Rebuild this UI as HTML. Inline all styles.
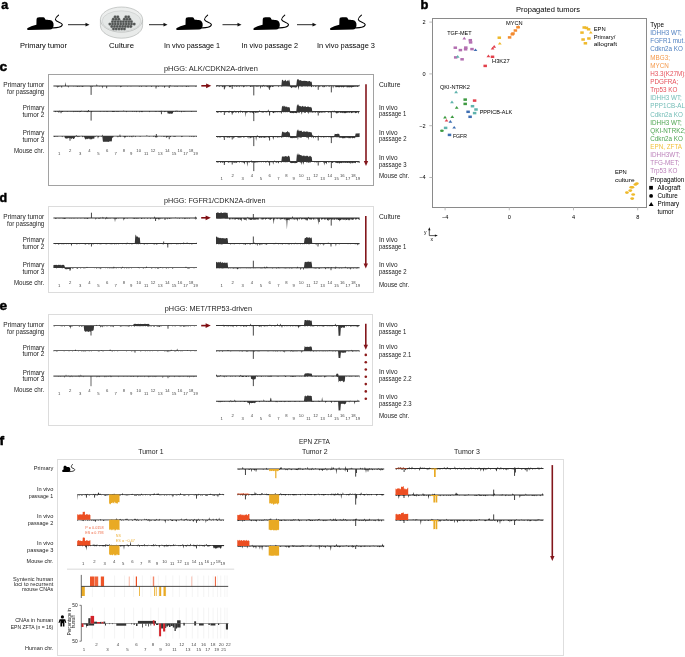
<!DOCTYPE html>
<html><head><meta charset="utf-8"><style>
html,body{margin:0;padding:0;background:#fff;width:685px;height:657px;overflow:hidden}
svg{display:block;will-change:transform}
text{font-family:"Liberation Sans",sans-serif}
</style></head><body>
<svg width="685" height="657" viewBox="0 0 685 657" font-family="Liberation Sans, sans-serif">
<rect width="685" height="657" fill="#fff"/>
<text x="1.20" y="8.90" font-size="12.0" fill="#000" textLength="7.00" lengthAdjust="spacingAndGlyphs" font-weight="bold" stroke="#000" stroke-width="0.45">a</text>
<g transform="translate(26.7,15) scale(1.0)"><path d="M0.4,14.2 C0.2,12.8 5,11 9.7,9.8 L9.8,5 C9.8,2.9 10.6,2.2 12.6,2.2 L16.5,2.3 C18.0,2.4 18.2,3.4 18.6,4.6 C19.5,5.0 21.5,5.0 23.0,5.1 C25.8,5.4 27.1,7.6 26.9,10.2 C26.7,12.8 25.4,14.5 23.2,14.6 L1.8,14.9 C0.9,14.9 0.5,14.7 0.4,14.2Z" fill="#000"/><path d="M25,12.8 C30,13 35.6,12.4 35.6,9.6 C35.6,7.2 29.2,7.2 28.7,4.6 C28.5,2.6 30.5,1.2 31.8,0.2" fill="none" stroke="#000" stroke-width="1.1" stroke-linecap="round"/></g>
<g transform="translate(175.8,15) scale(1.0)"><path d="M0.4,14.2 C0.2,12.8 5,11 9.7,9.8 L9.8,5 C9.8,2.9 10.6,2.2 12.6,2.2 L16.5,2.3 C18.0,2.4 18.2,3.4 18.6,4.6 C19.5,5.0 21.5,5.0 23.0,5.1 C25.8,5.4 27.1,7.6 26.9,10.2 C26.7,12.8 25.4,14.5 23.2,14.6 L1.8,14.9 C0.9,14.9 0.5,14.7 0.4,14.2Z" fill="#000"/><path d="M25,12.8 C30,13 35.6,12.4 35.6,9.6 C35.6,7.2 29.2,7.2 28.7,4.6 C28.5,2.6 30.5,1.2 31.8,0.2" fill="none" stroke="#000" stroke-width="1.1" stroke-linecap="round"/></g>
<g transform="translate(252.9,15) scale(1.0)"><path d="M0.4,14.2 C0.2,12.8 5,11 9.7,9.8 L9.8,5 C9.8,2.9 10.6,2.2 12.6,2.2 L16.5,2.3 C18.0,2.4 18.2,3.4 18.6,4.6 C19.5,5.0 21.5,5.0 23.0,5.1 C25.8,5.4 27.1,7.6 26.9,10.2 C26.7,12.8 25.4,14.5 23.2,14.6 L1.8,14.9 C0.9,14.9 0.5,14.7 0.4,14.2Z" fill="#000"/><path d="M25,12.8 C30,13 35.6,12.4 35.6,9.6 C35.6,7.2 29.2,7.2 28.7,4.6 C28.5,2.6 30.5,1.2 31.8,0.2" fill="none" stroke="#000" stroke-width="1.1" stroke-linecap="round"/></g>
<g transform="translate(329.6,15) scale(1.0)"><path d="M0.4,14.2 C0.2,12.8 5,11 9.7,9.8 L9.8,5 C9.8,2.9 10.6,2.2 12.6,2.2 L16.5,2.3 C18.0,2.4 18.2,3.4 18.6,4.6 C19.5,5.0 21.5,5.0 23.0,5.1 C25.8,5.4 27.1,7.6 26.9,10.2 C26.7,12.8 25.4,14.5 23.2,14.6 L1.8,14.9 C0.9,14.9 0.5,14.7 0.4,14.2Z" fill="#000"/><path d="M25,12.8 C30,13 35.6,12.4 35.6,9.6 C35.6,7.2 29.2,7.2 28.7,4.6 C28.5,2.6 30.5,1.2 31.8,0.2" fill="none" stroke="#000" stroke-width="1.1" stroke-linecap="round"/></g>
<line x1="68" y1="24.7" x2="86.5" y2="24.7" stroke="#111" stroke-width="0.9"/>
<polygon points="89.5,24.7 85.5,22.8 85.5,26.599999999999998" fill="#111"/>
<line x1="149" y1="24.7" x2="164.5" y2="24.7" stroke="#111" stroke-width="0.9"/>
<polygon points="167.5,24.7 163.5,22.8 163.5,26.599999999999998" fill="#111"/>
<line x1="222.5" y1="24.7" x2="238.5" y2="24.7" stroke="#111" stroke-width="0.9"/>
<polygon points="241.5,24.7 237.5,22.8 237.5,26.599999999999998" fill="#111"/>
<line x1="297" y1="24.7" x2="313.5" y2="24.7" stroke="#111" stroke-width="0.9"/>
<polygon points="316.5,24.7 312.5,22.8 312.5,26.599999999999998" fill="#111"/>
<g>
<path d="M100.4,19.6 L100.4,25.6 A21.1,12.6 0 0 0 142.6,25.6 L142.6,19.6" fill="#e9ebea" stroke="#a9adab" stroke-width="0.6"/>
<ellipse cx="121.5" cy="19.6" rx="21.1" ry="12.6" fill="#eceeed" stroke="#a9adab" stroke-width="0.6"/>
<ellipse cx="121.5" cy="21" rx="19.4" ry="10.2" fill="#e4e7e6" stroke="#b8bcba" stroke-width="0.4"/>
<circle cx="115.1" cy="16.9" r="1.45" fill="#4f5251" stroke="#9a9d9c" stroke-width="0.3"/>
<circle cx="117.8" cy="16.9" r="1.45" fill="#4f5251" stroke="#9a9d9c" stroke-width="0.3"/>
<circle cx="125.9" cy="16.9" r="1.45" fill="#4f5251" stroke="#9a9d9c" stroke-width="0.3"/>
<circle cx="128.6" cy="16.9" r="1.45" fill="#4f5251" stroke="#9a9d9c" stroke-width="0.3"/>
<circle cx="113.3" cy="19.3" r="1.45" fill="#4f5251" stroke="#9a9d9c" stroke-width="0.3"/>
<circle cx="116.0" cy="19.3" r="1.45" fill="#4f5251" stroke="#9a9d9c" stroke-width="0.3"/>
<circle cx="118.8" cy="19.3" r="1.45" fill="#4f5251" stroke="#9a9d9c" stroke-width="0.3"/>
<circle cx="124.3" cy="19.3" r="1.45" fill="#4f5251" stroke="#9a9d9c" stroke-width="0.3"/>
<circle cx="127.0" cy="19.3" r="1.45" fill="#4f5251" stroke="#9a9d9c" stroke-width="0.3"/>
<circle cx="129.8" cy="19.3" r="1.45" fill="#4f5251" stroke="#9a9d9c" stroke-width="0.3"/>
<circle cx="112.5" cy="21.7" r="1.45" fill="#4f5251" stroke="#9a9d9c" stroke-width="0.3"/>
<circle cx="115.2" cy="21.7" r="1.45" fill="#4f5251" stroke="#9a9d9c" stroke-width="0.3"/>
<circle cx="118.0" cy="21.7" r="1.45" fill="#4f5251" stroke="#9a9d9c" stroke-width="0.3"/>
<circle cx="120.7" cy="21.7" r="1.45" fill="#4f5251" stroke="#9a9d9c" stroke-width="0.3"/>
<circle cx="123.4" cy="21.7" r="1.45" fill="#4f5251" stroke="#9a9d9c" stroke-width="0.3"/>
<circle cx="126.1" cy="21.7" r="1.45" fill="#4f5251" stroke="#9a9d9c" stroke-width="0.3"/>
<circle cx="128.8" cy="21.7" r="1.45" fill="#4f5251" stroke="#9a9d9c" stroke-width="0.3"/>
<circle cx="131.4" cy="21.7" r="1.45" fill="#4f5251" stroke="#9a9d9c" stroke-width="0.3"/>
<circle cx="109.9" cy="24.1" r="1.45" fill="#4f5251" stroke="#9a9d9c" stroke-width="0.3"/>
<circle cx="112.6" cy="24.1" r="1.45" fill="#4f5251" stroke="#9a9d9c" stroke-width="0.3"/>
<circle cx="115.3" cy="24.1" r="1.45" fill="#4f5251" stroke="#9a9d9c" stroke-width="0.3"/>
<circle cx="118.0" cy="24.1" r="1.45" fill="#4f5251" stroke="#9a9d9c" stroke-width="0.3"/>
<circle cx="120.8" cy="24.1" r="1.45" fill="#4f5251" stroke="#9a9d9c" stroke-width="0.3"/>
<circle cx="123.5" cy="24.1" r="1.45" fill="#4f5251" stroke="#9a9d9c" stroke-width="0.3"/>
<circle cx="126.2" cy="24.1" r="1.45" fill="#4f5251" stroke="#9a9d9c" stroke-width="0.3"/>
<circle cx="128.8" cy="24.1" r="1.45" fill="#4f5251" stroke="#9a9d9c" stroke-width="0.3"/>
<circle cx="131.5" cy="24.1" r="1.45" fill="#4f5251" stroke="#9a9d9c" stroke-width="0.3"/>
<circle cx="134.2" cy="24.1" r="1.45" fill="#4f5251" stroke="#9a9d9c" stroke-width="0.3"/>
<circle cx="111.8" cy="26.5" r="1.45" fill="#4f5251" stroke="#9a9d9c" stroke-width="0.3"/>
<circle cx="114.5" cy="26.5" r="1.45" fill="#4f5251" stroke="#9a9d9c" stroke-width="0.3"/>
<circle cx="117.2" cy="26.5" r="1.45" fill="#4f5251" stroke="#9a9d9c" stroke-width="0.3"/>
<circle cx="120.0" cy="26.5" r="1.45" fill="#4f5251" stroke="#9a9d9c" stroke-width="0.3"/>
<circle cx="122.7" cy="26.5" r="1.45" fill="#4f5251" stroke="#9a9d9c" stroke-width="0.3"/>
<circle cx="125.4" cy="26.5" r="1.45" fill="#4f5251" stroke="#9a9d9c" stroke-width="0.3"/>
<circle cx="128.1" cy="26.5" r="1.45" fill="#4f5251" stroke="#9a9d9c" stroke-width="0.3"/>
<circle cx="130.8" cy="26.5" r="1.45" fill="#4f5251" stroke="#9a9d9c" stroke-width="0.3"/>
<circle cx="113.5" cy="28.9" r="1.45" fill="#4f5251" stroke="#9a9d9c" stroke-width="0.3"/>
<circle cx="116.2" cy="28.9" r="1.45" fill="#4f5251" stroke="#9a9d9c" stroke-width="0.3"/>
<circle cx="119.0" cy="28.9" r="1.45" fill="#4f5251" stroke="#9a9d9c" stroke-width="0.3"/>
<circle cx="121.7" cy="28.9" r="1.45" fill="#4f5251" stroke="#9a9d9c" stroke-width="0.3"/>
<circle cx="124.4" cy="28.9" r="1.45" fill="#4f5251" stroke="#9a9d9c" stroke-width="0.3"/>
</g>
<text x="20.00" y="48.20" font-size="7.2" textLength="47.00" lengthAdjust="spacingAndGlyphs" >Primary tumor</text>
<text x="109.00" y="48.20" font-size="7.2" textLength="25.00" lengthAdjust="spacingAndGlyphs" >Culture</text>
<text x="164.00" y="48.20" font-size="7.2" textLength="56.00" lengthAdjust="spacingAndGlyphs" >In vivo passage 1</text>
<text x="241.50" y="48.20" font-size="7.2" textLength="56.50" lengthAdjust="spacingAndGlyphs" >In vivo passage 2</text>
<text x="317.00" y="48.20" font-size="7.2" textLength="58.00" lengthAdjust="spacingAndGlyphs" >In vivo passage 3</text>
<text x="420.40" y="8.90" font-size="12.0" fill="#000" textLength="7.90" lengthAdjust="spacingAndGlyphs" font-weight="bold" stroke="#000" stroke-width="0.45">b</text>
<text x="516.00" y="11.60" font-size="7.4" textLength="64.00" lengthAdjust="spacingAndGlyphs" >Propagated tumors</text>
<rect x="432.5" y="18.5" width="214" height="189" fill="none" stroke="#8a8a8a" stroke-width="1"/>
<line x1="429.3" y1="22.1" x2="432.5" y2="22.1" stroke="#aaa" stroke-width="0.8"/>
<text x="425.60" y="24.09" font-size="5.6" text-anchor="end" >2</text>
<line x1="429.3" y1="73.9" x2="432.5" y2="73.9" stroke="#aaa" stroke-width="0.8"/>
<text x="425.60" y="75.88" font-size="5.6" text-anchor="end" >0</text>
<line x1="429.3" y1="125.7" x2="432.5" y2="125.7" stroke="#aaa" stroke-width="0.8"/>
<text x="425.60" y="127.67" font-size="5.6" text-anchor="end" >−2</text>
<line x1="429.3" y1="177.5" x2="432.5" y2="177.5" stroke="#aaa" stroke-width="0.8"/>
<text x="425.60" y="179.46" font-size="5.6" text-anchor="end" >−4</text>
<line x1="445.1" y1="207.2" x2="445.1" y2="210.3" stroke="#aaa" stroke-width="0.8"/>
<text x="445.10" y="219.00" font-size="5.6" text-anchor="middle" >−4</text>
<line x1="509.3" y1="207.2" x2="509.3" y2="210.3" stroke="#aaa" stroke-width="0.8"/>
<text x="509.30" y="219.00" font-size="5.6" text-anchor="middle" >0</text>
<line x1="573.5" y1="207.2" x2="573.5" y2="210.3" stroke="#aaa" stroke-width="0.8"/>
<text x="573.50" y="219.00" font-size="5.6" text-anchor="middle" >4</text>
<line x1="637.7" y1="207.2" x2="637.7" y2="210.3" stroke="#aaa" stroke-width="0.8"/>
<text x="637.70" y="219.00" font-size="5.6" text-anchor="middle" >8</text>
<path d="M429.3,235.6 L429.3,229.5 M429.3,235.6 L435.5,235.6" stroke="#111" stroke-width="0.7" fill="none"/>
<polygon points="429.3,227.3 428.1,230.2 430.5,230.2" fill="#111"/>
<polygon points="437.8,235.6 434.9,234.4 434.9,236.8" fill="#111"/>
<text x="424.00" y="234.20" font-size="5.0" >y</text>
<text x="430.60" y="240.50" font-size="5.0" >x</text>
<polygon points="464.30,36.70 462.40,39.40 466.20,39.40" fill="#b36fb1"/>
<rect x="468.55" y="38.95" width="3.5" height="2.5" fill="#b36fb1"/>
<rect x="468.85" y="41.15" width="3.5" height="2.5" fill="#b36fb1"/>
<rect x="453.55" y="46.45" width="3.5" height="2.5" fill="#b36fb1"/>
<rect x="458.65" y="48.85" width="3.5" height="2.5" fill="#b36fb1"/>
<rect x="464.05" y="46.35" width="3.5" height="2.5" fill="#b36fb1"/>
<rect x="463.85" y="48.05" width="3.5" height="2.5" fill="#b36fb1"/>
<rect x="470.25" y="47.85" width="3.5" height="2.5" fill="#b36fb1"/>
<polygon points="475.50,48.40 473.60,51.10 477.40,51.10" fill="#3f6fb2"/>
<rect x="453.95" y="56.15" width="3.5" height="2.5" fill="#b36fb1"/>
<polygon points="457.70,55.10 455.80,57.80 459.60,57.80" fill="#5fb3ad"/>
<rect x="460.35" y="58.05" width="3.5" height="2.5" fill="#b36fb1"/>
<polygon points="494.20,45.00 492.30,47.70 496.10,47.70" fill="#e2404b"/>
<polygon points="492.60,46.80 490.70,49.50 494.50,49.50" fill="#e2404b"/>
<polygon points="488.40,54.50 486.50,57.20 490.30,57.20" fill="#e2404b"/>
<rect x="490.75" y="55.55" width="3.5" height="2.5" fill="#e2404b"/>
<rect x="483.45" y="64.65" width="3.5" height="2.5" fill="#e2404b"/>
<rect x="497.55" y="36.45" width="3.5" height="2.5" fill="#eeb92c"/>
<polygon points="499.80,41.90 497.90,44.60 501.70,44.60" fill="#eeb92c"/>
<rect x="507.85" y="36.15" width="3.5" height="2.5" fill="#f28a30"/>
<rect x="510.55" y="33.05" width="3.5" height="2.5" fill="#f28a30"/>
<rect x="511.25" y="32.25" width="3.5" height="2.5" fill="#f28a30"/>
<rect x="513.65" y="29.25" width="3.5" height="2.5" fill="#f28a30"/>
<rect x="516.25" y="26.05" width="3.5" height="2.5" fill="#f28a30"/>
<polygon points="518.30,25.30 516.40,28.00 520.20,28.00" fill="#f28a30"/>
<polygon points="456.10,90.50 454.20,93.20 458.00,93.20" fill="#5fb3ad"/>
<polygon points="452.00,100.50 450.10,103.20 453.90,103.20" fill="#5fb3ad"/>
<rect x="463.45" y="98.35" width="3.5" height="2.5" fill="#3e9b42"/>
<rect x="463.45" y="102.65" width="3.5" height="2.5" fill="#3e9b42"/>
<rect x="472.85" y="99.35" width="3.5" height="2.5" fill="#e2404b"/>
<polygon points="456.70,106.10 454.80,108.80 458.60,108.80" fill="#3e9b42"/>
<rect x="470.75" y="104.95" width="3.5" height="2.5" fill="#5fb3ad"/>
<rect x="474.25" y="108.25" width="3.5" height="2.5" fill="#5fb3ad"/>
<rect x="466.35" y="110.55" width="3.5" height="2.5" fill="#3f6fb2"/>
<rect x="472.85" y="111.85" width="3.5" height="2.5" fill="#5fb3ad"/>
<rect x="468.35" y="115.55" width="3.5" height="2.5" fill="#3f6fb2"/>
<polygon points="445.00,115.80 443.10,118.50 446.90,118.50" fill="#3e9b42"/>
<polygon points="452.30,115.30 450.40,118.00 454.20,118.00" fill="#3e9b42"/>
<polygon points="446.50,118.90 444.60,121.60 448.40,121.60" fill="#e2404b"/>
<polygon points="450.40,120.10 448.50,122.80 452.30,122.80" fill="#3f6fb2"/>
<rect x="443.85" y="126.65" width="3.5" height="2.5" fill="#5fb3ad"/>
<polygon points="454.20,125.90 452.30,128.60 456.10,128.60" fill="#3f6fb2"/>
<ellipse cx="441.90" cy="130.80" rx="1.9" ry="1.3" fill="#3e9b42"/>
<rect x="447.75" y="133.65" width="3.5" height="2.5" fill="#3f6fb2"/>
<rect x="582.45" y="26.25" width="3.5" height="2.5" fill="#eeb92c"/>
<rect x="584.65" y="26.65" width="3.5" height="2.5" fill="#eeb92c"/>
<rect x="586.85" y="28.05" width="3.5" height="2.5" fill="#eeb92c"/>
<polygon points="590.80,30.90 588.90,33.60 592.70,33.60" fill="#eeb92c"/>
<rect x="580.25" y="31.35" width="3.5" height="2.5" fill="#eeb92c"/>
<rect x="581.35" y="38.25" width="3.5" height="2.5" fill="#eeb92c"/>
<rect x="587.15" y="37.25" width="3.5" height="2.5" fill="#eeb92c"/>
<rect x="583.65" y="42.05" width="3.5" height="2.5" fill="#eeb92c"/>
<ellipse cx="636.80" cy="183.60" rx="1.9" ry="1.3" fill="#eeb92c"/>
<ellipse cx="635.40" cy="184.50" rx="1.9" ry="1.3" fill="#eeb92c"/>
<ellipse cx="632.40" cy="187.20" rx="1.9" ry="1.3" fill="#eeb92c"/>
<ellipse cx="631.20" cy="187.30" rx="1.9" ry="1.3" fill="#eeb92c"/>
<ellipse cx="630.30" cy="190.60" rx="1.9" ry="1.3" fill="#eeb92c"/>
<ellipse cx="626.90" cy="192.60" rx="1.9" ry="1.3" fill="#eeb92c"/>
<ellipse cx="633.20" cy="194.50" rx="1.9" ry="1.3" fill="#eeb92c"/>
<ellipse cx="632.20" cy="198.60" rx="1.9" ry="1.3" fill="#eeb92c"/>
<text x="447.20" y="34.60" font-size="5.6" textLength="24.40" lengthAdjust="spacingAndGlyphs" >TGF-MET</text>
<text x="505.90" y="24.80" font-size="5.6" textLength="16.80" lengthAdjust="spacingAndGlyphs" >MYCN</text>
<text x="492.00" y="63.00" font-size="5.6" textLength="17.60" lengthAdjust="spacingAndGlyphs" >H3K27</text>
<text x="440.00" y="89.40" font-size="5.6" textLength="30.00" lengthAdjust="spacingAndGlyphs" >QKI-NTRK2</text>
<text x="479.70" y="114.10" font-size="5.6" textLength="32.50" lengthAdjust="spacingAndGlyphs" >PPPICB-ALK</text>
<text x="452.90" y="137.90" font-size="5.6" textLength="14.00" lengthAdjust="spacingAndGlyphs" >FGFR</text>
<text x="593.70" y="31.30" font-size="5.8" >EPN</text>
<text x="593.70" y="39.00" font-size="5.8" >Primary/</text>
<text x="593.70" y="46.40" font-size="5.8" textLength="23.30" lengthAdjust="spacingAndGlyphs" >allograft</text>
<text x="614.90" y="173.90" font-size="5.8" >EPN</text>
<text x="614.90" y="181.60" font-size="5.8" textLength="19.70" lengthAdjust="spacingAndGlyphs" >culture</text>
<text x="650.30" y="27.10" font-size="6.3" >Type</text>
<text x="650.30" y="35.23" font-size="6.3" fill="#5080c0" >IDHH3 WT;</text>
<text x="650.30" y="43.36" font-size="6.3" fill="#5080c0" >FGFR1 mut.;</text>
<text x="650.30" y="51.49" font-size="6.3" fill="#5080c0" >Cdkn2a KO</text>
<text x="650.30" y="59.62" font-size="6.3" fill="#f49a4c" >MBG3;</text>
<text x="650.30" y="67.75" font-size="6.3" fill="#f49a4c" >MYCN</text>
<text x="650.30" y="75.88" font-size="6.3" fill="#e6505a" >H3.3(K27M);</text>
<text x="650.30" y="84.01" font-size="6.3" fill="#e6505a" >PDGFRA;</text>
<text x="650.30" y="92.14" font-size="6.3" fill="#e6505a" >Trp53 KO</text>
<text x="650.30" y="100.27" font-size="6.3" fill="#72bcb6" >IDHH3 WT;</text>
<text x="650.30" y="108.40" font-size="6.3" fill="#72bcb6" >PPP1CB-ALK;</text>
<text x="650.30" y="116.53" font-size="6.3" fill="#72bcb6" >Cdkn2a KO</text>
<text x="650.30" y="124.66" font-size="6.3" fill="#4ea552" >IDHH3 WT;</text>
<text x="650.30" y="132.79" font-size="6.3" fill="#4ea552" >QKI-NTRK2;</text>
<text x="650.30" y="140.92" font-size="6.3" fill="#4ea552" >Cdkn2a KO</text>
<text x="650.30" y="149.05" font-size="6.3" fill="#f2c240" >EPN, ZFTA</text>
<text x="650.30" y="157.18" font-size="6.3" fill="#bb80b9" >IDHH3WT;</text>
<text x="650.30" y="165.31" font-size="6.3" fill="#bb80b9" >TFG-MET;</text>
<text x="650.30" y="173.44" font-size="6.3" fill="#bb80b9" >Trp53 KO</text>
<text x="650.30" y="181.57" font-size="6.3" >Propagation</text>
<rect x="649.2" y="185.9" width="3.7" height="3.7" fill="#000"/>
<text x="657.50" y="189.70" font-size="6.3" >Allograft</text>
<circle cx="651.1" cy="195.9" r="1.9" fill="#000"/>
<text x="657.50" y="197.83" font-size="6.3" >Culture</text>
<polygon points="651.2,201.9 648.8,205.9 653.6,205.9" fill="#000"/>
<text x="657.50" y="205.96" font-size="6.3" >Primary</text>
<text x="657.50" y="214.09" font-size="6.3" >tumor</text>
<text x="-0.50" y="70.70" font-size="12.0" fill="#000" textLength="7.60" lengthAdjust="spacingAndGlyphs" font-weight="bold" stroke="#000" stroke-width="0.45">c</text>
<text x="-0.50" y="201.80" font-size="12.0" fill="#000" textLength="7.60" lengthAdjust="spacingAndGlyphs" font-weight="bold" stroke="#000" stroke-width="0.45">d</text>
<text x="-0.50" y="310.30" font-size="12.0" fill="#000" textLength="7.60" lengthAdjust="spacingAndGlyphs" font-weight="bold" stroke="#000" stroke-width="0.45">e</text>
<text x="163.90" y="71.40" font-size="6.6" fill="#1c1c1c" textLength="94.00" lengthAdjust="spacingAndGlyphs" >pHGG: ALK/CDKN2A-driven</text>
<rect x="48.5" y="74.5" width="325" height="111" fill="none" stroke="#a2a2a2" stroke-width="1"/>
<text x="44.30" y="87.30" font-size="6.3" text-anchor="end" fill="#1c1c1c" textLength="41.00" lengthAdjust="spacingAndGlyphs" >Primary tumor</text>
<text x="44.30" y="93.80" font-size="6.3" text-anchor="end" fill="#1c1c1c" textLength="37.20" lengthAdjust="spacingAndGlyphs" >for passaging</text>
<text x="44.30" y="109.60" font-size="6.3" text-anchor="end" fill="#1c1c1c" textLength="21.50" lengthAdjust="spacingAndGlyphs" >Primary</text>
<text x="44.30" y="116.60" font-size="6.3" text-anchor="end" fill="#1c1c1c" textLength="21.90" lengthAdjust="spacingAndGlyphs" >tumor 2</text>
<text x="44.30" y="134.80" font-size="6.3" text-anchor="end" fill="#1c1c1c" textLength="21.50" lengthAdjust="spacingAndGlyphs" >Primary</text>
<text x="44.30" y="141.50" font-size="6.3" text-anchor="end" fill="#1c1c1c" textLength="21.90" lengthAdjust="spacingAndGlyphs" >tumor 3</text>
<text x="44.30" y="152.80" font-size="6.3" text-anchor="end" fill="#1c1c1c" textLength="30.40" lengthAdjust="spacingAndGlyphs" >Mouse chr.</text>
<text x="378.90" y="87.30" font-size="6.3" fill="#1c1c1c" textLength="21.60" lengthAdjust="spacingAndGlyphs" >Culture</text>
<text x="378.90" y="110.00" font-size="6.3" fill="#1c1c1c" textLength="18.80" lengthAdjust="spacingAndGlyphs" >In vivo</text>
<text x="378.90" y="116.40" font-size="6.3" fill="#1c1c1c" textLength="27.50" lengthAdjust="spacingAndGlyphs" >passage 1</text>
<text x="378.90" y="134.60" font-size="6.3" fill="#1c1c1c" textLength="18.80" lengthAdjust="spacingAndGlyphs" >In vivo</text>
<text x="378.90" y="141.00" font-size="6.3" fill="#1c1c1c" textLength="27.60" lengthAdjust="spacingAndGlyphs" >passage 2</text>
<text x="378.90" y="160.20" font-size="6.3" fill="#1c1c1c" textLength="18.80" lengthAdjust="spacingAndGlyphs" >In vivo</text>
<text x="378.90" y="166.60" font-size="6.3" fill="#1c1c1c" textLength="27.60" lengthAdjust="spacingAndGlyphs" >passage 3</text>
<text x="378.90" y="178.00" font-size="6.3" fill="#1c1c1c" textLength="30.40" lengthAdjust="spacingAndGlyphs" >Mouse chr.</text>
<path d="M53.4,85.5 L53.9,85.5 L54.5,85.5 L55.0,85.5 L55.6,85.5 L56.1,85.5 L56.7,85.5 L57.2,85.5 L57.8,85.5 L58.4,85.5 L58.9,85.5 L59.5,85.5 L60.0,85.5 L60.5,85.5 L61.1,85.5 L61.6,85.5 L62.2,85.5 L62.8,85.5 L63.3,85.5 L63.9,85.5 L64.4,85.5 L65.0,85.5 L65.5,81.9 L66.0,85.5 L66.6,85.5 L67.2,85.5 L67.7,85.5 L68.2,85.5 L68.8,85.5 L69.3,85.5 L69.9,85.5 L70.5,85.5 L71.0,85.5 L71.5,85.5 L72.1,85.5 L72.7,85.5 L73.2,85.5 L73.8,85.5 L74.3,85.5 L74.8,85.5 L75.4,85.5 L76.0,85.5 L76.5,85.5 L77.0,85.5 L77.6,85.5 L78.2,85.5 L78.7,85.5 L79.2,85.5 L79.8,85.5 L80.3,85.5 L80.9,85.5 L81.5,85.5 L82.0,85.5 L82.5,85.5 L83.1,85.5 L83.7,85.5 L84.2,85.5 L84.8,85.5 L85.3,85.5 L85.8,85.5 L86.4,85.5 L87.0,85.5 L87.5,85.5 L88.1,85.5 L88.6,85.5 L89.2,85.5 L89.7,85.5 L90.2,85.5 L90.8,85.5 L91.3,85.5 L91.9,85.5 L92.5,85.5 L93.0,85.5 L93.6,85.5 L94.1,85.4 L94.7,85.5 L95.2,85.5 L95.8,85.5 L96.3,85.5 L96.8,84.1 L97.4,85.5 L98.0,85.5 L98.5,85.5 L99.1,85.5 L99.6,85.5 L100.2,85.5 L100.7,85.5 L101.2,85.5 L101.8,85.5 L102.3,85.5 L102.9,85.5 L103.5,85.5 L104.0,85.5 L104.6,85.5 L105.1,85.5 L105.7,85.5 L106.2,85.5 L106.8,85.5 L107.3,85.5 L107.8,85.5 L108.4,85.5 L109.0,85.5 L109.5,85.5 L110.1,85.5 L110.6,85.5 L111.2,85.5 L111.7,85.5 L112.2,85.5 L112.8,85.5 L113.3,85.5 L113.9,85.5 L114.5,85.5 L115.0,85.5 L115.6,85.5 L116.1,85.5 L116.7,85.5 L117.2,85.5 L117.8,85.5 L118.3,85.5 L118.8,85.5 L119.4,85.5 L120.0,85.5 L120.5,85.5 L121.1,85.5 L121.6,85.5 L122.2,85.5 L122.7,85.5 L123.2,85.5 L123.8,85.5 L124.3,85.5 L124.9,85.5 L125.5,85.5 L126.0,85.5 L126.6,85.5 L127.1,85.5 L127.7,85.5 L128.2,85.5 L128.8,85.5 L129.3,85.5 L129.8,85.5 L130.4,85.5 L131.0,85.5 L131.5,85.5 L132.1,85.5 L132.6,85.5 L133.2,85.4 L133.7,85.5 L134.2,85.4 L134.8,85.5 L135.3,85.5 L135.9,85.5 L136.5,85.5 L137.0,85.5 L137.6,85.5 L138.1,85.5 L138.7,85.5 L139.2,85.5 L139.8,85.5 L140.3,85.5 L140.8,85.5 L141.4,85.5 L142.0,85.5 L142.5,85.5 L143.1,85.5 L143.6,85.5 L144.2,85.5 L144.7,85.5 L145.2,85.5 L145.8,85.5 L146.3,85.5 L146.9,85.5 L147.5,85.5 L148.0,85.5 L148.6,85.5 L149.1,85.5 L149.7,85.5 L150.2,85.5 L150.8,85.5 L151.3,85.5 L151.8,85.5 L152.4,85.5 L153.0,85.5 L153.5,85.5 L154.1,85.5 L154.6,85.5 L155.2,85.5 L155.7,85.5 L156.2,85.5 L156.8,85.5 L157.3,85.5 L157.9,85.5 L158.5,85.5 L159.0,85.5 L159.6,85.5 L160.1,85.5 L160.7,85.5 L161.2,85.5 L161.8,85.5 L162.3,85.5 L162.8,85.5 L163.4,85.5 L164.0,85.5 L164.5,85.5 L165.1,85.5 L165.6,85.5 L166.2,85.5 L166.7,85.5 L167.2,85.5 L167.8,85.5 L168.3,85.5 L168.9,85.5 L169.5,85.5 L170.0,84.8 L170.6,85.5 L171.1,85.5 L171.7,85.5 L172.2,85.5 L172.8,85.5 L173.3,85.5 L173.8,85.5 L174.4,85.5 L175.0,85.5 L175.5,85.5 L176.1,85.5 L176.6,85.5 L177.2,85.5 L177.7,85.5 L178.2,85.5 L178.8,85.5 L179.4,85.5 L179.9,85.5 L180.5,85.5 L181.0,85.5 L181.6,85.5 L182.1,85.5 L182.7,85.5 L183.2,85.5 L183.8,85.5 L184.3,85.5 L184.9,85.5 L185.4,85.5 L186.0,85.5 L186.5,85.5 L187.1,85.5 L187.6,85.5 L188.2,85.5 L188.7,85.5 L189.3,85.5 L189.8,85.5 L190.4,85.5 L190.9,85.5 L191.5,85.5 L192.0,85.5 L192.6,85.5 L193.1,85.5 L193.7,85.5 L194.2,85.5 L194.8,85.5 L195.3,85.5 L195.9,85.5 L196.4,85.5 L197.0,85.5 L197.0,86.5 L196.4,86.5 L195.9,86.9 L195.3,86.5 L194.8,86.5 L194.2,86.5 L193.7,86.5 L193.1,86.5 L192.6,86.6 L192.0,86.5 L191.5,86.5 L190.9,86.5 L190.4,86.5 L189.8,86.6 L189.3,86.5 L188.7,86.9 L188.2,86.5 L187.6,86.5 L187.1,86.8 L186.5,87.1 L186.0,86.8 L185.4,86.5 L184.9,86.5 L184.3,86.5 L183.8,86.5 L183.2,86.5 L182.7,86.8 L182.1,86.5 L181.6,86.5 L181.0,86.8 L180.5,86.5 L179.9,86.5 L179.4,86.5 L178.8,86.5 L178.2,86.5 L177.7,87.0 L177.2,86.5 L176.6,86.8 L176.1,86.5 L175.5,86.5 L175.0,86.9 L174.4,86.5 L173.8,86.5 L173.3,86.5 L172.8,86.5 L172.2,86.5 L171.7,86.5 L171.1,86.5 L170.6,86.5 L170.0,86.5 L169.5,86.6 L168.9,86.5 L168.3,86.5 L167.8,86.5 L167.2,86.5 L166.7,86.5 L166.2,86.5 L165.6,86.6 L165.1,86.7 L164.5,88.2 L164.0,86.5 L163.4,86.5 L162.8,86.7 L162.3,86.5 L161.8,86.5 L161.2,86.5 L160.7,86.5 L160.1,86.5 L159.6,86.5 L159.0,86.5 L158.5,86.9 L157.9,86.5 L157.3,86.5 L156.8,86.9 L156.2,86.5 L155.7,86.5 L155.2,86.5 L154.6,86.5 L154.1,86.5 L153.5,86.5 L153.0,86.5 L152.4,86.5 L151.8,86.7 L151.3,87.0 L150.8,86.5 L150.2,86.5 L149.7,86.5 L149.1,86.5 L148.6,86.5 L148.0,86.5 L147.5,86.5 L146.9,86.7 L146.3,86.8 L145.8,86.8 L145.2,86.5 L144.7,86.5 L144.2,86.5 L143.6,86.5 L143.1,86.5 L142.5,86.5 L142.0,86.6 L141.4,86.9 L140.8,86.6 L140.3,86.5 L139.8,86.5 L139.2,86.9 L138.7,86.6 L138.1,86.5 L137.6,86.5 L137.0,86.5 L136.5,86.5 L135.9,86.5 L135.3,86.5 L134.8,86.5 L134.2,86.5 L133.7,86.5 L133.2,86.5 L132.6,86.5 L132.1,86.5 L131.5,86.5 L131.0,86.8 L130.4,86.5 L129.8,86.5 L129.3,86.5 L128.8,86.5 L128.2,86.5 L127.7,86.7 L127.1,86.5 L126.6,86.5 L126.0,86.5 L125.5,86.5 L124.9,86.5 L124.3,86.6 L123.8,86.5 L123.2,86.5 L122.7,86.5 L122.2,86.5 L121.6,86.9 L121.1,86.5 L120.5,87.6 L120.0,86.5 L119.4,86.5 L118.8,86.5 L118.3,86.5 L117.8,86.5 L117.2,86.5 L116.7,86.5 L116.1,86.8 L115.6,86.5 L115.0,86.5 L114.5,86.5 L113.9,86.5 L113.3,86.5 L112.8,86.5 L112.2,86.5 L111.7,86.5 L111.2,86.5 L110.6,86.5 L110.1,86.5 L109.5,86.5 L109.0,86.5 L108.4,86.5 L107.8,86.5 L107.3,86.5 L106.8,86.5 L106.2,86.8 L105.7,86.5 L105.1,86.5 L104.6,86.5 L104.0,86.8 L103.5,86.5 L102.9,86.5 L102.3,88.4 L101.8,86.5 L101.2,86.5 L100.7,86.5 L100.2,86.5 L99.6,86.7 L99.1,86.5 L98.5,86.6 L98.0,86.5 L97.4,86.5 L96.8,86.5 L96.3,86.5 L95.8,86.5 L95.2,86.6 L94.7,86.5 L94.1,86.5 L93.6,86.5 L93.0,86.5 L92.5,86.9 L91.9,86.6 L91.3,86.5 L90.8,86.5 L90.2,87.0 L89.7,86.5 L89.2,86.6 L88.6,86.5 L88.1,86.6 L87.5,86.5 L87.0,86.5 L86.4,86.5 L85.8,86.5 L85.3,86.5 L84.8,86.5 L84.2,86.5 L83.7,86.8 L83.1,86.5 L82.5,86.9 L82.0,87.0 L81.5,86.5 L80.9,86.7 L80.3,86.5 L79.8,86.5 L79.2,87.0 L78.7,86.7 L78.2,86.5 L77.6,86.9 L77.0,86.8 L76.5,86.5 L76.0,86.7 L75.4,86.5 L74.8,86.5 L74.3,86.6 L73.8,86.8 L73.2,86.5 L72.7,86.5 L72.1,86.5 L71.5,86.6 L71.0,86.5 L70.5,86.5 L69.9,86.5 L69.3,86.5 L68.8,86.5 L68.2,87.8 L67.7,86.5 L67.2,86.5 L66.6,86.5 L66.0,86.5 L65.5,86.5 L65.0,86.5 L64.4,86.5 L63.9,86.5 L63.3,86.5 L62.8,86.5 L62.2,86.5 L61.6,86.7 L61.1,86.6 L60.5,86.5 L60.0,86.5 L59.5,86.5 L58.9,87.0 L58.4,86.5 L57.8,88.0 L57.2,86.5 L56.7,86.8 L56.1,86.5 L55.6,86.5 L55.0,86.5 L54.5,86.5 L53.9,86.5 L53.4,86.5Z" fill="#353535"/>
<rect x="90.65" y="86.00" width="0.9" height="8.90" fill="#353535"/>
<rect x="61.25" y="86.00" width="0.9" height="1.50" fill="#353535"/>
<rect x="106.25" y="86.00" width="0.9" height="2.20" fill="#353535"/>
<rect x="155.55" y="86.00" width="0.9" height="2.50" fill="#353535"/>
<rect x="168.75" y="86.00" width="0.9" height="2.00" fill="#353535"/>
<path d="M53.4,110.8 L53.9,110.8 L54.5,110.8 L55.0,110.8 L55.6,110.8 L56.1,110.8 L56.7,110.8 L57.2,110.8 L57.8,110.8 L58.4,110.8 L58.9,110.8 L59.5,110.4 L60.0,110.8 L60.5,110.8 L61.1,110.8 L61.6,110.8 L62.2,110.8 L62.8,110.8 L63.3,110.8 L63.9,110.8 L64.4,110.8 L65.0,110.8 L65.5,110.8 L66.0,110.8 L66.6,110.8 L67.2,110.8 L67.7,110.8 L68.2,110.8 L68.8,110.8 L69.3,110.8 L69.9,110.8 L70.5,110.8 L71.0,110.8 L71.5,110.8 L72.1,110.8 L72.7,110.8 L73.2,110.8 L73.8,110.8 L74.3,110.8 L74.8,110.8 L75.4,110.8 L76.0,110.8 L76.5,110.8 L77.0,110.8 L77.6,110.8 L78.2,110.8 L78.7,110.8 L79.2,110.8 L79.8,110.8 L80.3,110.8 L80.9,110.8 L81.5,110.6 L82.0,110.8 L82.5,110.8 L83.1,110.8 L83.7,110.8 L84.2,110.8 L84.8,110.8 L85.3,110.8 L85.8,110.8 L86.4,110.8 L87.0,110.8 L87.5,110.8 L88.1,110.8 L88.6,110.8 L89.2,110.8 L89.7,110.8 L90.2,110.8 L90.8,110.8 L91.3,110.8 L91.9,110.8 L92.5,110.8 L93.0,110.8 L93.6,110.8 L94.1,110.8 L94.7,110.8 L95.2,110.8 L95.8,110.8 L96.3,110.8 L96.8,110.8 L97.4,110.8 L98.0,110.8 L98.5,110.8 L99.1,110.8 L99.6,110.8 L100.2,110.8 L100.7,110.8 L101.2,110.8 L101.8,110.8 L102.3,110.8 L102.9,110.8 L103.5,110.8 L104.0,110.8 L104.6,110.8 L105.1,110.8 L105.7,110.8 L106.2,110.8 L106.8,110.8 L107.3,110.8 L107.8,110.8 L108.4,110.8 L109.0,110.8 L109.5,110.8 L110.1,110.8 L110.6,110.8 L111.2,110.8 L111.7,110.8 L112.2,110.8 L112.8,110.8 L113.3,110.8 L113.9,110.8 L114.5,110.8 L115.0,110.8 L115.6,110.8 L116.1,110.8 L116.7,110.8 L117.2,110.8 L117.8,110.8 L118.3,110.8 L118.8,110.8 L119.4,110.8 L120.0,110.8 L120.5,110.8 L121.1,110.8 L121.6,110.8 L122.2,110.8 L122.7,110.8 L123.2,110.8 L123.8,110.3 L124.3,110.8 L124.9,110.8 L125.5,110.8 L126.0,110.8 L126.6,110.8 L127.1,110.8 L127.7,110.8 L128.2,110.8 L128.8,110.7 L129.3,110.8 L129.8,110.8 L130.4,110.8 L131.0,110.8 L131.5,110.8 L132.1,110.8 L132.6,110.8 L133.2,110.8 L133.7,110.8 L134.2,110.8 L134.8,110.8 L135.3,110.8 L135.9,110.8 L136.5,110.8 L137.0,110.8 L137.6,110.8 L138.1,110.8 L138.7,110.8 L139.2,110.8 L139.8,110.8 L140.3,110.8 L140.8,110.8 L141.4,110.8 L142.0,110.8 L142.5,110.8 L143.1,110.8 L143.6,110.8 L144.2,110.8 L144.7,110.8 L145.2,110.8 L145.8,110.8 L146.3,110.8 L146.9,110.8 L147.5,110.8 L148.0,110.8 L148.6,110.8 L149.1,110.8 L149.7,110.8 L150.2,110.8 L150.8,110.8 L151.3,110.8 L151.8,110.8 L152.4,110.8 L153.0,110.8 L153.5,110.8 L154.1,110.8 L154.6,110.8 L155.2,110.8 L155.7,110.8 L156.2,110.8 L156.8,110.8 L157.3,110.8 L157.9,110.8 L158.5,110.8 L159.0,110.8 L159.6,110.8 L160.1,110.8 L160.7,110.8 L161.2,110.6 L161.8,110.8 L162.3,110.8 L162.8,110.8 L163.4,110.8 L164.0,110.8 L164.5,110.8 L165.1,110.8 L165.6,110.8 L166.2,110.8 L166.7,110.8 L167.2,110.8 L167.8,110.8 L168.3,110.8 L168.9,110.8 L169.5,110.8 L170.0,110.8 L170.6,110.8 L171.1,110.8 L171.7,110.8 L172.2,110.8 L172.8,110.8 L173.3,110.8 L173.8,110.8 L174.4,110.8 L175.0,110.8 L175.5,110.8 L176.1,110.3 L176.6,110.8 L177.2,110.8 L177.7,110.5 L178.2,110.8 L178.8,110.8 L179.4,110.8 L179.9,110.8 L180.5,110.8 L181.0,110.8 L181.6,110.8 L182.1,110.8 L182.7,110.8 L183.2,110.8 L183.8,110.8 L184.3,110.8 L184.9,110.8 L185.4,110.8 L186.0,110.8 L186.5,110.8 L187.1,110.8 L187.6,110.8 L188.2,110.8 L188.7,110.8 L189.3,110.8 L189.8,110.8 L190.4,110.8 L190.9,110.8 L191.5,110.8 L192.0,110.8 L192.6,110.8 L193.1,110.8 L193.7,110.8 L194.2,110.8 L194.8,110.8 L195.3,110.8 L195.9,110.8 L196.4,110.8 L197.0,110.8 L197.0,111.7 L196.4,111.7 L195.9,111.7 L195.3,111.7 L194.8,111.8 L194.2,111.7 L193.7,111.7 L193.1,111.7 L192.6,111.7 L192.0,111.7 L191.5,112.0 L190.9,111.7 L190.4,111.7 L189.8,111.7 L189.3,111.7 L188.7,111.7 L188.2,111.7 L187.6,111.7 L187.1,111.7 L186.5,111.7 L186.0,111.7 L185.4,111.7 L184.9,111.9 L184.3,111.7 L183.8,112.0 L183.2,111.7 L182.7,111.7 L182.1,111.7 L181.6,112.4 L181.0,111.7 L180.5,111.7 L179.9,111.7 L179.4,111.9 L178.8,111.7 L178.2,111.7 L177.7,111.7 L177.2,112.0 L176.6,111.7 L176.1,111.7 L175.5,111.9 L175.0,111.7 L174.4,111.7 L173.8,112.0 L173.3,111.7 L172.8,113.2 L172.2,113.8 L171.7,113.8 L171.1,113.8 L170.6,113.6 L170.0,113.7 L169.5,113.7 L168.9,113.6 L168.3,113.4 L167.8,113.8 L167.2,111.7 L166.7,111.7 L166.2,111.7 L165.6,111.9 L165.1,111.7 L164.5,112.2 L164.0,111.7 L163.4,111.7 L162.8,111.7 L162.3,111.7 L161.8,112.1 L161.2,111.7 L160.7,111.7 L160.1,112.2 L159.6,111.7 L159.0,111.9 L158.5,111.7 L157.9,111.7 L157.3,111.7 L156.8,111.7 L156.2,112.1 L155.7,111.8 L155.2,111.9 L154.6,111.7 L154.1,111.7 L153.5,111.7 L153.0,111.7 L152.4,111.7 L151.8,111.7 L151.3,111.7 L150.8,111.7 L150.2,111.7 L149.7,112.2 L149.1,111.7 L148.6,111.7 L148.0,111.7 L147.5,111.7 L146.9,111.7 L146.3,111.7 L145.8,111.7 L145.2,111.7 L144.7,111.7 L144.2,111.7 L143.6,111.7 L143.1,111.7 L142.5,112.1 L142.0,112.2 L141.4,111.9 L140.8,111.7 L140.3,111.8 L139.8,112.6 L139.2,111.7 L138.7,111.8 L138.1,111.7 L137.6,111.7 L137.0,111.7 L136.5,112.2 L135.9,111.7 L135.3,111.7 L134.8,111.9 L134.2,111.7 L133.7,111.7 L133.2,111.7 L132.6,112.0 L132.1,111.7 L131.5,111.7 L131.0,111.7 L130.4,111.7 L129.8,111.7 L129.3,111.7 L128.8,111.7 L128.2,111.7 L127.7,111.7 L127.1,111.7 L126.6,112.2 L126.0,111.8 L125.5,111.7 L124.9,111.8 L124.3,111.7 L123.8,111.7 L123.2,111.7 L122.7,111.7 L122.2,111.7 L121.6,111.7 L121.1,111.7 L120.5,111.7 L120.0,111.7 L119.4,111.7 L118.8,112.0 L118.3,111.7 L117.8,112.0 L117.2,111.7 L116.7,112.0 L116.1,111.7 L115.6,111.7 L115.0,111.7 L114.5,112.0 L113.9,111.9 L113.3,111.9 L112.8,112.1 L112.2,112.0 L111.7,111.7 L111.2,111.7 L110.6,111.7 L110.1,111.7 L109.5,111.7 L109.0,111.8 L108.4,111.7 L107.8,112.0 L107.3,111.7 L106.8,112.0 L106.2,111.7 L105.7,111.7 L105.1,111.7 L104.6,111.7 L104.0,111.9 L103.5,111.7 L102.9,111.7 L102.3,111.7 L101.8,111.7 L101.2,111.7 L100.7,111.7 L100.2,112.1 L99.6,111.7 L99.1,111.7 L98.5,111.7 L98.0,111.7 L97.4,111.7 L96.8,111.7 L96.3,111.7 L95.8,111.7 L95.2,111.7 L94.7,111.7 L94.1,111.7 L93.6,111.7 L93.0,111.7 L92.5,111.7 L91.9,112.0 L91.3,112.2 L90.8,111.7 L90.2,111.7 L89.7,111.9 L89.2,111.7 L88.6,111.7 L88.1,112.3 L87.5,111.9 L87.0,112.3 L86.4,111.7 L85.8,112.0 L85.3,111.7 L84.8,111.7 L84.2,111.9 L83.7,111.7 L83.1,111.7 L82.5,111.7 L82.0,111.8 L81.5,111.7 L80.9,111.9 L80.3,112.1 L79.8,112.2 L79.2,111.7 L78.7,111.7 L78.2,112.0 L77.6,112.0 L77.0,111.7 L76.5,111.9 L76.0,111.7 L75.4,112.0 L74.8,111.7 L74.3,112.0 L73.8,111.7 L73.2,112.2 L72.7,111.7 L72.1,111.7 L71.5,111.7 L71.0,111.9 L70.5,111.7 L69.9,111.7 L69.3,111.7 L68.8,111.7 L68.2,111.7 L67.7,111.7 L67.2,112.1 L66.6,111.7 L66.0,111.7 L65.5,111.7 L65.0,111.7 L64.4,111.7 L63.9,111.8 L63.3,111.7 L62.8,112.1 L62.2,112.0 L61.6,112.3 L61.1,111.7 L60.5,111.8 L60.0,111.7 L59.5,111.7 L58.9,113.2 L58.4,111.7 L57.8,112.0 L57.2,111.7 L56.7,111.7 L56.1,111.7 L55.6,112.2 L55.0,111.8 L54.5,111.7 L53.9,111.7 L53.4,111.7Z" fill="#353535"/>
<rect x="90.65" y="111.20" width="0.9" height="9.40" fill="#353535"/>
<rect x="88.05" y="110.00" width="0.9" height="1.20" fill="#353535"/>
<rect x="160.95" y="111.20" width="0.9" height="3.00" fill="#353535"/>
<rect x="60.55" y="111.20" width="0.9" height="2.00" fill="#353535"/>
<path d="M53.4,135.8 L53.9,135.8 L54.5,135.8 L55.0,135.8 L55.6,135.8 L56.1,135.8 L56.7,135.8 L57.2,135.8 L57.8,135.8 L58.4,135.8 L58.9,135.8 L59.5,135.8 L60.0,135.8 L60.5,135.8 L61.1,135.8 L61.6,135.8 L62.2,135.8 L62.8,135.8 L63.3,135.8 L63.9,135.8 L64.4,135.8 L65.0,135.8 L65.5,135.8 L66.0,135.8 L66.6,135.8 L67.2,135.8 L67.7,135.8 L68.2,135.8 L68.8,135.8 L69.3,135.8 L69.9,135.8 L70.5,135.8 L71.0,135.8 L71.5,135.8 L72.1,135.8 L72.7,135.8 L73.2,135.8 L73.8,135.8 L74.3,135.8 L74.8,135.8 L75.4,135.8 L76.0,135.8 L76.5,135.8 L77.0,135.8 L77.6,135.8 L78.2,135.8 L78.7,135.8 L79.2,135.8 L79.8,135.8 L80.3,135.8 L80.9,135.8 L81.5,135.8 L82.0,135.5 L82.5,135.8 L83.1,135.8 L83.7,135.8 L84.2,135.8 L84.8,135.8 L85.3,135.8 L85.8,135.8 L86.4,135.8 L87.0,135.8 L87.5,135.8 L88.1,135.8 L88.6,135.8 L89.2,135.8 L89.7,135.8 L90.2,135.8 L90.8,135.8 L91.3,135.8 L91.9,135.8 L92.5,135.8 L93.0,135.8 L93.6,135.8 L94.1,135.8 L94.7,135.8 L95.2,135.8 L95.8,135.8 L96.3,135.8 L96.8,135.5 L97.4,135.8 L98.0,135.8 L98.5,135.8 L99.1,135.8 L99.6,135.8 L100.2,135.8 L100.7,135.8 L101.2,135.8 L101.8,135.8 L102.3,134.4 L102.9,135.8 L103.5,135.8 L104.0,135.8 L104.6,135.8 L105.1,135.8 L105.7,135.8 L106.2,135.8 L106.8,135.8 L107.3,135.8 L107.8,135.8 L108.4,135.8 L109.0,135.8 L109.5,135.8 L110.1,135.8 L110.6,135.8 L111.2,135.8 L111.7,135.8 L112.2,135.8 L112.8,135.8 L113.3,135.8 L113.9,135.8 L114.5,135.8 L115.0,135.8 L115.6,135.8 L116.1,135.8 L116.7,135.8 L117.2,135.8 L117.8,135.8 L118.3,135.8 L118.8,135.8 L119.4,135.8 L120.0,134.1 L120.5,135.8 L121.1,135.8 L121.6,135.8 L122.2,135.8 L122.7,135.8 L123.2,135.8 L123.8,135.8 L124.3,135.8 L124.9,135.8 L125.5,135.8 L126.0,135.8 L126.6,135.8 L127.1,135.8 L127.7,135.8 L128.2,135.8 L128.8,135.8 L129.3,135.8 L129.8,135.8 L130.4,135.8 L131.0,135.8 L131.5,135.8 L132.1,135.8 L132.6,135.8 L133.2,135.6 L133.7,135.8 L134.2,135.8 L134.8,135.8 L135.3,135.8 L135.9,135.8 L136.5,135.8 L137.0,135.8 L137.6,135.8 L138.1,135.8 L138.7,135.8 L139.2,135.8 L139.8,135.8 L140.3,135.8 L140.8,135.8 L141.4,135.8 L142.0,135.8 L142.5,135.8 L143.1,135.8 L143.6,135.8 L144.2,135.8 L144.7,135.8 L145.2,135.8 L145.8,135.8 L146.3,135.8 L146.9,135.1 L147.5,135.8 L148.0,135.8 L148.6,135.8 L149.1,135.8 L149.7,135.8 L150.2,135.8 L150.8,135.8 L151.3,135.8 L151.8,135.8 L152.4,135.8 L153.0,135.8 L153.5,135.8 L154.1,135.5 L154.6,135.8 L155.2,135.8 L155.7,135.8 L156.2,135.8 L156.8,135.8 L157.3,135.8 L157.9,135.8 L158.5,135.8 L159.0,135.8 L159.6,135.8 L160.1,135.8 L160.7,135.8 L161.2,135.8 L161.8,135.8 L162.3,135.8 L162.8,135.8 L163.4,135.8 L164.0,135.8 L164.5,135.8 L165.1,135.8 L165.6,135.8 L166.2,135.8 L166.7,135.8 L167.2,135.8 L167.8,135.8 L168.3,135.8 L168.9,135.8 L169.5,135.8 L170.0,135.8 L170.6,135.8 L171.1,135.8 L171.7,135.8 L172.2,135.8 L172.8,135.8 L173.3,135.8 L173.8,135.8 L174.4,135.8 L175.0,135.8 L175.5,135.8 L176.1,135.8 L176.6,135.8 L177.2,135.8 L177.7,135.8 L178.2,135.8 L178.8,135.8 L179.4,135.8 L179.9,135.8 L180.5,135.8 L181.0,135.8 L181.6,135.8 L182.1,135.8 L182.7,135.8 L183.2,135.8 L183.8,135.8 L184.3,135.8 L184.9,135.8 L185.4,135.8 L186.0,135.8 L186.5,135.8 L187.1,135.8 L187.6,135.8 L188.2,135.8 L188.7,135.8 L189.3,135.8 L189.8,135.8 L190.4,135.8 L190.9,135.8 L191.5,135.8 L192.0,135.8 L192.6,135.8 L193.1,135.8 L193.7,135.8 L194.2,135.8 L194.8,135.8 L195.3,135.8 L195.9,135.8 L196.4,135.8 L197.0,135.8 L197.0,136.6 L196.4,137.1 L195.9,136.6 L195.3,136.6 L194.8,136.6 L194.2,137.0 L193.7,136.6 L193.1,137.2 L192.6,136.6 L192.0,136.6 L191.5,136.9 L190.9,136.6 L190.4,136.6 L189.8,136.9 L189.3,136.6 L188.7,136.6 L188.2,136.6 L187.6,136.6 L187.1,136.6 L186.5,136.6 L186.0,136.6 L185.4,136.6 L184.9,136.6 L184.3,136.6 L183.8,136.6 L183.2,136.6 L182.7,137.0 L182.1,136.6 L181.6,137.2 L181.0,136.6 L180.5,136.6 L179.9,136.6 L179.4,136.6 L178.8,136.6 L178.2,136.6 L177.7,136.6 L177.2,136.6 L176.6,136.6 L176.1,136.6 L175.5,137.1 L175.0,136.6 L174.4,136.9 L173.8,136.8 L173.3,136.8 L172.8,136.6 L172.2,136.6 L171.7,136.6 L171.1,136.6 L170.6,137.3 L170.0,136.9 L169.5,136.6 L168.9,136.6 L168.3,137.1 L167.8,136.8 L167.2,137.2 L166.7,137.2 L166.2,138.1 L165.6,136.6 L165.1,136.6 L164.5,136.9 L164.0,136.6 L163.4,137.1 L162.8,136.6 L162.3,136.6 L161.8,136.6 L161.2,136.8 L160.7,136.6 L160.1,136.6 L159.6,136.6 L159.0,136.6 L158.5,136.6 L157.9,136.6 L157.3,136.9 L156.8,137.9 L156.2,136.8 L155.7,137.4 L155.2,137.2 L154.6,136.6 L154.1,136.6 L153.5,136.9 L153.0,136.6 L152.4,136.6 L151.8,136.6 L151.3,136.6 L150.8,136.6 L150.2,136.6 L149.7,136.6 L149.1,137.0 L148.6,136.6 L148.0,136.6 L147.5,136.6 L146.9,136.6 L146.3,136.6 L145.8,136.6 L145.2,136.6 L144.7,136.6 L144.2,136.6 L143.6,136.6 L143.1,136.6 L142.5,136.6 L142.0,136.6 L141.4,136.6 L140.8,136.6 L140.3,137.1 L139.8,136.6 L139.2,136.8 L138.7,136.6 L138.1,136.6 L137.6,136.6 L137.0,136.6 L136.5,136.6 L135.9,136.6 L135.3,137.2 L134.8,136.6 L134.2,136.6 L133.7,137.1 L133.2,136.6 L132.6,136.6 L132.1,137.6 L131.5,137.0 L131.0,136.6 L130.4,136.8 L129.8,136.6 L129.3,137.2 L128.8,136.6 L128.2,136.6 L127.7,137.1 L127.1,136.6 L126.6,136.6 L126.0,137.2 L125.5,136.8 L124.9,138.6 L124.3,137.0 L123.8,136.6 L123.2,137.0 L122.7,136.6 L122.2,136.6 L121.6,136.6 L121.1,136.6 L120.5,137.2 L120.0,136.6 L119.4,136.8 L118.8,137.2 L118.3,136.6 L117.8,136.6 L117.2,137.5 L116.7,136.6 L116.1,136.6 L115.6,136.6 L115.0,136.6 L114.5,136.6 L113.9,136.6 L113.3,137.1 L112.8,138.0 L112.2,137.3 L111.7,142.0 L111.2,141.1 L110.6,141.4 L110.1,141.2 L109.5,141.4 L109.0,141.5 L108.4,142.1 L107.8,142.1 L107.3,141.5 L106.8,142.0 L106.2,141.6 L105.7,142.1 L105.1,141.4 L104.6,142.0 L104.0,141.6 L103.5,141.9 L102.9,141.5 L102.3,136.6 L101.8,136.6 L101.2,137.0 L100.7,136.6 L100.2,136.6 L99.6,136.6 L99.1,136.8 L98.5,136.9 L98.0,138.8 L97.4,136.6 L96.8,136.6 L96.3,136.6 L95.8,136.6 L95.2,137.2 L94.7,136.6 L94.1,139.1 L93.6,138.8 L93.0,138.3 L92.5,138.7 L91.9,139.4 L91.3,138.9 L90.8,139.8 L90.2,138.7 L89.7,138.6 L89.2,139.6 L88.6,138.3 L88.1,139.1 L87.5,138.7 L87.0,139.5 L86.4,138.5 L85.8,139.8 L85.3,139.1 L84.8,138.5 L84.2,137.0 L83.7,136.6 L83.1,137.1 L82.5,137.3 L82.0,136.6 L81.5,136.6 L80.9,136.6 L80.3,136.6 L79.8,137.1 L79.2,136.6 L78.7,137.3 L78.2,136.6 L77.6,137.2 L77.0,136.6 L76.5,136.6 L76.0,137.0 L75.4,136.6 L74.8,137.8 L74.3,138.6 L73.8,139.1 L73.2,138.9 L72.7,138.3 L72.1,138.0 L71.5,139.2 L71.0,138.5 L70.5,138.5 L69.9,137.8 L69.3,138.6 L68.8,138.3 L68.2,137.7 L67.7,139.1 L67.2,137.8 L66.6,139.0 L66.0,137.9 L65.5,138.6 L65.0,138.3 L64.4,136.6 L63.9,136.6 L63.3,136.6 L62.8,136.6 L62.2,137.2 L61.6,136.6 L61.1,136.6 L60.5,136.6 L60.0,136.6 L59.5,136.6 L58.9,136.6 L58.4,136.6 L57.8,136.9 L57.2,136.6 L56.7,136.6 L56.1,136.9 L55.6,136.6 L55.0,137.1 L54.5,136.9 L53.9,136.6 L53.4,137.1Z" fill="#353535"/>
<rect x="69.55" y="136.20" width="0.9" height="4.50" fill="#353535"/>
<rect x="75.85" y="135.20" width="0.9" height="1.00" fill="#353535"/>
<rect x="155.85" y="134.00" width="0.9" height="2.20" fill="#353535"/>
<rect x="168.75" y="136.20" width="0.9" height="3.00" fill="#353535"/>
<text x="59.11" y="155.00" font-size="4.2" text-anchor="middle" fill="#444" >1</text>
<text x="70.13" y="152.30" font-size="4.2" text-anchor="middle" fill="#444" >2</text>
<text x="80.12" y="155.00" font-size="4.2" text-anchor="middle" fill="#444" >3</text>
<text x="89.36" y="152.30" font-size="4.2" text-anchor="middle" fill="#444" >4</text>
<text x="98.36" y="155.00" font-size="4.2" text-anchor="middle" fill="#444" >5</text>
<text x="107.17" y="152.30" font-size="4.2" text-anchor="middle" fill="#444" >6</text>
<text x="115.79" y="155.00" font-size="4.2" text-anchor="middle" fill="#444" >7</text>
<text x="123.81" y="152.30" font-size="4.2" text-anchor="middle" fill="#444" >8</text>
<text x="131.23" y="155.00" font-size="4.2" text-anchor="middle" fill="#444" >9</text>
<text x="138.68" y="152.30" font-size="4.2" text-anchor="middle" fill="#444" >10</text>
<text x="146.06" y="155.00" font-size="4.2" text-anchor="middle" fill="#444" >11</text>
<text x="153.13" y="152.30" font-size="4.2" text-anchor="middle" fill="#444" >12</text>
<text x="160.15" y="155.00" font-size="4.2" text-anchor="middle" fill="#444" >13</text>
<text x="167.31" y="152.30" font-size="4.2" text-anchor="middle" fill="#444" >14</text>
<text x="174.00" y="155.00" font-size="4.2" text-anchor="middle" fill="#444" >15</text>
<text x="179.90" y="152.30" font-size="4.2" text-anchor="middle" fill="#444" >16</text>
<text x="185.54" y="155.00" font-size="4.2" text-anchor="middle" fill="#444" >17</text>
<text x="190.97" y="152.30" font-size="4.2" text-anchor="middle" fill="#444" >18</text>
<text x="195.41" y="155.00" font-size="4.2" text-anchor="middle" fill="#444" >19</text>
<path d="M216.0,85.3 L216.6,85.3 L217.1,85.3 L217.7,84.9 L218.2,85.3 L218.8,85.3 L219.3,85.3 L219.8,85.3 L220.4,85.3 L220.9,85.3 L221.5,85.3 L222.1,85.3 L222.6,85.3 L223.2,85.3 L223.7,85.3 L224.2,85.3 L224.8,85.3 L225.3,85.3 L225.9,85.3 L226.4,85.3 L227.0,85.3 L227.6,85.3 L228.1,85.3 L228.7,85.3 L229.2,85.3 L229.8,85.3 L230.3,85.3 L230.8,85.3 L231.4,85.3 L231.9,85.3 L232.5,84.9 L233.1,85.3 L233.6,85.3 L234.2,85.3 L234.7,85.3 L235.2,85.3 L235.8,85.3 L236.3,85.3 L236.9,85.3 L237.4,85.3 L238.0,85.3 L238.6,85.3 L239.1,85.3 L239.7,85.3 L240.2,85.3 L240.8,85.3 L241.3,85.3 L241.8,85.3 L242.4,85.3 L242.9,85.3 L243.5,85.3 L244.1,85.3 L244.6,85.3 L245.2,85.3 L245.7,85.3 L246.2,85.3 L246.8,85.3 L247.3,85.3 L247.9,85.3 L248.4,85.3 L249.0,85.3 L249.6,85.3 L250.1,85.3 L250.7,85.3 L251.2,85.3 L251.8,85.3 L252.3,85.3 L252.8,85.3 L253.4,85.3 L253.9,85.3 L254.5,85.3 L255.1,85.3 L255.6,85.3 L256.1,85.3 L256.7,85.3 L257.2,85.3 L257.8,85.3 L258.4,85.3 L258.9,85.3 L259.4,85.3 L260.0,85.3 L260.6,85.3 L261.1,85.3 L261.6,85.3 L262.2,85.3 L262.8,85.3 L263.3,84.8 L263.9,85.3 L264.4,85.3 L264.9,85.3 L265.5,85.3 L266.1,85.3 L266.6,85.3 L267.1,85.3 L267.7,85.3 L268.2,85.3 L268.8,85.3 L269.4,85.3 L269.9,85.3 L270.4,85.3 L271.0,85.3 L271.6,85.3 L272.1,85.3 L272.6,85.3 L273.2,85.3 L273.8,85.3 L274.3,85.3 L274.9,85.3 L275.4,85.3 L275.9,85.3 L276.5,85.3 L277.1,85.3 L277.6,85.3 L278.1,85.3 L278.7,85.3 L279.2,85.3 L279.8,85.3 L280.4,85.3 L280.9,85.3 L281.4,85.3 L282.0,79.4 L282.6,80.1 L283.1,80.1 L283.6,81.4 L284.2,80.2 L284.8,81.2 L285.3,79.5 L285.9,80.5 L286.4,81.4 L286.9,81.1 L287.5,80.7 L288.1,79.8 L288.6,81.5 L289.1,79.6 L289.7,81.6 L290.2,85.3 L290.8,85.3 L291.4,85.3 L291.9,85.3 L292.4,85.3 L293.0,85.3 L293.6,85.3 L294.1,85.3 L294.6,85.3 L295.2,85.3 L295.8,85.3 L296.3,85.3 L296.9,80.4 L297.4,79.6 L297.9,79.9 L298.5,79.7 L299.1,80.5 L299.6,80.3 L300.1,80.1 L300.7,80.3 L301.2,81.1 L301.8,80.5 L302.4,80.9 L302.9,80.9 L303.4,80.8 L304.0,81.0 L304.6,80.8 L305.1,80.7 L305.6,81.1 L306.2,80.9 L306.8,81.0 L307.3,80.9 L307.9,81.8 L308.4,81.3 L308.9,81.1 L309.5,81.0 L310.1,81.3 L310.6,82.1 L311.1,81.6 L311.7,82.0 L312.2,85.3 L312.8,85.3 L313.4,85.3 L313.9,85.3 L314.4,85.3 L315.0,85.3 L315.6,85.3 L316.1,85.3 L316.6,85.3 L317.2,85.3 L317.8,85.3 L318.3,85.3 L318.9,85.3 L319.4,85.3 L319.9,85.3 L320.5,85.3 L321.1,85.3 L321.6,85.3 L322.1,85.3 L322.7,85.3 L323.2,85.3 L323.8,85.3 L324.4,85.3 L324.9,85.3 L325.4,85.3 L326.0,85.2 L326.6,85.3 L327.1,85.3 L327.6,85.3 L328.2,85.3 L328.8,85.3 L329.3,85.3 L329.9,85.3 L330.4,85.3 L330.9,85.3 L331.5,85.3 L332.1,85.3 L332.6,85.3 L333.1,85.3 L333.7,85.3 L334.2,85.3 L334.8,85.3 L335.4,85.3 L335.9,85.3 L336.4,85.3 L337.0,85.3 L337.6,85.3 L338.1,85.3 L338.6,85.3 L339.2,85.3 L339.8,85.3 L340.3,85.3 L340.9,85.3 L341.4,85.3 L342.0,85.3 L342.5,85.3 L343.1,85.3 L343.6,85.3 L344.1,85.3 L344.7,85.3 L345.2,85.3 L345.8,85.3 L346.4,85.3 L346.9,85.3 L347.5,85.3 L348.0,85.3 L348.6,85.3 L349.1,85.3 L349.6,85.3 L350.2,85.3 L350.8,85.3 L351.3,85.3 L351.9,85.3 L352.4,85.3 L353.0,85.3 L353.5,85.3 L354.1,85.3 L354.6,85.3 L355.1,85.3 L355.7,85.3 L356.2,85.3 L356.8,85.3 L357.4,85.3 L357.9,85.3 L358.5,85.3 L359.0,85.3 L359.6,84.6 L359.6,86.3 L359.0,86.3 L358.5,86.6 L357.9,86.7 L357.4,87.0 L356.8,86.8 L356.2,86.6 L355.7,86.8 L355.1,86.7 L354.6,86.7 L354.1,86.8 L353.5,86.9 L353.0,87.0 L352.4,86.9 L351.9,87.4 L351.3,87.4 L350.8,87.0 L350.2,87.3 L349.6,87.5 L349.1,87.0 L348.6,87.3 L348.0,87.3 L347.5,87.2 L346.9,87.4 L346.4,86.7 L345.8,86.6 L345.2,87.0 L344.7,86.8 L344.1,86.9 L343.6,87.5 L343.1,87.2 L342.5,86.7 L342.0,87.3 L341.4,87.2 L340.9,86.9 L340.3,86.8 L339.8,87.0 L339.2,87.4 L338.6,87.3 L338.1,87.1 L337.6,86.9 L337.0,87.2 L336.4,87.0 L335.9,87.4 L335.4,86.7 L334.8,86.3 L334.2,86.3 L333.7,86.3 L333.1,88.4 L332.6,86.3 L332.1,86.3 L331.5,86.3 L330.9,86.3 L330.4,86.3 L329.9,86.5 L329.3,86.7 L328.8,86.8 L328.2,86.3 L327.6,86.3 L327.1,86.3 L326.6,86.8 L326.0,86.3 L325.4,86.3 L324.9,87.2 L324.4,87.0 L323.8,86.3 L323.2,87.4 L322.7,86.9 L322.1,86.5 L321.6,86.3 L321.1,86.3 L320.5,86.3 L319.9,87.3 L319.4,86.3 L318.9,87.2 L318.3,86.3 L317.8,86.3 L317.2,86.3 L316.6,86.8 L316.1,86.3 L315.6,87.2 L315.0,86.3 L314.4,86.3 L313.9,86.3 L313.4,87.1 L312.8,86.3 L312.2,86.3 L311.7,87.2 L311.1,87.1 L310.6,86.3 L310.1,86.3 L309.5,86.5 L308.9,86.3 L308.4,86.3 L307.9,87.0 L307.3,86.3 L306.8,86.6 L306.2,86.3 L305.6,86.3 L305.1,86.7 L304.6,86.3 L304.0,86.5 L303.4,86.3 L302.9,86.3 L302.4,86.8 L301.8,87.1 L301.2,86.3 L300.7,86.3 L300.1,86.5 L299.6,86.3 L299.1,86.3 L298.5,90.2 L297.9,86.3 L297.4,86.3 L296.9,87.1 L296.3,87.4 L295.8,87.5 L295.2,87.4 L294.6,87.6 L294.1,87.1 L293.6,87.3 L293.0,87.2 L292.4,87.2 L291.9,87.4 L291.4,88.2 L290.8,87.3 L290.2,87.1 L289.7,86.6 L289.1,86.6 L288.6,86.6 L288.1,86.6 L287.5,86.6 L286.9,86.3 L286.4,86.6 L285.9,86.6 L285.3,86.3 L284.8,86.6 L284.2,86.3 L283.6,86.6 L283.1,86.3 L282.6,86.6 L282.0,86.6 L281.4,86.7 L280.9,86.3 L280.4,86.3 L279.8,86.3 L279.2,86.3 L278.7,87.2 L278.1,86.3 L277.6,86.3 L277.1,86.3 L276.5,86.3 L275.9,86.3 L275.4,86.3 L274.9,86.3 L274.3,86.3 L273.8,86.3 L273.2,86.9 L272.6,87.0 L272.1,86.7 L271.6,86.3 L271.0,87.0 L270.4,87.5 L269.9,86.9 L269.4,88.5 L268.8,86.3 L268.2,88.9 L267.7,86.7 L267.1,87.1 L266.6,86.3 L266.1,87.0 L265.5,86.3 L264.9,86.3 L264.4,87.0 L263.9,86.3 L263.3,86.3 L262.8,87.2 L262.2,86.5 L261.6,86.3 L261.1,87.1 L260.6,88.9 L260.0,86.3 L259.4,86.3 L258.9,87.1 L258.4,86.3 L257.8,86.8 L257.2,86.6 L256.7,86.9 L256.1,86.3 L255.6,86.6 L255.1,86.6 L254.5,86.3 L253.9,86.8 L253.4,86.3 L252.8,86.3 L252.3,87.0 L251.8,87.0 L251.2,86.3 L250.7,86.9 L250.1,86.9 L249.6,86.3 L249.0,86.3 L248.4,86.3 L247.9,86.6 L247.3,86.3 L246.8,86.3 L246.2,86.7 L245.7,86.3 L245.2,86.3 L244.6,86.7 L244.1,86.8 L243.5,87.6 L242.9,86.3 L242.4,86.5 L241.8,86.3 L241.3,86.8 L240.8,86.3 L240.2,86.3 L239.7,87.3 L239.1,86.3 L238.6,86.3 L238.0,87.0 L237.4,86.3 L236.9,86.5 L236.3,87.0 L235.8,86.3 L235.2,86.6 L234.7,86.3 L234.2,87.0 L233.6,86.3 L233.1,86.3 L232.5,86.3 L231.9,86.3 L231.4,86.5 L230.8,87.3 L230.3,86.8 L229.8,87.2 L229.2,86.9 L228.7,86.3 L228.1,86.3 L227.6,86.3 L227.0,86.3 L226.4,86.3 L225.9,86.3 L225.3,87.1 L224.8,89.5 L224.2,86.9 L223.7,86.3 L223.2,87.1 L222.6,87.3 L222.1,86.7 L221.5,86.3 L220.9,86.3 L220.4,86.3 L219.8,86.5 L219.3,87.1 L218.8,86.3 L218.2,86.5 L217.7,86.3 L217.1,86.3 L216.6,86.6 L216.0,87.0Z" fill="#353535"/>
<rect x="223.85" y="85.80" width="0.9" height="3.50" fill="#353535"/>
<rect x="231.75" y="85.80" width="0.9" height="3.00" fill="#353535"/>
<rect x="253.35" y="85.80" width="0.9" height="9.60" fill="#353535"/>
<rect x="269.15" y="85.80" width="0.9" height="4.00" fill="#353535"/>
<rect x="297.50" y="79.00" width="1.0" height="6.80" fill="#353535"/>
<rect x="317.75" y="85.80" width="0.9" height="4.00" fill="#353535"/>
<rect x="330.85" y="85.80" width="0.9" height="6.60" fill="#353535"/>
<path d="M216.0,111.0 L216.6,111.0 L217.1,111.0 L217.7,111.0 L218.2,111.0 L218.8,111.0 L219.3,111.0 L219.8,111.0 L220.4,111.0 L220.9,111.0 L221.5,111.0 L222.1,111.0 L222.6,111.0 L223.2,111.0 L223.7,111.0 L224.2,111.0 L224.8,111.0 L225.3,111.0 L225.9,111.0 L226.4,111.0 L227.0,111.0 L227.6,111.0 L228.1,111.0 L228.7,111.0 L229.2,111.0 L229.8,110.7 L230.3,111.0 L230.8,111.0 L231.4,111.0 L231.9,111.0 L232.5,111.0 L233.1,111.0 L233.6,111.0 L234.2,111.0 L234.7,110.7 L235.2,111.0 L235.8,111.0 L236.3,111.0 L236.9,111.0 L237.4,111.0 L238.0,111.0 L238.6,111.0 L239.1,111.0 L239.7,111.0 L240.2,111.0 L240.8,110.5 L241.3,111.0 L241.8,111.0 L242.4,111.0 L242.9,111.0 L243.5,111.0 L244.1,111.0 L244.6,111.0 L245.2,111.0 L245.7,111.0 L246.2,111.0 L246.8,111.0 L247.3,111.0 L247.9,111.0 L248.4,111.0 L249.0,111.0 L249.6,111.0 L250.1,111.0 L250.7,111.0 L251.2,111.0 L251.8,111.0 L252.3,111.0 L252.8,111.0 L253.4,111.0 L253.9,111.0 L254.5,111.0 L255.1,111.0 L255.6,111.0 L256.1,111.0 L256.7,111.0 L257.2,111.0 L257.8,111.0 L258.4,111.0 L258.9,111.0 L259.4,110.3 L260.0,111.0 L260.6,111.0 L261.1,111.0 L261.6,111.0 L262.2,111.0 L262.8,111.0 L263.3,111.0 L263.9,111.0 L264.4,111.0 L264.9,111.0 L265.5,111.0 L266.1,111.0 L266.6,111.0 L267.1,111.0 L267.7,111.0 L268.2,109.3 L268.8,111.0 L269.4,111.0 L269.9,111.0 L270.4,111.0 L271.0,111.0 L271.6,111.0 L272.1,111.0 L272.6,111.0 L273.2,111.0 L273.8,111.0 L274.3,111.0 L274.9,111.0 L275.4,111.0 L275.9,111.0 L276.5,111.0 L277.1,110.9 L277.6,111.0 L278.1,111.0 L278.7,111.0 L279.2,111.0 L279.8,111.0 L280.4,111.0 L280.9,111.0 L281.4,111.0 L282.0,106.6 L282.6,105.8 L283.1,107.1 L283.6,105.8 L284.2,105.7 L284.8,106.6 L285.3,107.3 L285.9,106.1 L286.4,107.3 L286.9,106.2 L287.5,107.5 L288.1,107.0 L288.6,107.3 L289.1,107.6 L289.7,107.2 L290.2,111.0 L290.8,111.0 L291.4,111.0 L291.9,111.0 L292.4,111.0 L293.0,111.0 L293.6,111.0 L294.1,111.0 L294.6,111.0 L295.2,111.0 L295.8,111.0 L296.3,111.0 L296.9,105.4 L297.4,105.3 L297.9,105.4 L298.5,105.4 L299.1,105.5 L299.6,106.2 L300.1,106.1 L300.7,106.2 L301.2,106.7 L301.8,106.4 L302.4,105.7 L302.9,106.2 L303.4,106.4 L304.0,106.7 L304.6,106.5 L305.1,106.0 L305.6,106.6 L306.2,106.9 L306.8,107.1 L307.3,106.7 L307.9,106.5 L308.4,106.4 L308.9,107.0 L309.5,107.3 L310.1,106.7 L310.6,107.2 L311.1,107.4 L311.7,107.4 L312.2,111.0 L312.8,111.0 L313.4,111.0 L313.9,111.0 L314.4,111.0 L315.0,111.0 L315.6,111.0 L316.1,111.0 L316.6,111.0 L317.2,111.0 L317.8,111.0 L318.3,111.0 L318.9,111.0 L319.4,111.0 L319.9,111.0 L320.5,111.0 L321.1,111.0 L321.6,111.0 L322.1,111.0 L322.7,111.0 L323.2,111.0 L323.8,111.0 L324.4,111.0 L324.9,111.0 L325.4,111.0 L326.0,111.0 L326.6,111.0 L327.1,111.0 L327.6,111.0 L328.2,111.0 L328.8,111.0 L329.3,111.0 L329.9,111.0 L330.4,111.0 L330.9,111.0 L331.5,111.0 L332.1,111.0 L332.6,110.8 L333.1,111.0 L333.7,111.0 L334.2,110.5 L334.8,111.0 L335.4,111.0 L335.9,111.0 L336.4,111.0 L337.0,111.0 L337.6,111.0 L338.1,111.0 L338.6,111.0 L339.2,111.0 L339.8,111.0 L340.3,111.0 L340.9,111.0 L341.4,111.0 L342.0,111.0 L342.5,111.0 L343.1,111.0 L343.6,111.0 L344.1,111.0 L344.7,111.0 L345.2,111.0 L345.8,111.0 L346.4,111.0 L346.9,111.0 L347.5,111.0 L348.0,111.0 L348.6,111.0 L349.1,111.0 L349.6,111.0 L350.2,111.0 L350.8,111.0 L351.3,111.0 L351.9,111.0 L352.4,111.0 L353.0,111.0 L353.5,111.0 L354.1,111.0 L354.6,111.0 L355.1,111.0 L355.7,111.0 L356.2,111.0 L356.8,111.0 L357.4,111.0 L357.9,111.0 L358.5,111.0 L359.0,111.0 L359.6,111.0 L359.6,112.0 L359.0,112.0 L358.5,114.1 L357.9,112.3 L357.4,112.2 L356.8,112.9 L356.2,112.7 L355.7,112.9 L355.1,113.2 L354.6,112.3 L354.1,112.4 L353.5,112.6 L353.0,112.5 L352.4,112.7 L351.9,112.9 L351.3,113.2 L350.8,112.6 L350.2,112.3 L349.6,112.7 L349.1,113.0 L348.6,112.6 L348.0,112.6 L347.5,112.8 L346.9,112.7 L346.4,112.8 L345.8,113.3 L345.2,113.0 L344.7,113.2 L344.1,113.0 L343.6,112.4 L343.1,113.2 L342.5,113.0 L342.0,112.5 L341.4,112.8 L340.9,112.9 L340.3,112.7 L339.8,112.5 L339.2,112.3 L338.6,112.9 L338.1,112.4 L337.6,113.1 L337.0,113.4 L336.4,113.3 L335.9,113.1 L335.4,112.3 L334.8,112.4 L334.2,112.0 L333.7,112.0 L333.1,112.7 L332.6,112.0 L332.1,112.0 L331.5,112.6 L330.9,112.2 L330.4,112.6 L329.9,112.5 L329.3,112.0 L328.8,112.8 L328.2,112.5 L327.6,112.0 L327.1,112.2 L326.6,112.0 L326.0,112.0 L325.4,112.3 L324.9,112.9 L324.4,112.2 L323.8,112.0 L323.2,112.8 L322.7,112.3 L322.1,112.8 L321.6,112.9 L321.1,112.0 L320.5,112.5 L319.9,112.8 L319.4,112.9 L318.9,112.2 L318.3,112.0 L317.8,112.0 L317.2,112.9 L316.6,112.0 L316.1,112.0 L315.6,112.9 L315.0,112.3 L314.4,112.2 L313.9,112.7 L313.4,112.0 L312.8,112.8 L312.2,112.5 L311.7,112.0 L311.1,112.8 L310.6,112.4 L310.1,112.0 L309.5,112.4 L308.9,112.0 L308.4,113.9 L307.9,113.0 L307.3,112.0 L306.8,112.0 L306.2,112.0 L305.6,112.9 L305.1,112.4 L304.6,112.8 L304.0,112.5 L303.4,112.0 L302.9,112.0 L302.4,112.0 L301.8,114.8 L301.2,112.3 L300.7,112.0 L300.1,112.0 L299.6,112.5 L299.1,113.3 L298.5,112.2 L297.9,112.9 L297.4,112.0 L296.9,113.1 L296.3,113.2 L295.8,113.1 L295.2,112.9 L294.6,112.8 L294.1,113.0 L293.6,113.2 L293.0,113.1 L292.4,113.0 L291.9,113.2 L291.4,112.8 L290.8,112.9 L290.2,113.0 L289.7,112.3 L289.1,112.3 L288.6,112.0 L288.1,112.0 L287.5,112.3 L286.9,112.3 L286.4,112.0 L285.9,112.3 L285.3,112.3 L284.8,112.0 L284.2,112.3 L283.6,112.3 L283.1,112.3 L282.6,112.0 L282.0,112.0 L281.4,114.3 L280.9,112.0 L280.4,112.5 L279.8,112.0 L279.2,112.6 L278.7,112.0 L278.1,112.2 L277.6,112.4 L277.1,112.0 L276.5,112.2 L275.9,112.0 L275.4,112.6 L274.9,112.5 L274.3,112.3 L273.8,113.3 L273.2,112.9 L272.6,112.4 L272.1,112.0 L271.6,112.0 L271.0,112.0 L270.4,112.0 L269.9,113.0 L269.4,112.7 L268.8,112.0 L268.2,112.0 L267.7,112.2 L267.1,112.0 L266.6,112.0 L266.1,112.9 L265.5,112.0 L264.9,112.0 L264.4,112.0 L263.9,112.6 L263.3,112.6 L262.8,112.2 L262.2,112.7 L261.6,112.0 L261.1,112.5 L260.6,112.0 L260.0,112.0 L259.4,112.0 L258.9,112.0 L258.4,112.4 L257.8,112.9 L257.2,112.0 L256.7,112.8 L256.1,112.5 L255.6,112.9 L255.1,112.6 L254.5,112.0 L253.9,112.7 L253.4,114.6 L252.8,112.6 L252.3,112.9 L251.8,112.2 L251.2,112.4 L250.7,112.8 L250.1,112.3 L249.6,112.5 L249.0,112.0 L248.4,112.0 L247.9,112.4 L247.3,112.2 L246.8,112.9 L246.2,112.3 L245.7,117.3 L245.2,112.3 L244.6,112.6 L244.1,112.0 L243.5,112.0 L242.9,112.8 L242.4,112.8 L241.8,112.0 L241.3,112.0 L240.8,112.0 L240.2,112.9 L239.7,112.0 L239.1,112.0 L238.6,113.5 L238.0,112.0 L237.4,112.0 L236.9,112.2 L236.3,112.4 L235.8,112.0 L235.2,112.9 L234.7,112.0 L234.2,112.0 L233.6,112.5 L233.1,113.0 L232.5,112.7 L231.9,112.7 L231.4,112.5 L230.8,112.0 L230.3,112.0 L229.8,112.0 L229.2,112.9 L228.7,112.2 L228.1,112.8 L227.6,112.0 L227.0,112.0 L226.4,112.0 L225.9,113.0 L225.3,112.0 L224.8,112.0 L224.2,112.0 L223.7,112.0 L223.2,112.0 L222.6,112.0 L222.1,112.0 L221.5,112.3 L220.9,112.9 L220.4,112.0 L219.8,112.0 L219.3,112.0 L218.8,112.7 L218.2,112.0 L217.7,112.9 L217.1,112.3 L216.6,112.2 L216.0,112.0Z" fill="#353535"/>
<rect x="223.85" y="111.50" width="0.9" height="3.50" fill="#353535"/>
<rect x="231.75" y="111.50" width="0.9" height="3.00" fill="#353535"/>
<rect x="253.35" y="111.50" width="0.9" height="9.60" fill="#353535"/>
<rect x="269.15" y="111.50" width="0.9" height="4.00" fill="#353535"/>
<rect x="297.50" y="104.50" width="1.0" height="7.00" fill="#353535"/>
<rect x="317.75" y="111.50" width="0.9" height="4.00" fill="#353535"/>
<rect x="330.85" y="111.50" width="0.9" height="6.60" fill="#353535"/>
<path d="M216.0,136.0 L216.6,136.0 L217.1,136.0 L217.7,136.0 L218.2,136.0 L218.8,136.0 L219.3,136.0 L219.8,136.0 L220.4,136.0 L220.9,136.0 L221.5,136.0 L222.1,136.0 L222.6,136.0 L223.2,136.0 L223.7,136.0 L224.2,136.0 L224.8,136.0 L225.3,136.0 L225.9,136.0 L226.4,136.0 L227.0,136.0 L227.6,136.0 L228.1,136.0 L228.7,136.0 L229.2,136.0 L229.8,136.0 L230.3,136.0 L230.8,136.0 L231.4,136.0 L231.9,136.0 L232.5,136.0 L233.1,136.0 L233.6,136.0 L234.2,136.0 L234.7,136.0 L235.2,136.0 L235.8,136.0 L236.3,136.0 L236.9,136.0 L237.4,136.0 L238.0,136.0 L238.6,136.0 L239.1,136.0 L239.7,136.0 L240.2,136.0 L240.8,136.0 L241.3,136.0 L241.8,136.0 L242.4,136.0 L242.9,136.0 L243.5,136.0 L244.1,136.0 L244.6,136.0 L245.2,136.0 L245.7,136.0 L246.2,136.0 L246.8,136.0 L247.3,136.0 L247.9,136.0 L248.4,136.0 L249.0,136.0 L249.6,136.0 L250.1,136.0 L250.7,136.0 L251.2,136.0 L251.8,136.0 L252.3,136.0 L252.8,136.0 L253.4,136.0 L253.9,136.0 L254.5,136.0 L255.1,136.0 L255.6,136.0 L256.1,136.0 L256.7,136.0 L257.2,135.1 L257.8,136.0 L258.4,136.0 L258.9,136.0 L259.4,136.0 L260.0,136.0 L260.6,136.0 L261.1,136.0 L261.6,136.0 L262.2,136.0 L262.8,136.0 L263.3,136.0 L263.9,136.0 L264.4,136.0 L264.9,136.0 L265.5,136.0 L266.1,136.0 L266.6,136.0 L267.1,136.0 L267.7,136.0 L268.2,136.0 L268.8,136.0 L269.4,136.0 L269.9,136.0 L270.4,136.0 L271.0,136.0 L271.6,136.0 L272.1,136.0 L272.6,136.0 L273.2,136.0 L273.8,136.0 L274.3,136.0 L274.9,136.0 L275.4,136.0 L275.9,136.0 L276.5,136.0 L277.1,136.0 L277.6,136.0 L278.1,136.0 L278.7,136.0 L279.2,136.0 L279.8,136.0 L280.4,136.0 L280.9,136.0 L281.4,136.0 L282.0,132.3 L282.6,131.4 L283.1,131.8 L283.6,132.3 L284.2,132.4 L284.8,132.2 L285.3,132.5 L285.9,132.4 L286.4,131.9 L286.9,132.1 L287.5,130.9 L288.1,131.7 L288.6,132.2 L289.1,132.6 L289.7,132.5 L290.2,136.0 L290.8,136.0 L291.4,136.0 L291.9,136.0 L292.4,136.0 L293.0,136.0 L293.6,136.0 L294.1,136.0 L294.6,136.0 L295.2,136.0 L295.8,136.0 L296.3,136.0 L296.9,130.8 L297.4,130.3 L297.9,131.0 L298.5,130.8 L299.1,131.4 L299.6,130.5 L300.1,130.7 L300.7,131.0 L301.2,130.6 L301.8,131.2 L302.4,132.0 L302.9,131.9 L303.4,131.1 L304.0,132.0 L304.6,131.3 L305.1,131.4 L305.6,132.0 L306.2,131.6 L306.8,131.6 L307.3,131.5 L307.9,131.7 L308.4,131.8 L308.9,132.6 L309.5,131.7 L310.1,132.3 L310.6,132.1 L311.1,132.7 L311.7,132.0 L312.2,136.0 L312.8,134.6 L313.4,136.0 L313.9,136.0 L314.4,136.0 L315.0,136.0 L315.6,136.0 L316.1,136.0 L316.6,136.0 L317.2,136.0 L317.8,136.0 L318.3,135.5 L318.9,136.0 L319.4,136.0 L319.9,136.0 L320.5,136.0 L321.1,136.0 L321.6,136.0 L322.1,136.0 L322.7,136.0 L323.2,136.0 L323.8,136.0 L324.4,136.0 L324.9,136.0 L325.4,136.0 L326.0,136.0 L326.6,136.0 L327.1,136.0 L327.6,136.0 L328.2,136.0 L328.8,136.0 L329.3,136.0 L329.9,136.0 L330.4,136.0 L330.9,136.0 L331.5,136.0 L332.1,136.0 L332.6,136.0 L333.1,136.0 L333.7,136.0 L334.2,136.0 L334.8,133.8 L335.4,133.9 L335.9,134.0 L336.4,134.0 L337.0,134.0 L337.6,133.8 L338.1,133.6 L338.6,134.0 L339.2,134.0 L339.8,136.0 L340.3,136.0 L340.9,136.0 L341.4,136.0 L342.0,136.0 L342.5,136.0 L343.1,136.0 L343.6,136.0 L344.1,136.0 L344.7,136.0 L345.2,136.0 L345.8,136.0 L346.4,136.0 L346.9,136.0 L347.5,136.0 L348.0,136.0 L348.6,136.0 L349.1,136.0 L349.6,136.0 L350.2,136.0 L350.8,136.0 L351.3,136.0 L351.9,136.0 L352.4,136.0 L353.0,136.0 L353.5,136.0 L354.1,136.0 L354.6,136.0 L355.1,136.0 L355.7,133.5 L356.2,133.2 L356.8,133.7 L357.4,133.5 L357.9,133.2 L358.5,133.6 L359.0,133.2 L359.6,133.2 L359.6,137.0 L359.0,137.0 L358.5,137.0 L357.9,137.3 L357.4,137.0 L356.8,137.0 L356.2,137.3 L355.7,137.3 L355.1,137.6 L354.6,138.4 L354.1,137.8 L353.5,138.0 L353.0,137.9 L352.4,138.4 L351.9,137.8 L351.3,137.7 L350.8,137.8 L350.2,138.4 L349.6,137.9 L349.1,138.3 L348.6,138.3 L348.0,137.5 L347.5,138.0 L346.9,137.8 L346.4,137.8 L345.8,137.4 L345.2,138.3 L344.7,138.2 L344.1,138.1 L343.6,138.3 L343.1,138.2 L342.5,138.3 L342.0,138.3 L341.4,137.5 L340.9,138.1 L340.3,137.4 L339.8,138.3 L339.2,137.3 L338.6,137.3 L338.1,137.3 L337.6,137.3 L337.0,137.3 L336.4,137.3 L335.9,137.3 L335.4,137.0 L334.8,137.3 L334.2,137.0 L333.7,137.0 L333.1,137.8 L332.6,137.0 L332.1,137.8 L331.5,137.2 L330.9,137.0 L330.4,137.8 L329.9,137.2 L329.3,137.0 L328.8,137.6 L328.2,137.0 L327.6,137.0 L327.1,137.0 L326.6,137.2 L326.0,137.3 L325.4,137.0 L324.9,137.4 L324.4,137.0 L323.8,137.6 L323.2,137.6 L322.7,137.0 L322.1,137.0 L321.6,137.0 L321.1,137.7 L320.5,137.0 L319.9,137.0 L319.4,137.0 L318.9,137.0 L318.3,137.0 L317.8,137.6 L317.2,137.0 L316.6,137.0 L316.1,137.3 L315.6,137.8 L315.0,137.0 L314.4,137.0 L313.9,137.0 L313.4,138.4 L312.8,137.0 L312.2,137.0 L311.7,137.8 L311.1,137.0 L310.6,137.0 L310.1,137.0 L309.5,137.0 L308.9,137.0 L308.4,140.3 L307.9,137.2 L307.3,137.8 L306.8,137.8 L306.2,137.0 L305.6,137.0 L305.1,137.0 L304.6,137.0 L304.0,137.0 L303.4,137.0 L302.9,137.0 L302.4,137.0 L301.8,137.0 L301.2,138.0 L300.7,137.9 L300.1,137.0 L299.6,137.7 L299.1,137.0 L298.5,137.0 L297.9,140.2 L297.4,137.0 L296.9,138.1 L296.3,137.8 L295.8,137.8 L295.2,137.9 L294.6,137.7 L294.1,138.2 L293.6,137.9 L293.0,137.7 L292.4,138.3 L291.9,138.2 L291.4,137.9 L290.8,137.7 L290.2,138.2 L289.7,137.0 L289.1,137.3 L288.6,137.3 L288.1,137.2 L287.5,137.0 L286.9,137.0 L286.4,137.3 L285.9,137.0 L285.3,137.0 L284.8,137.0 L284.2,137.0 L283.6,137.3 L283.1,137.0 L282.6,137.3 L282.0,137.3 L281.4,138.0 L280.9,137.0 L280.4,137.0 L279.8,137.5 L279.2,137.0 L278.7,137.5 L278.1,137.0 L277.6,137.9 L277.1,137.0 L276.5,137.0 L275.9,137.5 L275.4,137.0 L274.9,137.0 L274.3,137.0 L273.8,137.5 L273.2,140.1 L272.6,137.0 L272.1,137.0 L271.6,137.0 L271.0,137.0 L270.4,137.0 L269.9,137.0 L269.4,137.8 L268.8,137.2 L268.2,138.0 L267.7,137.0 L267.1,137.2 L266.6,137.0 L266.1,137.8 L265.5,137.3 L264.9,137.8 L264.4,138.0 L263.9,137.0 L263.3,137.9 L262.8,137.0 L262.2,137.5 L261.6,137.9 L261.1,137.2 L260.6,137.6 L260.0,137.5 L259.4,138.0 L258.9,137.4 L258.4,137.0 L257.8,137.0 L257.2,137.0 L256.7,137.0 L256.1,140.9 L255.6,137.0 L255.1,137.0 L254.5,137.0 L253.9,137.0 L253.4,137.7 L252.8,137.5 L252.3,137.0 L251.8,137.9 L251.2,137.0 L250.7,138.4 L250.1,137.6 L249.6,137.0 L249.0,139.1 L248.4,137.0 L247.9,137.0 L247.3,137.7 L246.8,137.0 L246.2,137.0 L245.7,137.0 L245.2,137.0 L244.6,137.4 L244.1,137.0 L243.5,137.7 L242.9,137.0 L242.4,137.0 L241.8,137.0 L241.3,137.4 L240.8,137.5 L240.2,137.6 L239.7,137.3 L239.1,137.9 L238.6,137.2 L238.0,138.0 L237.4,137.0 L236.9,137.0 L236.3,137.0 L235.8,137.0 L235.2,137.0 L234.7,137.0 L234.2,137.8 L233.6,138.7 L233.1,137.0 L232.5,137.0 L231.9,137.6 L231.4,137.0 L230.8,137.0 L230.3,137.3 L229.8,137.8 L229.2,137.5 L228.7,137.6 L228.1,137.3 L227.6,137.4 L227.0,137.7 L226.4,137.0 L225.9,137.0 L225.3,137.2 L224.8,137.0 L224.2,137.0 L223.7,137.8 L223.2,137.0 L222.6,137.0 L222.1,137.0 L221.5,137.0 L220.9,137.2 L220.4,137.6 L219.8,137.0 L219.3,137.7 L218.8,137.3 L218.2,137.0 L217.7,137.7 L217.1,137.0 L216.6,137.0 L216.0,137.0Z" fill="#353535"/>
<rect x="223.85" y="136.50" width="0.9" height="3.50" fill="#353535"/>
<rect x="231.75" y="136.50" width="0.9" height="3.00" fill="#353535"/>
<rect x="253.35" y="136.50" width="0.9" height="9.60" fill="#353535"/>
<rect x="269.15" y="136.50" width="0.9" height="4.00" fill="#353535"/>
<rect x="297.50" y="129.70" width="1.0" height="6.80" fill="#353535"/>
<rect x="317.75" y="136.50" width="0.9" height="4.00" fill="#353535"/>
<rect x="330.85" y="136.50" width="0.9" height="6.60" fill="#353535"/>
<path d="M216.0,161.0 L216.6,161.0 L217.1,161.0 L217.7,161.0 L218.2,161.0 L218.8,161.0 L219.3,161.0 L219.8,161.0 L220.4,161.0 L220.9,161.0 L221.5,161.0 L222.1,161.0 L222.6,161.0 L223.2,161.0 L223.7,161.0 L224.2,161.0 L224.8,161.0 L225.3,161.0 L225.9,161.0 L226.4,161.0 L227.0,161.0 L227.6,161.0 L228.1,161.0 L228.7,161.0 L229.2,161.0 L229.8,161.0 L230.3,161.0 L230.8,161.0 L231.4,161.0 L231.9,161.0 L232.5,161.0 L233.1,161.0 L233.6,161.0 L234.2,161.0 L234.7,161.0 L235.2,161.0 L235.8,161.0 L236.3,161.0 L236.9,161.0 L237.4,161.0 L238.0,161.0 L238.6,161.0 L239.1,161.0 L239.7,161.0 L240.2,161.0 L240.8,161.0 L241.3,161.0 L241.8,161.0 L242.4,161.0 L242.9,161.0 L243.5,161.0 L244.1,161.0 L244.6,161.0 L245.2,161.0 L245.7,161.0 L246.2,161.0 L246.8,161.0 L247.3,161.0 L247.9,161.0 L248.4,161.0 L249.0,161.0 L249.6,161.0 L250.1,161.0 L250.7,161.0 L251.2,160.3 L251.8,161.0 L252.3,161.0 L252.8,161.0 L253.4,161.0 L253.9,161.0 L254.5,161.0 L255.1,161.0 L255.6,161.0 L256.1,161.0 L256.7,161.0 L257.2,161.0 L257.8,161.0 L258.4,161.0 L258.9,161.0 L259.4,161.0 L260.0,161.0 L260.6,161.0 L261.1,161.0 L261.6,161.0 L262.2,161.0 L262.8,161.0 L263.3,161.0 L263.9,161.0 L264.4,161.0 L264.9,161.0 L265.5,161.0 L266.1,161.0 L266.6,161.0 L267.1,161.0 L267.7,160.8 L268.2,161.0 L268.8,161.0 L269.4,161.0 L269.9,161.0 L270.4,161.0 L271.0,161.0 L271.6,161.0 L272.1,161.0 L272.6,161.0 L273.2,161.0 L273.8,161.0 L274.3,160.4 L274.9,161.0 L275.4,161.0 L275.9,161.0 L276.5,161.0 L277.1,161.0 L277.6,161.0 L278.1,161.0 L278.7,161.0 L279.2,161.0 L279.8,161.0 L280.4,161.0 L280.9,161.0 L281.4,161.0 L282.0,156.3 L282.6,156.4 L283.1,157.0 L283.6,156.2 L284.2,156.5 L284.8,156.5 L285.3,156.2 L285.9,156.1 L286.4,155.9 L286.9,157.1 L287.5,156.8 L288.1,155.8 L288.6,155.8 L289.1,156.2 L289.7,156.7 L290.2,161.0 L290.8,161.0 L291.4,161.0 L291.9,161.0 L292.4,161.0 L293.0,161.0 L293.6,161.0 L294.1,161.0 L294.6,161.0 L295.2,161.0 L295.8,161.0 L296.3,161.0 L296.9,154.2 L297.4,154.9 L297.9,155.2 L298.5,155.0 L299.1,154.5 L299.6,154.5 L300.1,155.0 L300.7,155.0 L301.2,156.0 L301.8,154.8 L302.4,155.9 L302.9,156.3 L303.4,155.7 L304.0,155.2 L304.6,155.9 L305.1,156.5 L305.6,155.8 L306.2,156.3 L306.8,155.6 L307.3,155.8 L307.9,156.0 L308.4,156.4 L308.9,156.9 L309.5,155.9 L310.1,155.8 L310.6,156.2 L311.1,156.7 L311.7,156.9 L312.2,161.0 L312.8,161.0 L313.4,161.0 L313.9,161.0 L314.4,161.0 L315.0,161.0 L315.6,161.0 L316.1,161.0 L316.6,161.0 L317.2,161.0 L317.8,161.0 L318.3,161.0 L318.9,161.0 L319.4,161.0 L319.9,161.0 L320.5,161.0 L321.1,161.0 L321.6,161.0 L322.1,161.0 L322.7,161.0 L323.2,161.0 L323.8,161.0 L324.4,161.0 L324.9,161.0 L325.4,161.0 L326.0,161.0 L326.6,161.0 L327.1,161.0 L327.6,161.0 L328.2,161.0 L328.8,161.0 L329.3,161.0 L329.9,161.0 L330.4,161.0 L330.9,161.0 L331.5,161.0 L332.1,161.0 L332.6,161.0 L333.1,161.0 L333.7,161.0 L334.2,161.0 L334.8,161.0 L335.4,161.0 L335.9,161.0 L336.4,161.0 L337.0,161.0 L337.6,161.0 L338.1,161.0 L338.6,161.0 L339.2,161.0 L339.8,161.0 L340.3,161.0 L340.9,161.0 L341.4,161.0 L342.0,161.0 L342.5,161.0 L343.1,161.0 L343.6,161.0 L344.1,161.0 L344.7,161.0 L345.2,161.0 L345.8,161.0 L346.4,161.0 L346.9,161.0 L347.5,161.0 L348.0,161.0 L348.6,161.0 L349.1,161.0 L349.6,161.0 L350.2,161.0 L350.8,161.0 L351.3,161.0 L351.9,161.0 L352.4,161.0 L353.0,161.0 L353.5,161.0 L354.1,161.0 L354.6,161.0 L355.1,161.0 L355.7,161.0 L356.2,161.0 L356.8,161.0 L357.4,161.0 L357.9,161.0 L358.5,161.0 L359.0,161.0 L359.6,161.0 L359.6,162.9 L359.0,163.0 L358.5,162.0 L357.9,162.9 L357.4,162.0 L356.8,162.0 L356.2,162.0 L355.7,163.2 L355.1,163.1 L354.6,162.9 L354.1,162.5 L353.5,162.7 L353.0,163.3 L352.4,163.3 L351.9,162.5 L351.3,163.0 L350.8,164.1 L350.2,162.6 L349.6,163.3 L349.1,162.8 L348.6,162.8 L348.0,162.8 L347.5,163.1 L346.9,163.1 L346.4,162.4 L345.8,162.9 L345.2,162.7 L344.7,162.6 L344.1,163.1 L343.6,162.7 L343.1,162.7 L342.5,162.6 L342.0,163.2 L341.4,163.1 L340.9,162.7 L340.3,163.1 L339.8,163.2 L339.2,163.4 L338.6,163.0 L338.1,162.5 L337.6,163.2 L337.0,162.9 L336.4,162.7 L335.9,163.1 L335.4,162.6 L334.8,162.0 L334.2,162.3 L333.7,162.3 L333.1,162.2 L332.6,162.9 L332.1,163.0 L331.5,162.5 L330.9,162.0 L330.4,162.0 L329.9,162.4 L329.3,162.0 L328.8,162.9 L328.2,162.0 L327.6,162.0 L327.1,162.0 L326.6,164.5 L326.0,163.0 L325.4,162.9 L324.9,162.0 L324.4,165.6 L323.8,162.9 L323.2,162.0 L322.7,162.0 L322.1,162.0 L321.6,162.0 L321.1,162.0 L320.5,162.0 L319.9,162.4 L319.4,162.0 L318.9,162.0 L318.3,162.0 L317.8,162.0 L317.2,162.5 L316.6,162.0 L316.1,162.9 L315.6,162.0 L315.0,162.0 L314.4,162.4 L313.9,162.0 L313.4,162.0 L312.8,162.0 L312.2,162.0 L311.7,162.0 L311.1,162.0 L310.6,162.8 L310.1,162.0 L309.5,162.4 L308.9,162.5 L308.4,162.8 L307.9,162.6 L307.3,162.0 L306.8,162.7 L306.2,162.0 L305.6,162.0 L305.1,162.0 L304.6,162.0 L304.0,162.0 L303.4,165.1 L302.9,162.0 L302.4,162.0 L301.8,165.1 L301.2,162.6 L300.7,162.2 L300.1,162.8 L299.6,162.0 L299.1,162.0 L298.5,162.0 L297.9,162.0 L297.4,162.6 L296.9,162.9 L296.3,163.1 L295.8,162.9 L295.2,163.2 L294.6,163.2 L294.1,162.7 L293.6,163.1 L293.0,162.9 L292.4,162.9 L291.9,163.3 L291.4,163.1 L290.8,162.8 L290.2,162.9 L289.7,162.0 L289.1,162.0 L288.6,162.0 L288.1,162.0 L287.5,162.3 L286.9,162.0 L286.4,162.3 L285.9,162.3 L285.3,162.3 L284.8,162.3 L284.2,162.0 L283.6,162.3 L283.1,162.0 L282.6,162.0 L282.0,162.0 L281.4,162.7 L280.9,162.2 L280.4,162.0 L279.8,162.0 L279.2,162.0 L278.7,163.0 L278.1,163.6 L277.6,162.0 L277.1,162.0 L276.5,162.9 L275.9,162.0 L275.4,162.6 L274.9,162.0 L274.3,162.0 L273.8,162.0 L273.2,164.8 L272.6,162.0 L272.1,162.3 L271.6,162.0 L271.0,162.8 L270.4,162.0 L269.9,162.0 L269.4,162.3 L268.8,162.5 L268.2,162.5 L267.7,162.0 L267.1,162.0 L266.6,162.4 L266.1,162.0 L265.5,162.7 L264.9,162.0 L264.4,162.0 L263.9,162.0 L263.3,162.4 L262.8,162.0 L262.2,162.0 L261.6,162.4 L261.1,162.0 L260.6,162.0 L260.0,162.2 L259.4,162.0 L258.9,162.4 L258.4,162.0 L257.8,162.0 L257.2,162.7 L256.7,162.0 L256.1,162.8 L255.6,162.7 L255.1,162.0 L254.5,163.0 L253.9,162.3 L253.4,162.0 L252.8,163.0 L252.3,162.0 L251.8,162.7 L251.2,162.0 L250.7,162.0 L250.1,162.0 L249.6,162.3 L249.0,162.9 L248.4,162.0 L247.9,162.0 L247.3,166.7 L246.8,162.5 L246.2,162.0 L245.7,162.0 L245.2,162.0 L244.6,164.7 L244.1,162.8 L243.5,162.5 L242.9,162.7 L242.4,162.0 L241.8,162.4 L241.3,162.0 L240.8,162.0 L240.2,162.0 L239.7,162.4 L239.1,162.5 L238.6,162.0 L238.0,162.0 L237.4,162.0 L236.9,163.0 L236.3,162.5 L235.8,163.3 L235.2,162.0 L234.7,162.6 L234.2,162.9 L233.6,162.8 L233.1,162.0 L232.5,162.0 L231.9,162.7 L231.4,162.0 L230.8,162.0 L230.3,162.6 L229.8,162.0 L229.2,162.6 L228.7,162.6 L228.1,162.8 L227.6,162.0 L227.0,162.0 L226.4,162.0 L225.9,162.0 L225.3,162.0 L224.8,163.0 L224.2,162.9 L223.7,162.0 L223.2,162.4 L222.6,162.8 L222.1,162.4 L221.5,162.0 L220.9,162.6 L220.4,162.9 L219.8,162.0 L219.3,162.0 L218.8,162.0 L218.2,162.8 L217.7,162.0 L217.1,163.0 L216.6,162.0 L216.0,162.0Z" fill="#353535"/>
<rect x="223.85" y="161.50" width="0.9" height="3.50" fill="#353535"/>
<rect x="231.75" y="161.50" width="0.9" height="3.00" fill="#353535"/>
<rect x="253.35" y="161.50" width="0.9" height="9.60" fill="#353535"/>
<rect x="269.15" y="161.50" width="0.9" height="4.00" fill="#353535"/>
<rect x="297.50" y="153.70" width="1.0" height="7.80" fill="#353535"/>
<rect x="317.75" y="161.50" width="0.9" height="4.00" fill="#353535"/>
<rect x="330.85" y="161.50" width="0.9" height="6.60" fill="#353535"/>
<text x="221.70" y="180.00" font-size="4.2" text-anchor="middle" fill="#444" >1</text>
<text x="232.71" y="177.30" font-size="4.2" text-anchor="middle" fill="#444" >2</text>
<text x="242.68" y="180.00" font-size="4.2" text-anchor="middle" fill="#444" >3</text>
<text x="251.91" y="177.30" font-size="4.2" text-anchor="middle" fill="#444" >4</text>
<text x="260.90" y="180.00" font-size="4.2" text-anchor="middle" fill="#444" >5</text>
<text x="269.69" y="177.30" font-size="4.2" text-anchor="middle" fill="#444" >6</text>
<text x="278.30" y="180.00" font-size="4.2" text-anchor="middle" fill="#444" >7</text>
<text x="286.31" y="177.30" font-size="4.2" text-anchor="middle" fill="#444" >8</text>
<text x="293.72" y="180.00" font-size="4.2" text-anchor="middle" fill="#444" >9</text>
<text x="301.16" y="177.30" font-size="4.2" text-anchor="middle" fill="#444" >10</text>
<text x="308.53" y="180.00" font-size="4.2" text-anchor="middle" fill="#444" >11</text>
<text x="315.59" y="177.30" font-size="4.2" text-anchor="middle" fill="#444" >12</text>
<text x="322.60" y="180.00" font-size="4.2" text-anchor="middle" fill="#444" >13</text>
<text x="329.76" y="177.30" font-size="4.2" text-anchor="middle" fill="#444" >14</text>
<text x="336.43" y="180.00" font-size="4.2" text-anchor="middle" fill="#444" >15</text>
<text x="342.33" y="177.30" font-size="4.2" text-anchor="middle" fill="#444" >16</text>
<text x="347.96" y="180.00" font-size="4.2" text-anchor="middle" fill="#444" >17</text>
<text x="353.37" y="177.30" font-size="4.2" text-anchor="middle" fill="#444" >18</text>
<text x="357.81" y="180.00" font-size="4.2" text-anchor="middle" fill="#444" >19</text>
<line x1="201.3" y1="85.8" x2="207.3" y2="85.8" stroke="#7f0d12" stroke-width="1.6"/>
<polygon points="211.3,85.8 206.10000000000002,83.39999999999999 206.10000000000002,88.2" fill="#7f0d12"/>
<line x1="366.0" y1="84.2" x2="366.0" y2="162.0" stroke="#83161c" stroke-width="1.6"/>
<polygon points="366.0,166.0 363.8,161.1 368.2,161.1" fill="#83161c"/>
<text x="163.90" y="203.40" font-size="6.6" fill="#1c1c1c" textLength="101.60" lengthAdjust="spacingAndGlyphs" >pHGG: FGFR1/CDKN2A-driven</text>
<rect x="48.5" y="206.5" width="325" height="86" fill="none" stroke="#dcdcdc" stroke-width="1"/>
<text x="44.30" y="218.80" font-size="6.3" text-anchor="end" fill="#1c1c1c" textLength="41.00" lengthAdjust="spacingAndGlyphs" >Primary tumor</text>
<text x="44.30" y="225.60" font-size="6.3" text-anchor="end" fill="#1c1c1c" textLength="37.20" lengthAdjust="spacingAndGlyphs" >for passaging</text>
<text x="44.30" y="241.90" font-size="6.3" text-anchor="end" fill="#1c1c1c" textLength="21.50" lengthAdjust="spacingAndGlyphs" >Primary</text>
<text x="44.30" y="248.70" font-size="6.3" text-anchor="end" fill="#1c1c1c" textLength="21.90" lengthAdjust="spacingAndGlyphs" >tumor 2</text>
<text x="44.30" y="267.00" font-size="6.3" text-anchor="end" fill="#1c1c1c" textLength="21.50" lengthAdjust="spacingAndGlyphs" >Primary</text>
<text x="44.30" y="273.70" font-size="6.3" text-anchor="end" fill="#1c1c1c" textLength="21.90" lengthAdjust="spacingAndGlyphs" >tumor 3</text>
<text x="44.30" y="284.80" font-size="6.3" text-anchor="end" fill="#1c1c1c" textLength="30.40" lengthAdjust="spacingAndGlyphs" >Mouse chr.</text>
<text x="378.90" y="219.10" font-size="6.3" fill="#1c1c1c" textLength="21.60" lengthAdjust="spacingAndGlyphs" >Culture</text>
<text x="378.90" y="241.90" font-size="6.3" fill="#1c1c1c" textLength="18.80" lengthAdjust="spacingAndGlyphs" >In vivo</text>
<text x="378.90" y="248.70" font-size="6.3" fill="#1c1c1c" textLength="27.50" lengthAdjust="spacingAndGlyphs" >passage 1</text>
<text x="378.90" y="266.60" font-size="6.3" fill="#1c1c1c" textLength="18.80" lengthAdjust="spacingAndGlyphs" >In vivo</text>
<text x="378.90" y="273.60" font-size="6.3" fill="#1c1c1c" textLength="27.60" lengthAdjust="spacingAndGlyphs" >passage 2</text>
<text x="378.90" y="286.50" font-size="6.3" fill="#1c1c1c" textLength="30.40" lengthAdjust="spacingAndGlyphs" >Mouse chr.</text>
<path d="M53.4,217.6 L53.9,217.6 L54.5,217.6 L55.0,217.6 L55.6,217.6 L56.1,217.6 L56.7,217.6 L57.2,217.6 L57.8,217.6 L58.4,217.6 L58.9,217.6 L59.5,217.6 L60.0,217.6 L60.5,217.6 L61.1,217.6 L61.6,217.6 L62.2,217.6 L62.8,217.6 L63.3,217.6 L63.9,217.6 L64.4,217.6 L65.0,217.6 L65.5,217.6 L66.0,217.6 L66.6,217.6 L67.2,217.6 L67.7,217.6 L68.2,217.6 L68.8,217.6 L69.3,217.6 L69.9,217.6 L70.5,217.6 L71.0,217.6 L71.5,217.6 L72.1,217.6 L72.7,217.6 L73.2,217.6 L73.8,217.6 L74.3,217.6 L74.8,217.6 L75.4,217.6 L76.0,217.6 L76.5,217.6 L77.0,217.6 L77.6,217.6 L78.2,217.6 L78.7,217.6 L79.2,217.6 L79.8,217.6 L80.3,217.6 L80.9,217.6 L81.5,217.6 L82.0,217.6 L82.5,217.6 L83.1,217.6 L83.7,217.6 L84.2,217.6 L84.8,217.6 L85.3,217.6 L85.8,217.6 L86.4,217.6 L87.0,217.6 L87.5,217.6 L88.1,217.6 L88.6,217.6 L89.2,217.6 L89.7,217.6 L90.2,217.6 L90.8,217.6 L91.3,217.6 L91.9,217.6 L92.5,217.6 L93.0,217.6 L93.6,217.6 L94.1,217.6 L94.7,217.6 L95.2,217.6 L95.8,217.6 L96.3,217.6 L96.8,217.6 L97.4,217.6 L98.0,217.6 L98.5,217.6 L99.1,217.6 L99.6,217.6 L100.2,217.6 L100.7,217.2 L101.2,217.6 L101.8,217.4 L102.3,217.6 L102.9,216.7 L103.5,217.6 L104.0,217.6 L104.6,217.6 L105.1,217.6 L105.7,217.6 L106.2,217.6 L106.8,216.7 L107.3,217.6 L107.8,217.6 L108.4,217.6 L109.0,217.6 L109.5,217.6 L110.1,217.6 L110.6,217.6 L111.2,217.6 L111.7,217.6 L112.2,217.6 L112.8,217.6 L113.3,217.6 L113.9,217.6 L114.5,217.6 L115.0,217.6 L115.6,217.6 L116.1,217.6 L116.7,217.6 L117.2,217.6 L117.8,217.6 L118.3,217.6 L118.8,217.6 L119.4,217.6 L120.0,217.6 L120.5,217.6 L121.1,217.6 L121.6,217.6 L122.2,217.6 L122.7,217.6 L123.2,217.6 L123.8,217.6 L124.3,217.6 L124.9,217.6 L125.5,217.6 L126.0,217.6 L126.6,217.6 L127.1,217.6 L127.7,217.6 L128.2,217.6 L128.8,217.6 L129.3,217.6 L129.8,217.6 L130.4,217.6 L131.0,217.6 L131.5,217.6 L132.1,217.6 L132.6,217.6 L133.2,217.6 L133.7,217.6 L134.2,217.6 L134.8,217.6 L135.3,217.6 L135.9,217.6 L136.5,217.6 L137.0,217.6 L137.6,217.6 L138.1,217.6 L138.7,217.6 L139.2,217.6 L139.8,217.6 L140.3,217.6 L140.8,217.6 L141.4,217.6 L142.0,217.6 L142.5,217.6 L143.1,217.6 L143.6,217.6 L144.2,217.6 L144.7,217.6 L145.2,217.6 L145.8,217.6 L146.3,217.6 L146.9,217.6 L147.5,217.6 L148.0,217.6 L148.6,217.6 L149.1,217.6 L149.7,217.6 L150.2,217.6 L150.8,217.6 L151.3,217.6 L151.8,217.6 L152.4,217.6 L153.0,217.6 L153.5,217.6 L154.1,217.6 L154.6,216.2 L155.2,217.6 L155.7,217.6 L156.2,217.6 L156.8,217.6 L157.3,217.6 L157.9,217.6 L158.5,217.6 L159.0,217.6 L159.6,217.6 L160.1,217.6 L160.7,217.6 L161.2,217.6 L161.8,217.6 L162.3,217.6 L162.8,217.6 L163.4,217.6 L164.0,217.6 L164.5,217.6 L165.1,217.6 L165.6,217.6 L166.2,217.6 L166.7,217.6 L167.2,217.6 L167.8,217.6 L168.3,217.6 L168.9,217.6 L169.5,217.6 L170.0,217.6 L170.6,217.6 L171.1,217.6 L171.7,217.4 L172.2,217.6 L172.8,217.6 L173.3,217.6 L173.8,217.6 L174.4,217.6 L175.0,217.6 L175.5,217.2 L176.1,217.6 L176.6,217.6 L177.2,217.6 L177.7,217.6 L178.2,217.6 L178.8,217.6 L179.4,217.6 L179.9,217.6 L180.5,217.6 L181.0,217.6 L181.6,217.6 L182.1,217.6 L182.7,217.6 L183.2,217.6 L183.8,217.6 L184.3,217.6 L184.9,217.6 L185.4,217.6 L186.0,217.6 L186.5,217.6 L187.1,217.6 L187.6,217.6 L188.2,217.6 L188.7,217.6 L189.3,217.6 L189.8,217.6 L190.4,217.6 L190.9,217.6 L191.5,217.6 L192.0,217.6 L192.6,217.6 L193.1,217.6 L193.7,217.6 L194.2,217.6 L194.8,217.6 L195.3,216.3 L195.9,217.6 L196.4,217.6 L197.0,217.6 L197.0,218.8 L196.4,218.4 L195.9,219.9 L195.3,218.4 L194.8,218.4 L194.2,218.8 L193.7,218.4 L193.1,218.4 L192.6,218.4 L192.0,218.4 L191.5,218.4 L190.9,218.4 L190.4,218.4 L189.8,218.4 L189.3,219.1 L188.7,218.4 L188.2,218.4 L187.6,218.6 L187.1,219.0 L186.5,218.4 L186.0,218.4 L185.4,218.9 L184.9,218.4 L184.3,219.2 L183.8,218.4 L183.2,218.4 L182.7,218.7 L182.1,218.4 L181.6,218.4 L181.0,218.4 L180.5,218.4 L179.9,218.4 L179.4,218.9 L178.8,218.4 L178.2,218.4 L177.7,218.4 L177.2,218.8 L176.6,218.4 L176.1,218.4 L175.5,218.4 L175.0,218.4 L174.4,218.4 L173.8,218.4 L173.3,218.4 L172.8,218.4 L172.2,218.4 L171.7,218.4 L171.1,218.7 L170.6,218.4 L170.0,219.1 L169.5,219.0 L168.9,218.4 L168.3,218.4 L167.8,219.6 L167.2,218.4 L166.7,218.8 L166.2,218.4 L165.6,218.4 L165.1,218.7 L164.5,218.4 L164.0,218.4 L163.4,218.4 L162.8,218.4 L162.3,218.8 L161.8,218.8 L161.2,218.4 L160.7,218.6 L160.1,219.2 L159.6,218.4 L159.0,220.4 L158.5,219.1 L157.9,219.1 L157.3,218.4 L156.8,219.0 L156.2,218.7 L155.7,218.9 L155.2,218.4 L154.6,218.4 L154.1,219.1 L153.5,218.4 L153.0,218.8 L152.4,218.4 L151.8,218.4 L151.3,218.4 L150.8,219.2 L150.2,218.6 L149.7,218.4 L149.1,218.4 L148.6,218.4 L148.0,218.4 L147.5,218.9 L146.9,218.4 L146.3,218.4 L145.8,218.4 L145.2,218.4 L144.7,218.4 L144.2,219.0 L143.6,218.4 L143.1,218.4 L142.5,218.4 L142.0,218.9 L141.4,219.0 L140.8,218.4 L140.3,218.4 L139.8,218.6 L139.2,218.4 L138.7,218.4 L138.1,219.0 L137.6,218.4 L137.0,219.1 L136.5,218.7 L135.9,218.4 L135.3,218.7 L134.8,219.1 L134.2,218.8 L133.7,218.4 L133.2,218.9 L132.6,218.4 L132.1,218.4 L131.5,218.4 L131.0,218.4 L130.4,218.4 L129.8,218.4 L129.3,218.4 L128.8,218.4 L128.2,218.4 L127.7,218.4 L127.1,219.0 L126.6,218.4 L126.0,218.4 L125.5,218.4 L124.9,218.8 L124.3,218.9 L123.8,220.7 L123.2,218.4 L122.7,218.4 L122.2,218.4 L121.6,218.4 L121.1,218.4 L120.5,218.4 L120.0,218.4 L119.4,218.6 L118.8,218.4 L118.3,218.8 L117.8,218.6 L117.2,218.4 L116.7,218.7 L116.1,219.2 L115.6,218.4 L115.0,222.2 L114.5,218.8 L113.9,218.4 L113.3,218.8 L112.8,218.4 L112.2,218.4 L111.7,218.4 L111.2,218.4 L110.6,218.8 L110.1,218.6 L109.5,218.4 L109.0,218.9 L108.4,218.4 L107.8,218.4 L107.3,219.1 L106.8,218.4 L106.2,218.9 L105.7,219.4 L105.1,218.4 L104.6,218.4 L104.0,218.4 L103.5,218.7 L102.9,218.4 L102.3,218.8 L101.8,218.4 L101.2,218.4 L100.7,218.4 L100.2,218.7 L99.6,218.9 L99.1,218.4 L98.5,219.0 L98.0,218.4 L97.4,218.4 L96.8,218.4 L96.3,218.8 L95.8,219.7 L95.2,218.4 L94.7,218.4 L94.1,218.4 L93.6,218.4 L93.0,218.6 L92.5,218.4 L91.9,218.4 L91.3,218.4 L90.8,218.4 L90.2,218.4 L89.7,218.4 L89.2,218.4 L88.6,218.4 L88.1,218.8 L87.5,219.1 L87.0,218.9 L86.4,218.4 L85.8,218.8 L85.3,218.6 L84.8,219.0 L84.2,218.4 L83.7,218.4 L83.1,218.4 L82.5,218.4 L82.0,218.6 L81.5,218.4 L80.9,218.8 L80.3,218.4 L79.8,218.4 L79.2,218.4 L78.7,218.4 L78.2,218.4 L77.6,218.7 L77.0,218.6 L76.5,218.4 L76.0,218.4 L75.4,218.4 L74.8,218.8 L74.3,218.4 L73.8,218.4 L73.2,218.8 L72.7,218.4 L72.1,218.4 L71.5,218.7 L71.0,218.4 L70.5,218.4 L69.9,218.7 L69.3,218.4 L68.8,218.4 L68.2,218.4 L67.7,218.4 L67.2,218.4 L66.6,218.4 L66.0,218.4 L65.5,218.8 L65.0,219.0 L64.4,219.0 L63.9,218.4 L63.3,219.0 L62.8,218.4 L62.2,218.7 L61.6,218.4 L61.1,218.4 L60.5,218.4 L60.0,218.7 L59.5,218.4 L58.9,218.8 L58.4,218.4 L57.8,218.6 L57.2,218.4 L56.7,218.4 L56.1,218.9 L55.6,219.0 L55.0,218.4 L54.5,218.6 L53.9,218.4 L53.4,218.6Z" fill="#353535"/>
<rect x="90.95" y="212.70" width="0.9" height="5.30" fill="#353535"/>
<rect x="155.15" y="218.00" width="0.9" height="3.00" fill="#353535"/>
<rect x="164.55" y="218.00" width="0.9" height="2.00" fill="#353535"/>
<path d="M53.4,243.1 L53.9,243.1 L54.5,243.1 L55.0,243.1 L55.6,243.1 L56.1,243.1 L56.7,243.1 L57.2,243.1 L57.8,243.1 L58.4,243.1 L58.9,243.1 L59.5,243.1 L60.0,243.1 L60.5,243.1 L61.1,243.1 L61.6,243.1 L62.2,243.1 L62.8,243.1 L63.3,243.1 L63.9,243.1 L64.4,243.1 L65.0,243.1 L65.5,243.1 L66.0,243.1 L66.6,243.1 L67.2,243.1 L67.7,243.1 L68.2,243.1 L68.8,243.1 L69.3,243.1 L69.9,243.1 L70.5,243.1 L71.0,243.1 L71.5,243.1 L72.1,243.1 L72.7,243.1 L73.2,243.1 L73.8,243.1 L74.3,243.1 L74.8,243.1 L75.4,243.1 L76.0,243.1 L76.5,243.1 L77.0,243.1 L77.6,243.1 L78.2,243.1 L78.7,243.1 L79.2,243.1 L79.8,243.1 L80.3,243.1 L80.9,243.1 L81.5,243.1 L82.0,243.1 L82.5,243.1 L83.1,243.1 L83.7,243.1 L84.2,243.1 L84.8,243.1 L85.3,243.1 L85.8,243.1 L86.4,243.1 L87.0,243.1 L87.5,243.1 L88.1,243.1 L88.6,243.1 L89.2,243.1 L89.7,243.1 L90.2,243.1 L90.8,243.1 L91.3,243.1 L91.9,243.1 L92.5,243.1 L93.0,243.1 L93.6,243.1 L94.1,243.1 L94.7,243.1 L95.2,243.1 L95.8,243.1 L96.3,243.1 L96.8,243.1 L97.4,243.1 L98.0,243.1 L98.5,243.1 L99.1,243.1 L99.6,243.1 L100.2,243.1 L100.7,243.1 L101.2,243.1 L101.8,243.1 L102.3,243.1 L102.9,243.1 L103.5,243.1 L104.0,243.1 L104.6,243.1 L105.1,243.1 L105.7,243.1 L106.2,243.1 L106.8,243.1 L107.3,243.1 L107.8,243.1 L108.4,243.1 L109.0,243.1 L109.5,243.1 L110.1,243.1 L110.6,243.1 L111.2,243.1 L111.7,243.1 L112.2,243.1 L112.8,243.1 L113.3,243.1 L113.9,243.1 L114.5,243.1 L115.0,243.1 L115.6,243.1 L116.1,243.1 L116.7,243.1 L117.2,243.1 L117.8,243.1 L118.3,243.1 L118.8,243.1 L119.4,243.1 L120.0,243.1 L120.5,243.1 L121.1,243.1 L121.6,243.1 L122.2,243.1 L122.7,243.1 L123.2,243.1 L123.8,243.1 L124.3,243.1 L124.9,243.1 L125.5,243.1 L126.0,243.1 L126.6,243.1 L127.1,242.4 L127.7,243.1 L128.2,243.1 L128.8,243.1 L129.3,243.1 L129.8,243.1 L130.4,243.1 L131.0,243.1 L131.5,243.1 L132.1,243.1 L132.6,243.1 L133.2,243.1 L133.7,243.1 L134.2,243.1 L134.8,243.1 L135.3,235.7 L135.9,234.5 L136.5,236.7 L137.0,236.5 L137.6,236.5 L138.1,236.9 L138.7,237.7 L139.2,237.4 L139.8,237.5 L140.3,243.1 L140.8,243.1 L141.4,243.1 L142.0,243.1 L142.5,243.1 L143.1,243.1 L143.6,243.1 L144.2,243.1 L144.7,243.1 L145.2,243.1 L145.8,243.1 L146.3,243.1 L146.9,243.1 L147.5,243.1 L148.0,243.1 L148.6,243.1 L149.1,243.1 L149.7,243.1 L150.2,243.1 L150.8,243.1 L151.3,243.1 L151.8,243.1 L152.4,243.1 L153.0,243.1 L153.5,243.1 L154.1,243.1 L154.6,243.1 L155.2,243.1 L155.7,243.1 L156.2,243.1 L156.8,243.1 L157.3,243.1 L157.9,243.1 L158.5,243.1 L159.0,243.1 L159.6,243.1 L160.1,243.1 L160.7,243.1 L161.2,243.1 L161.8,243.1 L162.3,243.1 L162.8,243.1 L163.4,243.1 L164.0,243.1 L164.5,243.1 L165.1,243.1 L165.6,243.1 L166.2,243.1 L166.7,243.1 L167.2,243.1 L167.8,243.1 L168.3,243.1 L168.9,243.1 L169.5,243.1 L170.0,243.1 L170.6,243.1 L171.1,243.1 L171.7,243.1 L172.2,243.1 L172.8,243.1 L173.3,243.1 L173.8,243.1 L174.4,243.1 L175.0,243.1 L175.5,243.1 L176.1,243.1 L176.6,243.1 L177.2,243.1 L177.7,243.1 L178.2,243.1 L178.8,243.1 L179.4,243.1 L179.9,243.1 L180.5,243.1 L181.0,243.1 L181.6,243.1 L182.1,243.1 L182.7,243.1 L183.2,243.1 L183.8,242.2 L184.3,243.1 L184.9,243.1 L185.4,243.1 L186.0,243.1 L186.5,243.1 L187.1,242.3 L187.6,243.1 L188.2,243.1 L188.7,243.1 L189.3,243.1 L189.8,243.1 L190.4,243.1 L190.9,243.1 L191.5,243.1 L192.0,243.1 L192.6,243.1 L193.1,243.1 L193.7,243.1 L194.2,243.1 L194.8,243.1 L195.3,243.1 L195.9,243.1 L196.4,242.8 L197.0,243.1 L197.0,243.9 L196.4,243.9 L195.9,243.9 L195.3,243.9 L194.8,243.9 L194.2,243.9 L193.7,243.9 L193.1,243.9 L192.6,243.9 L192.0,244.4 L191.5,244.2 L190.9,243.9 L190.4,243.9 L189.8,243.9 L189.3,244.2 L188.7,243.9 L188.2,243.9 L187.6,243.9 L187.1,243.9 L186.5,243.9 L186.0,243.9 L185.4,243.9 L184.9,244.1 L184.3,243.9 L183.8,243.9 L183.2,244.3 L182.7,243.9 L182.1,243.9 L181.6,243.9 L181.0,243.9 L180.5,244.3 L179.9,243.9 L179.4,243.9 L178.8,244.2 L178.2,243.9 L177.7,244.2 L177.2,243.9 L176.6,244.4 L176.1,243.9 L175.5,243.9 L175.0,243.9 L174.4,243.9 L173.8,243.9 L173.3,243.9 L172.8,243.9 L172.2,243.9 L171.7,244.3 L171.1,243.9 L170.6,243.9 L170.0,244.3 L169.5,243.9 L168.9,244.1 L168.3,243.9 L167.8,245.2 L167.2,244.1 L166.7,243.9 L166.2,243.9 L165.6,243.9 L165.1,244.1 L164.5,243.9 L164.0,243.9 L163.4,244.4 L162.8,243.9 L162.3,244.2 L161.8,243.9 L161.2,243.9 L160.7,243.9 L160.1,243.9 L159.6,243.9 L159.0,244.0 L158.5,243.9 L157.9,244.1 L157.3,244.3 L156.8,244.5 L156.2,244.4 L155.7,243.9 L155.2,243.9 L154.6,244.5 L154.1,244.2 L153.5,244.3 L153.0,243.9 L152.4,243.9 L151.8,243.9 L151.3,243.9 L150.8,243.9 L150.2,243.9 L149.7,243.9 L149.1,243.9 L148.6,243.9 L148.0,243.9 L147.5,244.3 L146.9,244.2 L146.3,243.9 L145.8,244.1 L145.2,243.9 L144.7,243.9 L144.2,244.9 L143.6,244.1 L143.1,244.1 L142.5,243.9 L142.0,244.1 L141.4,243.9 L140.8,243.9 L140.3,244.3 L139.8,243.9 L139.2,243.9 L138.7,244.1 L138.1,244.4 L137.6,243.9 L137.0,243.9 L136.5,244.3 L135.9,243.9 L135.3,243.9 L134.8,244.1 L134.2,243.9 L133.7,244.1 L133.2,243.9 L132.6,243.9 L132.1,244.4 L131.5,244.3 L131.0,243.9 L130.4,243.9 L129.8,244.3 L129.3,243.9 L128.8,243.9 L128.2,243.9 L127.7,243.9 L127.1,243.9 L126.6,244.3 L126.0,244.3 L125.5,243.9 L124.9,243.9 L124.3,243.9 L123.8,243.9 L123.2,243.9 L122.7,243.9 L122.2,244.2 L121.6,243.9 L121.1,243.9 L120.5,243.9 L120.0,243.9 L119.4,243.9 L118.8,243.9 L118.3,244.4 L117.8,243.9 L117.2,243.9 L116.7,243.9 L116.1,244.5 L115.6,243.9 L115.0,243.9 L114.5,244.5 L113.9,243.9 L113.3,243.9 L112.8,244.2 L112.2,243.9 L111.7,243.9 L111.2,244.5 L110.6,243.9 L110.1,244.3 L109.5,243.9 L109.0,243.9 L108.4,244.1 L107.8,243.9 L107.3,243.9 L106.8,244.4 L106.2,244.1 L105.7,244.2 L105.1,243.9 L104.6,243.9 L104.0,243.9 L103.5,243.9 L102.9,243.9 L102.3,244.1 L101.8,244.3 L101.2,243.9 L100.7,244.5 L100.2,243.9 L99.6,244.2 L99.1,243.9 L98.5,244.1 L98.0,243.9 L97.4,244.3 L96.8,243.9 L96.3,243.9 L95.8,243.9 L95.2,243.9 L94.7,244.1 L94.1,243.9 L93.6,244.4 L93.0,243.9 L92.5,244.2 L91.9,243.9 L91.3,244.2 L90.8,243.9 L90.2,243.9 L89.7,243.9 L89.2,244.4 L88.6,244.5 L88.1,243.9 L87.5,243.9 L87.0,243.9 L86.4,243.9 L85.8,244.4 L85.3,244.4 L84.8,243.9 L84.2,244.2 L83.7,243.9 L83.1,243.9 L82.5,243.9 L82.0,243.9 L81.5,243.9 L80.9,243.9 L80.3,243.9 L79.8,243.9 L79.2,244.2 L78.7,243.9 L78.2,243.9 L77.6,243.9 L77.0,244.4 L76.5,244.2 L76.0,243.9 L75.4,243.9 L74.8,243.9 L74.3,243.9 L73.8,243.9 L73.2,243.9 L72.7,243.9 L72.1,243.9 L71.5,246.4 L71.0,244.2 L70.5,244.1 L69.9,243.9 L69.3,243.9 L68.8,244.3 L68.2,243.9 L67.7,243.9 L67.2,243.9 L66.6,244.2 L66.0,243.9 L65.5,243.9 L65.0,243.9 L64.4,243.9 L63.9,244.4 L63.3,243.9 L62.8,243.9 L62.2,244.2 L61.6,244.2 L61.1,243.9 L60.5,244.1 L60.0,243.9 L59.5,243.9 L58.9,244.4 L58.4,244.4 L57.8,243.9 L57.2,243.9 L56.7,243.9 L56.1,243.9 L55.6,244.3 L55.0,243.9 L54.5,243.9 L53.9,243.9 L53.4,244.1Z" fill="#353535"/>
<rect x="163.25" y="241.50" width="0.9" height="2.00" fill="#353535"/>
<rect x="167.35" y="243.50" width="0.9" height="4.00" fill="#353535"/>
<rect x="90.95" y="243.50" width="0.9" height="3.00" fill="#353535"/>
<path d="M53.4,265.3 L53.9,265.1 L54.5,265.1 L55.0,264.7 L55.6,265.0 L56.1,265.0 L56.7,264.8 L57.2,264.9 L57.8,265.3 L58.4,264.8 L58.9,264.7 L59.5,264.9 L60.0,264.8 L60.5,264.7 L61.1,265.4 L61.6,265.1 L62.2,264.7 L62.8,265.1 L63.3,264.8 L63.9,265.0 L64.4,265.4 L65.0,267.2 L65.5,267.2 L66.0,267.2 L66.6,267.2 L67.2,267.2 L67.7,267.2 L68.2,267.2 L68.8,267.2 L69.3,267.2 L69.9,267.2 L70.5,267.2 L71.0,267.2 L71.5,267.2 L72.1,267.2 L72.7,267.2 L73.2,267.2 L73.8,267.2 L74.3,267.2 L74.8,267.2 L75.4,267.2 L76.0,267.2 L76.5,267.2 L77.0,267.2 L77.6,267.2 L78.2,267.2 L78.7,267.2 L79.2,267.2 L79.8,267.2 L80.3,267.2 L80.9,267.2 L81.5,267.2 L82.0,267.2 L82.5,267.2 L83.1,267.2 L83.7,267.2 L84.2,267.2 L84.8,267.2 L85.3,267.2 L85.8,267.2 L86.4,267.2 L87.0,266.7 L87.5,267.2 L88.1,267.2 L88.6,267.2 L89.2,267.2 L89.7,267.2 L90.2,267.2 L90.8,267.2 L91.3,267.2 L91.9,267.2 L92.5,267.2 L93.0,267.2 L93.6,267.2 L94.1,267.2 L94.7,267.2 L95.2,267.2 L95.8,267.2 L96.3,267.2 L96.8,267.2 L97.4,267.2 L98.0,267.2 L98.5,267.2 L99.1,267.2 L99.6,267.2 L100.2,267.2 L100.7,267.2 L101.2,267.2 L101.8,267.2 L102.3,267.2 L102.9,267.2 L103.5,267.2 L104.0,267.2 L104.6,267.2 L105.1,267.2 L105.7,267.2 L106.2,267.2 L106.8,267.2 L107.3,267.2 L107.8,267.2 L108.4,267.2 L109.0,267.2 L109.5,267.2 L110.1,267.2 L110.6,267.2 L111.2,267.2 L111.7,267.2 L112.2,267.2 L112.8,267.2 L113.3,267.2 L113.9,266.5 L114.5,267.2 L115.0,267.2 L115.6,267.2 L116.1,267.2 L116.7,267.2 L117.2,267.2 L117.8,267.2 L118.3,267.2 L118.8,267.2 L119.4,267.2 L120.0,267.2 L120.5,267.2 L121.1,267.2 L121.6,267.2 L122.2,267.2 L122.7,266.5 L123.2,267.2 L123.8,267.2 L124.3,267.2 L124.9,267.2 L125.5,267.2 L126.0,267.2 L126.6,267.2 L127.1,267.2 L127.7,267.2 L128.2,267.2 L128.8,267.2 L129.3,267.2 L129.8,267.2 L130.4,267.2 L131.0,267.2 L131.5,267.2 L132.1,267.2 L132.6,267.2 L133.2,267.2 L133.7,267.2 L134.2,267.2 L134.8,267.2 L135.3,267.2 L135.9,267.2 L136.5,267.2 L137.0,267.2 L137.6,267.2 L138.1,266.9 L138.7,267.2 L139.2,267.2 L139.8,267.2 L140.3,267.2 L140.8,267.2 L141.4,267.2 L142.0,267.2 L142.5,267.2 L143.1,267.2 L143.6,267.2 L144.2,267.2 L144.7,267.2 L145.2,267.2 L145.8,267.2 L146.3,266.2 L146.9,267.2 L147.5,267.2 L148.0,267.2 L148.6,267.2 L149.1,267.2 L149.7,267.2 L150.2,267.2 L150.8,267.2 L151.3,267.2 L151.8,267.2 L152.4,267.2 L153.0,267.2 L153.5,267.2 L154.1,267.2 L154.6,267.2 L155.2,267.2 L155.7,267.2 L156.2,267.2 L156.8,267.2 L157.3,267.2 L157.9,267.2 L158.5,267.2 L159.0,267.2 L159.6,267.2 L160.1,267.2 L160.7,267.0 L161.2,267.2 L161.8,267.2 L162.3,267.2 L162.8,267.2 L163.4,267.2 L164.0,267.2 L164.5,267.2 L165.1,267.2 L165.6,267.2 L166.2,267.2 L166.7,267.2 L167.2,267.2 L167.8,267.2 L168.3,267.2 L168.9,267.2 L169.5,267.2 L170.0,267.2 L170.6,267.2 L171.1,267.2 L171.7,267.2 L172.2,267.2 L172.8,267.2 L173.3,267.2 L173.8,267.2 L174.4,267.2 L175.0,267.2 L175.5,267.2 L176.1,267.2 L176.6,267.2 L177.2,267.2 L177.7,267.2 L178.2,267.2 L178.8,267.2 L179.4,267.2 L179.9,267.2 L180.5,267.2 L181.0,267.2 L181.6,267.2 L182.1,267.2 L182.7,267.2 L183.2,267.2 L183.8,267.2 L184.3,267.2 L184.9,267.2 L185.4,267.2 L186.0,266.6 L186.5,267.2 L187.1,267.2 L187.6,267.2 L188.2,267.2 L188.7,267.2 L189.3,267.2 L189.8,267.2 L190.4,267.2 L190.9,267.2 L191.5,267.2 L192.0,267.2 L192.6,267.2 L193.1,267.2 L193.7,267.2 L194.2,267.2 L194.8,267.2 L195.3,267.2 L195.9,267.2 L196.4,267.2 L197.0,267.2 L197.0,268.1 L196.4,268.1 L195.9,268.1 L195.3,268.1 L194.8,268.3 L194.2,268.1 L193.7,268.3 L193.1,268.1 L192.6,268.1 L192.0,268.1 L191.5,268.1 L190.9,268.1 L190.4,268.1 L189.8,268.1 L189.3,268.8 L188.7,268.1 L188.2,268.9 L187.6,268.6 L187.1,268.1 L186.5,268.1 L186.0,268.1 L185.4,268.1 L184.9,268.1 L184.3,268.1 L183.8,268.1 L183.2,268.1 L182.7,268.1 L182.1,268.1 L181.6,268.1 L181.0,268.1 L180.5,268.1 L179.9,268.1 L179.4,268.1 L178.8,268.1 L178.2,268.1 L177.7,268.1 L177.2,268.1 L176.6,268.1 L176.1,268.1 L175.5,268.1 L175.0,268.1 L174.4,268.1 L173.8,268.1 L173.3,268.1 L172.8,269.2 L172.2,268.1 L171.7,268.1 L171.1,268.1 L170.6,268.1 L170.0,268.1 L169.5,268.1 L168.9,268.1 L168.3,268.5 L167.8,268.1 L167.2,268.1 L166.7,268.5 L166.2,268.5 L165.6,268.1 L165.1,268.1 L164.5,268.1 L164.0,268.1 L163.4,268.1 L162.8,268.5 L162.3,268.1 L161.8,268.1 L161.2,268.1 L160.7,268.1 L160.1,268.1 L159.6,268.1 L159.0,268.3 L158.5,268.7 L157.9,268.1 L157.3,269.1 L156.8,268.1 L156.2,268.1 L155.7,268.1 L155.2,268.4 L154.6,268.1 L154.1,268.1 L153.5,268.1 L153.0,268.1 L152.4,268.1 L151.8,269.0 L151.3,268.1 L150.8,268.1 L150.2,268.1 L149.7,268.1 L149.1,268.1 L148.6,268.1 L148.0,268.1 L147.5,268.1 L146.9,268.1 L146.3,268.1 L145.8,268.1 L145.2,268.3 L144.7,268.1 L144.2,268.1 L143.6,268.5 L143.1,268.4 L142.5,268.1 L142.0,268.1 L141.4,268.1 L140.8,268.1 L140.3,268.1 L139.8,268.1 L139.2,268.4 L138.7,268.1 L138.1,268.1 L137.6,268.1 L137.0,268.1 L136.5,268.1 L135.9,268.1 L135.3,268.1 L134.8,268.1 L134.2,268.1 L133.7,268.1 L133.2,268.1 L132.6,268.1 L132.1,268.1 L131.5,268.6 L131.0,268.1 L130.4,268.1 L129.8,268.1 L129.3,268.3 L128.8,268.4 L128.2,268.1 L127.7,268.1 L127.1,268.3 L126.6,268.6 L126.0,268.1 L125.5,268.1 L124.9,268.1 L124.3,268.5 L123.8,268.1 L123.2,268.1 L122.7,268.1 L122.2,268.1 L121.6,268.6 L121.1,268.5 L120.5,268.1 L120.0,268.1 L119.4,268.1 L118.8,268.1 L118.3,268.3 L117.8,268.1 L117.2,268.1 L116.7,268.1 L116.1,268.7 L115.6,268.1 L115.0,268.1 L114.5,268.3 L113.9,268.1 L113.3,268.4 L112.8,268.4 L112.2,268.1 L111.7,268.6 L111.2,268.1 L110.6,268.1 L110.1,268.6 L109.5,268.3 L109.0,268.3 L108.4,268.1 L107.8,268.1 L107.3,268.4 L106.8,268.1 L106.2,268.1 L105.7,268.2 L105.1,268.1 L104.6,268.1 L104.0,268.1 L103.5,268.1 L102.9,268.1 L102.3,268.1 L101.8,268.3 L101.2,268.1 L100.7,269.4 L100.2,268.1 L99.6,268.1 L99.1,268.7 L98.5,268.1 L98.0,268.1 L97.4,268.1 L96.8,268.7 L96.3,268.3 L95.8,268.1 L95.2,268.1 L94.7,268.3 L94.1,268.1 L93.6,268.1 L93.0,268.1 L92.5,268.1 L91.9,268.1 L91.3,268.1 L90.8,268.1 L90.2,268.1 L89.7,268.1 L89.2,268.1 L88.6,268.1 L88.1,268.1 L87.5,268.1 L87.0,268.1 L86.4,268.1 L85.8,268.3 L85.3,268.1 L84.8,268.4 L84.2,268.1 L83.7,268.6 L83.1,268.1 L82.5,268.1 L82.0,268.1 L81.5,268.1 L80.9,268.3 L80.3,268.5 L79.8,268.1 L79.2,268.1 L78.7,268.1 L78.2,268.1 L77.6,269.2 L77.0,268.1 L76.5,268.5 L76.0,268.1 L75.4,268.1 L74.8,268.1 L74.3,268.1 L73.8,268.1 L73.2,268.5 L72.7,268.4 L72.1,268.6 L71.5,268.1 L71.0,268.1 L70.5,269.9 L69.9,269.2 L69.3,269.1 L68.8,269.1 L68.2,269.1 L67.7,269.1 L67.2,269.2 L66.6,269.3 L66.0,269.2 L65.5,269.1 L65.0,269.2 L64.4,268.1 L63.9,268.1 L63.3,268.1 L62.8,268.1 L62.2,268.4 L61.6,268.1 L61.1,268.1 L60.5,268.1 L60.0,268.1 L59.5,268.1 L58.9,268.1 L58.4,268.1 L57.8,268.1 L57.2,268.1 L56.7,268.4 L56.1,268.1 L55.6,268.1 L55.0,268.1 L54.5,268.1 L53.9,268.1 L53.4,268.1Z" fill="#353535"/>
<rect x="69.55" y="267.70" width="0.9" height="3.00" fill="#353535"/>
<text x="59.11" y="287.00" font-size="4.2" text-anchor="middle" fill="#444" >1</text>
<text x="70.13" y="284.40" font-size="4.2" text-anchor="middle" fill="#444" >2</text>
<text x="80.12" y="287.00" font-size="4.2" text-anchor="middle" fill="#444" >3</text>
<text x="89.36" y="284.40" font-size="4.2" text-anchor="middle" fill="#444" >4</text>
<text x="98.36" y="287.00" font-size="4.2" text-anchor="middle" fill="#444" >5</text>
<text x="107.17" y="284.40" font-size="4.2" text-anchor="middle" fill="#444" >6</text>
<text x="115.79" y="287.00" font-size="4.2" text-anchor="middle" fill="#444" >7</text>
<text x="123.81" y="284.40" font-size="4.2" text-anchor="middle" fill="#444" >8</text>
<text x="131.23" y="287.00" font-size="4.2" text-anchor="middle" fill="#444" >9</text>
<text x="138.68" y="284.40" font-size="4.2" text-anchor="middle" fill="#444" >10</text>
<text x="146.06" y="287.00" font-size="4.2" text-anchor="middle" fill="#444" >11</text>
<text x="153.13" y="284.40" font-size="4.2" text-anchor="middle" fill="#444" >12</text>
<text x="160.15" y="287.00" font-size="4.2" text-anchor="middle" fill="#444" >13</text>
<text x="167.31" y="284.40" font-size="4.2" text-anchor="middle" fill="#444" >14</text>
<text x="174.00" y="287.00" font-size="4.2" text-anchor="middle" fill="#444" >15</text>
<text x="179.90" y="284.40" font-size="4.2" text-anchor="middle" fill="#444" >16</text>
<text x="185.54" y="287.00" font-size="4.2" text-anchor="middle" fill="#444" >17</text>
<text x="190.97" y="284.40" font-size="4.2" text-anchor="middle" fill="#444" >18</text>
<text x="195.41" y="287.00" font-size="4.2" text-anchor="middle" fill="#444" >19</text>
<path d="M216.0,212.9 L216.6,213.0 L217.1,212.4 L217.7,212.6 L218.2,212.5 L218.8,212.7 L219.3,212.9 L219.8,212.9 L220.4,212.9 L220.9,212.3 L221.5,212.5 L222.1,213.0 L222.6,212.9 L223.2,212.9 L223.7,212.4 L224.2,212.4 L224.8,212.7 L225.3,212.8 L225.9,212.4 L226.4,213.0 L227.0,212.7 L227.6,213.0 L228.1,217.5 L228.7,217.5 L229.2,217.5 L229.8,217.5 L230.3,217.5 L230.8,217.5 L231.4,217.5 L231.9,217.5 L232.5,217.5 L233.1,217.5 L233.6,217.5 L234.2,217.5 L234.7,217.5 L235.2,217.5 L235.8,217.5 L236.3,217.5 L236.9,217.5 L237.4,217.5 L238.0,217.5 L238.6,217.5 L239.1,217.5 L239.7,217.5 L240.2,217.5 L240.8,217.5 L241.3,217.5 L241.8,217.5 L242.4,217.5 L242.9,217.5 L243.5,217.5 L244.1,217.5 L244.6,217.5 L245.2,217.5 L245.7,217.5 L246.2,217.5 L246.8,217.5 L247.3,217.5 L247.9,216.7 L248.4,217.5 L249.0,217.5 L249.6,217.5 L250.1,217.5 L250.7,217.5 L251.2,217.5 L251.8,217.5 L252.3,217.5 L252.8,217.5 L253.4,217.5 L253.9,217.5 L254.5,217.5 L255.1,217.5 L255.6,217.5 L256.1,217.5 L256.7,217.5 L257.2,217.5 L257.8,217.5 L258.4,217.5 L258.9,217.4 L259.4,217.5 L260.0,217.5 L260.6,217.5 L261.1,217.5 L261.6,217.5 L262.2,217.5 L262.8,217.5 L263.3,217.5 L263.9,217.5 L264.4,217.5 L264.9,217.5 L265.5,217.5 L266.1,217.5 L266.6,217.5 L267.1,217.5 L267.7,217.5 L268.2,217.5 L268.8,217.5 L269.4,217.5 L269.9,217.5 L270.4,217.5 L271.0,217.5 L271.6,217.5 L272.1,217.5 L272.6,217.5 L273.2,217.5 L273.8,217.5 L274.3,217.5 L274.9,217.5 L275.4,217.5 L275.9,217.5 L276.5,217.5 L277.1,217.5 L277.6,217.5 L278.1,217.5 L278.7,217.5 L279.2,217.5 L279.8,217.5 L280.4,217.5 L280.9,217.5 L281.4,217.5 L282.0,217.5 L282.6,217.5 L283.1,217.5 L283.6,217.4 L284.2,217.5 L284.8,217.5 L285.3,217.5 L285.9,217.5 L286.4,217.5 L286.9,217.5 L287.5,217.5 L288.1,217.5 L288.6,217.5 L289.1,217.5 L289.7,217.5 L290.2,217.5 L290.8,217.5 L291.4,217.5 L291.9,217.5 L292.4,216.0 L293.0,217.5 L293.6,217.5 L294.1,217.5 L294.6,217.5 L295.2,217.5 L295.8,217.5 L296.3,217.5 L296.9,217.5 L297.4,217.5 L297.9,217.5 L298.5,217.5 L299.1,217.5 L299.6,217.5 L300.1,217.3 L300.7,217.5 L301.2,217.5 L301.8,217.5 L302.4,217.5 L302.9,217.5 L303.4,217.5 L304.0,217.5 L304.6,217.5 L305.1,217.5 L305.6,217.5 L306.2,217.5 L306.8,217.5 L307.3,217.5 L307.9,217.5 L308.4,216.8 L308.9,217.5 L309.5,217.5 L310.1,217.5 L310.6,217.5 L311.1,217.5 L311.7,217.5 L312.2,217.5 L312.8,217.5 L313.4,217.5 L313.9,217.5 L314.4,217.5 L315.0,217.5 L315.6,217.4 L316.1,217.5 L316.6,217.5 L317.2,217.5 L317.8,217.5 L318.3,217.5 L318.9,217.5 L319.4,217.5 L319.9,217.5 L320.5,217.5 L321.1,217.5 L321.6,217.5 L322.1,217.5 L322.7,217.5 L323.2,217.5 L323.8,217.5 L324.4,217.5 L324.9,217.5 L325.4,217.5 L326.0,217.5 L326.6,217.5 L327.1,217.5 L327.6,217.5 L328.2,217.5 L328.8,217.5 L329.3,217.5 L329.9,217.5 L330.4,217.5 L330.9,217.5 L331.5,217.5 L332.1,217.5 L332.6,217.5 L333.1,217.5 L333.7,217.5 L334.2,217.5 L334.8,217.5 L335.4,217.5 L335.9,217.5 L336.4,217.5 L337.0,217.5 L337.6,217.5 L338.1,217.5 L338.6,217.5 L339.2,217.5 L339.8,217.5 L340.3,217.5 L340.9,217.5 L341.4,217.5 L342.0,217.5 L342.5,217.5 L343.1,217.5 L343.6,217.5 L344.1,217.5 L344.7,217.5 L345.2,217.5 L345.8,217.5 L346.4,217.5 L346.9,217.5 L347.5,217.5 L348.0,217.5 L348.6,217.5 L349.1,217.5 L349.6,217.5 L350.2,217.5 L350.8,217.5 L351.3,217.5 L351.9,217.5 L352.4,217.5 L353.0,217.5 L353.5,217.5 L354.1,217.5 L354.6,217.5 L355.1,217.5 L355.7,217.5 L356.2,217.5 L356.8,217.5 L357.4,217.5 L357.9,217.5 L358.5,217.5 L359.0,217.5 L359.6,217.5 L359.6,220.0 L359.0,219.9 L358.5,219.1 L357.9,219.1 L357.4,218.5 L356.8,219.3 L356.2,219.2 L355.7,219.9 L355.1,218.8 L354.6,218.5 L354.1,219.0 L353.5,219.5 L353.0,219.8 L352.4,219.8 L351.9,219.9 L351.3,219.0 L350.8,220.1 L350.2,218.5 L349.6,220.3 L349.1,220.2 L348.6,220.3 L348.0,219.3 L347.5,219.5 L346.9,220.1 L346.4,219.8 L345.8,220.4 L345.2,219.1 L344.7,219.8 L344.1,219.7 L343.6,219.9 L343.1,219.3 L342.5,219.6 L342.0,219.7 L341.4,219.2 L340.9,220.1 L340.3,219.9 L339.8,221.4 L339.2,220.0 L338.6,220.1 L338.1,220.0 L337.6,219.3 L337.0,219.5 L336.4,219.6 L335.9,219.8 L335.4,218.5 L334.8,219.9 L334.2,219.6 L333.7,220.0 L333.1,218.5 L332.6,219.9 L332.1,219.3 L331.5,220.0 L330.9,219.1 L330.4,219.2 L329.9,219.6 L329.3,219.7 L328.8,219.2 L328.2,221.2 L327.6,219.9 L327.1,220.0 L326.6,218.9 L326.0,218.5 L325.4,219.8 L324.9,219.6 L324.4,219.8 L323.8,218.5 L323.2,219.2 L322.7,219.1 L322.1,219.6 L321.6,220.1 L321.1,219.0 L320.5,218.5 L319.9,218.5 L319.4,219.6 L318.9,219.1 L318.3,224.9 L317.8,220.1 L317.2,218.8 L316.6,219.1 L316.1,218.5 L315.6,218.5 L315.0,219.9 L314.4,218.5 L313.9,218.9 L313.4,220.1 L312.8,219.0 L312.2,218.5 L311.7,219.7 L311.1,219.6 L310.6,219.6 L310.1,219.3 L309.5,219.6 L308.9,218.8 L308.4,218.5 L307.9,219.4 L307.3,221.1 L306.8,219.2 L306.2,220.7 L305.6,219.7 L305.1,218.9 L304.6,219.1 L304.0,219.4 L303.4,218.5 L302.9,219.4 L302.4,218.8 L301.8,219.2 L301.2,219.7 L300.7,218.5 L300.1,218.5 L299.6,219.3 L299.1,219.7 L298.5,218.5 L297.9,219.3 L297.4,221.4 L296.9,219.3 L296.3,219.4 L295.8,218.5 L295.2,219.7 L294.6,220.0 L294.1,218.5 L293.6,219.1 L293.0,220.0 L292.4,218.5 L291.9,218.5 L291.4,219.4 L290.8,218.9 L290.2,219.3 L289.7,219.2 L289.1,220.7 L288.6,219.4 L288.1,220.0 L287.5,220.1 L286.9,229.7 L286.4,219.5 L285.9,220.8 L285.3,218.5 L284.8,220.1 L284.2,219.1 L283.6,218.5 L283.1,219.5 L282.6,219.1 L282.0,219.0 L281.4,219.5 L280.9,218.5 L280.4,220.1 L279.8,219.3 L279.2,218.5 L278.7,218.5 L278.1,218.9 L277.6,218.8 L277.1,219.4 L276.5,218.8 L275.9,218.5 L275.4,218.5 L274.9,219.7 L274.3,218.5 L273.8,224.6 L273.2,220.1 L272.6,218.5 L272.1,218.5 L271.6,218.9 L271.0,219.3 L270.4,220.2 L269.9,218.5 L269.4,220.0 L268.8,218.8 L268.2,219.3 L267.7,218.5 L267.1,218.9 L266.6,219.1 L266.1,219.0 L265.5,219.9 L264.9,218.5 L264.4,219.1 L263.9,219.1 L263.3,219.5 L262.8,219.0 L262.2,219.9 L261.6,218.5 L261.1,220.0 L260.6,218.5 L260.0,218.5 L259.4,218.5 L258.9,218.5 L258.4,220.0 L257.8,218.9 L257.2,219.9 L256.7,218.9 L256.1,219.8 L255.6,219.9 L255.1,218.9 L254.5,219.9 L253.9,219.4 L253.4,219.7 L252.8,219.7 L252.3,219.0 L251.8,219.8 L251.2,219.9 L250.7,219.7 L250.1,219.9 L249.6,219.0 L249.0,219.9 L248.4,218.8 L247.9,218.5 L247.3,218.5 L246.8,218.5 L246.2,221.0 L245.7,219.6 L245.2,219.7 L244.6,219.6 L244.1,219.9 L243.5,219.0 L242.9,218.5 L242.4,218.5 L241.8,219.2 L241.3,221.5 L240.8,219.6 L240.2,220.0 L239.7,218.5 L239.1,220.1 L238.6,219.7 L238.0,218.9 L237.4,219.2 L236.9,219.1 L236.3,219.0 L235.8,219.1 L235.2,220.0 L234.7,218.5 L234.2,220.0 L233.6,219.1 L233.1,218.5 L232.5,219.3 L231.9,219.4 L231.4,218.5 L230.8,218.5 L230.3,219.6 L229.8,220.0 L229.2,218.9 L228.7,218.5 L228.1,218.8 L227.6,218.8 L227.0,218.8 L226.4,218.8 L225.9,218.8 L225.3,218.8 L224.8,218.8 L224.2,218.5 L223.7,218.5 L223.2,218.8 L222.6,218.8 L222.1,218.5 L221.5,218.8 L220.9,218.8 L220.4,218.8 L219.8,218.8 L219.3,218.8 L218.8,218.8 L218.2,218.8 L217.7,218.8 L217.1,218.8 L216.6,218.5 L216.0,218.8Z" fill="#353535"/>
<rect x="252.85" y="214.00" width="0.9" height="4.00" fill="#353535"/>
<rect x="318.85" y="218.00" width="0.9" height="4.00" fill="#353535"/>
<rect x="330.75" y="218.00" width="0.9" height="7.60" fill="#353535"/>
<path d="M216.0,237.1 L216.6,236.4 L217.1,236.8 L217.7,237.8 L218.2,237.2 L218.8,237.9 L219.3,237.7 L219.8,238.3 L220.4,237.7 L220.9,238.3 L221.5,238.3 L222.1,238.0 L222.6,238.2 L223.2,237.9 L223.7,238.5 L224.2,238.1 L224.8,238.7 L225.3,238.5 L225.9,238.2 L226.4,238.0 L227.0,238.0 L227.6,238.6 L228.1,243.0 L228.7,243.0 L229.2,243.0 L229.8,243.0 L230.3,243.0 L230.8,243.0 L231.4,243.0 L231.9,243.0 L232.5,243.0 L233.1,243.0 L233.6,243.0 L234.2,243.0 L234.7,243.0 L235.2,243.0 L235.8,243.0 L236.3,243.0 L236.9,243.0 L237.4,243.0 L238.0,243.0 L238.6,243.0 L239.1,243.0 L239.7,243.0 L240.2,243.0 L240.8,243.0 L241.3,243.0 L241.8,243.0 L242.4,243.0 L242.9,243.0 L243.5,243.0 L244.1,243.0 L244.6,243.0 L245.2,243.0 L245.7,243.0 L246.2,243.0 L246.8,243.0 L247.3,243.0 L247.9,243.0 L248.4,243.0 L249.0,243.0 L249.6,243.0 L250.1,243.0 L250.7,243.0 L251.2,243.0 L251.8,243.0 L252.3,243.0 L252.8,243.0 L253.4,243.0 L253.9,243.0 L254.5,242.4 L255.1,243.0 L255.6,243.0 L256.1,243.0 L256.7,243.0 L257.2,243.0 L257.8,243.0 L258.4,243.0 L258.9,243.0 L259.4,243.0 L260.0,243.0 L260.6,243.0 L261.1,243.0 L261.6,243.0 L262.2,243.0 L262.8,243.0 L263.3,243.0 L263.9,243.0 L264.4,243.0 L264.9,243.0 L265.5,243.0 L266.1,243.0 L266.6,243.0 L267.1,243.0 L267.7,243.0 L268.2,243.0 L268.8,243.0 L269.4,243.0 L269.9,243.0 L270.4,243.0 L271.0,243.0 L271.6,243.0 L272.1,243.0 L272.6,243.0 L273.2,243.0 L273.8,243.0 L274.3,243.0 L274.9,243.0 L275.4,243.0 L275.9,242.8 L276.5,243.0 L277.1,243.0 L277.6,243.0 L278.1,243.0 L278.7,243.0 L279.2,243.0 L279.8,243.0 L280.4,243.0 L280.9,243.0 L281.4,243.0 L282.0,243.0 L282.6,243.0 L283.1,243.0 L283.6,243.0 L284.2,243.0 L284.8,243.0 L285.3,243.0 L285.9,243.0 L286.4,243.0 L286.9,243.0 L287.5,243.0 L288.1,243.0 L288.6,243.0 L289.1,243.0 L289.7,243.0 L290.2,243.0 L290.8,243.0 L291.4,243.0 L291.9,243.0 L292.4,243.0 L293.0,243.0 L293.6,243.0 L294.1,243.0 L294.6,243.0 L295.2,243.0 L295.8,242.8 L296.3,243.0 L296.9,243.0 L297.4,243.0 L297.9,243.0 L298.5,243.0 L299.1,243.0 L299.6,243.0 L300.1,243.0 L300.7,243.0 L301.2,243.0 L301.8,243.0 L302.4,243.0 L302.9,243.0 L303.4,243.0 L304.0,243.0 L304.6,238.4 L305.1,237.9 L305.6,238.1 L306.2,237.5 L306.8,237.1 L307.3,237.5 L307.9,237.5 L308.4,237.6 L308.9,238.0 L309.5,237.2 L310.1,237.4 L310.6,238.2 L311.1,238.3 L311.7,237.1 L312.2,243.0 L312.8,243.0 L313.4,243.0 L313.9,243.0 L314.4,243.0 L315.0,243.0 L315.6,243.0 L316.1,243.0 L316.6,243.0 L317.2,243.0 L317.8,243.0 L318.3,243.0 L318.9,243.0 L319.4,243.0 L319.9,243.0 L320.5,243.0 L321.1,243.0 L321.6,243.0 L322.1,243.0 L322.7,243.0 L323.2,243.0 L323.8,243.0 L324.4,243.0 L324.9,243.0 L325.4,243.0 L326.0,243.0 L326.6,243.0 L327.1,243.0 L327.6,243.0 L328.2,242.4 L328.8,243.0 L329.3,243.0 L329.9,243.0 L330.4,243.0 L330.9,243.0 L331.5,243.0 L332.1,243.0 L332.6,243.0 L333.1,243.0 L333.7,243.0 L334.2,243.0 L334.8,243.0 L335.4,243.0 L335.9,243.0 L336.4,243.0 L337.0,243.0 L337.6,243.0 L338.1,243.0 L338.6,243.0 L339.2,243.0 L339.8,243.0 L340.3,243.0 L340.9,243.0 L341.4,243.0 L342.0,243.0 L342.5,243.0 L343.1,243.0 L343.6,242.9 L344.1,243.0 L344.7,243.0 L345.2,243.0 L345.8,243.0 L346.4,243.0 L346.9,243.0 L347.5,243.0 L348.0,243.0 L348.6,243.0 L349.1,243.0 L349.6,243.0 L350.2,243.0 L350.8,243.0 L351.3,243.0 L351.9,243.0 L352.4,243.0 L353.0,243.0 L353.5,243.0 L354.1,243.0 L354.6,243.0 L355.1,243.0 L355.7,243.0 L356.2,243.0 L356.8,243.0 L357.4,243.0 L357.9,243.0 L358.5,243.0 L359.0,243.0 L359.6,243.0 L359.6,244.0 L359.0,244.3 L358.5,244.0 L357.9,245.5 L357.4,244.4 L356.8,244.3 L356.2,244.0 L355.7,244.0 L355.1,244.4 L354.6,244.0 L354.1,244.0 L353.5,244.0 L353.0,244.0 L352.4,244.0 L351.9,244.1 L351.3,244.0 L350.8,244.3 L350.2,244.0 L349.6,244.0 L349.1,244.0 L348.6,244.0 L348.0,244.2 L347.5,244.0 L346.9,244.0 L346.4,244.0 L345.8,244.0 L345.2,244.0 L344.7,244.0 L344.1,244.0 L343.6,244.0 L343.1,244.0 L342.5,244.0 L342.0,244.0 L341.4,244.0 L340.9,244.0 L340.3,244.0 L339.8,244.0 L339.2,244.4 L338.6,244.0 L338.1,244.0 L337.6,244.0 L337.0,244.0 L336.4,244.0 L335.9,246.4 L335.4,244.0 L334.8,244.0 L334.2,244.0 L333.7,244.0 L333.1,244.0 L332.6,244.0 L332.1,244.1 L331.5,244.0 L330.9,244.5 L330.4,244.0 L329.9,244.0 L329.3,244.0 L328.8,244.0 L328.2,244.0 L327.6,244.0 L327.1,244.0 L326.6,244.0 L326.0,244.1 L325.4,244.0 L324.9,244.0 L324.4,244.5 L323.8,244.0 L323.2,246.0 L322.7,244.0 L322.1,244.0 L321.6,244.0 L321.1,244.0 L320.5,244.4 L319.9,244.0 L319.4,244.0 L318.9,244.0 L318.3,244.5 L317.8,244.0 L317.2,244.0 L316.6,244.0 L316.1,245.4 L315.6,244.0 L315.0,244.0 L314.4,244.0 L313.9,244.0 L313.4,244.1 L312.8,244.0 L312.2,244.0 L311.7,244.0 L311.1,244.0 L310.6,244.1 L310.1,244.0 L309.5,244.3 L308.9,244.3 L308.4,244.3 L307.9,244.0 L307.3,244.0 L306.8,244.0 L306.2,244.3 L305.6,244.0 L305.1,244.0 L304.6,244.3 L304.0,244.0 L303.4,244.0 L302.9,244.5 L302.4,244.0 L301.8,244.0 L301.2,244.0 L300.7,244.5 L300.1,244.0 L299.6,244.0 L299.1,244.0 L298.5,244.0 L297.9,244.2 L297.4,244.0 L296.9,244.3 L296.3,244.0 L295.8,244.0 L295.2,244.0 L294.6,244.0 L294.1,244.4 L293.6,244.0 L293.0,244.0 L292.4,244.0 L291.9,244.0 L291.4,244.4 L290.8,244.1 L290.2,244.0 L289.7,244.0 L289.1,244.7 L288.6,244.0 L288.1,244.4 L287.5,244.0 L286.9,244.0 L286.4,244.0 L285.9,244.2 L285.3,244.0 L284.8,244.0 L284.2,244.0 L283.6,244.0 L283.1,244.0 L282.6,244.4 L282.0,244.3 L281.4,244.0 L280.9,244.3 L280.4,244.0 L279.8,244.0 L279.2,244.0 L278.7,244.5 L278.1,244.0 L277.6,244.0 L277.1,244.0 L276.5,244.0 L275.9,244.0 L275.4,244.0 L274.9,244.2 L274.3,244.0 L273.8,244.3 L273.2,244.0 L272.6,244.0 L272.1,244.0 L271.6,244.0 L271.0,244.0 L270.4,244.1 L269.9,244.0 L269.4,244.0 L268.8,244.0 L268.2,244.0 L267.7,244.1 L267.1,244.2 L266.6,244.5 L266.1,245.0 L265.5,244.0 L264.9,244.2 L264.4,244.0 L263.9,244.0 L263.3,244.0 L262.8,244.2 L262.2,244.3 L261.6,244.5 L261.1,244.3 L260.6,244.0 L260.0,245.4 L259.4,244.5 L258.9,244.0 L258.4,244.0 L257.8,244.0 L257.2,246.3 L256.7,244.0 L256.1,244.0 L255.6,244.4 L255.1,244.0 L254.5,244.0 L253.9,244.0 L253.4,244.0 L252.8,244.3 L252.3,244.0 L251.8,244.0 L251.2,244.0 L250.7,244.8 L250.1,244.0 L249.6,244.4 L249.0,244.0 L248.4,244.0 L247.9,244.0 L247.3,244.3 L246.8,244.0 L246.2,244.0 L245.7,244.9 L245.2,244.5 L244.6,244.0 L244.1,244.4 L243.5,244.2 L242.9,244.0 L242.4,244.0 L241.8,244.0 L241.3,244.0 L240.8,244.0 L240.2,244.0 L239.7,244.2 L239.1,244.1 L238.6,244.0 L238.0,244.0 L237.4,244.0 L236.9,244.0 L236.3,244.0 L235.8,244.0 L235.2,244.0 L234.7,244.4 L234.2,244.0 L233.6,244.0 L233.1,244.2 L232.5,244.0 L231.9,244.0 L231.4,244.0 L230.8,244.4 L230.3,244.2 L229.8,244.0 L229.2,244.0 L228.7,244.0 L228.1,244.0 L227.6,244.0 L227.0,244.0 L226.4,244.0 L225.9,244.0 L225.3,244.0 L224.8,244.0 L224.2,244.0 L223.7,244.0 L223.2,244.1 L222.6,244.5 L222.1,244.0 L221.5,244.5 L220.9,244.4 L220.4,244.0 L219.8,244.2 L219.3,244.0 L218.8,244.5 L218.2,244.0 L217.7,244.0 L217.1,244.0 L216.6,244.2 L216.0,244.0Z" fill="#353535"/>
<rect x="252.85" y="236.50" width="0.9" height="7.00" fill="#353535"/>
<rect x="317.55" y="243.50" width="0.9" height="3.00" fill="#353535"/>
<rect x="330.55" y="243.50" width="0.9" height="3.00" fill="#353535"/>
<path d="M216.0,262.4 L216.6,261.8 L217.1,262.2 L217.7,262.5 L218.2,262.6 L218.8,261.7 L219.3,262.5 L219.8,262.3 L220.4,261.4 L220.9,262.6 L221.5,262.8 L222.1,262.8 L222.6,262.1 L223.2,262.7 L223.7,262.9 L224.2,262.4 L224.8,262.7 L225.3,262.4 L225.9,263.2 L226.4,262.7 L227.0,262.4 L227.6,262.7 L228.1,267.2 L228.7,267.2 L229.2,267.2 L229.8,267.2 L230.3,267.2 L230.8,267.2 L231.4,267.2 L231.9,267.2 L232.5,267.2 L233.1,267.2 L233.6,267.2 L234.2,267.2 L234.7,267.2 L235.2,267.2 L235.8,267.2 L236.3,267.2 L236.9,267.2 L237.4,267.2 L238.0,267.2 L238.6,267.2 L239.1,267.2 L239.7,267.2 L240.2,267.2 L240.8,267.2 L241.3,267.2 L241.8,267.2 L242.4,267.2 L242.9,267.2 L243.5,267.2 L244.1,267.2 L244.6,267.2 L245.2,267.2 L245.7,267.2 L246.2,267.2 L246.8,267.2 L247.3,267.2 L247.9,267.2 L248.4,267.2 L249.0,267.2 L249.6,267.2 L250.1,267.2 L250.7,267.2 L251.2,267.2 L251.8,267.2 L252.3,267.2 L252.8,267.2 L253.4,267.2 L253.9,267.2 L254.5,267.2 L255.1,267.2 L255.6,267.2 L256.1,267.2 L256.7,267.2 L257.2,267.2 L257.8,267.2 L258.4,267.2 L258.9,267.2 L259.4,267.2 L260.0,267.2 L260.6,267.2 L261.1,267.2 L261.6,267.2 L262.2,267.2 L262.8,267.2 L263.3,267.2 L263.9,267.2 L264.4,266.6 L264.9,267.2 L265.5,267.2 L266.1,267.2 L266.6,266.5 L267.1,266.8 L267.7,267.2 L268.2,267.2 L268.8,267.2 L269.4,267.2 L269.9,267.2 L270.4,267.2 L271.0,267.2 L271.6,267.2 L272.1,267.2 L272.6,267.2 L273.2,267.2 L273.8,267.2 L274.3,267.2 L274.9,267.2 L275.4,267.2 L275.9,267.2 L276.5,267.2 L277.1,267.2 L277.6,267.2 L278.1,267.2 L278.7,266.9 L279.2,267.2 L279.8,267.2 L280.4,267.2 L280.9,267.2 L281.4,267.2 L282.0,267.2 L282.6,267.2 L283.1,267.2 L283.6,267.2 L284.2,267.2 L284.8,267.2 L285.3,267.2 L285.9,267.2 L286.4,267.2 L286.9,267.2 L287.5,267.2 L288.1,267.2 L288.6,267.2 L289.1,267.2 L289.7,267.2 L290.2,267.2 L290.8,267.2 L291.4,267.2 L291.9,267.2 L292.4,267.2 L293.0,267.2 L293.6,267.2 L294.1,267.2 L294.6,267.2 L295.2,267.2 L295.8,267.2 L296.3,267.2 L296.9,267.2 L297.4,266.5 L297.9,267.2 L298.5,267.2 L299.1,267.2 L299.6,267.2 L300.1,267.2 L300.7,267.2 L301.2,267.2 L301.8,267.2 L302.4,267.2 L302.9,267.2 L303.4,267.2 L304.0,267.2 L304.6,262.3 L305.1,261.9 L305.6,261.8 L306.2,262.3 L306.8,261.8 L307.3,262.1 L307.9,261.4 L308.4,261.8 L308.9,261.4 L309.5,262.1 L310.1,261.8 L310.6,261.9 L311.1,261.3 L311.7,263.0 L312.2,267.2 L312.8,267.2 L313.4,267.2 L313.9,267.2 L314.4,267.2 L315.0,267.2 L315.6,267.2 L316.1,267.2 L316.6,267.2 L317.2,267.2 L317.8,267.2 L318.3,267.2 L318.9,267.2 L319.4,267.2 L319.9,267.2 L320.5,267.2 L321.1,267.2 L321.6,267.2 L322.1,267.2 L322.7,267.2 L323.2,267.2 L323.8,267.2 L324.4,267.2 L324.9,266.9 L325.4,267.2 L326.0,267.2 L326.6,267.2 L327.1,266.9 L327.6,267.2 L328.2,267.2 L328.8,267.0 L329.3,267.2 L329.9,267.2 L330.4,267.2 L330.9,267.2 L331.5,267.1 L332.1,267.2 L332.6,267.2 L333.1,267.2 L333.7,267.2 L334.2,267.2 L334.8,267.2 L335.4,267.2 L335.9,266.2 L336.4,267.2 L337.0,267.2 L337.6,267.2 L338.1,267.2 L338.6,267.2 L339.2,267.2 L339.8,267.2 L340.3,267.2 L340.9,267.2 L341.4,267.2 L342.0,267.2 L342.5,267.2 L343.1,267.2 L343.6,267.2 L344.1,267.2 L344.7,267.2 L345.2,266.6 L345.8,267.2 L346.4,267.2 L346.9,267.2 L347.5,267.2 L348.0,267.2 L348.6,267.2 L349.1,267.2 L349.6,267.2 L350.2,267.2 L350.8,267.2 L351.3,267.2 L351.9,267.2 L352.4,267.2 L353.0,267.2 L353.5,267.2 L354.1,267.2 L354.6,267.2 L355.1,267.2 L355.7,267.2 L356.2,267.2 L356.8,267.2 L357.4,267.2 L357.9,266.9 L358.5,267.2 L359.0,267.2 L359.6,267.2 L359.6,268.2 L359.0,268.2 L358.5,268.2 L357.9,268.2 L357.4,268.5 L356.8,268.2 L356.2,268.7 L355.7,268.2 L355.1,268.2 L354.6,268.2 L354.1,268.2 L353.5,268.7 L353.0,268.2 L352.4,268.2 L351.9,268.4 L351.3,268.2 L350.8,268.4 L350.2,269.8 L349.6,268.2 L349.1,268.2 L348.6,268.2 L348.0,268.6 L347.5,268.7 L346.9,268.2 L346.4,268.2 L345.8,268.2 L345.2,268.2 L344.7,268.2 L344.1,268.2 L343.6,268.2 L343.1,268.2 L342.5,268.2 L342.0,268.4 L341.4,268.6 L340.9,268.2 L340.3,268.2 L339.8,268.2 L339.2,268.7 L338.6,268.2 L338.1,268.2 L337.6,268.2 L337.0,268.2 L336.4,268.2 L335.9,268.2 L335.4,268.9 L334.8,268.6 L334.2,268.2 L333.7,268.2 L333.1,268.2 L332.6,268.2 L332.1,268.2 L331.5,268.2 L330.9,268.2 L330.4,268.3 L329.9,268.2 L329.3,268.2 L328.8,268.2 L328.2,268.6 L327.6,268.2 L327.1,268.2 L326.6,268.2 L326.0,268.5 L325.4,269.4 L324.9,268.2 L324.4,268.2 L323.8,268.2 L323.2,268.2 L322.7,268.2 L322.1,268.2 L321.6,268.2 L321.1,268.6 L320.5,268.2 L319.9,268.3 L319.4,268.9 L318.9,268.9 L318.3,268.2 L317.8,268.2 L317.2,268.2 L316.6,268.6 L316.1,268.5 L315.6,268.6 L315.0,268.7 L314.4,268.2 L313.9,268.5 L313.4,268.2 L312.8,268.2 L312.2,268.2 L311.7,268.2 L311.1,268.2 L310.6,268.2 L310.1,268.2 L309.5,268.2 L308.9,268.2 L308.4,268.2 L307.9,268.4 L307.3,268.2 L306.8,268.2 L306.2,268.5 L305.6,268.2 L305.1,268.5 L304.6,268.2 L304.0,268.2 L303.4,270.3 L302.9,268.2 L302.4,268.2 L301.8,268.6 L301.2,268.2 L300.7,270.2 L300.1,268.2 L299.6,268.2 L299.1,268.2 L298.5,268.2 L297.9,268.6 L297.4,268.2 L296.9,268.2 L296.3,268.6 L295.8,268.2 L295.2,268.2 L294.6,268.2 L294.1,268.2 L293.6,268.2 L293.0,268.2 L292.4,268.4 L291.9,268.2 L291.4,268.7 L290.8,268.2 L290.2,268.2 L289.7,268.4 L289.1,268.5 L288.6,268.2 L288.1,268.2 L287.5,268.2 L286.9,268.4 L286.4,268.2 L285.9,268.4 L285.3,268.6 L284.8,268.2 L284.2,268.5 L283.6,268.2 L283.1,268.2 L282.6,268.2 L282.0,268.2 L281.4,268.2 L280.9,268.2 L280.4,268.2 L279.8,268.4 L279.2,268.2 L278.7,268.2 L278.1,268.5 L277.6,268.2 L277.1,268.2 L276.5,268.7 L275.9,268.2 L275.4,268.2 L274.9,268.2 L274.3,268.3 L273.8,268.2 L273.2,268.2 L272.6,268.7 L272.1,268.2 L271.6,268.2 L271.0,268.2 L270.4,268.2 L269.9,268.2 L269.4,268.2 L268.8,268.2 L268.2,268.2 L267.7,268.2 L267.1,268.2 L266.6,268.2 L266.1,268.2 L265.5,268.6 L264.9,268.6 L264.4,268.2 L263.9,268.2 L263.3,268.3 L262.8,268.2 L262.2,268.4 L261.6,268.5 L261.1,268.2 L260.6,268.6 L260.0,268.3 L259.4,268.3 L258.9,268.2 L258.4,268.2 L257.8,268.2 L257.2,268.2 L256.7,268.2 L256.1,268.2 L255.6,268.2 L255.1,268.5 L254.5,268.2 L253.9,268.2 L253.4,268.4 L252.8,268.2 L252.3,268.2 L251.8,268.2 L251.2,268.2 L250.7,268.4 L250.1,268.2 L249.6,268.2 L249.0,268.6 L248.4,268.2 L247.9,268.2 L247.3,268.2 L246.8,268.4 L246.2,268.2 L245.7,268.2 L245.2,268.2 L244.6,268.2 L244.1,268.2 L243.5,268.2 L242.9,268.2 L242.4,268.2 L241.8,268.2 L241.3,268.2 L240.8,268.2 L240.2,268.6 L239.7,268.2 L239.1,268.3 L238.6,268.2 L238.0,269.3 L237.4,269.2 L236.9,268.7 L236.3,268.2 L235.8,268.2 L235.2,268.5 L234.7,268.2 L234.2,268.6 L233.6,268.6 L233.1,268.7 L232.5,268.2 L231.9,268.2 L231.4,268.2 L230.8,268.2 L230.3,268.6 L229.8,268.2 L229.2,268.2 L228.7,268.7 L228.1,268.2 L227.6,268.2 L227.0,268.2 L226.4,268.3 L225.9,268.2 L225.3,268.2 L224.8,268.2 L224.2,268.2 L223.7,268.2 L223.2,268.5 L222.6,268.2 L222.1,268.7 L221.5,268.2 L220.9,268.2 L220.4,268.2 L219.8,268.2 L219.3,268.5 L218.8,268.2 L218.2,268.2 L217.7,268.2 L217.1,268.2 L216.6,268.2 L216.0,268.6Z" fill="#353535"/>
<rect x="252.85" y="260.70" width="0.9" height="7.00" fill="#353535"/>
<rect x="330.55" y="267.70" width="0.9" height="2.50" fill="#353535"/>
<text x="221.70" y="287.00" font-size="4.2" text-anchor="middle" fill="#444" >1</text>
<text x="232.71" y="284.40" font-size="4.2" text-anchor="middle" fill="#444" >2</text>
<text x="242.68" y="287.00" font-size="4.2" text-anchor="middle" fill="#444" >3</text>
<text x="251.91" y="284.40" font-size="4.2" text-anchor="middle" fill="#444" >4</text>
<text x="260.90" y="287.00" font-size="4.2" text-anchor="middle" fill="#444" >5</text>
<text x="269.69" y="284.40" font-size="4.2" text-anchor="middle" fill="#444" >6</text>
<text x="278.30" y="287.00" font-size="4.2" text-anchor="middle" fill="#444" >7</text>
<text x="286.31" y="284.40" font-size="4.2" text-anchor="middle" fill="#444" >8</text>
<text x="293.72" y="287.00" font-size="4.2" text-anchor="middle" fill="#444" >9</text>
<text x="301.16" y="284.40" font-size="4.2" text-anchor="middle" fill="#444" >10</text>
<text x="308.53" y="287.00" font-size="4.2" text-anchor="middle" fill="#444" >11</text>
<text x="315.59" y="284.40" font-size="4.2" text-anchor="middle" fill="#444" >12</text>
<text x="322.60" y="287.00" font-size="4.2" text-anchor="middle" fill="#444" >13</text>
<text x="329.76" y="284.40" font-size="4.2" text-anchor="middle" fill="#444" >14</text>
<text x="336.43" y="287.00" font-size="4.2" text-anchor="middle" fill="#444" >15</text>
<text x="342.33" y="284.40" font-size="4.2" text-anchor="middle" fill="#444" >16</text>
<text x="347.96" y="287.00" font-size="4.2" text-anchor="middle" fill="#444" >17</text>
<text x="353.37" y="284.40" font-size="4.2" text-anchor="middle" fill="#444" >18</text>
<text x="357.81" y="287.00" font-size="4.2" text-anchor="middle" fill="#444" >19</text>
<line x1="201.2" y1="217.8" x2="206.8" y2="217.8" stroke="#7f0d12" stroke-width="1.6"/>
<polygon points="210.8,217.8 205.60000000000002,215.4 205.60000000000002,220.20000000000002" fill="#7f0d12"/>
<line x1="365.8" y1="216.1" x2="365.8" y2="264.5" stroke="#83161c" stroke-width="1.6"/>
<polygon points="365.8,268.5 363.6,263.6 368.0,263.6" fill="#83161c"/>
<text x="164.80" y="311.20" font-size="6.6" fill="#1c1c1c" textLength="87.20" lengthAdjust="spacingAndGlyphs" >pHGG: MET/TRP53-driven</text>
<rect x="48.5" y="314.5" width="324" height="111" fill="none" stroke="#dcdcdc" stroke-width="1"/>
<text x="44.30" y="326.70" font-size="6.3" text-anchor="end" fill="#1c1c1c" textLength="41.00" lengthAdjust="spacingAndGlyphs" >Primary tumor</text>
<text x="44.30" y="333.90" font-size="6.3" text-anchor="end" fill="#1c1c1c" textLength="37.20" lengthAdjust="spacingAndGlyphs" >for passaging</text>
<text x="44.30" y="349.80" font-size="6.3" text-anchor="end" fill="#1c1c1c" textLength="21.50" lengthAdjust="spacingAndGlyphs" >Primary</text>
<text x="44.30" y="356.30" font-size="6.3" text-anchor="end" fill="#1c1c1c" textLength="21.90" lengthAdjust="spacingAndGlyphs" >tumor 2</text>
<text x="44.30" y="374.80" font-size="6.3" text-anchor="end" fill="#1c1c1c" textLength="21.50" lengthAdjust="spacingAndGlyphs" >Primary</text>
<text x="44.30" y="380.90" font-size="6.3" text-anchor="end" fill="#1c1c1c" textLength="21.90" lengthAdjust="spacingAndGlyphs" >tumor 3</text>
<text x="44.30" y="391.50" font-size="6.3" text-anchor="end" fill="#1c1c1c" textLength="30.40" lengthAdjust="spacingAndGlyphs" >Mouse chr.</text>
<text x="378.90" y="326.90" font-size="6.3" fill="#1c1c1c" textLength="18.80" lengthAdjust="spacingAndGlyphs" >In vivo</text>
<text x="378.90" y="333.70" font-size="6.3" fill="#1c1c1c" textLength="27.50" lengthAdjust="spacingAndGlyphs" >passage 1</text>
<text x="378.90" y="349.20" font-size="6.3" fill="#1c1c1c" textLength="18.80" lengthAdjust="spacingAndGlyphs" >In vivo</text>
<text x="378.90" y="356.60" font-size="6.3" fill="#1c1c1c" textLength="32.40" lengthAdjust="spacingAndGlyphs" >passage 2.1</text>
<text x="378.90" y="374.00" font-size="6.3" fill="#1c1c1c" textLength="18.80" lengthAdjust="spacingAndGlyphs" >In vivo</text>
<text x="378.90" y="381.20" font-size="6.3" fill="#1c1c1c" textLength="32.60" lengthAdjust="spacingAndGlyphs" >passage 2.2</text>
<text x="378.90" y="399.20" font-size="6.3" fill="#1c1c1c" textLength="18.80" lengthAdjust="spacingAndGlyphs" >In vivo</text>
<text x="378.90" y="406.30" font-size="6.3" fill="#1c1c1c" textLength="32.60" lengthAdjust="spacingAndGlyphs" >passage 2.3</text>
<text x="378.90" y="417.60" font-size="6.3" fill="#1c1c1c" textLength="30.40" lengthAdjust="spacingAndGlyphs" >Mouse chr.</text>
<path d="M53.4,325.2 L53.9,325.2 L54.5,325.2 L55.0,325.2 L55.6,325.2 L56.1,325.2 L56.7,325.2 L57.2,325.2 L57.8,325.2 L58.4,325.2 L58.9,325.2 L59.5,325.2 L60.0,325.2 L60.5,325.2 L61.1,325.2 L61.6,325.2 L62.2,325.2 L62.8,325.2 L63.3,325.2 L63.9,325.2 L64.4,325.2 L65.0,325.2 L65.5,325.2 L66.0,325.2 L66.6,325.2 L67.2,325.2 L67.7,325.2 L68.2,325.2 L68.8,325.2 L69.3,325.2 L69.9,325.2 L70.5,325.2 L71.0,325.2 L71.5,325.2 L72.1,325.2 L72.7,325.2 L73.2,325.2 L73.8,325.2 L74.3,325.2 L74.8,325.2 L75.4,325.2 L76.0,325.2 L76.5,325.2 L77.0,325.2 L77.6,325.2 L78.2,325.2 L78.7,325.2 L79.2,325.2 L79.8,325.2 L80.3,325.2 L80.9,325.2 L81.5,325.2 L82.0,325.2 L82.5,325.2 L83.1,325.2 L83.7,325.2 L84.2,325.2 L84.8,325.2 L85.3,325.2 L85.8,325.2 L86.4,325.2 L87.0,325.2 L87.5,325.2 L88.1,325.2 L88.6,325.2 L89.2,325.2 L89.7,325.2 L90.2,325.2 L90.8,325.2 L91.3,325.2 L91.9,325.2 L92.5,325.2 L93.0,325.2 L93.6,325.2 L94.1,325.2 L94.7,325.2 L95.2,325.2 L95.8,325.2 L96.3,324.7 L96.8,325.2 L97.4,325.2 L98.0,325.2 L98.5,325.2 L99.1,325.2 L99.6,324.7 L100.2,325.2 L100.7,325.2 L101.2,325.2 L101.8,325.2 L102.3,325.2 L102.9,325.2 L103.5,325.2 L104.0,325.2 L104.6,325.2 L105.1,325.2 L105.7,325.2 L106.2,325.2 L106.8,325.2 L107.3,325.2 L107.8,325.2 L108.4,325.2 L109.0,325.2 L109.5,325.2 L110.1,325.2 L110.6,325.2 L111.2,325.2 L111.7,325.2 L112.2,325.2 L112.8,325.2 L113.3,325.2 L113.9,325.2 L114.5,325.2 L115.0,325.2 L115.6,325.2 L116.1,325.2 L116.7,325.2 L117.2,325.2 L117.8,325.2 L118.3,325.2 L118.8,325.2 L119.4,325.2 L120.0,325.2 L120.5,325.2 L121.1,325.2 L121.6,325.2 L122.2,325.2 L122.7,325.2 L123.2,325.2 L123.8,325.2 L124.3,325.2 L124.9,325.2 L125.5,325.2 L126.0,325.2 L126.6,325.2 L127.1,325.2 L127.7,325.2 L128.2,325.2 L128.8,325.2 L129.3,325.2 L129.8,325.1 L130.4,325.2 L131.0,325.2 L131.5,325.2 L132.1,325.2 L132.6,325.2 L133.2,325.2 L133.7,324.1 L134.2,324.1 L134.8,323.8 L135.3,323.8 L135.9,324.1 L136.5,323.9 L137.0,324.0 L137.6,323.9 L138.1,323.8 L138.7,323.9 L139.2,324.0 L139.8,324.1 L140.3,323.9 L140.8,323.8 L141.4,324.0 L142.0,324.1 L142.5,323.9 L143.1,323.9 L143.6,324.1 L144.2,324.1 L144.7,323.8 L145.2,323.8 L145.8,324.0 L146.3,323.9 L146.9,324.0 L147.5,323.9 L148.0,323.8 L148.6,324.1 L149.1,324.1 L149.7,325.2 L150.2,325.2 L150.8,325.2 L151.3,325.2 L151.8,325.2 L152.4,325.2 L153.0,325.2 L153.5,325.2 L154.1,325.2 L154.6,325.2 L155.2,325.2 L155.7,325.2 L156.2,325.2 L156.8,325.2 L157.3,325.2 L157.9,325.2 L158.5,325.2 L159.0,325.2 L159.6,325.2 L160.1,325.2 L160.7,325.2 L161.2,325.2 L161.8,325.2 L162.3,325.2 L162.8,325.2 L163.4,325.2 L164.0,325.2 L164.5,325.2 L165.1,325.2 L165.6,325.2 L166.2,325.2 L166.7,325.2 L167.2,325.2 L167.8,325.2 L168.3,325.2 L168.9,325.0 L169.5,325.2 L170.0,325.2 L170.6,325.2 L171.1,325.2 L171.7,325.2 L172.2,325.2 L172.8,325.2 L173.3,325.2 L173.8,325.2 L174.4,325.2 L175.0,325.2 L175.5,325.2 L176.1,325.2 L176.6,325.2 L177.2,325.2 L177.7,325.2 L178.2,325.2 L178.8,325.2 L179.4,325.2 L179.9,325.2 L180.5,325.2 L181.0,325.2 L181.6,325.2 L182.1,325.2 L182.7,325.2 L183.2,325.2 L183.8,325.2 L184.3,325.2 L184.9,325.2 L185.4,325.2 L186.0,325.2 L186.5,325.2 L187.1,325.2 L187.6,325.2 L188.2,325.2 L188.7,325.2 L189.3,325.2 L189.8,325.2 L190.4,325.2 L190.9,325.2 L191.5,325.2 L192.0,325.2 L192.6,325.2 L193.1,325.2 L193.7,325.2 L194.2,325.2 L194.8,325.2 L195.3,325.2 L195.9,325.2 L196.4,325.2 L197.0,325.2 L197.0,326.1 L196.4,326.1 L195.9,326.1 L195.3,326.1 L194.8,326.1 L194.2,326.6 L193.7,326.1 L193.1,326.1 L192.6,326.1 L192.0,326.1 L191.5,326.1 L190.9,326.1 L190.4,326.6 L189.8,326.1 L189.3,326.1 L188.7,326.1 L188.2,326.8 L187.6,326.1 L187.1,326.3 L186.5,326.1 L186.0,326.7 L185.4,326.1 L184.9,326.5 L184.3,326.5 L183.8,326.7 L183.2,326.4 L182.7,326.1 L182.1,326.1 L181.6,326.4 L181.0,326.1 L180.5,326.5 L179.9,326.5 L179.4,326.1 L178.8,326.1 L178.2,326.1 L177.7,326.1 L177.2,326.1 L176.6,326.1 L176.1,326.1 L175.5,326.3 L175.0,326.4 L174.4,326.1 L173.8,326.1 L173.3,326.1 L172.8,326.4 L172.2,326.1 L171.7,326.1 L171.1,326.1 L170.6,326.1 L170.0,326.1 L169.5,326.1 L168.9,326.1 L168.3,326.1 L167.8,326.1 L167.2,326.3 L166.7,326.1 L166.2,326.1 L165.6,326.1 L165.1,326.1 L164.5,326.1 L164.0,326.1 L163.4,326.1 L162.8,326.1 L162.3,326.1 L161.8,326.1 L161.2,326.4 L160.7,326.1 L160.1,326.6 L159.6,326.9 L159.0,326.7 L158.5,326.5 L157.9,326.4 L157.3,326.5 L156.8,326.5 L156.2,326.1 L155.7,326.1 L155.2,326.1 L154.6,326.6 L154.1,326.7 L153.5,326.6 L153.0,326.1 L152.4,326.1 L151.8,326.1 L151.3,326.7 L150.8,326.1 L150.2,326.5 L149.7,326.1 L149.1,326.4 L148.6,326.4 L148.0,326.4 L147.5,326.4 L146.9,326.1 L146.3,326.1 L145.8,326.1 L145.2,326.4 L144.7,326.1 L144.2,326.1 L143.6,326.1 L143.1,326.4 L142.5,326.1 L142.0,326.3 L141.4,326.1 L140.8,326.4 L140.3,326.1 L139.8,326.1 L139.2,326.4 L138.7,326.1 L138.1,326.3 L137.6,326.1 L137.0,326.4 L136.5,326.1 L135.9,326.1 L135.3,326.1 L134.8,326.4 L134.2,326.4 L133.7,326.1 L133.2,326.1 L132.6,326.1 L132.1,326.1 L131.5,326.6 L131.0,326.1 L130.4,326.1 L129.8,326.1 L129.3,326.5 L128.8,326.9 L128.2,326.1 L127.7,326.5 L127.1,326.1 L126.6,326.1 L126.0,326.7 L125.5,326.1 L124.9,326.1 L124.3,326.3 L123.8,326.1 L123.2,326.3 L122.7,326.3 L122.2,326.1 L121.6,326.5 L121.1,326.3 L120.5,326.7 L120.0,326.3 L119.4,326.1 L118.8,326.1 L118.3,326.1 L117.8,326.1 L117.2,326.1 L116.7,326.1 L116.1,326.1 L115.6,326.1 L115.0,326.1 L114.5,326.1 L113.9,326.1 L113.3,327.4 L112.8,326.1 L112.2,326.7 L111.7,326.5 L111.2,326.1 L110.6,326.7 L110.1,326.1 L109.5,326.1 L109.0,326.1 L108.4,326.1 L107.8,326.6 L107.3,326.1 L106.8,326.1 L106.2,326.6 L105.7,326.1 L105.1,326.1 L104.6,326.1 L104.0,326.7 L103.5,326.1 L102.9,326.1 L102.3,327.4 L101.8,326.7 L101.2,326.1 L100.7,327.8 L100.2,326.3 L99.6,326.1 L99.1,326.1 L98.5,326.1 L98.0,326.1 L97.4,326.1 L96.8,326.1 L96.3,326.1 L95.8,326.1 L95.2,326.1 L94.7,326.1 L94.1,326.1 L93.6,330.3 L93.0,330.4 L92.5,331.0 L91.9,330.4 L91.3,331.0 L90.8,331.2 L90.2,331.9 L89.7,330.8 L89.2,331.9 L88.6,331.9 L88.1,331.5 L87.5,331.3 L87.0,331.9 L86.4,331.1 L85.8,331.9 L85.3,331.6 L84.8,331.3 L84.2,330.4 L83.7,326.1 L83.1,326.1 L82.5,326.1 L82.0,327.3 L81.5,326.6 L80.9,326.1 L80.3,326.1 L79.8,326.1 L79.2,327.3 L78.7,326.1 L78.2,326.1 L77.6,326.1 L77.0,326.1 L76.5,326.1 L76.0,326.1 L75.4,326.1 L74.8,326.1 L74.3,326.1 L73.8,326.1 L73.2,326.1 L72.7,326.1 L72.1,326.7 L71.5,326.4 L71.0,326.1 L70.5,328.9 L69.9,326.5 L69.3,326.8 L68.8,326.1 L68.2,326.1 L67.7,326.1 L67.2,326.1 L66.6,326.1 L66.0,326.1 L65.5,326.1 L65.0,326.1 L64.4,326.7 L63.9,326.1 L63.3,326.1 L62.8,326.1 L62.2,326.6 L61.6,326.1 L61.1,326.4 L60.5,326.1 L60.0,326.1 L59.5,326.1 L58.9,326.1 L58.4,326.1 L57.8,326.1 L57.2,326.1 L56.7,326.1 L56.1,326.1 L55.6,326.1 L55.0,326.1 L54.5,326.5 L53.9,326.1 L53.4,326.5Z" fill="#353535"/>
<rect x="90.55" y="325.70" width="0.9" height="9.80" fill="#353535"/>
<rect x="167.55" y="325.70" width="0.9" height="3.00" fill="#353535"/>
<path d="M53.4,350.2 L53.9,350.2 L54.5,350.2 L55.0,350.2 L55.6,350.2 L56.1,350.2 L56.7,350.2 L57.2,350.2 L57.8,350.2 L58.4,350.2 L58.9,350.2 L59.5,350.2 L60.0,350.2 L60.5,350.2 L61.1,350.2 L61.6,350.2 L62.2,350.2 L62.8,350.2 L63.3,350.2 L63.9,350.2 L64.4,350.2 L65.0,350.2 L65.5,350.2 L66.0,350.2 L66.6,350.2 L67.2,350.2 L67.7,350.2 L68.2,350.2 L68.8,350.2 L69.3,350.2 L69.9,350.2 L70.5,350.2 L71.0,350.2 L71.5,350.2 L72.1,350.2 L72.7,350.2 L73.2,350.2 L73.8,350.2 L74.3,350.2 L74.8,350.2 L75.4,349.5 L76.0,350.2 L76.5,350.2 L77.0,350.2 L77.6,350.2 L78.2,350.2 L78.7,350.2 L79.2,350.2 L79.8,350.2 L80.3,350.2 L80.9,350.2 L81.5,350.2 L82.0,350.2 L82.5,350.2 L83.1,350.2 L83.7,350.2 L84.2,350.2 L84.8,350.2 L85.3,350.2 L85.8,350.2 L86.4,350.2 L87.0,350.2 L87.5,350.2 L88.1,350.2 L88.6,350.2 L89.2,350.2 L89.7,350.2 L90.2,350.2 L90.8,350.2 L91.3,350.2 L91.9,350.2 L92.5,350.2 L93.0,350.2 L93.6,350.2 L94.1,350.2 L94.7,350.2 L95.2,350.2 L95.8,350.2 L96.3,350.2 L96.8,350.2 L97.4,350.2 L98.0,350.2 L98.5,350.2 L99.1,350.2 L99.6,350.2 L100.2,350.2 L100.7,350.2 L101.2,350.2 L101.8,350.1 L102.3,350.2 L102.9,350.2 L103.5,350.2 L104.0,350.2 L104.6,350.2 L105.1,350.2 L105.7,350.2 L106.2,350.2 L106.8,350.2 L107.3,350.2 L107.8,350.2 L108.4,350.2 L109.0,350.2 L109.5,350.2 L110.1,349.2 L110.6,350.2 L111.2,350.2 L111.7,350.2 L112.2,350.2 L112.8,350.2 L113.3,350.2 L113.9,350.2 L114.5,350.2 L115.0,350.2 L115.6,350.2 L116.1,350.2 L116.7,350.2 L117.2,350.2 L117.8,350.2 L118.3,350.2 L118.8,350.2 L119.4,350.2 L120.0,350.2 L120.5,350.2 L121.1,350.2 L121.6,350.2 L122.2,350.2 L122.7,350.2 L123.2,350.2 L123.8,350.2 L124.3,350.2 L124.9,350.2 L125.5,350.2 L126.0,350.2 L126.6,350.2 L127.1,350.2 L127.7,350.2 L128.2,350.2 L128.8,350.2 L129.3,350.2 L129.8,350.2 L130.4,350.2 L131.0,350.2 L131.5,350.2 L132.1,350.2 L132.6,350.2 L133.2,350.2 L133.7,350.2 L134.2,350.2 L134.8,350.2 L135.3,350.2 L135.9,350.2 L136.5,350.2 L137.0,350.2 L137.6,350.2 L138.1,350.2 L138.7,350.2 L139.2,350.2 L139.8,350.2 L140.3,350.2 L140.8,350.2 L141.4,350.2 L142.0,350.2 L142.5,350.2 L143.1,350.2 L143.6,350.2 L144.2,350.2 L144.7,350.2 L145.2,350.2 L145.8,350.2 L146.3,350.2 L146.9,350.2 L147.5,350.2 L148.0,350.2 L148.6,350.2 L149.1,350.2 L149.7,350.2 L150.2,350.2 L150.8,350.2 L151.3,350.2 L151.8,350.2 L152.4,350.2 L153.0,350.2 L153.5,350.2 L154.1,350.2 L154.6,350.2 L155.2,350.2 L155.7,350.2 L156.2,350.2 L156.8,350.2 L157.3,350.2 L157.9,350.2 L158.5,350.2 L159.0,350.2 L159.6,350.2 L160.1,350.2 L160.7,350.2 L161.2,350.2 L161.8,350.2 L162.3,350.2 L162.8,350.2 L163.4,350.2 L164.0,350.2 L164.5,350.2 L165.1,350.2 L165.6,350.2 L166.2,350.2 L166.7,350.2 L167.2,350.2 L167.8,350.2 L168.3,350.2 L168.9,350.2 L169.5,350.2 L170.0,350.2 L170.6,350.2 L171.1,349.6 L171.7,350.2 L172.2,350.2 L172.8,350.2 L173.3,350.2 L173.8,350.2 L174.4,350.2 L175.0,350.2 L175.5,350.2 L176.1,350.2 L176.6,350.2 L177.2,348.5 L177.7,350.2 L178.2,350.2 L178.8,350.2 L179.4,350.2 L179.9,350.2 L180.5,350.2 L181.0,350.2 L181.6,350.2 L182.1,350.2 L182.7,350.2 L183.2,350.2 L183.8,350.2 L184.3,350.2 L184.9,350.2 L185.4,350.2 L186.0,350.2 L186.5,350.2 L187.1,350.2 L187.6,350.0 L188.2,350.2 L188.7,350.2 L189.3,350.2 L189.8,350.2 L190.4,350.2 L190.9,350.2 L191.5,350.2 L192.0,350.2 L192.6,350.2 L193.1,350.2 L193.7,350.2 L194.2,350.2 L194.8,350.2 L195.3,350.2 L195.9,350.2 L196.4,350.2 L197.0,350.2 L197.0,351.3 L196.4,351.1 L195.9,351.1 L195.3,351.2 L194.8,351.1 L194.2,351.3 L193.7,351.1 L193.1,351.1 L192.6,351.1 L192.0,351.1 L191.5,351.1 L190.9,351.2 L190.4,351.3 L189.8,351.1 L189.3,351.1 L188.7,351.1 L188.2,351.1 L187.6,351.1 L187.1,351.1 L186.5,351.1 L186.0,351.1 L185.4,351.1 L184.9,351.1 L184.3,351.1 L183.8,351.1 L183.2,351.1 L182.7,351.1 L182.1,351.4 L181.6,351.1 L181.0,351.2 L180.5,351.3 L179.9,351.1 L179.4,351.1 L178.8,351.3 L178.2,351.2 L177.7,351.1 L177.2,351.1 L176.6,351.1 L176.1,351.3 L175.5,351.4 L175.0,351.1 L174.4,351.4 L173.8,351.1 L173.3,351.1 L172.8,351.1 L172.2,351.1 L171.7,351.1 L171.1,351.1 L170.6,351.3 L170.0,351.1 L169.5,351.4 L168.9,351.1 L168.3,351.1 L167.8,351.1 L167.2,351.5 L166.7,351.1 L166.2,351.4 L165.6,351.2 L165.1,351.1 L164.5,351.4 L164.0,351.1 L163.4,351.1 L162.8,351.1 L162.3,351.1 L161.8,351.1 L161.2,351.1 L160.7,351.1 L160.1,351.1 L159.6,351.1 L159.0,351.1 L158.5,351.1 L157.9,351.6 L157.3,351.1 L156.8,351.1 L156.2,351.1 L155.7,351.1 L155.2,351.1 L154.6,351.1 L154.1,351.1 L153.5,351.1 L153.0,351.1 L152.4,351.2 L151.8,351.1 L151.3,351.1 L150.8,351.1 L150.2,351.3 L149.7,351.3 L149.1,351.1 L148.6,351.1 L148.0,351.1 L147.5,351.2 L146.9,351.1 L146.3,351.1 L145.8,351.1 L145.2,351.4 L144.7,351.1 L144.2,351.1 L143.6,351.1 L143.1,351.1 L142.5,351.1 L142.0,351.1 L141.4,351.1 L140.8,351.7 L140.3,351.1 L139.8,351.1 L139.2,351.1 L138.7,351.1 L138.1,351.1 L137.6,351.1 L137.0,351.1 L136.5,351.1 L135.9,351.1 L135.3,351.1 L134.8,351.2 L134.2,351.1 L133.7,351.1 L133.2,351.2 L132.6,351.1 L132.1,351.2 L131.5,351.5 L131.0,351.1 L130.4,351.1 L129.8,351.1 L129.3,351.1 L128.8,351.1 L128.2,351.1 L127.7,351.1 L127.1,351.1 L126.6,351.5 L126.0,351.1 L125.5,351.1 L124.9,351.1 L124.3,351.1 L123.8,351.1 L123.2,351.1 L122.7,351.1 L122.2,351.1 L121.6,351.1 L121.1,351.1 L120.5,351.1 L120.0,351.1 L119.4,351.1 L118.8,351.1 L118.3,351.1 L117.8,351.5 L117.2,351.1 L116.7,351.1 L116.1,351.1 L115.6,351.1 L115.0,351.1 L114.5,351.3 L113.9,351.1 L113.3,351.1 L112.8,351.3 L112.2,351.5 L111.7,351.1 L111.2,351.2 L110.6,351.1 L110.1,351.1 L109.5,351.1 L109.0,351.1 L108.4,351.1 L107.8,351.1 L107.3,351.1 L106.8,351.1 L106.2,351.1 L105.7,351.1 L105.1,351.1 L104.6,351.1 L104.0,351.1 L103.5,351.3 L102.9,351.4 L102.3,351.1 L101.8,351.1 L101.2,351.1 L100.7,351.1 L100.2,351.1 L99.6,351.4 L99.1,351.1 L98.5,351.4 L98.0,351.3 L97.4,351.1 L96.8,351.1 L96.3,351.1 L95.8,351.1 L95.2,351.1 L94.7,351.1 L94.1,351.1 L93.6,351.1 L93.0,351.1 L92.5,351.1 L91.9,351.1 L91.3,351.5 L90.8,351.1 L90.2,351.1 L89.7,351.4 L89.2,351.1 L88.6,351.1 L88.1,351.3 L87.5,351.1 L87.0,351.1 L86.4,351.1 L85.8,351.4 L85.3,351.2 L84.8,351.1 L84.2,351.4 L83.7,351.1 L83.1,351.8 L82.5,351.1 L82.0,351.1 L81.5,351.4 L80.9,351.1 L80.3,351.1 L79.8,351.1 L79.2,351.1 L78.7,351.4 L78.2,351.1 L77.6,351.1 L77.0,351.1 L76.5,351.1 L76.0,351.1 L75.4,351.1 L74.8,351.1 L74.3,351.1 L73.8,351.1 L73.2,351.1 L72.7,351.5 L72.1,351.1 L71.5,351.1 L71.0,351.1 L70.5,351.1 L69.9,351.1 L69.3,351.3 L68.8,351.2 L68.2,351.1 L67.7,351.1 L67.2,351.1 L66.6,351.1 L66.0,351.1 L65.5,351.1 L65.0,351.1 L64.4,351.2 L63.9,351.3 L63.3,351.1 L62.8,351.1 L62.2,351.1 L61.6,351.1 L61.1,351.1 L60.5,351.1 L60.0,351.1 L59.5,351.1 L58.9,351.1 L58.4,351.1 L57.8,351.2 L57.2,351.3 L56.7,351.3 L56.1,351.5 L55.6,351.1 L55.0,351.1 L54.5,351.1 L53.9,351.4 L53.4,351.1Z" fill="#353535"/>
<rect x="134.55" y="350.60" width="0.9" height="2.00" fill="#353535"/>
<rect x="167.55" y="350.60" width="0.9" height="1.50" fill="#353535"/>
<path d="M53.4,375.6 L53.9,375.6 L54.5,375.6 L55.0,375.6 L55.6,375.6 L56.1,375.6 L56.7,375.6 L57.2,375.6 L57.8,375.6 L58.4,375.6 L58.9,375.6 L59.5,375.6 L60.0,375.6 L60.5,375.6 L61.1,375.5 L61.6,375.6 L62.2,375.6 L62.8,375.6 L63.3,375.6 L63.9,375.6 L64.4,375.6 L65.0,375.6 L65.5,375.6 L66.0,374.6 L66.6,375.6 L67.2,375.6 L67.7,375.6 L68.2,375.3 L68.8,375.6 L69.3,375.5 L69.9,375.6 L70.5,375.6 L71.0,375.6 L71.5,375.3 L72.1,375.6 L72.7,375.6 L73.2,375.6 L73.8,375.6 L74.3,375.6 L74.8,375.6 L75.4,375.6 L76.0,375.6 L76.5,375.6 L77.0,375.6 L77.6,375.6 L78.2,375.6 L78.7,375.2 L79.2,375.3 L79.8,375.6 L80.3,375.6 L80.9,374.5 L81.5,375.6 L82.0,375.6 L82.5,375.6 L83.1,375.6 L83.7,375.6 L84.2,375.6 L84.8,375.6 L85.3,375.6 L85.8,375.6 L86.4,375.6 L87.0,375.6 L87.5,375.6 L88.1,375.6 L88.6,375.6 L89.2,375.6 L89.7,375.6 L90.2,375.6 L90.8,375.6 L91.3,375.6 L91.9,375.6 L92.5,375.6 L93.0,375.6 L93.6,375.6 L94.1,375.6 L94.7,375.6 L95.2,375.6 L95.8,375.6 L96.3,375.6 L96.8,375.6 L97.4,375.6 L98.0,375.6 L98.5,375.6 L99.1,375.6 L99.6,375.6 L100.2,375.6 L100.7,375.6 L101.2,375.6 L101.8,375.6 L102.3,375.6 L102.9,375.6 L103.5,375.6 L104.0,375.6 L104.6,375.6 L105.1,375.6 L105.7,375.6 L106.2,375.6 L106.8,375.6 L107.3,375.6 L107.8,375.6 L108.4,375.6 L109.0,375.6 L109.5,375.6 L110.1,375.2 L110.6,375.6 L111.2,375.6 L111.7,375.6 L112.2,375.6 L112.8,375.6 L113.3,375.6 L113.9,375.6 L114.5,375.6 L115.0,375.6 L115.6,375.6 L116.1,375.6 L116.7,375.6 L117.2,375.6 L117.8,375.6 L118.3,375.6 L118.8,375.6 L119.4,375.6 L120.0,375.6 L120.5,375.6 L121.1,375.6 L121.6,375.6 L122.2,375.6 L122.7,375.6 L123.2,375.6 L123.8,375.6 L124.3,375.6 L124.9,375.6 L125.5,375.6 L126.0,375.6 L126.6,375.6 L127.1,375.6 L127.7,375.6 L128.2,375.6 L128.8,375.6 L129.3,375.6 L129.8,375.6 L130.4,375.6 L131.0,375.6 L131.5,375.6 L132.1,375.6 L132.6,375.6 L133.2,375.6 L133.7,375.6 L134.2,375.6 L134.8,375.6 L135.3,375.6 L135.9,375.6 L136.5,375.6 L137.0,375.6 L137.6,375.6 L138.1,375.6 L138.7,375.6 L139.2,375.6 L139.8,375.6 L140.3,375.6 L140.8,375.6 L141.4,375.6 L142.0,375.6 L142.5,375.6 L143.1,375.6 L143.6,375.6 L144.2,375.6 L144.7,375.6 L145.2,375.6 L145.8,375.6 L146.3,375.6 L146.9,375.6 L147.5,375.6 L148.0,375.6 L148.6,375.6 L149.1,375.6 L149.7,375.6 L150.2,375.6 L150.8,375.6 L151.3,375.6 L151.8,375.6 L152.4,375.6 L153.0,375.6 L153.5,375.6 L154.1,375.6 L154.6,375.6 L155.2,375.6 L155.7,375.6 L156.2,375.6 L156.8,375.6 L157.3,375.6 L157.9,375.6 L158.5,375.6 L159.0,375.6 L159.6,375.6 L160.1,375.6 L160.7,375.6 L161.2,375.6 L161.8,375.6 L162.3,375.6 L162.8,375.6 L163.4,375.6 L164.0,375.6 L164.5,375.6 L165.1,375.6 L165.6,375.6 L166.2,375.6 L166.7,375.5 L167.2,375.6 L167.8,375.6 L168.3,375.6 L168.9,375.6 L169.5,375.6 L170.0,375.6 L170.6,375.6 L171.1,375.6 L171.7,375.6 L172.2,375.6 L172.8,375.6 L173.3,375.6 L173.8,375.6 L174.4,375.6 L175.0,375.6 L175.5,375.6 L176.1,375.6 L176.6,375.6 L177.2,375.5 L177.7,375.6 L178.2,375.6 L178.8,375.6 L179.4,375.6 L179.9,375.6 L180.5,375.6 L181.0,375.6 L181.6,375.6 L182.1,375.6 L182.7,375.6 L183.2,375.6 L183.8,375.6 L184.3,375.6 L184.9,375.6 L185.4,375.6 L186.0,375.6 L186.5,375.6 L187.1,375.6 L187.6,375.6 L188.2,375.6 L188.7,375.6 L189.3,375.6 L189.8,375.6 L190.4,375.6 L190.9,375.6 L191.5,375.6 L192.0,375.6 L192.6,375.6 L193.1,375.6 L193.7,375.6 L194.2,375.6 L194.8,375.6 L195.3,375.6 L195.9,375.6 L196.4,375.6 L197.0,375.6 L197.0,377.1 L196.4,376.8 L195.9,376.8 L195.3,376.8 L194.8,377.1 L194.2,376.8 L193.7,377.3 L193.1,376.8 L192.6,376.8 L192.0,377.1 L191.5,376.8 L190.9,377.1 L190.4,376.8 L189.8,376.8 L189.3,377.8 L188.7,376.8 L188.2,376.8 L187.6,377.2 L187.1,376.8 L186.5,376.8 L186.0,376.8 L185.4,376.8 L184.9,376.8 L184.3,376.8 L183.8,376.8 L183.2,377.1 L182.7,376.8 L182.1,376.8 L181.6,376.8 L181.0,376.8 L180.5,376.8 L179.9,377.2 L179.4,376.8 L178.8,377.1 L178.2,376.8 L177.7,376.8 L177.2,376.8 L176.6,376.8 L176.1,376.8 L175.5,376.8 L175.0,376.8 L174.4,377.3 L173.8,376.8 L173.3,376.8 L172.8,376.8 L172.2,376.8 L171.7,376.8 L171.1,376.8 L170.6,376.8 L170.0,376.8 L169.5,377.2 L168.9,376.8 L168.3,376.8 L167.8,377.1 L167.2,376.8 L166.7,376.8 L166.2,376.8 L165.6,376.8 L165.1,376.8 L164.5,376.8 L164.0,376.8 L163.4,376.8 L162.8,378.3 L162.3,376.8 L161.8,376.8 L161.2,376.8 L160.7,376.8 L160.1,376.8 L159.6,376.8 L159.0,376.8 L158.5,376.8 L157.9,376.8 L157.3,376.8 L156.8,376.8 L156.2,377.0 L155.7,376.8 L155.2,377.2 L154.6,377.0 L154.1,376.8 L153.5,376.8 L153.0,377.2 L152.4,376.8 L151.8,376.8 L151.3,376.8 L150.8,377.0 L150.2,376.8 L149.7,376.8 L149.1,377.3 L148.6,377.3 L148.0,377.1 L147.5,376.8 L146.9,376.8 L146.3,376.8 L145.8,376.8 L145.2,376.8 L144.7,377.2 L144.2,376.8 L143.6,376.8 L143.1,376.8 L142.5,376.8 L142.0,377.0 L141.4,376.8 L140.8,376.8 L140.3,377.1 L139.8,376.8 L139.2,376.8 L138.7,377.1 L138.1,376.8 L137.6,377.5 L137.0,376.8 L136.5,376.8 L135.9,376.8 L135.3,376.8 L134.8,376.8 L134.2,376.8 L133.7,377.1 L133.2,377.0 L132.6,376.8 L132.1,376.8 L131.5,377.0 L131.0,376.8 L130.4,376.9 L129.8,376.8 L129.3,376.8 L128.8,376.8 L128.2,376.8 L127.7,376.8 L127.1,377.1 L126.6,376.8 L126.0,376.8 L125.5,376.8 L124.9,376.8 L124.3,376.8 L123.8,377.1 L123.2,376.8 L122.7,376.8 L122.2,376.8 L121.6,376.8 L121.1,376.8 L120.5,376.8 L120.0,376.8 L119.4,376.8 L118.8,376.8 L118.3,377.2 L117.8,376.8 L117.2,376.8 L116.7,376.8 L116.1,376.8 L115.6,376.8 L115.0,376.8 L114.5,376.8 L113.9,376.8 L113.3,376.8 L112.8,376.8 L112.2,376.8 L111.7,377.2 L111.2,376.8 L110.6,377.2 L110.1,376.8 L109.5,376.8 L109.0,376.8 L108.4,377.1 L107.8,376.8 L107.3,376.8 L106.8,377.2 L106.2,376.8 L105.7,376.8 L105.1,377.2 L104.6,377.2 L104.0,376.8 L103.5,376.8 L102.9,376.8 L102.3,376.8 L101.8,376.8 L101.2,376.8 L100.7,376.8 L100.2,376.8 L99.6,377.2 L99.1,377.1 L98.5,376.8 L98.0,377.2 L97.4,376.8 L96.8,377.4 L96.3,376.8 L95.8,376.8 L95.2,376.8 L94.7,376.8 L94.1,376.8 L93.6,376.8 L93.0,376.8 L92.5,376.8 L91.9,377.1 L91.3,376.8 L90.8,377.2 L90.2,376.8 L89.7,376.8 L89.2,376.8 L88.6,376.8 L88.1,376.8 L87.5,376.8 L87.0,376.8 L86.4,376.8 L85.8,376.8 L85.3,376.8 L84.8,376.8 L84.2,376.8 L83.7,377.3 L83.1,376.8 L82.5,376.8 L82.0,377.0 L81.5,376.8 L80.9,376.8 L80.3,376.8 L79.8,377.3 L79.2,376.8 L78.7,376.8 L78.2,377.0 L77.6,376.8 L77.0,376.8 L76.5,376.8 L76.0,377.0 L75.4,376.8 L74.8,376.8 L74.3,376.8 L73.8,376.8 L73.2,376.8 L72.7,376.8 L72.1,377.3 L71.5,376.8 L71.0,376.8 L70.5,377.1 L69.9,377.2 L69.3,376.8 L68.8,376.8 L68.2,376.8 L67.7,376.8 L67.2,376.8 L66.6,376.8 L66.0,376.8 L65.5,376.8 L65.0,376.8 L64.4,377.8 L63.9,376.8 L63.3,376.8 L62.8,376.8 L62.2,376.8 L61.6,376.8 L61.1,376.8 L60.5,377.1 L60.0,376.8 L59.5,376.8 L58.9,376.8 L58.4,377.0 L57.8,376.8 L57.2,376.8 L56.7,376.8 L56.1,376.8 L55.6,376.8 L55.0,376.8 L54.5,376.8 L53.9,376.8 L53.4,376.8Z" fill="#555"/>
<rect x="90.55" y="376.20" width="0.9" height="10.00" fill="#555"/>
<rect x="167.55" y="376.20" width="0.9" height="2.00" fill="#555"/>
<text x="59.11" y="394.50" font-size="4.2" text-anchor="middle" fill="#444" >1</text>
<text x="70.13" y="392.00" font-size="4.2" text-anchor="middle" fill="#444" >2</text>
<text x="80.12" y="394.50" font-size="4.2" text-anchor="middle" fill="#444" >3</text>
<text x="89.36" y="392.00" font-size="4.2" text-anchor="middle" fill="#444" >4</text>
<text x="98.36" y="394.50" font-size="4.2" text-anchor="middle" fill="#444" >5</text>
<text x="107.17" y="392.00" font-size="4.2" text-anchor="middle" fill="#444" >6</text>
<text x="115.79" y="394.50" font-size="4.2" text-anchor="middle" fill="#444" >7</text>
<text x="123.81" y="392.00" font-size="4.2" text-anchor="middle" fill="#444" >8</text>
<text x="131.23" y="394.50" font-size="4.2" text-anchor="middle" fill="#444" >9</text>
<text x="138.68" y="392.00" font-size="4.2" text-anchor="middle" fill="#444" >10</text>
<text x="146.06" y="394.50" font-size="4.2" text-anchor="middle" fill="#444" >11</text>
<text x="153.13" y="392.00" font-size="4.2" text-anchor="middle" fill="#444" >12</text>
<text x="160.15" y="394.50" font-size="4.2" text-anchor="middle" fill="#444" >13</text>
<text x="167.31" y="392.00" font-size="4.2" text-anchor="middle" fill="#444" >14</text>
<text x="174.00" y="394.50" font-size="4.2" text-anchor="middle" fill="#444" >15</text>
<text x="179.90" y="392.00" font-size="4.2" text-anchor="middle" fill="#444" >16</text>
<text x="185.54" y="394.50" font-size="4.2" text-anchor="middle" fill="#444" >17</text>
<text x="190.97" y="392.00" font-size="4.2" text-anchor="middle" fill="#444" >18</text>
<text x="195.41" y="394.50" font-size="4.2" text-anchor="middle" fill="#444" >19</text>
<path d="M216.0,325.1 L216.6,325.1 L217.1,325.1 L217.7,324.9 L218.2,325.1 L218.8,325.1 L219.3,325.1 L219.8,325.1 L220.4,325.0 L220.9,325.1 L221.5,325.1 L222.1,325.1 L222.6,325.1 L223.2,324.8 L223.7,325.1 L224.2,325.1 L224.8,325.1 L225.3,325.1 L225.9,325.1 L226.4,325.1 L227.0,325.1 L227.6,325.1 L228.1,325.1 L228.7,325.1 L229.2,325.1 L229.8,325.1 L230.3,325.1 L230.8,325.1 L231.4,325.1 L231.9,325.1 L232.5,325.1 L233.1,325.1 L233.6,325.1 L234.2,325.1 L234.7,325.1 L235.2,325.1 L235.8,325.1 L236.3,325.1 L236.9,325.1 L237.4,325.1 L238.0,325.1 L238.6,325.1 L239.1,325.1 L239.7,325.1 L240.2,325.1 L240.8,325.1 L241.3,325.1 L241.8,325.1 L242.4,325.1 L242.9,325.1 L243.5,325.1 L244.1,325.1 L244.6,325.1 L245.2,325.1 L245.7,325.1 L246.2,325.1 L246.8,325.1 L247.3,325.1 L247.9,325.1 L248.4,325.1 L249.0,325.1 L249.6,325.1 L250.1,325.1 L250.7,323.5 L251.2,325.1 L251.8,325.1 L252.3,325.1 L252.8,325.1 L253.4,325.1 L253.9,325.1 L254.5,325.1 L255.1,325.1 L255.6,325.1 L256.1,325.1 L256.7,325.1 L257.2,325.1 L257.8,325.1 L258.4,325.1 L258.9,325.1 L259.4,325.1 L260.0,325.1 L260.6,325.1 L261.1,325.1 L261.6,325.1 L262.2,325.1 L262.8,325.1 L263.3,325.1 L263.9,325.1 L264.4,325.1 L264.9,325.1 L265.5,325.1 L266.1,325.1 L266.6,325.1 L267.1,325.1 L267.7,325.1 L268.2,325.1 L268.8,325.1 L269.4,325.1 L269.9,324.5 L270.4,325.1 L271.0,325.1 L271.6,325.1 L272.1,325.1 L272.6,325.1 L273.2,325.1 L273.8,325.1 L274.3,325.1 L274.9,325.1 L275.4,325.1 L275.9,325.1 L276.5,325.1 L277.1,325.1 L277.6,323.4 L278.1,325.1 L278.7,325.1 L279.2,325.1 L279.8,325.1 L280.4,323.6 L280.9,325.1 L281.4,325.1 L282.0,325.1 L282.6,325.1 L283.1,325.1 L283.6,325.1 L284.2,325.1 L284.8,325.1 L285.3,325.1 L285.9,325.1 L286.4,325.1 L286.9,325.1 L287.5,325.1 L288.1,325.1 L288.6,325.1 L289.1,325.1 L289.7,325.1 L290.2,325.1 L290.8,325.1 L291.4,325.1 L291.9,325.1 L292.4,325.1 L293.0,325.1 L293.6,325.1 L294.1,325.1 L294.6,325.1 L295.2,325.1 L295.8,325.1 L296.3,325.1 L296.9,325.1 L297.4,325.1 L297.9,325.1 L298.5,325.1 L299.1,325.1 L299.6,325.1 L300.1,325.1 L300.7,325.1 L301.2,325.1 L301.8,325.1 L302.4,325.1 L302.9,325.1 L303.4,325.1 L304.0,325.1 L304.6,319.9 L305.1,320.1 L305.6,320.0 L306.2,319.9 L306.8,320.8 L307.3,319.8 L307.9,320.5 L308.4,320.2 L308.9,320.2 L309.5,320.3 L310.1,320.3 L310.6,320.9 L311.1,320.5 L311.7,320.7 L312.2,325.1 L312.8,325.1 L313.4,325.1 L313.9,325.1 L314.4,325.1 L315.0,325.1 L315.6,325.1 L316.1,325.1 L316.6,325.1 L317.2,325.1 L317.8,325.1 L318.3,325.1 L318.9,325.1 L319.4,325.1 L319.9,325.1 L320.5,325.1 L321.1,325.1 L321.6,325.1 L322.1,325.1 L322.7,325.1 L323.2,325.1 L323.8,325.1 L324.4,325.1 L324.9,325.1 L325.4,325.1 L326.0,325.1 L326.6,325.1 L327.1,325.1 L327.6,325.1 L328.2,325.1 L328.8,325.1 L329.3,325.1 L329.9,325.1 L330.4,325.1 L330.9,325.1 L331.5,325.1 L332.1,325.1 L332.6,325.1 L333.1,325.1 L333.7,325.1 L334.2,325.1 L334.8,325.1 L335.4,323.6 L335.9,325.1 L336.4,325.1 L337.0,325.1 L337.6,325.1 L338.1,325.1 L338.6,325.1 L339.2,325.1 L339.8,325.1 L340.3,325.1 L340.9,325.1 L341.4,325.1 L342.0,325.1 L342.5,325.1 L343.1,325.1 L343.6,325.1 L344.1,325.1 L344.7,325.1 L345.2,325.1 L345.8,325.1 L346.4,325.1 L346.9,325.1 L347.5,325.1 L348.0,325.1 L348.6,325.1 L349.1,325.1 L349.6,325.1 L350.2,325.1 L350.8,325.1 L351.3,325.1 L351.9,325.1 L352.4,325.1 L353.0,325.1 L353.5,325.1 L354.1,325.1 L354.6,325.1 L355.1,325.1 L355.7,325.1 L356.2,325.1 L356.8,325.1 L357.4,325.1 L357.9,325.1 L358.5,325.1 L359.0,325.1 L359.6,325.1 L359.6,326.1 L359.0,326.1 L358.5,326.7 L357.9,326.1 L357.4,327.5 L356.8,326.1 L356.2,326.7 L355.7,326.3 L355.1,326.1 L354.6,326.1 L354.1,326.5 L353.5,326.1 L353.0,326.5 L352.4,326.1 L351.9,326.1 L351.3,326.4 L350.8,326.7 L350.2,326.3 L349.6,326.1 L349.1,326.1 L348.6,326.2 L348.0,326.1 L347.5,326.1 L346.9,326.1 L346.4,326.5 L345.8,326.1 L345.2,326.1 L344.7,327.9 L344.1,327.6 L343.6,327.8 L343.1,327.6 L342.5,327.1 L342.0,328.0 L341.4,328.1 L340.9,327.1 L340.3,335.8 L339.8,335.7 L339.2,335.8 L338.6,336.0 L338.1,326.1 L337.6,326.1 L337.0,326.1 L336.4,326.9 L335.9,326.1 L335.4,326.1 L334.8,326.1 L334.2,326.1 L333.7,326.1 L333.1,326.1 L332.6,326.5 L332.1,326.1 L331.5,326.2 L330.9,326.2 L330.4,326.1 L329.9,326.6 L329.3,326.1 L328.8,326.1 L328.2,326.3 L327.6,326.1 L327.1,326.6 L326.6,326.1 L326.0,326.1 L325.4,326.1 L324.9,326.1 L324.4,326.2 L323.8,326.3 L323.2,326.7 L322.7,326.5 L322.1,326.1 L321.6,326.3 L321.1,326.1 L320.5,326.1 L319.9,326.6 L319.4,326.1 L318.9,326.1 L318.3,326.1 L317.8,326.7 L317.2,326.1 L316.6,326.1 L316.1,326.1 L315.6,326.1 L315.0,326.1 L314.4,326.1 L313.9,326.7 L313.4,326.1 L312.8,326.7 L312.2,326.1 L311.7,326.1 L311.1,326.4 L310.6,326.4 L310.1,326.1 L309.5,326.1 L308.9,326.1 L308.4,326.1 L307.9,326.1 L307.3,326.4 L306.8,326.1 L306.2,326.1 L305.6,326.1 L305.1,326.4 L304.6,326.2 L304.0,326.1 L303.4,326.1 L302.9,326.1 L302.4,326.1 L301.8,326.1 L301.2,326.1 L300.7,326.1 L300.1,326.4 L299.6,326.4 L299.1,326.5 L298.5,328.4 L297.9,326.6 L297.4,326.1 L296.9,326.6 L296.3,326.1 L295.8,326.1 L295.2,326.5 L294.6,326.1 L294.1,326.1 L293.6,326.3 L293.0,326.1 L292.4,326.5 L291.9,326.1 L291.4,326.1 L290.8,326.3 L290.2,326.5 L289.7,326.1 L289.1,326.1 L288.6,326.1 L288.1,326.3 L287.5,326.1 L286.9,326.6 L286.4,326.1 L285.9,326.1 L285.3,326.1 L284.8,326.5 L284.2,326.1 L283.6,326.1 L283.1,326.1 L282.6,326.1 L282.0,328.1 L281.4,326.2 L280.9,326.1 L280.4,326.1 L279.8,326.7 L279.2,326.1 L278.7,326.1 L278.1,326.1 L277.6,326.1 L277.1,326.1 L276.5,326.1 L275.9,326.1 L275.4,326.3 L274.9,326.7 L274.3,326.1 L273.8,326.1 L273.2,326.1 L272.6,326.1 L272.1,326.1 L271.6,326.5 L271.0,326.1 L270.4,326.1 L269.9,326.1 L269.4,326.1 L268.8,326.1 L268.2,326.1 L267.7,326.4 L267.1,326.1 L266.6,326.1 L266.1,326.6 L265.5,326.1 L264.9,326.4 L264.4,326.5 L263.9,326.1 L263.3,326.3 L262.8,326.1 L262.2,326.1 L261.6,326.1 L261.1,327.6 L260.6,326.1 L260.0,326.5 L259.4,326.7 L258.9,326.6 L258.4,326.1 L257.8,326.1 L257.2,326.1 L256.7,326.1 L256.1,326.3 L255.6,326.1 L255.1,326.1 L254.5,326.1 L253.9,326.1 L253.4,326.1 L252.8,326.1 L252.3,326.4 L251.8,326.1 L251.2,326.3 L250.7,326.1 L250.1,326.1 L249.6,326.2 L249.0,326.1 L248.4,326.1 L247.9,326.1 L247.3,326.1 L246.8,326.4 L246.2,326.8 L245.7,326.1 L245.2,326.5 L244.6,326.1 L244.1,326.7 L243.5,326.8 L242.9,326.1 L242.4,326.1 L241.8,326.1 L241.3,326.3 L240.8,326.5 L240.2,326.1 L239.7,326.1 L239.1,326.1 L238.6,326.1 L238.0,326.1 L237.4,326.1 L236.9,326.6 L236.3,326.4 L235.8,326.1 L235.2,326.1 L234.7,326.1 L234.2,326.1 L233.6,326.1 L233.1,327.5 L232.5,326.1 L231.9,326.5 L231.4,326.1 L230.8,326.1 L230.3,326.6 L229.8,326.1 L229.2,326.1 L228.7,326.4 L228.1,326.2 L227.6,326.1 L227.0,326.6 L226.4,326.1 L225.9,326.1 L225.3,326.1 L224.8,326.1 L224.2,326.7 L223.7,326.6 L223.2,326.1 L222.6,326.1 L222.1,326.1 L221.5,326.1 L220.9,326.1 L220.4,326.1 L219.8,326.1 L219.3,326.1 L218.8,326.1 L218.2,326.1 L217.7,326.1 L217.1,326.1 L216.6,326.1 L216.0,326.1Z" fill="#353535"/>
<rect x="252.85" y="325.60" width="0.9" height="10.00" fill="#353535"/>
<path d="M216.0,350.2 L216.6,350.2 L217.1,350.2 L217.7,350.2 L218.2,350.2 L218.8,350.2 L219.3,350.2 L219.8,350.2 L220.4,350.2 L220.9,350.2 L221.5,350.2 L222.1,350.2 L222.6,350.2 L223.2,350.2 L223.7,350.2 L224.2,350.2 L224.8,350.2 L225.3,350.2 L225.9,350.2 L226.4,350.2 L227.0,350.2 L227.6,349.9 L228.1,350.2 L228.7,350.1 L229.2,350.2 L229.8,350.2 L230.3,350.2 L230.8,350.2 L231.4,350.2 L231.9,350.2 L232.5,350.2 L233.1,350.2 L233.6,350.2 L234.2,350.2 L234.7,350.2 L235.2,350.2 L235.8,350.2 L236.3,350.2 L236.9,350.2 L237.4,350.2 L238.0,350.2 L238.6,350.2 L239.1,350.2 L239.7,350.2 L240.2,350.2 L240.8,350.2 L241.3,350.2 L241.8,350.2 L242.4,350.2 L242.9,350.2 L243.5,350.2 L244.1,350.2 L244.6,350.2 L245.2,350.2 L245.7,350.2 L246.2,350.2 L246.8,350.2 L247.3,350.2 L247.9,350.2 L248.4,350.2 L249.0,350.2 L249.6,350.2 L250.1,350.2 L250.7,350.2 L251.2,350.2 L251.8,350.2 L252.3,350.2 L252.8,350.2 L253.4,350.2 L253.9,350.2 L254.5,350.2 L255.1,350.2 L255.6,350.2 L256.1,350.2 L256.7,350.2 L257.2,350.2 L257.8,350.2 L258.4,350.2 L258.9,350.2 L259.4,350.2 L260.0,350.2 L260.6,350.2 L261.1,350.2 L261.6,350.2 L262.2,350.2 L262.8,350.2 L263.3,350.2 L263.9,350.2 L264.4,350.2 L264.9,350.2 L265.5,350.2 L266.1,350.2 L266.6,350.2 L267.1,350.2 L267.7,350.2 L268.2,350.2 L268.8,350.2 L269.4,350.2 L269.9,350.2 L270.4,350.2 L271.0,350.2 L271.6,350.2 L272.1,350.2 L272.6,350.2 L273.2,350.2 L273.8,350.2 L274.3,350.2 L274.9,350.2 L275.4,350.2 L275.9,350.2 L276.5,350.2 L277.1,350.2 L277.6,350.2 L278.1,350.2 L278.7,350.2 L279.2,350.2 L279.8,350.2 L280.4,350.2 L280.9,350.2 L281.4,350.2 L282.0,350.2 L282.6,350.2 L283.1,350.2 L283.6,350.2 L284.2,350.2 L284.8,350.2 L285.3,350.2 L285.9,350.2 L286.4,350.2 L286.9,350.2 L287.5,350.2 L288.1,350.2 L288.6,350.2 L289.1,350.2 L289.7,350.2 L290.2,350.2 L290.8,350.2 L291.4,350.0 L291.9,350.2 L292.4,350.2 L293.0,350.2 L293.6,350.2 L294.1,350.2 L294.6,350.2 L295.2,350.2 L295.8,350.2 L296.3,350.2 L296.9,350.2 L297.4,350.2 L297.9,350.2 L298.5,350.2 L299.1,350.2 L299.6,350.2 L300.1,350.2 L300.7,350.2 L301.2,350.2 L301.8,350.2 L302.4,350.2 L302.9,350.2 L303.4,350.2 L304.0,350.2 L304.6,346.3 L305.1,346.4 L305.6,347.0 L306.2,347.1 L306.8,346.7 L307.3,347.1 L307.9,346.4 L308.4,346.9 L308.9,346.9 L309.5,346.8 L310.1,346.5 L310.6,346.4 L311.1,346.4 L311.7,347.0 L312.2,350.2 L312.8,350.2 L313.4,350.2 L313.9,350.2 L314.4,350.2 L315.0,350.2 L315.6,350.2 L316.1,350.2 L316.6,350.2 L317.2,350.2 L317.8,350.2 L318.3,350.2 L318.9,350.2 L319.4,350.2 L319.9,350.2 L320.5,350.2 L321.1,350.2 L321.6,350.2 L322.1,350.2 L322.7,350.2 L323.2,350.2 L323.8,350.2 L324.4,350.2 L324.9,350.2 L325.4,350.2 L326.0,350.2 L326.6,350.2 L327.1,350.2 L327.6,350.2 L328.2,350.2 L328.8,350.2 L329.3,350.1 L329.9,350.2 L330.4,350.2 L330.9,350.2 L331.5,350.2 L332.1,350.2 L332.6,350.2 L333.1,350.2 L333.7,350.2 L334.2,350.2 L334.8,350.2 L335.4,350.2 L335.9,350.2 L336.4,350.2 L337.0,350.2 L337.6,350.2 L338.1,350.2 L338.6,350.2 L339.2,350.2 L339.8,350.2 L340.3,350.2 L340.9,350.2 L341.4,350.2 L342.0,350.2 L342.5,350.2 L343.1,350.2 L343.6,350.2 L344.1,350.2 L344.7,350.2 L345.2,350.2 L345.8,350.2 L346.4,350.2 L346.9,350.2 L347.5,350.2 L348.0,350.2 L348.6,350.2 L349.1,350.2 L349.6,350.2 L350.2,350.2 L350.8,350.2 L351.3,350.2 L351.9,349.8 L352.4,350.2 L353.0,350.2 L353.5,350.2 L354.1,350.2 L354.6,350.2 L355.1,350.2 L355.7,350.2 L356.2,350.2 L356.8,350.2 L357.4,350.2 L357.9,350.2 L358.5,350.2 L359.0,350.2 L359.6,350.2 L359.6,352.0 L359.0,351.6 L358.5,351.2 L357.9,351.2 L357.4,351.3 L356.8,351.4 L356.2,351.2 L355.7,351.2 L355.1,351.6 L354.6,351.2 L354.1,351.2 L353.5,351.4 L353.0,351.2 L352.4,351.9 L351.9,351.2 L351.3,351.2 L350.8,351.2 L350.2,351.2 L349.6,351.2 L349.1,351.6 L348.6,351.4 L348.0,351.2 L347.5,351.2 L346.9,351.2 L346.4,351.3 L345.8,352.5 L345.2,352.7 L344.7,352.2 L344.1,352.9 L343.6,352.9 L343.1,352.3 L342.5,353.0 L342.0,352.5 L341.4,352.6 L340.9,352.4 L340.3,358.2 L339.8,357.9 L339.2,358.0 L338.6,358.0 L338.1,351.6 L337.6,351.2 L337.0,351.2 L336.4,351.2 L335.9,351.2 L335.4,351.7 L334.8,351.3 L334.2,351.2 L333.7,351.3 L333.1,351.4 L332.6,351.6 L332.1,351.2 L331.5,351.2 L330.9,351.2 L330.4,351.2 L329.9,351.2 L329.3,351.2 L328.8,351.2 L328.2,351.2 L327.6,351.4 L327.1,351.2 L326.6,351.2 L326.0,351.2 L325.4,351.6 L324.9,351.3 L324.4,351.2 L323.8,351.6 L323.2,351.2 L322.7,351.2 L322.1,351.5 L321.6,351.2 L321.1,351.2 L320.5,351.2 L319.9,351.2 L319.4,351.4 L318.9,351.2 L318.3,351.2 L317.8,351.2 L317.2,351.2 L316.6,351.2 L316.1,351.7 L315.6,351.2 L315.0,351.2 L314.4,351.2 L313.9,351.6 L313.4,351.7 L312.8,351.2 L312.2,351.2 L311.7,351.2 L311.1,351.2 L310.6,351.5 L310.1,351.2 L309.5,351.2 L308.9,351.2 L308.4,351.2 L307.9,351.2 L307.3,351.3 L306.8,351.2 L306.2,351.2 L305.6,351.2 L305.1,351.2 L304.6,351.2 L304.0,351.2 L303.4,351.2 L302.9,351.6 L302.4,351.2 L301.8,353.0 L301.2,351.2 L300.7,351.2 L300.1,351.4 L299.6,351.2 L299.1,351.2 L298.5,351.3 L297.9,351.2 L297.4,351.4 L296.9,351.2 L296.3,351.6 L295.8,351.4 L295.2,351.2 L294.6,351.5 L294.1,351.2 L293.6,351.2 L293.0,352.2 L292.4,351.2 L291.9,351.2 L291.4,351.2 L290.8,351.7 L290.2,351.2 L289.7,351.2 L289.1,351.2 L288.6,351.2 L288.1,351.2 L287.5,351.2 L286.9,351.2 L286.4,351.2 L285.9,351.5 L285.3,351.2 L284.8,351.2 L284.2,352.8 L283.6,351.4 L283.1,351.4 L282.6,351.2 L282.0,351.2 L281.4,351.2 L280.9,351.2 L280.4,351.5 L279.8,351.2 L279.2,351.2 L278.7,351.2 L278.1,351.2 L277.6,351.7 L277.1,351.2 L276.5,351.2 L275.9,351.6 L275.4,351.5 L274.9,351.2 L274.3,351.2 L273.8,351.2 L273.2,351.5 L272.6,351.2 L272.1,351.2 L271.6,351.2 L271.0,351.2 L270.4,351.2 L269.9,351.2 L269.4,351.2 L268.8,351.6 L268.2,351.2 L267.7,351.4 L267.1,351.2 L266.6,351.2 L266.1,351.2 L265.5,351.2 L264.9,351.2 L264.4,351.2 L263.9,351.2 L263.3,351.2 L262.8,351.2 L262.2,351.2 L261.6,351.2 L261.1,351.2 L260.6,351.2 L260.0,351.2 L259.4,351.6 L258.9,351.2 L258.4,351.4 L257.8,351.6 L257.2,351.2 L256.7,351.2 L256.1,351.2 L255.6,351.2 L255.1,351.2 L254.5,351.7 L253.9,351.2 L253.4,351.7 L252.8,351.2 L252.3,351.5 L251.8,351.2 L251.2,351.6 L250.7,351.2 L250.1,351.4 L249.6,351.3 L249.0,351.2 L248.4,351.2 L247.9,352.1 L247.3,351.2 L246.8,351.5 L246.2,351.7 L245.7,351.2 L245.2,351.2 L244.6,351.2 L244.1,351.2 L243.5,351.2 L242.9,351.2 L242.4,351.7 L241.8,351.5 L241.3,351.2 L240.8,351.2 L240.2,351.2 L239.7,351.6 L239.1,351.3 L238.6,351.2 L238.0,351.2 L237.4,351.2 L236.9,351.2 L236.3,351.2 L235.8,351.2 L235.2,351.2 L234.7,351.2 L234.2,351.2 L233.6,351.2 L233.1,351.2 L232.5,351.2 L231.9,351.2 L231.4,351.2 L230.8,351.8 L230.3,351.2 L229.8,351.2 L229.2,351.2 L228.7,351.2 L228.1,351.2 L227.6,351.2 L227.0,351.2 L226.4,351.2 L225.9,351.2 L225.3,351.2 L224.8,351.2 L224.2,351.2 L223.7,351.2 L223.2,351.2 L222.6,352.0 L222.1,351.2 L221.5,351.2 L220.9,351.2 L220.4,351.2 L219.8,351.3 L219.3,351.7 L218.8,351.2 L218.2,351.2 L217.7,351.2 L217.1,351.2 L216.6,351.7 L216.0,351.2Z" fill="#353535"/>
<rect x="252.85" y="350.70" width="0.9" height="8.20" fill="#353535"/>
<path d="M216.0,375.6 L216.6,374.2 L217.1,375.6 L217.7,375.6 L218.2,375.6 L218.8,375.6 L219.3,375.6 L219.8,375.6 L220.4,374.9 L220.9,375.6 L221.5,375.6 L222.1,375.6 L222.6,375.6 L223.2,375.6 L223.7,375.6 L224.2,375.6 L224.8,375.6 L225.3,375.6 L225.9,375.6 L226.4,375.6 L227.0,375.6 L227.6,375.6 L228.1,375.6 L228.7,375.6 L229.2,375.6 L229.8,375.6 L230.3,375.6 L230.8,375.6 L231.4,375.6 L231.9,375.6 L232.5,375.6 L233.1,375.6 L233.6,375.6 L234.2,375.6 L234.7,375.6 L235.2,375.6 L235.8,375.6 L236.3,375.6 L236.9,375.5 L237.4,375.6 L238.0,375.6 L238.6,375.6 L239.1,375.6 L239.7,375.6 L240.2,375.6 L240.8,374.7 L241.3,375.6 L241.8,375.6 L242.4,375.6 L242.9,375.6 L243.5,375.6 L244.1,375.6 L244.6,375.6 L245.2,375.6 L245.7,375.6 L246.2,375.6 L246.8,375.6 L247.3,375.6 L247.9,375.6 L248.4,375.6 L249.0,375.6 L249.6,375.6 L250.1,375.6 L250.7,375.6 L251.2,375.6 L251.8,375.6 L252.3,375.6 L252.8,375.6 L253.4,375.6 L253.9,375.6 L254.5,375.6 L255.1,375.6 L255.6,375.6 L256.1,375.2 L256.7,375.6 L257.2,375.6 L257.8,375.6 L258.4,375.6 L258.9,375.6 L259.4,375.6 L260.0,375.6 L260.6,375.6 L261.1,375.6 L261.6,375.6 L262.2,375.6 L262.8,375.6 L263.3,375.6 L263.9,375.6 L264.4,375.6 L264.9,375.5 L265.5,375.6 L266.1,375.6 L266.6,375.6 L267.1,375.6 L267.7,375.6 L268.2,375.6 L268.8,375.6 L269.4,375.6 L269.9,375.6 L270.4,375.6 L271.0,375.3 L271.6,375.6 L272.1,375.6 L272.6,375.6 L273.2,375.6 L273.8,375.6 L274.3,375.6 L274.9,375.6 L275.4,375.6 L275.9,375.6 L276.5,375.6 L277.1,375.6 L277.6,375.6 L278.1,375.6 L278.7,375.6 L279.2,375.6 L279.8,375.5 L280.4,375.6 L280.9,375.6 L281.4,375.6 L282.0,375.6 L282.6,375.6 L283.1,375.6 L283.6,375.6 L284.2,375.2 L284.8,375.6 L285.3,375.6 L285.9,375.6 L286.4,375.6 L286.9,375.6 L287.5,375.6 L288.1,375.6 L288.6,375.6 L289.1,375.6 L289.7,375.6 L290.2,375.6 L290.8,375.6 L291.4,375.6 L291.9,375.6 L292.4,375.6 L293.0,375.6 L293.6,375.6 L294.1,375.6 L294.6,375.6 L295.2,375.6 L295.8,375.6 L296.3,375.6 L296.9,375.6 L297.4,375.6 L297.9,375.6 L298.5,375.6 L299.1,375.6 L299.6,375.6 L300.1,375.6 L300.7,375.6 L301.2,375.6 L301.8,375.6 L302.4,375.6 L302.9,375.6 L303.4,375.6 L304.0,375.6 L304.6,373.8 L305.1,373.7 L305.6,373.3 L306.2,373.3 L306.8,373.5 L307.3,373.1 L307.9,373.6 L308.4,373.3 L308.9,373.2 L309.5,373.4 L310.1,373.5 L310.6,373.4 L311.1,373.7 L311.7,373.4 L312.2,375.6 L312.8,375.6 L313.4,375.6 L313.9,375.6 L314.4,375.6 L315.0,375.6 L315.6,375.6 L316.1,375.6 L316.6,375.6 L317.2,375.6 L317.8,375.6 L318.3,375.6 L318.9,375.6 L319.4,375.6 L319.9,375.6 L320.5,375.6 L321.1,375.6 L321.6,375.6 L322.1,375.6 L322.7,375.6 L323.2,375.6 L323.8,375.6 L324.4,375.6 L324.9,375.6 L325.4,375.6 L326.0,375.6 L326.6,375.6 L327.1,375.6 L327.6,375.6 L328.2,375.6 L328.8,375.6 L329.3,375.6 L329.9,375.6 L330.4,375.6 L330.9,375.6 L331.5,375.5 L332.1,375.6 L332.6,375.6 L333.1,375.6 L333.7,375.6 L334.2,375.6 L334.8,375.6 L335.4,375.6 L335.9,375.6 L336.4,374.0 L337.0,373.6 L337.6,373.8 L338.1,373.8 L338.6,375.6 L339.2,375.6 L339.8,375.6 L340.3,375.6 L340.9,375.6 L341.4,375.6 L342.0,375.6 L342.5,375.6 L343.1,375.6 L343.6,375.6 L344.1,375.6 L344.7,375.6 L345.2,375.6 L345.8,375.6 L346.4,375.6 L346.9,375.6 L347.5,375.6 L348.0,375.6 L348.6,375.6 L349.1,375.6 L349.6,375.6 L350.2,375.6 L350.8,375.6 L351.3,375.6 L351.9,375.6 L352.4,375.6 L353.0,375.6 L353.5,375.6 L354.1,375.6 L354.6,375.6 L355.1,375.6 L355.7,375.6 L356.2,375.6 L356.8,375.6 L357.4,375.6 L357.9,375.6 L358.5,375.6 L359.0,375.6 L359.6,375.6 L359.6,377.8 L359.0,376.6 L358.5,376.6 L357.9,376.6 L357.4,376.8 L356.8,376.6 L356.2,376.8 L355.7,376.8 L355.1,376.8 L354.6,376.6 L354.1,376.6 L353.5,376.6 L353.0,376.6 L352.4,376.6 L351.9,377.0 L351.3,376.6 L350.8,376.6 L350.2,376.8 L349.6,376.6 L349.1,377.1 L348.6,376.6 L348.0,376.6 L347.5,376.6 L346.9,376.6 L346.4,376.7 L345.8,376.6 L345.2,376.6 L344.7,382.3 L344.1,381.0 L343.6,382.4 L343.1,381.8 L342.5,380.7 L342.0,380.7 L341.4,380.9 L340.9,380.8 L340.3,381.7 L339.8,380.9 L339.2,381.1 L338.6,382.5 L338.1,376.6 L337.6,376.9 L337.0,376.9 L336.4,376.6 L335.9,376.6 L335.4,376.6 L334.8,376.6 L334.2,376.6 L333.7,376.9 L333.1,376.6 L332.6,376.6 L332.1,377.1 L331.5,376.6 L330.9,376.6 L330.4,376.6 L329.9,376.6 L329.3,376.6 L328.8,376.6 L328.2,376.6 L327.6,376.6 L327.1,376.6 L326.6,376.6 L326.0,377.0 L325.4,376.6 L324.9,377.8 L324.4,377.1 L323.8,376.6 L323.2,376.6 L322.7,376.6 L322.1,376.6 L321.6,376.6 L321.1,376.9 L320.5,376.6 L319.9,376.9 L319.4,376.6 L318.9,376.6 L318.3,376.9 L317.8,376.6 L317.2,376.6 L316.6,376.9 L316.1,376.6 L315.6,376.8 L315.0,377.0 L314.4,376.6 L313.9,376.6 L313.4,376.6 L312.8,376.9 L312.2,376.6 L311.7,376.6 L311.1,376.9 L310.6,376.6 L310.1,376.6 L309.5,376.6 L308.9,376.6 L308.4,376.6 L307.9,376.6 L307.3,376.9 L306.8,376.6 L306.2,376.6 L305.6,376.9 L305.1,376.6 L304.6,376.9 L304.0,376.6 L303.4,376.6 L302.9,376.6 L302.4,376.6 L301.8,376.6 L301.2,376.8 L300.7,376.6 L300.1,376.6 L299.6,376.7 L299.1,376.6 L298.5,376.6 L297.9,376.6 L297.4,376.6 L296.9,376.6 L296.3,376.6 L295.8,376.6 L295.2,376.9 L294.6,376.7 L294.1,376.6 L293.6,377.1 L293.0,376.7 L292.4,377.1 L291.9,377.1 L291.4,376.6 L290.8,376.9 L290.2,376.6 L289.7,376.6 L289.1,376.6 L288.6,376.6 L288.1,376.6 L287.5,376.6 L286.9,376.6 L286.4,376.6 L285.9,376.9 L285.3,377.0 L284.8,376.6 L284.2,376.6 L283.6,376.6 L283.1,376.6 L282.6,376.6 L282.0,376.6 L281.4,376.6 L280.9,376.6 L280.4,376.6 L279.8,376.6 L279.2,376.6 L278.7,376.6 L278.1,377.0 L277.6,376.6 L277.1,376.8 L276.5,376.6 L275.9,376.6 L275.4,376.6 L274.9,376.6 L274.3,376.6 L273.8,376.6 L273.2,376.6 L272.6,376.6 L272.1,376.6 L271.6,377.1 L271.0,376.6 L270.4,377.0 L269.9,376.6 L269.4,377.0 L268.8,376.6 L268.2,376.9 L267.7,376.8 L267.1,376.6 L266.6,376.6 L266.1,376.6 L265.5,376.8 L264.9,376.6 L264.4,376.6 L263.9,376.6 L263.3,376.8 L262.8,376.6 L262.2,376.6 L261.6,376.9 L261.1,376.8 L260.6,376.6 L260.0,376.7 L259.4,376.6 L258.9,376.6 L258.4,376.6 L257.8,377.0 L257.2,376.6 L256.7,376.6 L256.1,376.6 L255.6,379.0 L255.1,379.2 L254.5,379.3 L253.9,379.5 L253.4,379.6 L252.8,379.5 L252.3,379.2 L251.8,379.0 L251.2,379.1 L250.7,376.6 L250.1,376.6 L249.6,376.6 L249.0,376.6 L248.4,376.9 L247.9,376.6 L247.3,376.6 L246.8,377.1 L246.2,377.1 L245.7,377.0 L245.2,376.6 L244.6,376.6 L244.1,376.6 L243.5,377.1 L242.9,376.9 L242.4,377.0 L241.8,377.0 L241.3,376.6 L240.8,376.6 L240.2,376.6 L239.7,376.9 L239.1,376.8 L238.6,376.6 L238.0,376.6 L237.4,376.6 L236.9,376.6 L236.3,376.6 L235.8,376.6 L235.2,376.9 L234.7,376.6 L234.2,376.6 L233.6,376.6 L233.1,376.6 L232.5,376.8 L231.9,376.6 L231.4,376.6 L230.8,377.1 L230.3,376.6 L229.8,376.6 L229.2,376.6 L228.7,376.6 L228.1,376.6 L227.6,376.6 L227.0,376.6 L226.4,377.0 L225.9,376.6 L225.3,376.6 L224.8,377.4 L224.2,376.6 L223.7,376.6 L223.2,377.0 L222.6,376.6 L222.1,376.6 L221.5,376.6 L220.9,376.6 L220.4,376.6 L219.8,376.6 L219.3,377.1 L218.8,376.6 L218.2,377.0 L217.7,377.2 L217.1,376.6 L216.6,376.6 L216.0,376.6Z" fill="#353535"/>
<rect x="252.85" y="376.10" width="0.9" height="10.00" fill="#353535"/>
<path d="M216.0,400.7 L216.6,400.7 L217.1,400.7 L217.7,400.7 L218.2,400.7 L218.8,400.7 L219.3,400.7 L219.8,400.7 L220.4,400.7 L220.9,400.7 L221.5,400.7 L222.1,400.7 L222.6,400.7 L223.2,400.7 L223.7,400.7 L224.2,400.7 L224.8,400.7 L225.3,400.7 L225.9,400.7 L226.4,400.7 L227.0,400.7 L227.6,400.7 L228.1,400.7 L228.7,400.7 L229.2,400.7 L229.8,400.7 L230.3,400.7 L230.8,400.1 L231.4,400.7 L231.9,400.7 L232.5,400.7 L233.1,400.7 L233.6,400.7 L234.2,400.7 L234.7,399.6 L235.2,400.6 L235.8,400.7 L236.3,400.7 L236.9,400.7 L237.4,400.7 L238.0,400.7 L238.6,400.7 L239.1,400.7 L239.7,400.7 L240.2,400.7 L240.8,400.7 L241.3,400.7 L241.8,400.7 L242.4,400.7 L242.9,400.7 L243.5,400.7 L244.1,400.7 L244.6,400.7 L245.2,400.7 L245.7,400.7 L246.2,400.7 L246.8,400.7 L247.3,400.7 L247.9,400.7 L248.4,400.7 L249.0,400.7 L249.6,400.7 L250.1,400.7 L250.7,400.7 L251.2,400.7 L251.8,400.7 L252.3,400.7 L252.8,400.7 L253.4,400.7 L253.9,400.7 L254.5,400.7 L255.1,400.7 L255.6,400.7 L256.1,400.7 L256.7,400.7 L257.2,400.7 L257.8,400.7 L258.4,400.7 L258.9,400.7 L259.4,400.7 L260.0,400.7 L260.6,400.7 L261.1,400.5 L261.6,400.7 L262.2,400.7 L262.8,400.7 L263.3,400.7 L263.9,399.3 L264.4,400.7 L264.9,400.7 L265.5,400.7 L266.1,400.7 L266.6,400.7 L267.1,400.7 L267.7,400.7 L268.2,400.7 L268.8,400.7 L269.4,400.7 L269.9,400.7 L270.4,398.5 L271.0,397.6 L271.6,400.7 L272.1,400.7 L272.6,400.7 L273.2,400.7 L273.8,400.7 L274.3,400.7 L274.9,400.7 L275.4,400.7 L275.9,400.7 L276.5,400.7 L277.1,400.7 L277.6,400.7 L278.1,400.7 L278.7,400.7 L279.2,400.7 L279.8,400.7 L280.4,400.7 L280.9,400.7 L281.4,400.7 L282.0,400.7 L282.6,400.7 L283.1,400.7 L283.6,400.7 L284.2,400.7 L284.8,400.7 L285.3,400.7 L285.9,400.7 L286.4,400.7 L286.9,400.7 L287.5,400.7 L288.1,400.7 L288.6,400.7 L289.1,400.7 L289.7,400.7 L290.2,400.7 L290.8,400.7 L291.4,400.7 L291.9,400.7 L292.4,400.7 L293.0,400.7 L293.6,400.7 L294.1,400.7 L294.6,400.7 L295.2,400.7 L295.8,400.7 L296.3,400.7 L296.9,400.7 L297.4,400.7 L297.9,400.7 L298.5,400.7 L299.1,400.7 L299.6,400.7 L300.1,400.7 L300.7,400.7 L301.2,400.7 L301.8,400.7 L302.4,400.7 L302.9,400.7 L303.4,400.7 L304.0,400.7 L304.6,395.7 L305.1,396.5 L305.6,395.3 L306.2,396.4 L306.8,396.1 L307.3,395.4 L307.9,395.4 L308.4,396.1 L308.9,395.2 L309.5,395.9 L310.1,395.7 L310.6,395.8 L311.1,396.0 L311.7,396.0 L312.2,400.7 L312.8,400.7 L313.4,400.7 L313.9,400.7 L314.4,400.7 L315.0,400.7 L315.6,400.7 L316.1,400.7 L316.6,400.7 L317.2,400.7 L317.8,400.7 L318.3,400.6 L318.9,400.7 L319.4,400.7 L319.9,400.7 L320.5,400.7 L321.1,400.7 L321.6,400.7 L322.1,397.0 L322.7,400.7 L323.2,400.7 L323.8,400.7 L324.4,400.7 L324.9,400.7 L325.4,400.7 L326.0,400.7 L326.6,400.7 L327.1,400.7 L327.6,400.7 L328.2,400.7 L328.8,400.7 L329.3,400.7 L329.9,400.7 L330.4,400.7 L330.9,400.7 L331.5,400.7 L332.1,400.7 L332.6,400.7 L333.1,400.7 L333.7,400.7 L334.2,400.7 L334.8,400.7 L335.4,400.7 L335.9,400.7 L336.4,400.7 L337.0,400.7 L337.6,400.7 L338.1,400.7 L338.6,400.7 L339.2,400.7 L339.8,400.7 L340.3,400.7 L340.9,400.7 L341.4,400.7 L342.0,400.7 L342.5,400.7 L343.1,400.7 L343.6,400.7 L344.1,400.7 L344.7,400.7 L345.2,400.7 L345.8,400.7 L346.4,400.7 L346.9,400.7 L347.5,400.7 L348.0,400.7 L348.6,400.7 L349.1,400.7 L349.6,400.7 L350.2,400.6 L350.8,400.7 L351.3,400.7 L351.9,400.7 L352.4,400.7 L353.0,400.7 L353.5,400.7 L354.1,400.7 L354.6,400.7 L355.1,400.7 L355.7,400.7 L356.2,400.7 L356.8,400.7 L357.4,400.7 L357.9,399.5 L358.5,400.7 L359.0,400.7 L359.6,400.7 L359.6,401.7 L359.0,401.7 L358.5,401.7 L357.9,401.7 L357.4,401.7 L356.8,401.7 L356.2,401.9 L355.7,401.7 L355.1,402.2 L354.6,404.6 L354.1,401.7 L353.5,401.7 L353.0,401.7 L352.4,401.7 L351.9,401.7 L351.3,401.7 L350.8,401.7 L350.2,401.7 L349.6,401.7 L349.1,402.6 L348.6,401.7 L348.0,401.7 L347.5,401.7 L346.9,401.7 L346.4,401.7 L345.8,403.9 L345.2,403.4 L344.7,404.4 L344.1,404.1 L343.6,404.1 L343.1,403.6 L342.5,404.0 L342.0,403.6 L341.4,403.9 L340.9,403.7 L340.3,410.7 L339.8,410.3 L339.2,410.6 L338.6,410.6 L338.1,401.7 L337.6,401.7 L337.0,402.0 L336.4,401.8 L335.9,402.0 L335.4,401.7 L334.8,402.2 L334.2,401.7 L333.7,401.7 L333.1,401.7 L332.6,401.7 L332.1,401.7 L331.5,403.2 L330.9,401.7 L330.4,402.1 L329.9,401.7 L329.3,401.7 L328.8,401.7 L328.2,401.7 L327.6,401.7 L327.1,401.7 L326.6,402.0 L326.0,401.7 L325.4,403.1 L324.9,401.7 L324.4,401.7 L323.8,401.7 L323.2,401.7 L322.7,401.7 L322.1,401.7 L321.6,401.7 L321.1,401.7 L320.5,401.7 L319.9,401.7 L319.4,401.9 L318.9,401.9 L318.3,401.7 L317.8,401.7 L317.2,401.7 L316.6,401.7 L316.1,401.7 L315.6,401.7 L315.0,401.7 L314.4,401.7 L313.9,401.7 L313.4,402.0 L312.8,402.1 L312.2,401.7 L311.7,401.9 L311.1,401.8 L310.6,401.7 L310.1,401.8 L309.5,401.7 L308.9,401.7 L308.4,401.7 L307.9,401.7 L307.3,401.7 L306.8,402.0 L306.2,401.7 L305.6,401.8 L305.1,402.0 L304.6,401.7 L304.0,401.7 L303.4,401.7 L302.9,401.7 L302.4,401.7 L301.8,401.7 L301.2,401.7 L300.7,401.7 L300.1,401.7 L299.6,402.1 L299.1,401.7 L298.5,401.8 L297.9,401.7 L297.4,401.7 L296.9,401.7 L296.3,401.7 L295.8,402.0 L295.2,401.7 L294.6,402.1 L294.1,401.7 L293.6,401.7 L293.0,401.7 L292.4,401.7 L291.9,401.7 L291.4,401.7 L290.8,401.7 L290.2,402.0 L289.7,401.7 L289.1,402.0 L288.6,402.0 L288.1,401.7 L287.5,401.7 L286.9,401.7 L286.4,401.7 L285.9,401.7 L285.3,402.0 L284.8,401.7 L284.2,402.2 L283.6,401.7 L283.1,401.7 L282.6,401.7 L282.0,401.7 L281.4,402.0 L280.9,401.9 L280.4,401.7 L279.8,402.0 L279.2,401.7 L278.7,401.7 L278.1,401.7 L277.6,401.7 L277.1,402.5 L276.5,401.7 L275.9,402.2 L275.4,401.7 L274.9,401.7 L274.3,401.7 L273.8,401.7 L273.2,401.7 L272.6,401.7 L272.1,401.7 L271.6,401.7 L271.0,401.7 L270.4,401.7 L269.9,402.1 L269.4,401.7 L268.8,402.1 L268.2,401.8 L267.7,401.7 L267.1,401.7 L266.6,401.9 L266.1,401.7 L265.5,401.7 L264.9,401.7 L264.4,401.7 L263.9,401.7 L263.3,401.7 L262.8,401.7 L262.2,401.7 L261.6,401.7 L261.1,401.7 L260.6,401.7 L260.0,401.7 L259.4,402.3 L258.9,401.8 L258.4,401.7 L257.8,401.7 L257.2,401.7 L256.7,401.9 L256.1,401.7 L255.6,402.7 L255.1,402.6 L254.5,403.2 L253.9,403.1 L253.4,402.7 L252.8,402.9 L252.3,403.0 L251.8,403.2 L251.2,402.9 L250.7,403.1 L250.1,402.7 L249.6,405.4 L249.0,402.9 L248.4,402.7 L247.9,403.0 L247.3,402.2 L246.8,401.7 L246.2,401.7 L245.7,401.7 L245.2,402.0 L244.6,402.0 L244.1,401.9 L243.5,401.7 L242.9,401.7 L242.4,401.7 L241.8,401.7 L241.3,401.7 L240.8,402.1 L240.2,401.7 L239.7,401.7 L239.1,401.7 L238.6,401.7 L238.0,401.7 L237.4,401.7 L236.9,401.7 L236.3,401.7 L235.8,402.3 L235.2,401.7 L234.7,401.7 L234.2,401.7 L233.6,401.7 L233.1,401.9 L232.5,401.7 L231.9,402.2 L231.4,401.7 L230.8,401.7 L230.3,401.7 L229.8,401.7 L229.2,402.2 L228.7,401.7 L228.1,401.7 L227.6,401.8 L227.0,401.8 L226.4,401.7 L225.9,401.7 L225.3,401.7 L224.8,401.7 L224.2,402.1 L223.7,401.7 L223.2,401.7 L222.6,401.9 L222.1,401.8 L221.5,402.1 L220.9,401.7 L220.4,402.2 L219.8,402.2 L219.3,401.7 L218.8,401.7 L218.2,402.2 L217.7,401.7 L217.1,401.7 L216.6,401.7 L216.0,401.7Z" fill="#353535"/>
<text x="221.70" y="419.90" font-size="4.2" text-anchor="middle" fill="#444" >1</text>
<text x="232.71" y="416.80" font-size="4.2" text-anchor="middle" fill="#444" >2</text>
<text x="242.68" y="419.90" font-size="4.2" text-anchor="middle" fill="#444" >3</text>
<text x="251.91" y="416.80" font-size="4.2" text-anchor="middle" fill="#444" >4</text>
<text x="260.90" y="419.90" font-size="4.2" text-anchor="middle" fill="#444" >5</text>
<text x="269.69" y="416.80" font-size="4.2" text-anchor="middle" fill="#444" >6</text>
<text x="278.30" y="419.90" font-size="4.2" text-anchor="middle" fill="#444" >7</text>
<text x="286.31" y="416.80" font-size="4.2" text-anchor="middle" fill="#444" >8</text>
<text x="293.72" y="419.90" font-size="4.2" text-anchor="middle" fill="#444" >9</text>
<text x="301.16" y="416.80" font-size="4.2" text-anchor="middle" fill="#444" >10</text>
<text x="308.53" y="419.90" font-size="4.2" text-anchor="middle" fill="#444" >11</text>
<text x="315.59" y="416.80" font-size="4.2" text-anchor="middle" fill="#444" >12</text>
<text x="322.60" y="419.90" font-size="4.2" text-anchor="middle" fill="#444" >13</text>
<text x="329.76" y="416.80" font-size="4.2" text-anchor="middle" fill="#444" >14</text>
<text x="336.43" y="419.90" font-size="4.2" text-anchor="middle" fill="#444" >15</text>
<text x="342.33" y="416.80" font-size="4.2" text-anchor="middle" fill="#444" >16</text>
<text x="347.96" y="419.90" font-size="4.2" text-anchor="middle" fill="#444" >17</text>
<text x="353.37" y="416.80" font-size="4.2" text-anchor="middle" fill="#444" >18</text>
<text x="357.81" y="419.90" font-size="4.2" text-anchor="middle" fill="#444" >19</text>
<line x1="201.2" y1="325.6" x2="206.8" y2="325.6" stroke="#7f0d12" stroke-width="1.6"/>
<polygon points="210.8,325.6 205.60000000000002,323.20000000000005 205.60000000000002,328.0" fill="#7f0d12"/>
<line x1="365.8" y1="323.7" x2="365.8" y2="345.7" stroke="#83161c" stroke-width="1.6"/>
<polygon points="365.8,349.7 363.6,344.8 368.0,344.8" fill="#83161c"/>
<circle cx="365.8" cy="354.9" r="1.3" fill="#8b1a1a"/>
<circle cx="365.8" cy="362.2" r="1.3" fill="#8b1a1a"/>
<circle cx="365.8" cy="369.5" r="1.3" fill="#8b1a1a"/>
<circle cx="365.8" cy="376.8" r="1.3" fill="#8b1a1a"/>
<circle cx="365.8" cy="384.1" r="1.3" fill="#8b1a1a"/>
<circle cx="365.8" cy="391.4" r="1.3" fill="#8b1a1a"/>
<circle cx="365.8" cy="398.7" r="1.3" fill="#8b1a1a"/>
<text x="-0.60" y="444.80" font-size="12.0" fill="#000" textLength="4.60" lengthAdjust="spacingAndGlyphs" font-weight="bold" stroke="#000" stroke-width="0.45">f</text>
<text x="299.00" y="443.90" font-size="6.4" fill="#1c1c1c" textLength="30.70" lengthAdjust="spacingAndGlyphs" >EPN ZFTA</text>
<text x="138.30" y="453.90" font-size="6.4" fill="#1c1c1c" textLength="25.20" lengthAdjust="spacingAndGlyphs" >Tumor 1</text>
<text x="301.90" y="453.90" font-size="6.4" fill="#1c1c1c" textLength="25.70" lengthAdjust="spacingAndGlyphs" >Tumor 2</text>
<text x="454.00" y="454.10" font-size="6.4" fill="#1c1c1c" textLength="26.00" lengthAdjust="spacingAndGlyphs" >Tumor 3</text>
<rect x="57.5" y="459.5" width="506" height="196" fill="none" stroke="#dedede" stroke-width="1"/>
<text x="53.30" y="469.90" font-size="5.5" text-anchor="end" fill="#1c1c1c" textLength="19.60" lengthAdjust="spacingAndGlyphs" >Primary</text>
<text x="53.30" y="491.00" font-size="5.5" text-anchor="end" fill="#1c1c1c" textLength="16.40" lengthAdjust="spacingAndGlyphs" >In vivo</text>
<text x="53.30" y="497.90" font-size="5.5" text-anchor="end" fill="#1c1c1c" textLength="24.60" lengthAdjust="spacingAndGlyphs" >passage 1</text>
<text x="53.30" y="517.50" font-size="5.5" text-anchor="end" fill="#1c1c1c" textLength="16.40" lengthAdjust="spacingAndGlyphs" >In vivo</text>
<text x="53.30" y="524.60" font-size="5.5" text-anchor="end" fill="#1c1c1c" textLength="25.50" lengthAdjust="spacingAndGlyphs" >passage 2</text>
<text x="53.30" y="544.50" font-size="5.5" text-anchor="end" fill="#1c1c1c" textLength="16.40" lengthAdjust="spacingAndGlyphs" >In vivo</text>
<text x="53.30" y="551.60" font-size="5.5" text-anchor="end" fill="#1c1c1c" textLength="26.20" lengthAdjust="spacingAndGlyphs" >passage 3</text>
<text x="53.30" y="563.20" font-size="5.5" text-anchor="end" fill="#1c1c1c" textLength="26.70" lengthAdjust="spacingAndGlyphs" >Mouse chr.</text>
<text x="53.30" y="580.70" font-size="5.5" text-anchor="end" fill="#1c1c1c" textLength="40.20" lengthAdjust="spacingAndGlyphs" >Syntenic human</text>
<text x="53.30" y="585.60" font-size="5.5" text-anchor="end" fill="#1c1c1c" textLength="39.50" lengthAdjust="spacingAndGlyphs" >loci to recurrent</text>
<text x="53.30" y="590.50" font-size="5.5" text-anchor="end" fill="#1c1c1c" textLength="31.40" lengthAdjust="spacingAndGlyphs" >mouse CNAs</text>
<text x="53.30" y="621.80" font-size="5.5" text-anchor="end" fill="#1c1c1c" textLength="38.10" lengthAdjust="spacingAndGlyphs" >CNAs in human</text>
<text x="53.30" y="629.10" font-size="5.5" text-anchor="end" fill="#1c1c1c" textLength="42.60" lengthAdjust="spacingAndGlyphs" >EPN ZFTA (n = 16)</text>
<text x="53.30" y="649.80" font-size="5.5" text-anchor="end" fill="#1c1c1c" textLength="28.30" lengthAdjust="spacingAndGlyphs" >Human chr.</text>
<path d="M62.2,471.6 C61.8,470.5 62.6,469.8 63.6,469.5 L63.5,467.5 C63.5,466.2 64.3,465.8 65.0,465.8 C66,465.8 66.6,466.4 66.8,467 L68.5,467 C69.8,467.1 70.4,468.5 70.3,469.8 C70.2,471.2 69.6,472 68.6,472.1 L63,472.1 C62.6,472.1 62.3,471.9 62.2,471.6 Z" fill="#000"/>
<path d="M69.5,471.6 C72,471.6 74.8,471.2 74.7,469.6 C74.6,468.3 71.5,468.5 71.3,467 C71.2,465.8 72,465 72.6,464.3" fill="none" stroke="#000" stroke-width="0.75" stroke-linecap="round"/>
<path d="M77.2,494.2 L77.8,494.2 L78.3,494.2 L78.9,494.2 L79.4,494.2 L80.0,494.2 L80.5,494.2 L81.0,494.2 L81.6,494.2 L82.2,494.2 L82.7,494.2 L83.2,494.2 L83.8,494.2 L84.4,494.2 L84.9,494.2 L85.5,494.0 L86.0,494.2 L86.6,494.2 L87.1,493.8 L87.7,494.2 L88.2,494.2 L88.8,494.2 L89.3,494.2 L89.9,494.2 L90.4,494.2 L91.0,494.2 L91.5,494.2 L92.1,494.2 L92.6,494.2 L93.2,494.2 L93.7,493.8 L94.2,494.2 L94.8,494.2 L95.4,493.8 L95.9,494.2 L96.5,494.2 L97.0,494.2 L97.6,494.2 L98.1,493.0 L98.7,492.2 L99.2,493.8 L99.8,494.2 L100.3,493.5 L100.9,494.2 L101.4,494.2 L102.0,494.2 L102.5,494.2 L103.1,494.2 L103.6,494.2 L104.2,494.2 L104.7,494.2 L105.2,494.2 L105.8,494.2 L106.4,494.2 L106.9,494.2 L107.5,494.2 L108.0,494.2 L108.6,494.2 L109.1,494.2 L109.7,494.2 L110.2,494.2 L110.8,494.2 L111.3,494.2 L111.9,494.2 L112.4,494.1 L113.0,494.2 L113.5,494.2 L114.1,493.5 L114.6,494.2 L115.2,494.2 L115.7,494.2 L116.2,494.2 L116.8,494.2 L117.4,494.2 L117.9,494.2 L118.5,494.2 L119.0,494.2 L119.6,494.2 L120.1,494.2 L120.7,494.2 L121.2,494.2 L121.8,494.2 L122.3,493.1 L122.9,494.2 L123.4,494.2 L124.0,494.2 L124.5,494.2 L125.1,494.2 L125.6,494.2 L126.2,494.2 L126.7,494.2 L127.2,494.2 L127.8,494.2 L128.4,494.2 L128.9,494.2 L129.5,494.2 L130.0,494.2 L130.6,494.2 L131.1,494.2 L131.7,494.0 L132.2,493.7 L132.8,494.2 L133.3,494.2 L133.9,494.2 L134.4,494.2 L135.0,494.2 L135.5,494.2 L136.1,494.2 L136.6,494.2 L137.2,494.1 L137.7,494.2 L138.2,494.2 L138.8,494.2 L139.4,494.2 L139.9,494.2 L140.5,494.2 L141.0,494.2 L141.6,493.6 L142.1,494.2 L142.7,494.2 L143.2,494.2 L143.8,494.2 L144.3,494.2 L144.9,494.2 L145.4,494.2 L145.9,493.9 L146.5,494.2 L147.1,494.2 L147.6,494.2 L148.2,494.2 L148.7,494.2 L149.2,494.2 L149.8,494.2 L150.4,494.2 L150.9,494.2 L151.4,494.2 L152.0,494.2 L152.6,494.2 L153.1,493.7 L153.7,494.2 L154.2,492.9 L154.8,494.2 L155.3,494.2 L155.9,494.2 L156.4,494.2 L156.9,493.6 L157.5,493.8 L158.1,494.0 L158.6,493.2 L159.2,494.2 L159.7,494.2 L160.2,494.2 L160.8,494.2 L161.4,494.2 L161.9,494.2 L162.4,494.2 L163.0,494.2 L163.6,494.2 L164.1,494.2 L164.7,494.2 L165.2,494.2 L165.8,494.2 L166.3,494.2 L166.9,494.2 L167.4,494.2 L168.0,494.2 L168.5,494.2 L169.1,494.2 L169.6,494.2 L170.2,494.2 L170.7,494.2 L171.2,494.2 L171.8,494.2 L172.4,494.2 L172.9,494.2 L173.5,494.2 L174.0,494.2 L174.6,494.2 L175.1,494.2 L175.7,494.2 L176.2,494.2 L176.8,494.2 L177.3,494.2 L177.9,494.2 L178.4,494.0 L179.0,494.2 L179.5,494.2 L180.1,494.2 L180.6,492.8 L181.2,494.2 L181.7,494.2 L182.2,494.2 L182.8,494.2 L183.4,494.2 L183.9,494.2 L184.5,494.2 L185.0,494.2 L185.6,494.2 L186.1,494.2 L186.7,494.2 L187.2,494.2 L187.8,494.2 L188.3,494.2 L188.9,494.2 L189.4,494.2 L190.0,494.2 L190.5,494.2 L191.1,494.2 L191.6,494.2 L192.2,494.2 L192.7,494.2 L193.2,494.2 L193.8,494.2 L194.4,494.2 L194.9,494.2 L195.5,494.0 L196.0,494.2 L196.6,494.2 L197.1,494.2 L197.7,494.2 L198.2,494.2 L198.8,493.8 L199.3,494.2 L199.9,494.2 L200.4,494.2 L201.0,494.2 L201.5,494.2 L202.1,494.2 L202.6,494.2 L203.2,494.2 L203.7,494.2 L204.2,494.2 L204.8,494.2 L205.4,494.2 L205.9,494.2 L206.4,494.2 L207.0,494.2 L207.6,494.2 L208.1,494.2 L208.7,494.2 L209.2,493.9 L209.8,494.2 L210.3,493.4 L210.9,494.2 L211.4,494.2 L211.9,494.0 L212.5,494.2 L213.1,494.2 L213.6,494.2 L214.2,494.2 L214.7,494.2 L215.2,494.2 L215.8,494.2 L216.4,494.2 L216.9,494.2 L217.4,494.2 L218.0,494.2 L218.6,494.2 L219.1,494.2 L219.7,493.0 L220.2,493.9 L220.8,494.2 L221.3,494.2 L221.9,494.2 L222.4,494.2 L222.9,493.8 L223.5,494.2 L224.1,493.9 L224.1,495.0 L223.5,495.3 L222.9,495.0 L222.4,495.0 L221.9,495.0 L221.3,495.0 L220.8,495.0 L220.2,495.0 L219.7,495.0 L219.1,495.3 L218.6,495.0 L218.0,497.5 L217.4,495.4 L216.9,495.0 L216.4,495.4 L215.8,495.2 L215.2,495.0 L214.7,495.7 L214.2,495.7 L213.6,495.8 L213.1,495.0 L212.5,495.5 L211.9,495.0 L211.4,495.0 L210.9,495.0 L210.3,495.0 L209.8,495.0 L209.2,495.0 L208.7,495.0 L208.1,495.0 L207.6,495.8 L207.0,495.6 L206.4,495.7 L205.9,495.7 L205.4,495.5 L204.8,495.0 L204.2,495.0 L203.7,495.0 L203.2,495.0 L202.6,495.4 L202.1,495.6 L201.5,495.0 L201.0,495.4 L200.4,495.6 L199.9,495.0 L199.3,495.0 L198.8,495.0 L198.2,495.4 L197.7,495.0 L197.1,495.7 L196.6,495.2 L196.0,495.4 L195.5,495.0 L194.9,495.0 L194.4,495.5 L193.8,495.0 L193.2,495.3 L192.7,495.0 L192.2,495.0 L191.6,495.0 L191.1,495.0 L190.5,495.0 L190.0,495.0 L189.4,495.0 L188.9,496.6 L188.3,495.0 L187.8,495.0 L187.2,495.0 L186.7,495.0 L186.1,495.0 L185.6,495.6 L185.0,495.0 L184.5,495.9 L183.9,495.0 L183.4,495.7 L182.8,495.0 L182.2,495.0 L181.7,495.0 L181.2,495.0 L180.6,495.0 L180.1,495.0 L179.5,495.6 L179.0,495.0 L178.4,495.0 L177.9,495.0 L177.3,495.2 L176.8,495.7 L176.2,495.0 L175.7,495.2 L175.1,495.0 L174.6,495.0 L174.0,495.0 L173.5,495.4 L172.9,497.5 L172.4,495.4 L171.8,495.0 L171.2,495.5 L170.7,495.0 L170.2,495.0 L169.6,495.2 L169.1,495.3 L168.5,495.0 L168.0,495.0 L167.4,495.2 L166.9,495.0 L166.3,495.7 L165.8,495.0 L165.2,495.0 L164.7,495.6 L164.1,495.4 L163.6,495.0 L163.0,495.0 L162.4,495.0 L161.9,495.5 L161.4,495.0 L160.8,495.0 L160.2,495.6 L159.7,495.4 L159.2,495.0 L158.6,495.0 L158.1,495.0 L157.5,495.0 L156.9,495.0 L156.4,495.0 L155.9,495.0 L155.3,495.0 L154.8,495.0 L154.2,495.0 L153.7,495.2 L153.1,495.0 L152.6,495.0 L152.0,495.0 L151.4,495.0 L150.9,495.3 L150.4,495.8 L149.8,495.5 L149.2,495.0 L148.7,495.0 L148.2,495.0 L147.6,495.2 L147.1,495.0 L146.5,495.0 L145.9,495.0 L145.4,495.5 L144.9,495.0 L144.3,495.0 L143.8,495.2 L143.2,495.0 L142.7,495.4 L142.1,495.0 L141.6,495.0 L141.0,495.0 L140.5,495.5 L139.9,495.7 L139.4,495.0 L138.8,495.7 L138.2,495.2 L137.7,495.0 L137.2,495.0 L136.6,495.8 L136.1,495.4 L135.5,495.7 L135.0,495.0 L134.4,496.0 L133.9,495.0 L133.3,495.0 L132.8,495.0 L132.2,495.0 L131.7,495.0 L131.1,495.0 L130.6,495.0 L130.0,495.0 L129.5,495.0 L128.9,495.4 L128.4,495.0 L127.8,495.0 L127.2,495.7 L126.7,495.6 L126.2,495.3 L125.6,495.0 L125.1,495.5 L124.5,495.0 L124.0,495.0 L123.4,495.0 L122.9,495.3 L122.3,495.0 L121.8,495.0 L121.2,495.0 L120.7,495.7 L120.1,495.0 L119.6,496.1 L119.0,495.0 L118.5,495.0 L117.9,495.0 L117.4,495.0 L116.8,495.0 L116.2,495.0 L115.7,495.0 L115.2,495.0 L114.6,495.0 L114.1,495.0 L113.5,495.0 L113.0,495.0 L112.4,495.0 L111.9,495.0 L111.3,495.0 L110.8,495.0 L110.2,495.0 L109.7,495.0 L109.1,495.0 L108.6,495.2 L108.0,495.0 L107.5,495.4 L106.9,495.0 L106.4,495.6 L105.8,496.1 L105.2,495.6 L104.7,495.5 L104.2,495.5 L103.6,495.0 L103.1,495.0 L102.5,495.0 L102.0,495.0 L101.4,495.3 L100.9,495.1 L100.3,495.0 L99.8,495.0 L99.2,495.0 L98.7,495.0 L98.1,495.0 L97.6,495.5 L97.0,495.5 L96.5,495.0 L95.9,495.5 L95.4,495.0 L94.8,495.0 L94.2,495.3 L93.7,495.0 L93.2,495.0 L92.6,495.3 L92.1,495.0 L91.5,495.0 L91.0,495.0 L90.4,495.0 L89.9,495.2 L89.3,495.5 L88.8,495.2 L88.2,495.0 L87.7,495.0 L87.1,495.0 L86.6,495.3 L86.0,495.4 L85.5,495.0 L84.9,495.0 L84.4,495.2 L83.8,495.0 L83.2,495.0 L82.7,495.0 L82.2,495.7 L81.6,495.6 L81.0,495.2 L80.5,495.0 L80.0,495.0 L79.4,495.6 L78.9,495.5 L78.3,495.0 L77.8,495.0 L77.2,500.3Z" fill="#2e2e2e"/>
<rect x="85.95" y="494.60" width="0.9" height="3.00" fill="#2e2e2e"/>
<rect x="94.15" y="494.60" width="0.9" height="3.00" fill="#2e2e2e"/>
<rect x="196.05" y="494.60" width="0.9" height="4.00" fill="#2e2e2e"/>
<polygon points="109.1,494.6 109.1,503.1 109.7,504.0 110.2,504.4 110.8,503.8 111.3,503.1 111.9,503.1 112.4,502.2 113.0,503.6 113.5,502.6 114.1,503.7 114.6,501.6 115.2,502.5 115.7,503.2 116.2,503.4 116.8,502.9 117.4,504.1 117.9,502.6 118.5,501.9 119.0,502.2 119.5,502.2 119.5,494.6" fill="#e9aa24"/>
<path d="M77.2,519.4 L77.8,519.4 L78.3,519.4 L78.9,519.4 L79.4,519.4 L80.0,519.4 L80.5,519.4 L81.0,519.4 L81.6,519.4 L82.2,519.4 L82.7,519.4 L83.2,519.4 L83.8,519.4 L84.4,519.4 L84.9,519.4 L85.5,519.4 L86.0,519.4 L86.6,519.4 L87.1,519.4 L87.7,519.4 L88.2,519.4 L88.8,519.4 L89.3,519.4 L89.9,519.4 L90.4,519.4 L91.0,519.4 L91.5,519.4 L92.1,519.4 L92.6,519.4 L93.2,519.4 L93.7,519.4 L94.2,519.4 L94.8,519.4 L95.4,519.4 L95.9,519.4 L96.5,519.4 L97.0,519.4 L97.6,519.4 L98.1,519.4 L98.7,519.4 L99.2,519.4 L99.8,519.4 L100.3,519.0 L100.9,519.4 L101.4,519.4 L102.0,519.4 L102.5,519.4 L103.1,519.4 L103.6,519.4 L104.2,519.4 L104.7,519.4 L105.2,519.4 L105.8,519.4 L106.4,519.4 L106.9,519.4 L107.5,519.4 L108.0,519.4 L108.6,519.4 L109.1,519.4 L109.7,519.4 L110.2,519.4 L110.8,519.4 L111.3,519.4 L111.9,519.3 L112.4,519.4 L113.0,519.4 L113.5,519.4 L114.1,519.4 L114.6,519.4 L115.2,519.4 L115.7,519.4 L116.2,518.1 L116.8,519.4 L117.4,519.3 L117.9,519.4 L118.5,519.4 L119.0,519.4 L119.6,518.9 L120.1,519.4 L120.7,518.7 L121.2,519.4 L121.8,519.4 L122.3,519.4 L122.9,519.3 L123.4,519.4 L124.0,519.4 L124.5,519.4 L125.1,519.4 L125.6,518.9 L126.2,518.5 L126.7,519.4 L127.2,518.6 L127.8,519.4 L128.4,519.4 L128.9,519.4 L129.5,519.4 L130.0,519.4 L130.6,519.4 L131.1,519.2 L131.7,519.4 L132.2,519.4 L132.8,519.4 L133.3,519.4 L133.9,519.4 L134.4,518.6 L135.0,519.4 L135.5,518.6 L136.1,519.4 L136.6,519.4 L137.2,518.7 L137.7,519.4 L138.2,519.4 L138.8,519.4 L139.4,519.4 L139.9,519.4 L140.5,519.4 L141.0,519.4 L141.6,519.4 L142.1,519.4 L142.7,519.4 L143.2,519.4 L143.8,519.4 L144.3,519.4 L144.9,518.5 L145.4,519.4 L145.9,519.4 L146.5,518.8 L147.1,519.4 L147.6,519.4 L148.2,519.4 L148.7,518.9 L149.2,519.2 L149.8,519.4 L150.4,519.4 L150.9,519.4 L151.4,519.4 L152.0,519.4 L152.6,519.4 L153.1,519.4 L153.7,519.4 L154.2,519.4 L154.8,519.4 L155.3,519.4 L155.9,519.4 L156.4,518.8 L156.9,519.4 L157.5,519.4 L158.1,519.4 L158.6,519.4 L159.2,519.4 L159.7,518.8 L160.2,519.4 L160.8,519.4 L161.4,519.4 L161.9,519.4 L162.4,519.4 L163.0,519.4 L163.6,519.4 L164.1,519.4 L164.7,519.4 L165.2,519.4 L165.8,519.4 L166.3,519.4 L166.9,519.4 L167.4,519.4 L168.0,519.4 L168.5,519.4 L169.1,519.4 L169.6,519.4 L170.2,519.4 L170.7,518.9 L171.2,519.4 L171.8,519.4 L172.4,519.4 L172.9,519.4 L173.5,519.4 L174.0,519.4 L174.6,519.4 L175.1,519.4 L175.7,519.4 L176.2,519.4 L176.8,519.4 L177.3,519.4 L177.9,519.4 L178.4,519.4 L179.0,519.4 L179.5,519.4 L180.1,519.4 L180.6,519.4 L181.2,518.3 L181.7,519.4 L182.2,519.4 L182.8,519.4 L183.4,519.4 L183.9,519.4 L184.5,519.4 L185.0,519.1 L185.6,519.3 L186.1,519.4 L186.7,518.6 L187.2,519.4 L187.8,519.4 L188.3,519.4 L188.9,519.4 L189.4,519.4 L190.0,519.4 L190.5,519.4 L191.1,519.4 L191.6,519.3 L192.2,519.4 L192.7,519.4 L193.2,519.4 L193.8,519.4 L194.4,518.8 L194.9,519.4 L195.5,519.4 L196.0,519.4 L196.6,519.4 L197.1,519.4 L197.7,519.4 L198.2,518.4 L198.8,519.4 L199.3,519.4 L199.9,519.4 L200.4,519.4 L201.0,519.4 L201.5,519.4 L202.1,519.4 L202.6,518.9 L203.2,519.4 L203.7,519.4 L204.2,519.4 L204.8,519.4 L205.4,519.4 L205.9,519.4 L206.4,519.4 L207.0,519.4 L207.6,519.4 L208.1,519.4 L208.7,519.3 L209.2,517.3 L209.8,519.4 L210.3,519.3 L210.9,519.4 L211.4,519.4 L211.9,519.4 L212.5,519.4 L213.1,518.6 L213.6,519.4 L214.2,519.4 L214.7,519.4 L215.2,519.3 L215.8,519.4 L216.4,518.5 L216.9,519.4 L217.4,519.4 L218.0,519.4 L218.6,519.4 L219.1,517.4 L219.7,519.4 L220.2,519.4 L220.8,519.4 L221.3,519.4 L221.9,519.4 L222.4,519.4 L222.9,519.4 L223.5,519.4 L224.1,519.4 L224.1,520.2 L223.5,520.9 L222.9,520.2 L222.4,520.2 L221.9,520.7 L221.3,520.5 L220.8,521.0 L220.2,520.2 L219.7,520.6 L219.1,520.2 L218.6,520.2 L218.0,520.4 L217.4,521.0 L216.9,520.8 L216.4,520.2 L215.8,520.2 L215.2,520.2 L214.7,520.2 L214.2,520.2 L213.6,520.8 L213.1,520.2 L212.5,520.2 L211.9,520.2 L211.4,520.7 L210.9,520.6 L210.3,520.2 L209.8,520.2 L209.2,520.2 L208.7,520.2 L208.1,520.2 L207.6,521.1 L207.0,520.7 L206.4,520.2 L205.9,523.2 L205.4,520.5 L204.8,520.2 L204.2,520.2 L203.7,520.2 L203.2,521.0 L202.6,520.2 L202.1,520.2 L201.5,520.2 L201.0,520.2 L200.4,520.2 L199.9,520.6 L199.3,521.0 L198.8,520.2 L198.2,520.2 L197.7,520.9 L197.1,520.6 L196.6,520.2 L196.0,521.0 L195.5,520.2 L194.9,520.2 L194.4,520.2 L193.8,521.0 L193.2,522.0 L192.7,520.7 L192.2,520.2 L191.6,520.2 L191.1,520.2 L190.5,520.9 L190.0,520.4 L189.4,521.0 L188.9,520.2 L188.3,520.4 L187.8,520.4 L187.2,520.7 L186.7,520.2 L186.1,520.2 L185.6,520.2 L185.0,520.2 L184.5,520.7 L183.9,520.9 L183.4,520.2 L182.8,520.6 L182.2,520.2 L181.7,520.6 L181.2,520.2 L180.6,520.2 L180.1,520.2 L179.5,520.2 L179.0,521.0 L178.4,520.2 L177.9,520.2 L177.3,520.2 L176.8,521.0 L176.2,521.8 L175.7,520.2 L175.1,520.9 L174.6,520.2 L174.0,520.5 L173.5,520.2 L172.9,521.0 L172.4,521.0 L171.8,520.7 L171.2,520.8 L170.7,520.2 L170.2,520.2 L169.6,520.2 L169.1,520.2 L168.5,520.5 L168.0,521.0 L167.4,520.2 L166.9,520.2 L166.3,520.2 L165.8,520.8 L165.2,523.4 L164.7,520.2 L164.1,520.9 L163.6,520.2 L163.0,520.6 L162.4,520.2 L161.9,520.5 L161.4,520.2 L160.8,520.2 L160.2,520.2 L159.7,520.2 L159.2,520.9 L158.6,520.2 L158.1,520.7 L157.5,520.2 L156.9,520.5 L156.4,520.2 L155.9,520.4 L155.3,520.9 L154.8,520.4 L154.2,520.9 L153.7,520.2 L153.1,520.4 L152.6,520.2 L152.0,520.2 L151.4,521.0 L150.9,520.2 L150.4,520.8 L149.8,521.7 L149.2,520.2 L148.7,520.2 L148.2,521.0 L147.6,520.8 L147.1,520.2 L146.5,520.2 L145.9,520.2 L145.4,520.2 L144.9,520.2 L144.3,520.2 L143.8,520.2 L143.2,520.2 L142.7,520.2 L142.1,520.2 L141.6,520.9 L141.0,520.2 L140.5,520.2 L139.9,520.2 L139.4,520.2 L138.8,521.0 L138.2,520.5 L137.7,520.4 L137.2,520.2 L136.6,521.0 L136.1,520.6 L135.5,520.2 L135.0,520.2 L134.4,520.2 L133.9,520.2 L133.3,520.2 L132.8,520.8 L132.2,520.8 L131.7,520.2 L131.1,520.2 L130.6,520.2 L130.0,520.2 L129.5,520.2 L128.9,520.8 L128.4,520.4 L127.8,520.2 L127.2,520.2 L126.7,520.2 L126.2,520.2 L125.6,520.2 L125.1,520.2 L124.5,520.2 L124.0,520.2 L123.4,520.7 L122.9,520.2 L122.3,520.2 L121.8,520.9 L121.2,520.2 L120.7,520.2 L120.1,520.2 L119.6,520.2 L119.0,520.2 L118.5,520.2 L117.9,520.2 L117.4,520.2 L116.8,520.2 L116.2,520.2 L115.7,520.2 L115.2,520.2 L114.6,520.2 L114.1,520.2 L113.5,520.2 L113.0,520.2 L112.4,520.2 L111.9,520.2 L111.3,520.2 L110.8,520.2 L110.2,520.2 L109.7,520.2 L109.1,520.2 L108.6,520.2 L108.0,520.4 L107.5,520.2 L106.9,520.4 L106.4,520.2 L105.8,520.4 L105.2,520.2 L104.7,520.2 L104.2,520.7 L103.6,520.9 L103.1,520.7 L102.5,520.2 L102.0,520.2 L101.4,520.2 L100.9,520.9 L100.3,520.2 L99.8,520.2 L99.2,520.2 L98.7,520.2 L98.1,520.9 L97.6,520.2 L97.0,520.2 L96.5,520.2 L95.9,520.7 L95.4,522.2 L94.8,520.9 L94.2,520.2 L93.7,521.0 L93.2,520.5 L92.6,520.6 L92.1,520.2 L91.5,520.9 L91.0,520.2 L90.4,520.2 L89.9,520.8 L89.3,520.4 L88.8,520.2 L88.2,520.6 L87.7,521.0 L87.1,520.2 L86.6,520.2 L86.0,520.2 L85.5,520.7 L84.9,520.2 L84.4,520.2 L83.8,520.6 L83.2,521.2 L82.7,520.2 L82.2,520.9 L81.6,520.2 L81.0,520.6 L80.5,520.2 L80.0,520.2 L79.4,520.2 L78.9,520.2 L78.3,520.2 L77.8,520.7 L77.2,520.7Z" fill="#2e2e2e"/>
<rect x="196.05" y="519.80" width="0.9" height="3.00" fill="#2e2e2e"/>
<polygon points="77.2,519.8 77.2,514.9 77.8,514.1 78.3,514.4 78.9,515.2 79.4,514.4 80.0,514.0 80.5,514.2 81.0,515.1 81.6,514.2 82.2,514.4 82.7,514.2 83.2,514.2 83.8,515.1 84.4,514.4 84.9,514.8 85.5,514.7 86.0,514.8 86.6,514.1 87.1,514.2 87.7,514.6 88.2,514.3 88.8,515.2 89.3,513.9 89.9,514.9 90.4,514.9 90.4,519.8" fill="#ec4e22"/>
<polygon points="82.7,519.8 82.7,511.9 83.2,511.8 83.8,511.9 84.4,511.8 84.9,511.8 84.9,519.8" fill="#ec4e22"/>
<polygon points="109.1,519.8 109.1,530.3 109.7,529.2 110.2,530.3 110.8,529.1 111.3,529.7 111.9,530.5 112.4,529.2 113.0,530.4 113.5,529.4 114.1,529.1 114.6,530.4 115.2,530.5 115.7,530.3 116.2,529.8 116.8,529.2 117.4,530.3 117.9,529.3 118.5,529.8 119.0,529.9 119.5,529.9 119.5,519.8" fill="#e9aa24"/>
<path d="M77.2,545.0 L77.8,544.5 L78.3,544.6 L78.9,545.0 L79.4,545.0 L80.0,545.0 L80.5,544.7 L81.0,545.0 L81.6,545.0 L82.2,545.0 L82.7,545.0 L83.2,544.0 L83.8,545.0 L84.4,545.0 L84.9,545.0 L85.5,545.0 L86.0,545.0 L86.6,545.0 L87.1,545.0 L87.7,545.0 L88.2,544.3 L88.8,545.0 L89.3,544.0 L89.9,545.0 L90.4,545.0 L91.0,544.9 L91.5,545.0 L92.1,545.0 L92.6,544.8 L93.2,545.0 L93.7,544.2 L94.2,545.0 L94.8,544.5 L95.4,545.0 L95.9,545.0 L96.5,545.0 L97.0,544.3 L97.6,545.0 L98.1,545.0 L98.7,545.0 L99.2,545.0 L99.8,545.0 L100.3,545.0 L100.9,545.0 L101.4,545.0 L102.0,545.0 L102.5,545.0 L103.1,545.0 L103.6,545.0 L104.2,545.0 L104.7,545.0 L105.2,545.0 L105.8,544.1 L106.4,545.0 L106.9,544.4 L107.5,545.0 L108.0,544.7 L108.6,545.0 L109.1,545.0 L109.7,544.1 L110.2,545.0 L110.8,545.0 L111.3,544.7 L111.9,545.0 L112.4,545.0 L113.0,545.0 L113.5,545.0 L114.1,545.0 L114.6,545.0 L115.2,545.0 L115.7,545.0 L116.2,545.0 L116.8,544.8 L117.4,545.0 L117.9,545.0 L118.5,545.0 L119.0,545.0 L119.6,545.0 L120.1,545.0 L120.7,545.0 L121.2,545.0 L121.8,545.0 L122.3,545.0 L122.9,545.0 L123.4,545.0 L124.0,545.0 L124.5,545.0 L125.1,544.9 L125.6,545.0 L126.2,544.7 L126.7,545.0 L127.2,544.3 L127.8,545.0 L128.4,545.0 L128.9,545.0 L129.5,545.0 L130.0,545.0 L130.6,541.1 L131.1,545.0 L131.7,545.0 L132.2,545.0 L132.8,545.0 L133.3,545.0 L133.9,545.0 L134.4,545.0 L135.0,545.0 L135.5,545.0 L136.1,545.0 L136.6,545.0 L137.2,545.0 L137.7,545.0 L138.2,544.2 L138.8,545.0 L139.4,545.0 L139.9,545.0 L140.5,545.0 L141.0,545.0 L141.6,545.0 L142.1,545.0 L142.7,545.0 L143.2,545.0 L143.8,545.0 L144.3,543.8 L144.9,545.0 L145.4,545.0 L145.9,545.0 L146.5,545.0 L147.1,545.0 L147.6,545.0 L148.2,545.0 L148.7,544.8 L149.2,545.0 L149.8,545.0 L150.4,545.0 L150.9,545.0 L151.4,545.0 L152.0,545.0 L152.6,545.0 L153.1,545.0 L153.7,543.7 L154.2,545.0 L154.8,545.0 L155.3,544.2 L155.9,545.0 L156.4,545.0 L156.9,545.0 L157.5,545.0 L158.1,545.0 L158.6,545.0 L159.2,545.0 L159.7,545.0 L160.2,545.0 L160.8,545.0 L161.4,545.0 L161.9,544.6 L162.4,545.0 L163.0,545.0 L163.6,545.0 L164.1,545.0 L164.7,545.0 L165.2,545.0 L165.8,545.0 L166.3,544.5 L166.9,545.0 L167.4,545.0 L168.0,545.0 L168.5,545.0 L169.1,544.7 L169.6,545.0 L170.2,545.0 L170.7,545.0 L171.2,545.0 L171.8,545.0 L172.4,545.0 L172.9,545.0 L173.5,544.1 L174.0,545.0 L174.6,545.0 L175.1,544.6 L175.7,545.0 L176.2,545.0 L176.8,545.0 L177.3,545.0 L177.9,545.0 L178.4,545.0 L179.0,545.0 L179.5,545.0 L180.1,545.0 L180.6,545.0 L181.2,545.0 L181.7,545.0 L182.2,545.0 L182.8,543.9 L183.4,545.0 L183.9,545.0 L184.5,545.0 L185.0,545.0 L185.6,545.0 L186.1,545.0 L186.7,545.0 L187.2,545.0 L187.8,544.6 L188.3,545.0 L188.9,545.0 L189.4,545.0 L190.0,545.0 L190.5,543.6 L191.1,545.0 L191.6,545.0 L192.2,545.0 L192.7,545.0 L193.2,545.0 L193.8,544.6 L194.4,545.0 L194.9,545.0 L195.5,545.0 L196.0,545.0 L196.6,545.0 L197.1,544.6 L197.7,545.0 L198.2,545.0 L198.8,545.0 L199.3,544.8 L199.9,545.0 L200.4,545.0 L201.0,544.8 L201.5,545.0 L202.1,545.0 L202.6,545.0 L203.2,545.0 L203.7,545.0 L204.2,545.0 L204.8,544.7 L205.4,545.0 L205.9,544.8 L206.4,543.8 L207.0,545.0 L207.6,545.0 L208.1,545.0 L208.7,545.0 L209.2,545.0 L209.8,545.0 L210.3,545.0 L210.9,545.0 L211.4,545.0 L211.9,544.9 L212.5,545.0 L213.1,545.0 L213.6,545.0 L214.2,545.0 L214.7,545.0 L215.2,545.0 L215.8,545.0 L216.4,545.0 L216.9,545.0 L217.4,545.0 L218.0,545.0 L218.6,545.0 L219.1,545.0 L219.7,545.0 L220.2,545.0 L220.8,545.0 L221.3,545.0 L221.9,545.0 L222.4,545.0 L222.9,545.0 L223.5,545.0 L224.1,544.9 L224.1,545.8 L223.5,546.2 L222.9,546.0 L222.4,546.2 L221.9,545.8 L221.3,548.1 L220.8,548.6 L220.2,548.5 L219.7,547.5 L219.1,547.6 L218.6,547.3 L218.0,548.5 L217.4,547.6 L216.9,548.0 L216.4,548.6 L215.8,548.5 L215.2,548.5 L214.7,548.3 L214.2,547.6 L213.6,548.6 L213.1,546.2 L212.5,545.8 L211.9,545.8 L211.4,545.8 L210.9,545.8 L210.3,546.1 L209.8,546.2 L209.2,546.2 L208.7,546.1 L208.1,547.1 L207.6,546.6 L207.0,545.8 L206.4,545.8 L205.9,545.8 L205.4,545.8 L204.8,545.8 L204.2,547.2 L203.7,546.3 L203.2,545.8 L202.6,546.4 L202.1,545.8 L201.5,546.0 L201.0,545.8 L200.4,545.8 L199.9,546.5 L199.3,545.8 L198.8,545.8 L198.2,546.0 L197.7,545.8 L197.1,545.8 L196.6,545.8 L196.0,546.1 L195.5,546.6 L194.9,546.1 L194.4,546.4 L193.8,545.8 L193.2,546.5 L192.7,545.8 L192.2,545.8 L191.6,545.8 L191.1,545.8 L190.5,545.8 L190.0,546.4 L189.4,545.8 L188.9,546.3 L188.3,545.8 L187.8,545.8 L187.2,545.9 L186.7,547.0 L186.1,545.8 L185.6,546.6 L185.0,545.8 L184.5,545.8 L183.9,545.8 L183.4,548.4 L182.8,545.8 L182.2,545.8 L181.7,545.8 L181.2,546.0 L180.6,546.2 L180.1,545.8 L179.5,545.8 L179.0,546.4 L178.4,545.8 L177.9,545.8 L177.3,545.8 L176.8,545.8 L176.2,545.8 L175.7,545.8 L175.1,545.8 L174.6,545.8 L174.0,546.3 L173.5,545.8 L172.9,546.3 L172.4,545.8 L171.8,545.8 L171.2,546.3 L170.7,545.8 L170.2,546.5 L169.6,545.8 L169.1,545.8 L168.5,546.4 L168.0,545.8 L167.4,546.4 L166.9,547.1 L166.3,545.8 L165.8,546.4 L165.2,545.8 L164.7,546.0 L164.1,547.4 L163.6,545.8 L163.0,545.8 L162.4,546.0 L161.9,545.8 L161.4,545.8 L160.8,545.8 L160.2,545.8 L159.7,546.3 L159.2,547.8 L158.6,545.8 L158.1,545.8 L157.5,545.8 L156.9,545.8 L156.4,546.2 L155.9,545.8 L155.3,545.8 L154.8,545.8 L154.2,546.2 L153.7,545.8 L153.1,546.5 L152.6,546.1 L152.0,545.8 L151.4,546.2 L150.9,545.8 L150.4,545.8 L149.8,545.8 L149.2,545.8 L148.7,545.8 L148.2,545.8 L147.6,545.8 L147.1,546.4 L146.5,545.8 L145.9,545.8 L145.4,545.8 L144.9,546.4 L144.3,545.8 L143.8,545.8 L143.2,546.0 L142.7,546.2 L142.1,545.8 L141.6,546.1 L141.0,546.1 L140.5,545.8 L139.9,545.8 L139.4,547.2 L138.8,545.8 L138.2,545.8 L137.7,545.8 L137.2,546.5 L136.6,545.8 L136.1,545.8 L135.5,545.8 L135.0,545.8 L134.4,545.8 L133.9,546.0 L133.3,545.8 L132.8,545.8 L132.2,546.1 L131.7,545.8 L131.1,545.8 L130.6,545.8 L130.0,545.8 L129.5,545.8 L128.9,546.2 L128.4,546.6 L127.8,546.2 L127.2,545.8 L126.7,545.8 L126.2,545.8 L125.6,545.8 L125.1,545.8 L124.5,546.1 L124.0,549.8 L123.4,545.8 L122.9,545.8 L122.3,546.2 L121.8,546.5 L121.2,545.8 L120.7,547.0 L120.1,545.8 L119.6,546.1 L119.0,545.8 L118.5,545.8 L117.9,545.8 L117.4,545.8 L116.8,545.8 L116.2,545.8 L115.7,545.8 L115.2,545.8 L114.6,545.8 L114.1,545.8 L113.5,545.8 L113.0,545.8 L112.4,545.8 L111.9,545.8 L111.3,545.8 L110.8,545.8 L110.2,545.8 L109.7,545.8 L109.1,545.8 L108.6,546.1 L108.0,545.8 L107.5,546.3 L106.9,545.8 L106.4,545.8 L105.8,545.8 L105.2,547.2 L104.7,545.8 L104.2,546.3 L103.6,546.5 L103.1,546.1 L102.5,546.2 L102.0,546.2 L101.4,545.8 L100.9,545.8 L100.3,546.1 L99.8,546.6 L99.2,545.8 L98.7,545.8 L98.1,545.8 L97.6,545.8 L97.0,545.8 L96.5,546.4 L95.9,545.8 L95.4,546.2 L94.8,545.8 L94.2,546.6 L93.7,545.8 L93.2,546.1 L92.6,545.8 L92.1,545.8 L91.5,545.8 L91.0,545.8 L90.4,546.2 L89.9,546.0 L89.3,545.8 L88.8,546.5 L88.2,545.8 L87.7,545.8 L87.1,546.0 L86.6,550.6 L86.0,546.0 L85.5,547.8 L84.9,546.1 L84.4,545.8 L83.8,545.8 L83.2,545.8 L82.7,546.5 L82.2,545.8 L81.6,545.8 L81.0,545.8 L80.5,545.8 L80.0,546.2 L79.4,545.8 L78.9,546.0 L78.3,545.8 L77.8,545.8 L77.2,546.3Z" fill="#2e2e2e"/>
<rect x="196.05" y="545.40" width="0.9" height="3.00" fill="#2e2e2e"/>
<polygon points="77.2,545.4 77.2,540.6 77.8,540.9 78.3,540.2 78.9,540.0 79.4,540.9 80.0,540.2 80.5,540.7 81.0,541.1 81.6,541.0 82.2,541.3 82.7,540.4 83.2,540.6 83.8,540.5 84.4,540.4 84.9,541.0 85.5,541.1 86.0,540.4 86.6,540.3 87.1,540.6 87.7,540.6 88.2,540.8 88.8,541.1 89.3,540.7 89.9,540.2 90.4,540.2 90.4,545.4" fill="#ec4e22"/>
<polygon points="82.7,545.4 82.7,537.7 83.2,537.6 83.8,537.5 84.4,537.8 84.9,537.8 84.9,545.4" fill="#ec4e22"/>
<polygon points="109.1,545.4 109.1,554.5 109.7,554.6 110.2,554.8 110.8,555.2 111.3,555.1 111.9,554.6 112.4,555.4 113.0,555.1 113.5,554.2 114.1,554.6 114.6,555.4 115.2,555.6 115.7,554.9 116.2,555.5 116.8,554.2 117.4,554.4 117.9,555.3 118.5,555.0 119.0,555.1 119.5,555.1 119.5,545.4" fill="#e9aa24"/>
<text x="83.05" y="565.20" font-size="4.2" text-anchor="middle" fill="#444" >1</text>
<text x="94.35" y="562.50" font-size="4.2" text-anchor="middle" fill="#444" >2</text>
<text x="104.59" y="565.20" font-size="4.2" text-anchor="middle" fill="#444" >3</text>
<text x="114.06" y="562.50" font-size="4.2" text-anchor="middle" fill="#444" >4</text>
<text x="123.29" y="565.20" font-size="4.2" text-anchor="middle" fill="#444" >5</text>
<text x="132.31" y="562.50" font-size="4.2" text-anchor="middle" fill="#444" >6</text>
<text x="141.15" y="565.20" font-size="4.2" text-anchor="middle" fill="#444" >7</text>
<text x="149.37" y="562.50" font-size="4.2" text-anchor="middle" fill="#444" >8</text>
<text x="156.97" y="565.20" font-size="4.2" text-anchor="middle" fill="#444" >9</text>
<text x="164.61" y="562.50" font-size="4.2" text-anchor="middle" fill="#444" >10</text>
<text x="172.18" y="565.20" font-size="4.2" text-anchor="middle" fill="#444" >11</text>
<text x="179.43" y="562.50" font-size="4.2" text-anchor="middle" fill="#444" >12</text>
<text x="186.62" y="565.20" font-size="4.2" text-anchor="middle" fill="#444" >13</text>
<text x="193.97" y="562.50" font-size="4.2" text-anchor="middle" fill="#444" >14</text>
<text x="200.82" y="565.20" font-size="4.2" text-anchor="middle" fill="#444" >15</text>
<text x="206.87" y="562.50" font-size="4.2" text-anchor="middle" fill="#444" >16</text>
<text x="212.65" y="565.20" font-size="4.2" text-anchor="middle" fill="#444" >17</text>
<text x="218.21" y="562.50" font-size="4.2" text-anchor="middle" fill="#444" >18</text>
<text x="222.76" y="565.20" font-size="4.2" text-anchor="middle" fill="#444" >19</text>
<path d="M237.3,468.6 L237.9,468.5 L238.4,468.6 L239.0,468.6 L239.5,468.6 L240.1,468.6 L240.6,468.4 L241.2,468.6 L241.7,468.5 L242.2,468.6 L242.8,466.8 L243.4,468.4 L243.9,468.6 L244.5,468.6 L245.0,468.6 L245.6,468.6 L246.1,468.6 L246.7,468.6 L247.2,468.6 L247.8,468.6 L248.3,468.6 L248.9,468.6 L249.4,468.6 L250.0,468.6 L250.5,468.2 L251.1,468.6 L251.6,468.6 L252.2,468.6 L252.7,468.6 L253.2,468.6 L253.8,468.6 L254.4,468.6 L254.9,468.6 L255.5,468.6 L256.0,468.6 L256.6,468.6 L257.1,468.6 L257.7,468.6 L258.2,468.6 L258.8,468.6 L259.3,468.6 L259.9,468.6 L260.4,468.6 L260.9,468.6 L261.5,468.6 L262.1,468.6 L262.6,468.6 L263.2,468.6 L263.7,468.6 L264.2,468.6 L264.8,468.6 L265.4,468.6 L265.9,468.6 L266.4,467.8 L267.0,468.6 L267.6,468.6 L268.1,468.6 L268.7,468.6 L269.2,468.6 L269.8,468.6 L270.3,468.6 L270.9,468.6 L271.4,468.6 L272.0,468.6 L272.5,468.6 L273.1,468.6 L273.6,468.6 L274.2,468.6 L274.7,468.6 L275.2,468.6 L275.8,468.6 L276.4,468.6 L276.9,468.6 L277.5,468.6 L278.0,468.6 L278.6,468.6 L279.1,468.6 L279.7,468.6 L280.2,467.5 L280.8,467.8 L281.3,466.9 L281.9,468.6 L282.4,468.6 L283.0,468.6 L283.5,468.6 L284.1,468.6 L284.6,468.3 L285.2,468.6 L285.7,468.6 L286.2,468.6 L286.8,468.6 L287.4,468.6 L287.9,468.6 L288.5,468.6 L289.0,468.0 L289.6,468.6 L290.1,468.6 L290.7,468.6 L291.2,468.6 L291.8,468.6 L292.3,468.6 L292.9,468.6 L293.4,468.6 L294.0,468.6 L294.5,468.6 L295.1,468.6 L295.6,468.6 L296.2,468.6 L296.7,468.6 L297.2,468.6 L297.8,468.6 L298.4,467.7 L298.9,468.6 L299.5,468.6 L300.0,467.5 L300.6,468.6 L301.1,468.6 L301.7,468.6 L302.2,468.6 L302.8,468.6 L303.3,468.6 L303.9,468.6 L304.4,468.6 L305.0,468.6 L305.5,467.9 L306.1,468.6 L306.6,468.6 L307.2,468.6 L307.7,466.8 L308.2,468.6 L308.8,468.6 L309.4,468.6 L309.9,468.6 L310.5,468.6 L311.0,468.6 L311.6,468.6 L312.1,467.7 L312.7,468.6 L313.2,468.6 L313.8,468.6 L314.3,468.6 L314.9,468.6 L315.4,468.1 L316.0,468.6 L316.5,468.6 L317.1,468.4 L317.6,468.6 L318.2,468.6 L318.7,468.6 L319.2,468.6 L319.8,468.6 L320.4,468.6 L320.9,468.6 L321.5,468.6 L322.0,468.6 L322.6,468.6 L323.1,468.6 L323.7,468.6 L324.2,468.6 L324.8,468.6 L325.3,467.8 L325.9,468.5 L326.4,468.6 L327.0,468.6 L327.5,468.6 L328.1,468.6 L328.6,468.6 L329.2,468.6 L329.7,468.6 L330.2,468.5 L330.8,468.6 L331.4,468.6 L331.9,466.6 L332.5,468.6 L333.0,468.6 L333.6,466.9 L334.1,468.6 L334.7,468.6 L335.2,468.6 L335.8,468.6 L336.3,468.6 L336.9,468.6 L337.4,468.6 L338.0,468.6 L338.5,468.6 L339.1,466.9 L339.6,468.6 L340.2,468.6 L340.7,468.6 L341.2,468.6 L341.8,468.5 L342.4,468.6 L342.9,468.6 L343.5,468.6 L344.0,468.6 L344.6,468.6 L345.1,468.6 L345.7,466.0 L346.2,468.6 L346.8,468.6 L347.3,468.6 L347.9,468.6 L348.4,468.6 L349.0,468.6 L349.5,468.6 L350.1,467.9 L350.6,468.6 L351.2,468.6 L351.7,467.5 L352.2,468.6 L352.8,468.2 L353.4,468.6 L353.9,468.5 L354.5,468.4 L355.0,468.6 L355.6,468.6 L356.1,468.6 L356.7,468.6 L357.2,468.6 L357.8,468.6 L358.3,468.6 L358.9,468.6 L359.4,468.6 L360.0,468.6 L360.5,467.5 L361.1,468.5 L361.6,468.6 L362.2,467.8 L362.7,468.6 L363.2,468.6 L363.8,468.6 L364.4,468.6 L364.9,467.0 L365.5,468.6 L366.0,468.6 L366.6,468.6 L367.1,468.6 L367.7,468.6 L368.2,468.6 L368.8,468.6 L369.3,467.9 L369.9,468.6 L370.4,468.6 L371.0,468.6 L371.5,468.3 L372.1,468.6 L372.6,468.6 L373.2,468.6 L373.7,468.6 L374.2,468.6 L374.8,468.6 L375.4,468.6 L375.9,468.5 L376.5,468.6 L377.0,468.6 L377.6,468.6 L378.1,468.3 L378.7,468.2 L379.2,468.6 L379.8,468.6 L380.3,468.6 L380.9,468.6 L381.4,468.3 L382.0,468.6 L382.5,468.6 L383.1,468.6 L383.6,468.6 L384.2,468.6 L384.2,469.4 L383.6,469.4 L383.1,469.4 L382.5,470.2 L382.0,469.9 L381.4,469.4 L380.9,471.1 L380.3,469.4 L379.8,470.1 L379.2,469.8 L378.7,469.4 L378.1,469.4 L377.6,470.0 L377.0,469.4 L376.5,469.7 L375.9,469.4 L375.4,469.4 L374.8,469.4 L374.2,470.1 L373.7,469.4 L373.2,469.4 L372.6,470.1 L372.1,470.2 L371.5,469.4 L371.0,469.4 L370.4,469.4 L369.9,470.2 L369.3,469.4 L368.8,469.4 L368.2,470.0 L367.7,470.0 L367.1,469.4 L366.6,469.7 L366.0,473.1 L365.5,470.1 L364.9,469.4 L364.4,470.0 L363.8,469.6 L363.2,469.4 L362.7,469.8 L362.2,469.4 L361.6,469.4 L361.1,469.4 L360.5,469.4 L360.0,469.4 L359.4,469.4 L358.9,469.4 L358.3,469.4 L357.8,469.4 L357.2,469.4 L356.7,469.9 L356.1,469.4 L355.6,469.4 L355.0,469.4 L354.5,469.4 L353.9,469.4 L353.4,469.4 L352.8,469.4 L352.2,469.4 L351.7,469.4 L351.2,469.4 L350.6,469.4 L350.1,469.4 L349.5,469.4 L349.0,469.8 L348.4,469.6 L347.9,469.4 L347.3,471.1 L346.8,469.6 L346.2,470.2 L345.7,469.4 L345.1,471.7 L344.6,469.4 L344.0,469.4 L343.5,469.8 L342.9,469.4 L342.4,469.4 L341.8,469.4 L341.2,469.4 L340.7,469.9 L340.2,469.4 L339.6,469.8 L339.1,469.4 L338.5,469.4 L338.0,469.4 L337.4,469.5 L336.9,469.4 L336.3,474.6 L335.8,469.4 L335.2,469.4 L334.7,469.4 L334.1,469.6 L333.6,469.4 L333.0,469.4 L332.5,469.7 L331.9,469.4 L331.4,470.1 L330.8,470.3 L330.2,469.4 L329.7,469.4 L329.2,469.4 L328.6,469.7 L328.1,469.4 L327.5,469.4 L327.0,471.1 L326.4,469.6 L325.9,469.4 L325.3,469.4 L324.8,469.4 L324.2,470.0 L323.7,470.0 L323.1,469.4 L322.6,471.2 L322.0,470.2 L321.5,470.1 L320.9,469.4 L320.4,469.7 L319.8,469.9 L319.2,470.4 L318.7,469.4 L318.2,469.4 L317.6,469.4 L317.1,469.4 L316.5,469.4 L316.0,469.4 L315.4,469.4 L314.9,469.4 L314.3,469.4 L313.8,470.1 L313.2,469.4 L312.7,469.4 L312.1,469.4 L311.6,470.2 L311.0,469.4 L310.5,469.4 L309.9,470.2 L309.4,469.4 L308.8,469.4 L308.2,469.7 L307.7,469.4 L307.2,469.6 L306.6,469.4 L306.1,469.4 L305.5,469.4 L305.0,469.4 L304.4,469.4 L303.9,469.4 L303.3,469.8 L302.8,470.1 L302.2,469.8 L301.7,469.4 L301.1,469.4 L300.6,469.8 L300.0,469.4 L299.5,469.4 L298.9,469.8 L298.4,469.4 L297.8,470.2 L297.2,469.7 L296.7,470.0 L296.2,469.9 L295.6,469.4 L295.1,469.9 L294.5,469.4 L294.0,469.6 L293.4,469.4 L292.9,469.4 L292.3,469.4 L291.8,470.2 L291.2,469.7 L290.7,469.8 L290.1,469.4 L289.6,469.4 L289.0,469.4 L288.5,469.4 L287.9,469.4 L287.4,470.6 L286.8,469.4 L286.2,470.1 L285.7,470.2 L285.2,469.4 L284.6,469.4 L284.1,469.4 L283.5,469.4 L283.0,469.4 L282.4,469.4 L281.9,469.4 L281.3,469.4 L280.8,469.4 L280.2,469.4 L279.7,470.1 L279.1,469.8 L278.6,469.4 L278.0,469.4 L277.5,469.4 L276.9,469.4 L276.4,469.4 L275.8,469.4 L275.2,469.4 L274.7,469.4 L274.2,469.4 L273.6,469.4 L273.1,469.4 L272.5,469.4 L272.0,469.4 L271.4,469.4 L270.9,469.4 L270.3,469.4 L269.8,469.4 L269.2,469.4 L268.7,469.4 L268.1,469.4 L267.6,469.4 L267.0,469.9 L266.4,469.4 L265.9,469.4 L265.4,469.4 L264.8,469.4 L264.2,469.4 L263.7,469.4 L263.2,470.0 L262.6,469.4 L262.1,469.4 L261.5,469.4 L260.9,469.6 L260.4,469.4 L259.9,469.4 L259.3,469.4 L258.8,469.4 L258.2,469.4 L257.7,469.6 L257.1,469.4 L256.6,469.9 L256.0,472.5 L255.5,469.4 L254.9,469.9 L254.4,470.8 L253.8,469.4 L253.2,470.0 L252.7,469.4 L252.2,469.6 L251.6,472.3 L251.1,469.4 L250.5,469.4 L250.0,469.4 L249.4,470.0 L248.9,470.0 L248.3,469.4 L247.8,469.5 L247.2,469.4 L246.7,469.4 L246.1,469.4 L245.6,469.4 L245.0,470.2 L244.5,469.4 L243.9,469.4 L243.4,469.4 L242.8,469.4 L242.2,469.4 L241.7,469.4 L241.2,469.4 L240.6,469.4 L240.1,469.4 L239.5,469.8 L239.0,469.4 L238.4,469.7 L237.9,469.4 L237.3,469.4Z" fill="#2e2e2e"/>
<rect x="244.95" y="469.00" width="0.9" height="6.00" fill="#2e2e2e"/>
<rect x="347.05" y="469.00" width="0.9" height="3.00" fill="#2e2e2e"/>
<rect x="355.25" y="469.00" width="0.9" height="7.60" fill="#2e2e2e"/>
<rect x="356.05" y="469.00" width="0.9" height="4.00" fill="#2e2e2e"/>
<rect x="367.55" y="469.00" width="0.9" height="2.50" fill="#2e2e2e"/>
<polygon points="269.2,469.0 269.2,471.0 269.8,471.3 270.3,470.5 270.9,471.2 271.4,470.9 272.0,471.0 272.5,470.5 273.1,471.0 273.6,471.2 274.2,470.4 274.7,470.9 275.2,471.5 275.8,470.4 276.4,471.3 276.9,470.3 277.5,471.4 278.0,471.0 278.6,470.4 279.1,470.4 279.1,469.0" fill="#e9aa24"/>
<polygon points="275.2,469.0 275.2,478.0 275.8,478.3 276.4,478.3 276.4,469.0" fill="#e9aa24"/>
<path d="M237.3,493.7 L237.9,494.0 L238.4,494.0 L239.0,493.3 L239.5,494.0 L240.1,494.0 L240.6,494.0 L241.2,494.0 L241.7,494.0 L242.2,494.0 L242.8,494.0 L243.4,493.3 L243.9,494.0 L244.5,494.0 L245.0,494.0 L245.6,494.0 L246.1,494.0 L246.7,494.0 L247.2,493.9 L247.8,494.0 L248.3,494.0 L248.9,494.0 L249.4,494.0 L250.0,494.0 L250.5,494.0 L251.1,494.0 L251.6,494.0 L252.2,494.0 L252.7,494.0 L253.2,494.0 L253.8,494.0 L254.4,494.0 L254.9,491.6 L255.5,494.0 L256.0,492.8 L256.6,494.0 L257.1,494.0 L257.7,494.0 L258.2,494.0 L258.8,494.0 L259.3,494.0 L259.9,494.0 L260.4,494.0 L260.9,494.0 L261.5,493.1 L262.1,494.0 L262.6,493.1 L263.2,494.0 L263.7,494.0 L264.2,494.0 L264.8,493.7 L265.4,494.0 L265.9,494.0 L266.4,493.6 L267.0,494.0 L267.6,494.0 L268.1,494.0 L268.7,494.0 L269.2,494.0 L269.8,494.0 L270.3,494.0 L270.9,494.0 L271.4,494.0 L272.0,494.0 L272.5,494.0 L273.1,494.0 L273.6,494.0 L274.2,494.0 L274.7,494.0 L275.2,492.7 L275.8,494.0 L276.4,494.0 L276.9,494.0 L277.5,494.0 L278.0,494.0 L278.6,494.0 L279.1,494.0 L279.7,494.0 L280.2,494.0 L280.8,493.0 L281.3,494.0 L281.9,494.0 L282.4,494.0 L283.0,494.0 L283.5,494.0 L284.1,494.0 L284.6,494.0 L285.2,494.0 L285.7,494.0 L286.2,494.0 L286.8,494.0 L287.4,494.0 L287.9,493.9 L288.5,494.0 L289.0,494.0 L289.6,494.0 L290.1,494.0 L290.7,494.0 L291.2,494.0 L291.8,494.0 L292.3,494.0 L292.9,494.0 L293.4,494.0 L294.0,494.0 L294.5,494.0 L295.1,494.0 L295.6,494.0 L296.2,494.0 L296.7,494.0 L297.2,494.0 L297.8,494.0 L298.4,494.0 L298.9,494.0 L299.5,494.0 L300.0,494.0 L300.6,494.0 L301.1,494.0 L301.7,494.0 L302.2,494.0 L302.8,493.7 L303.3,494.0 L303.9,494.0 L304.4,494.0 L305.0,494.0 L305.5,494.0 L306.1,494.0 L306.6,494.0 L307.2,493.8 L307.7,494.0 L308.2,494.0 L308.8,494.0 L309.4,494.0 L309.9,494.0 L310.5,494.0 L311.0,494.0 L311.6,494.0 L312.1,494.0 L312.7,494.0 L313.2,494.0 L313.8,494.0 L314.3,494.0 L314.9,494.0 L315.4,494.0 L316.0,494.0 L316.5,494.0 L317.1,494.0 L317.6,494.0 L318.2,493.4 L318.7,494.0 L319.2,494.0 L319.8,494.0 L320.4,494.0 L320.9,494.0 L321.5,494.0 L322.0,494.0 L322.6,494.0 L323.1,494.0 L323.7,494.0 L324.2,494.0 L324.8,494.0 L325.3,494.0 L325.9,494.0 L326.4,494.0 L327.0,494.0 L327.5,494.0 L328.1,494.0 L328.6,494.0 L329.2,493.9 L329.7,494.0 L330.2,494.0 L330.8,494.0 L331.4,493.4 L331.9,494.0 L332.5,494.0 L333.0,493.6 L333.6,494.0 L334.1,494.0 L334.7,494.0 L335.2,493.2 L335.8,494.0 L336.3,494.0 L336.9,494.0 L337.4,493.0 L338.0,494.0 L338.5,493.6 L339.1,494.0 L339.6,494.0 L340.2,494.0 L340.7,493.7 L341.2,494.0 L341.8,494.0 L342.4,494.0 L342.9,492.2 L343.5,494.0 L344.0,494.0 L344.6,494.0 L345.1,494.0 L345.7,494.0 L346.2,494.0 L346.8,494.0 L347.3,494.0 L347.9,494.0 L348.4,494.0 L349.0,494.0 L349.5,494.0 L350.1,493.1 L350.6,494.0 L351.2,494.0 L351.7,494.0 L352.2,494.0 L352.8,493.5 L353.4,494.0 L353.9,494.0 L354.5,493.7 L355.0,494.0 L355.6,493.4 L356.1,494.0 L356.7,494.0 L357.2,494.0 L357.8,494.0 L358.3,494.0 L358.9,494.0 L359.4,494.0 L360.0,494.0 L360.5,494.0 L361.1,492.2 L361.6,493.8 L362.2,494.0 L362.7,494.0 L363.2,494.0 L363.8,494.0 L364.4,494.0 L364.9,494.0 L365.5,494.0 L366.0,494.0 L366.6,493.7 L367.1,494.0 L367.7,494.0 L368.2,494.0 L368.8,494.0 L369.3,494.0 L369.9,494.0 L370.4,494.0 L371.0,494.0 L371.5,494.0 L372.1,494.0 L372.6,494.0 L373.2,494.0 L373.7,494.0 L374.2,494.0 L374.8,494.0 L375.4,494.0 L375.9,494.0 L376.5,494.0 L377.0,494.0 L377.6,494.0 L378.1,494.0 L378.7,494.0 L379.2,494.0 L379.8,493.9 L380.3,494.0 L380.9,494.0 L381.4,494.0 L382.0,494.0 L382.5,494.0 L383.1,494.0 L383.6,494.0 L384.2,494.0 L384.2,494.8 L383.6,494.8 L383.1,495.5 L382.5,495.5 L382.0,495.0 L381.4,495.5 L380.9,494.8 L380.3,495.1 L379.8,494.8 L379.2,495.1 L378.7,494.8 L378.1,494.8 L377.6,495.2 L377.0,494.8 L376.5,496.0 L375.9,495.1 L375.4,494.8 L374.8,494.8 L374.2,494.8 L373.7,494.8 L373.2,494.8 L372.6,494.8 L372.1,494.8 L371.5,495.4 L371.0,494.8 L370.4,494.8 L369.9,495.4 L369.3,494.8 L368.8,494.8 L368.2,495.2 L367.7,495.5 L367.1,494.8 L366.6,494.8 L366.0,494.8 L365.5,494.8 L364.9,495.6 L364.4,495.4 L363.8,495.1 L363.2,495.2 L362.7,494.8 L362.2,494.8 L361.6,494.8 L361.1,494.8 L360.5,495.4 L360.0,494.8 L359.4,495.0 L358.9,494.8 L358.3,494.8 L357.8,494.8 L357.2,494.8 L356.7,495.5 L356.1,494.8 L355.6,494.8 L355.0,495.5 L354.5,494.8 L353.9,494.8 L353.4,494.8 L352.8,494.8 L352.2,494.8 L351.7,495.0 L351.2,494.8 L350.6,494.8 L350.1,494.8 L349.5,495.0 L349.0,495.4 L348.4,495.2 L347.9,495.0 L347.3,494.8 L346.8,495.5 L346.2,494.8 L345.7,494.8 L345.1,494.8 L344.6,494.8 L344.0,494.8 L343.5,494.8 L342.9,494.8 L342.4,494.8 L341.8,495.1 L341.2,498.9 L340.7,494.8 L340.2,494.8 L339.6,494.8 L339.1,495.7 L338.5,494.8 L338.0,495.2 L337.4,494.8 L336.9,495.3 L336.3,494.8 L335.8,495.6 L335.2,494.8 L334.7,495.6 L334.1,495.5 L333.6,495.3 L333.0,494.8 L332.5,494.8 L331.9,495.5 L331.4,494.8 L330.8,495.3 L330.2,494.8 L329.7,494.8 L329.2,494.8 L328.6,494.8 L328.1,495.4 L327.5,494.8 L327.0,494.8 L326.4,494.8 L325.9,495.1 L325.3,495.0 L324.8,494.8 L324.2,495.6 L323.7,495.3 L323.1,495.4 L322.6,495.1 L322.0,494.8 L321.5,495.2 L320.9,494.8 L320.4,494.8 L319.8,494.8 L319.2,495.4 L318.7,494.8 L318.2,494.8 L317.6,494.8 L317.1,494.8 L316.5,494.8 L316.0,495.6 L315.4,494.8 L314.9,495.6 L314.3,495.2 L313.8,494.8 L313.2,494.8 L312.7,494.8 L312.1,494.8 L311.6,495.3 L311.0,494.8 L310.5,495.1 L309.9,495.2 L309.4,494.8 L308.8,495.1 L308.2,494.9 L307.7,495.0 L307.2,494.8 L306.6,494.8 L306.1,494.8 L305.5,495.6 L305.0,495.3 L304.4,494.8 L303.9,494.8 L303.3,494.8 L302.8,494.8 L302.2,494.8 L301.7,494.8 L301.1,494.8 L300.6,495.5 L300.0,494.8 L299.5,494.8 L298.9,495.1 L298.4,494.8 L297.8,494.8 L297.2,494.8 L296.7,494.8 L296.2,495.5 L295.6,495.2 L295.1,494.8 L294.5,495.4 L294.0,495.0 L293.4,495.4 L292.9,495.2 L292.3,495.0 L291.8,494.8 L291.2,494.8 L290.7,494.8 L290.1,495.4 L289.6,494.8 L289.0,494.8 L288.5,495.5 L287.9,494.8 L287.4,494.8 L286.8,495.1 L286.2,494.8 L285.7,495.4 L285.2,495.5 L284.6,494.8 L284.1,495.2 L283.5,495.1 L283.0,495.0 L282.4,494.8 L281.9,495.4 L281.3,495.0 L280.8,494.8 L280.2,494.8 L279.7,494.8 L279.1,495.4 L278.6,494.8 L278.0,494.8 L277.5,494.8 L276.9,494.8 L276.4,494.8 L275.8,494.8 L275.2,494.8 L274.7,494.8 L274.2,494.8 L273.6,494.8 L273.1,494.8 L272.5,494.8 L272.0,494.8 L271.4,494.8 L270.9,494.8 L270.3,494.8 L269.8,494.8 L269.2,494.8 L268.7,494.9 L268.1,495.5 L267.6,494.8 L267.0,495.6 L266.4,494.8 L265.9,495.0 L265.4,494.8 L264.8,494.8 L264.2,494.8 L263.7,494.8 L263.2,494.8 L262.6,494.8 L262.1,494.8 L261.5,494.8 L260.9,495.6 L260.4,494.8 L259.9,494.8 L259.3,495.3 L258.8,494.8 L258.2,494.8 L257.7,495.3 L257.1,494.8 L256.6,494.8 L256.0,494.8 L255.5,495.2 L254.9,494.8 L254.4,495.2 L253.8,494.8 L253.2,495.2 L252.7,495.4 L252.2,494.8 L251.6,495.5 L251.1,494.8 L250.5,494.8 L250.0,494.8 L249.4,494.8 L248.9,495.4 L248.3,495.3 L247.8,494.8 L247.2,494.8 L246.7,495.9 L246.1,495.0 L245.6,494.8 L245.0,495.2 L244.5,494.8 L243.9,495.5 L243.4,494.8 L242.8,495.6 L242.2,495.4 L241.7,494.8 L241.2,495.1 L240.6,495.5 L240.1,494.8 L239.5,494.8 L239.0,494.8 L238.4,494.8 L237.9,495.5 L237.3,494.8Z" fill="#2e2e2e"/>
<rect x="244.95" y="494.40" width="0.9" height="5.00" fill="#2e2e2e"/>
<rect x="355.25" y="494.40" width="0.9" height="10.20" fill="#2e2e2e"/>
<rect x="356.15" y="494.40" width="0.9" height="4.00" fill="#2e2e2e"/>
<polygon points="237.3,494.4 237.3,493.6 237.9,493.5 238.4,493.4 239.0,493.7 239.5,493.7 240.1,493.7 240.6,493.6 241.2,493.5 241.7,493.6 242.2,493.4 242.8,493.6 243.4,493.6 243.9,493.5 244.5,493.7 245.0,493.7 245.6,493.6 246.1,493.7 246.7,493.4 247.2,493.4 247.8,493.6 248.3,493.7 248.9,493.7 249.4,493.7 249.4,494.4" fill="#ec4e22"/>
<polygon points="269.2,494.4 269.2,503.3 269.8,503.4 270.3,503.2 270.9,503.3 271.4,504.0 272.0,503.4 272.5,503.3 273.1,504.5 273.6,504.7 274.2,504.3 274.7,503.6 275.2,503.7 275.8,503.8 276.4,503.7 276.9,502.9 277.5,504.5 278.0,504.6 278.6,503.0 279.1,503.0 279.1,494.4" fill="#e9aa24"/>
<path d="M237.3,519.6 L237.9,519.6 L238.4,519.6 L239.0,519.6 L239.5,519.6 L240.1,519.6 L240.6,519.6 L241.2,519.6 L241.7,519.6 L242.2,519.6 L242.8,519.6 L243.4,519.6 L243.9,519.6 L244.5,519.6 L245.0,519.6 L245.6,519.6 L246.1,517.5 L246.7,519.6 L247.2,519.6 L247.8,519.3 L248.3,519.6 L248.9,519.6 L249.4,518.3 L250.0,519.6 L250.5,519.6 L251.1,519.6 L251.6,519.6 L252.2,519.6 L252.7,519.6 L253.2,519.6 L253.8,519.6 L254.4,519.6 L254.9,519.6 L255.5,519.6 L256.0,519.6 L256.6,519.6 L257.1,519.6 L257.7,519.6 L258.2,519.6 L258.8,519.6 L259.3,519.6 L259.9,519.6 L260.4,519.6 L260.9,519.6 L261.5,519.6 L262.1,519.6 L262.6,519.6 L263.2,519.6 L263.7,519.6 L264.2,519.6 L264.8,518.9 L265.4,519.6 L265.9,519.6 L266.4,519.2 L267.0,519.6 L267.6,519.6 L268.1,519.2 L268.7,519.6 L269.2,519.6 L269.8,518.7 L270.3,519.6 L270.9,517.9 L271.4,519.6 L272.0,519.6 L272.5,519.6 L273.1,519.6 L273.6,519.6 L274.2,519.6 L274.7,519.6 L275.2,519.6 L275.8,519.6 L276.4,518.2 L276.9,519.6 L277.5,519.6 L278.0,519.6 L278.6,518.9 L279.1,519.6 L279.7,519.6 L280.2,519.6 L280.8,519.6 L281.3,519.6 L281.9,519.6 L282.4,519.6 L283.0,519.6 L283.5,519.6 L284.1,519.2 L284.6,519.6 L285.2,519.6 L285.7,519.6 L286.2,519.6 L286.8,519.6 L287.4,519.6 L287.9,519.6 L288.5,519.6 L289.0,519.6 L289.6,519.6 L290.1,519.6 L290.7,519.6 L291.2,519.6 L291.8,519.6 L292.3,519.6 L292.9,519.6 L293.4,518.9 L294.0,519.6 L294.5,519.6 L295.1,519.0 L295.6,519.6 L296.2,519.6 L296.7,519.5 L297.2,519.6 L297.8,519.6 L298.4,518.7 L298.9,519.6 L299.5,519.6 L300.0,519.6 L300.6,519.6 L301.1,519.6 L301.7,519.6 L302.2,519.6 L302.8,519.6 L303.3,519.6 L303.9,519.6 L304.4,519.6 L305.0,519.6 L305.5,519.6 L306.1,519.6 L306.6,519.6 L307.2,519.6 L307.7,519.6 L308.2,518.9 L308.8,519.6 L309.4,519.1 L309.9,519.6 L310.5,519.6 L311.0,519.6 L311.6,519.6 L312.1,519.6 L312.7,519.6 L313.2,519.6 L313.8,519.6 L314.3,519.6 L314.9,519.6 L315.4,519.6 L316.0,519.2 L316.5,519.6 L317.1,519.6 L317.6,519.6 L318.2,519.1 L318.7,519.2 L319.2,518.7 L319.8,519.6 L320.4,519.6 L320.9,519.6 L321.5,519.6 L322.0,519.6 L322.6,519.6 L323.1,519.6 L323.7,519.6 L324.2,519.6 L324.8,519.6 L325.3,519.6 L325.9,519.6 L326.4,519.6 L327.0,519.6 L327.5,519.6 L328.1,519.6 L328.6,519.6 L329.2,519.6 L329.7,519.6 L330.2,518.7 L330.8,519.6 L331.4,519.5 L331.9,519.6 L332.5,519.6 L333.0,519.6 L333.6,518.5 L334.1,519.6 L334.7,519.6 L335.2,518.3 L335.8,519.6 L336.3,519.6 L336.9,519.6 L337.4,519.6 L338.0,519.6 L338.5,519.6 L339.1,519.6 L339.6,519.4 L340.2,518.9 L340.7,519.6 L341.2,519.6 L341.8,519.6 L342.4,519.6 L342.9,519.6 L343.5,518.5 L344.0,519.6 L344.6,519.6 L345.1,519.3 L345.7,519.1 L346.2,519.6 L346.8,519.6 L347.3,519.6 L347.9,519.6 L348.4,519.6 L349.0,519.6 L349.5,519.6 L350.1,519.6 L350.6,519.6 L351.2,519.6 L351.7,519.6 L352.2,519.6 L352.8,519.6 L353.4,519.3 L353.9,519.6 L354.5,519.6 L355.0,519.0 L355.6,518.7 L356.1,519.6 L356.7,518.2 L357.2,519.6 L357.8,519.6 L358.3,519.5 L358.9,519.6 L359.4,519.6 L360.0,519.6 L360.5,519.6 L361.1,519.5 L361.6,519.6 L362.2,519.6 L362.7,519.5 L363.2,519.6 L363.8,519.6 L364.4,518.4 L364.9,519.6 L365.5,519.6 L366.0,519.6 L366.6,519.6 L367.1,519.6 L367.7,519.6 L368.2,519.6 L368.8,519.6 L369.3,518.6 L369.9,519.6 L370.4,519.5 L371.0,519.6 L371.5,519.6 L372.1,519.5 L372.6,519.6 L373.2,519.5 L373.7,519.6 L374.2,519.6 L374.8,519.6 L375.4,519.6 L375.9,519.6 L376.5,519.6 L377.0,519.6 L377.6,519.6 L378.1,518.6 L378.7,519.6 L379.2,519.6 L379.8,519.6 L380.3,519.6 L380.9,519.6 L381.4,519.6 L382.0,519.6 L382.5,519.6 L383.1,519.6 L383.6,519.6 L384.2,519.6 L384.2,520.8 L383.6,520.4 L383.1,520.4 L382.5,520.4 L382.0,520.4 L381.4,521.7 L380.9,520.4 L380.3,520.4 L379.8,520.4 L379.2,521.2 L378.7,521.2 L378.1,520.4 L377.6,520.4 L377.0,520.4 L376.5,520.4 L375.9,520.4 L375.4,521.2 L374.8,520.9 L374.2,520.4 L373.7,520.9 L373.2,520.4 L372.6,520.4 L372.1,520.4 L371.5,520.7 L371.0,520.4 L370.4,520.4 L369.9,520.9 L369.3,520.4 L368.8,520.7 L368.2,520.8 L367.7,521.1 L367.1,520.4 L366.6,521.1 L366.0,520.4 L365.5,521.8 L364.9,520.4 L364.4,520.4 L363.8,520.8 L363.2,520.9 L362.7,520.4 L362.2,521.1 L361.6,521.0 L361.1,520.4 L360.5,520.4 L360.0,520.9 L359.4,520.7 L358.9,521.1 L358.3,520.4 L357.8,520.4 L357.2,520.4 L356.7,520.4 L356.1,520.4 L355.6,520.4 L355.0,520.4 L354.5,520.4 L353.9,521.2 L353.4,520.4 L352.8,520.8 L352.2,520.6 L351.7,520.4 L351.2,520.4 L350.6,520.4 L350.1,521.0 L349.5,520.4 L349.0,520.4 L348.4,520.6 L347.9,520.9 L347.3,520.4 L346.8,520.4 L346.2,521.2 L345.7,520.4 L345.1,520.4 L344.6,520.7 L344.0,520.4 L343.5,520.4 L342.9,521.1 L342.4,520.4 L341.8,520.9 L341.2,520.4 L340.7,520.8 L340.2,520.4 L339.6,520.4 L339.1,520.8 L338.5,520.4 L338.0,520.4 L337.4,520.4 L336.9,521.1 L336.3,520.9 L335.8,521.0 L335.2,520.4 L334.7,520.4 L334.1,521.1 L333.6,520.4 L333.0,521.1 L332.5,520.4 L331.9,521.2 L331.4,520.4 L330.8,520.4 L330.2,520.4 L329.7,520.4 L329.2,520.4 L328.6,520.4 L328.1,520.4 L327.5,520.4 L327.0,521.1 L326.4,520.6 L325.9,521.2 L325.3,520.4 L324.8,521.0 L324.2,520.4 L323.7,521.2 L323.1,520.7 L322.6,520.8 L322.0,520.5 L321.5,520.4 L320.9,520.6 L320.4,520.8 L319.8,520.4 L319.2,520.4 L318.7,520.4 L318.2,520.4 L317.6,520.9 L317.1,520.4 L316.5,520.4 L316.0,520.4 L315.4,520.8 L314.9,520.4 L314.3,520.9 L313.8,520.6 L313.2,520.4 L312.7,520.9 L312.1,521.1 L311.6,520.4 L311.0,521.1 L310.5,521.1 L309.9,521.1 L309.4,520.4 L308.8,520.4 L308.2,520.4 L307.7,520.6 L307.2,520.4 L306.6,521.2 L306.1,520.4 L305.5,520.4 L305.0,520.6 L304.4,520.4 L303.9,520.4 L303.3,520.4 L302.8,520.4 L302.2,520.4 L301.7,520.4 L301.1,521.1 L300.6,520.4 L300.0,520.4 L299.5,521.2 L298.9,520.9 L298.4,520.4 L297.8,520.4 L297.2,520.4 L296.7,520.4 L296.2,520.4 L295.6,520.4 L295.1,520.4 L294.5,520.8 L294.0,520.4 L293.4,520.4 L292.9,521.0 L292.3,520.4 L291.8,521.0 L291.2,520.4 L290.7,521.1 L290.1,520.4 L289.6,520.4 L289.0,520.4 L288.5,520.8 L287.9,520.4 L287.4,520.4 L286.8,520.8 L286.2,520.4 L285.7,521.1 L285.2,520.6 L284.6,521.0 L284.1,520.4 L283.5,520.4 L283.0,520.4 L282.4,520.4 L281.9,520.9 L281.3,520.9 L280.8,520.9 L280.2,520.4 L279.7,520.9 L279.1,520.4 L278.6,520.4 L278.0,520.4 L277.5,520.4 L276.9,520.4 L276.4,520.4 L275.8,520.4 L275.2,520.4 L274.7,520.4 L274.2,520.4 L273.6,520.4 L273.1,520.4 L272.5,520.4 L272.0,520.4 L271.4,520.4 L270.9,520.4 L270.3,520.4 L269.8,520.4 L269.2,520.4 L268.7,520.4 L268.1,520.4 L267.6,520.8 L267.0,520.4 L266.4,520.4 L265.9,520.4 L265.4,520.4 L264.8,520.4 L264.2,520.4 L263.7,520.4 L263.2,520.9 L262.6,520.7 L262.1,520.6 L261.5,521.0 L260.9,520.4 L260.4,520.4 L259.9,520.8 L259.3,520.8 L258.8,520.4 L258.2,520.4 L257.7,520.6 L257.1,520.6 L256.6,521.9 L256.0,520.4 L255.5,521.1 L254.9,521.0 L254.4,520.4 L253.8,520.4 L253.2,520.9 L252.7,520.4 L252.2,520.6 L251.6,520.9 L251.1,521.2 L250.5,520.4 L250.0,520.4 L249.4,520.4 L248.9,520.4 L248.3,520.4 L247.8,520.4 L247.2,520.4 L246.7,520.4 L246.1,520.4 L245.6,520.4 L245.0,520.4 L244.5,521.1 L243.9,521.0 L243.4,520.4 L242.8,520.6 L242.2,522.0 L241.7,520.4 L241.2,520.4 L240.6,520.4 L240.1,521.0 L239.5,520.4 L239.0,521.1 L238.4,521.1 L237.9,520.8 L237.3,521.2Z" fill="#2e2e2e"/>
<rect x="355.25" y="520.00" width="0.9" height="6.00" fill="#2e2e2e"/>
<polygon points="237.3,520.0 237.3,514.8 237.9,515.0 238.4,515.2 239.0,514.7 239.5,514.4 240.1,515.3 240.6,514.1 241.2,514.3 241.7,515.2 242.2,515.3 242.8,514.6 243.4,514.7 243.9,515.4 244.5,515.2 245.0,514.2 245.6,515.0 246.1,514.7 246.7,514.1 247.2,515.4 247.8,515.0 248.3,514.1 248.9,514.1 249.4,514.1 249.4,520.0" fill="#ec4e22"/>
<polygon points="268.7,520.0 268.7,529.8 269.2,529.6 269.8,529.9 270.3,530.2 270.9,530.1 271.4,530.2 272.0,529.9 272.5,529.7 273.1,530.1 273.6,530.5 274.2,530.2 274.7,530.2 275.2,529.9 275.8,530.6 276.4,530.6 276.9,530.1 277.5,529.8 278.0,530.5 278.6,529.8 279.1,529.8 279.1,520.0" fill="#e9aa24"/>
<path d="M237.3,545.6 L237.9,545.6 L238.4,545.6 L239.0,545.6 L239.5,545.6 L240.1,545.6 L240.6,545.6 L241.2,545.6 L241.7,544.5 L242.2,545.6 L242.8,545.5 L243.4,545.6 L243.9,545.6 L244.5,544.9 L245.0,545.6 L245.6,545.6 L246.1,545.6 L246.7,545.6 L247.2,545.6 L247.8,545.5 L248.3,544.7 L248.9,545.5 L249.4,545.6 L250.0,545.6 L250.5,545.6 L251.1,545.6 L251.6,545.5 L252.2,544.8 L252.7,545.6 L253.2,545.6 L253.8,545.6 L254.4,545.6 L254.9,545.6 L255.5,545.6 L256.0,545.6 L256.6,545.6 L257.1,545.6 L257.7,545.6 L258.2,545.6 L258.8,545.6 L259.3,545.6 L259.9,545.6 L260.4,545.6 L260.9,545.6 L261.5,545.6 L262.1,545.6 L262.6,545.6 L263.2,545.6 L263.7,545.6 L264.2,545.6 L264.8,545.4 L265.4,545.6 L265.9,545.6 L266.4,545.6 L267.0,545.6 L267.6,545.6 L268.1,545.6 L268.7,545.6 L269.2,545.6 L269.8,545.6 L270.3,545.2 L270.9,545.6 L271.4,545.6 L272.0,545.6 L272.5,545.6 L273.1,545.6 L273.6,545.6 L274.2,545.6 L274.7,545.6 L275.2,545.6 L275.8,544.8 L276.4,545.6 L276.9,545.2 L277.5,545.6 L278.0,545.6 L278.6,545.6 L279.1,545.6 L279.7,545.6 L280.2,545.6 L280.8,545.6 L281.3,545.6 L281.9,545.6 L282.4,545.6 L283.0,545.6 L283.5,545.6 L284.1,545.6 L284.6,545.6 L285.2,545.6 L285.7,545.6 L286.2,545.6 L286.8,545.6 L287.4,545.6 L287.9,545.6 L288.5,545.6 L289.0,545.6 L289.6,545.6 L290.1,545.6 L290.7,545.6 L291.2,545.6 L291.8,545.6 L292.3,544.9 L292.9,545.6 L293.4,545.6 L294.0,545.1 L294.5,545.6 L295.1,545.6 L295.6,545.6 L296.2,545.6 L296.7,545.6 L297.2,545.6 L297.8,545.6 L298.4,545.6 L298.9,545.6 L299.5,545.6 L300.0,545.6 L300.6,545.6 L301.1,545.6 L301.7,545.2 L302.2,545.6 L302.8,544.9 L303.3,545.6 L303.9,545.2 L304.4,545.6 L305.0,545.6 L305.5,545.6 L306.1,545.6 L306.6,545.6 L307.2,545.6 L307.7,545.2 L308.2,545.6 L308.8,545.6 L309.4,545.6 L309.9,545.6 L310.5,545.6 L311.0,544.4 L311.6,545.6 L312.1,545.6 L312.7,545.6 L313.2,545.6 L313.8,545.6 L314.3,545.6 L314.9,545.6 L315.4,545.6 L316.0,545.6 L316.5,545.6 L317.1,545.6 L317.6,545.6 L318.2,545.6 L318.7,545.3 L319.2,545.6 L319.8,545.0 L320.4,545.6 L320.9,545.6 L321.5,545.6 L322.0,545.2 L322.6,545.6 L323.1,545.6 L323.7,545.6 L324.2,545.6 L324.8,545.6 L325.3,545.6 L325.9,545.6 L326.4,545.6 L327.0,545.4 L327.5,545.2 L328.1,545.6 L328.6,545.6 L329.2,545.6 L329.7,545.6 L330.2,545.6 L330.8,545.6 L331.4,545.6 L331.9,545.6 L332.5,545.6 L333.0,545.6 L333.6,545.5 L334.1,545.6 L334.7,545.6 L335.2,545.6 L335.8,545.6 L336.3,543.8 L336.9,545.3 L337.4,545.6 L338.0,545.6 L338.5,545.5 L339.1,545.6 L339.6,545.6 L340.2,545.6 L340.7,545.6 L341.2,545.6 L341.8,545.6 L342.4,545.6 L342.9,545.6 L343.5,545.6 L344.0,545.6 L344.6,545.6 L345.1,545.6 L345.7,545.6 L346.2,544.9 L346.8,545.6 L347.3,545.6 L347.9,545.6 L348.4,545.6 L349.0,545.6 L349.5,545.6 L350.1,545.6 L350.6,545.6 L351.2,545.6 L351.7,545.6 L352.2,544.9 L352.8,545.6 L353.4,545.6 L353.9,545.6 L354.5,545.6 L355.0,545.6 L355.6,545.6 L356.1,545.6 L356.7,544.7 L357.2,545.3 L357.8,545.6 L358.3,545.6 L358.9,545.6 L359.4,545.6 L360.0,545.6 L360.5,545.6 L361.1,545.6 L361.6,545.6 L362.2,545.6 L362.7,545.6 L363.2,545.6 L363.8,545.6 L364.4,545.6 L364.9,545.2 L365.5,545.6 L366.0,545.6 L366.6,545.6 L367.1,545.6 L367.7,545.6 L368.2,545.6 L368.8,545.6 L369.3,545.6 L369.9,545.6 L370.4,545.6 L371.0,545.6 L371.5,545.6 L372.1,545.6 L372.6,545.6 L373.2,545.2 L373.7,545.6 L374.2,545.6 L374.8,545.6 L375.4,545.6 L375.9,545.6 L376.5,545.6 L377.0,545.6 L377.6,545.6 L378.1,545.6 L378.7,545.6 L379.2,545.6 L379.8,545.6 L380.3,545.6 L380.9,545.6 L381.4,545.6 L382.0,545.6 L382.5,543.5 L383.1,545.6 L383.6,545.6 L384.2,545.6 L384.2,546.4 L383.6,547.2 L383.1,547.1 L382.5,546.4 L382.0,546.4 L381.4,546.8 L380.9,546.9 L380.3,546.5 L379.8,547.0 L379.2,547.2 L378.7,546.4 L378.1,546.7 L377.6,547.0 L377.0,546.4 L376.5,546.4 L375.9,546.4 L375.4,546.4 L374.8,546.4 L374.2,546.8 L373.7,546.4 L373.2,546.4 L372.6,546.4 L372.1,546.4 L371.5,546.6 L371.0,546.6 L370.4,546.8 L369.9,546.4 L369.3,547.0 L368.8,546.4 L368.2,546.4 L367.7,546.4 L367.1,546.7 L366.6,546.4 L366.0,546.4 L365.5,546.8 L364.9,546.4 L364.4,547.1 L363.8,546.7 L363.2,546.4 L362.7,546.4 L362.2,546.6 L361.6,547.2 L361.1,546.4 L360.5,547.2 L360.0,546.4 L359.4,546.4 L358.9,547.0 L358.3,546.4 L357.8,546.6 L357.2,546.4 L356.7,546.4 L356.1,546.4 L355.6,546.4 L355.0,546.4 L354.5,546.4 L353.9,547.0 L353.4,547.1 L352.8,547.8 L352.2,546.4 L351.7,546.9 L351.2,546.4 L350.6,546.4 L350.1,546.4 L349.5,546.4 L349.0,547.1 L348.4,547.0 L347.9,546.4 L347.3,546.4 L346.8,546.4 L346.2,546.4 L345.7,546.4 L345.1,546.5 L344.6,546.4 L344.0,546.8 L343.5,546.4 L342.9,547.0 L342.4,546.4 L341.8,546.4 L341.2,546.4 L340.7,547.0 L340.2,546.8 L339.6,547.2 L339.1,547.2 L338.5,546.4 L338.0,547.1 L337.4,547.1 L336.9,546.4 L336.3,546.4 L335.8,546.8 L335.2,546.7 L334.7,546.9 L334.1,547.0 L333.6,546.4 L333.0,546.4 L332.5,546.4 L331.9,546.4 L331.4,546.4 L330.8,551.1 L330.2,546.9 L329.7,546.4 L329.2,547.1 L328.6,546.6 L328.1,546.8 L327.5,546.4 L327.0,546.4 L326.4,546.4 L325.9,546.7 L325.3,548.1 L324.8,547.1 L324.2,546.4 L323.7,547.0 L323.1,546.4 L322.6,546.4 L322.0,546.4 L321.5,546.9 L320.9,547.0 L320.4,546.4 L319.8,546.4 L319.2,550.1 L318.7,546.4 L318.2,546.4 L317.6,546.4 L317.1,547.1 L316.5,546.6 L316.0,546.9 L315.4,546.4 L314.9,546.6 L314.3,546.4 L313.8,546.4 L313.2,546.4 L312.7,546.4 L312.1,546.6 L311.6,546.4 L311.0,546.4 L310.5,546.9 L309.9,546.4 L309.4,547.1 L308.8,546.4 L308.2,546.4 L307.7,546.4 L307.2,546.4 L306.6,546.4 L306.1,546.4 L305.5,546.4 L305.0,546.4 L304.4,546.4 L303.9,546.4 L303.3,547.1 L302.8,546.4 L302.2,546.7 L301.7,546.4 L301.1,547.0 L300.6,546.8 L300.0,546.9 L299.5,546.4 L298.9,547.0 L298.4,546.4 L297.8,546.4 L297.2,547.0 L296.7,547.0 L296.2,546.4 L295.6,546.4 L295.1,546.9 L294.5,546.4 L294.0,546.4 L293.4,547.0 L292.9,546.9 L292.3,546.4 L291.8,546.4 L291.2,546.4 L290.7,546.4 L290.1,546.4 L289.6,547.1 L289.0,548.3 L288.5,547.2 L287.9,547.0 L287.4,546.4 L286.8,546.4 L286.2,547.7 L285.7,546.4 L285.2,546.9 L284.6,546.6 L284.1,546.4 L283.5,546.4 L283.0,546.4 L282.4,546.5 L281.9,546.4 L281.3,546.4 L280.8,547.1 L280.2,546.8 L279.7,546.6 L279.1,546.4 L278.6,546.4 L278.0,546.4 L277.5,546.4 L276.9,546.4 L276.4,546.4 L275.8,546.4 L275.2,546.4 L274.7,546.4 L274.2,546.4 L273.6,546.4 L273.1,546.4 L272.5,546.4 L272.0,546.4 L271.4,546.4 L270.9,546.4 L270.3,546.4 L269.8,546.4 L269.2,546.4 L268.7,546.4 L268.1,547.1 L267.6,546.5 L267.0,546.4 L266.4,546.8 L265.9,547.0 L265.4,546.4 L264.8,546.4 L264.2,546.4 L263.7,546.4 L263.2,546.4 L262.6,546.9 L262.1,550.4 L261.5,546.7 L260.9,546.4 L260.4,546.8 L259.9,549.6 L259.3,546.4 L258.8,546.9 L258.2,546.4 L257.7,546.4 L257.1,546.4 L256.6,546.4 L256.0,548.9 L255.5,546.9 L254.9,546.4 L254.4,547.2 L253.8,546.8 L253.2,548.0 L252.7,546.4 L252.2,546.4 L251.6,546.4 L251.1,546.4 L250.5,546.4 L250.0,547.1 L249.4,546.4 L248.9,546.4 L248.3,546.4 L247.8,546.4 L247.2,548.6 L246.7,546.4 L246.1,546.4 L245.6,546.4 L245.0,547.1 L244.5,546.4 L243.9,546.4 L243.4,546.6 L242.8,546.4 L242.2,548.5 L241.7,546.4 L241.2,546.4 L240.6,547.2 L240.1,546.4 L239.5,547.0 L239.0,546.4 L238.4,546.9 L237.9,546.7 L237.3,546.4Z" fill="#2e2e2e"/>
<rect x="355.25" y="546.00" width="0.9" height="3.00" fill="#2e2e2e"/>
<polygon points="237.3,546.0 237.3,540.4 237.9,539.7 238.4,541.1 239.0,539.8 239.5,539.9 240.1,540.9 240.6,540.2 241.2,540.2 241.7,540.1 242.2,540.4 242.8,540.9 243.4,540.2 243.9,539.9 244.5,540.6 245.0,540.3 245.6,541.1 246.1,539.8 246.7,540.4 247.2,540.4 247.8,541.0 248.3,540.0 248.9,540.9 249.4,540.9 249.4,546.0" fill="#ec4e22"/>
<polygon points="268.7,546.0 268.7,555.6 269.2,555.4 269.8,555.4 270.3,555.7 270.9,555.5 271.4,556.1 272.0,555.4 272.5,556.0 273.1,555.6 273.6,556.0 274.2,555.2 274.7,555.8 275.2,555.5 275.8,555.7 276.4,555.5 276.9,556.0 277.5,555.4 278.0,555.8 278.6,555.5 279.1,555.5 279.1,546.0" fill="#e9aa24"/>
<path d="M395.5,468.1 L396.1,468.1 L396.6,468.1 L397.1,468.1 L397.7,468.1 L398.2,468.1 L398.8,467.0 L399.4,468.1 L399.9,468.1 L400.4,467.0 L401.0,468.1 L401.6,468.1 L402.1,468.1 L402.6,468.1 L403.2,467.3 L403.8,468.1 L404.3,468.1 L404.9,468.1 L405.4,468.1 L405.9,468.1 L406.5,468.1 L407.1,468.1 L407.6,468.1 L408.1,467.9 L408.7,468.1 L409.2,466.9 L409.8,468.1 L410.4,468.1 L410.9,468.1 L411.4,468.1 L412.0,466.5 L412.6,468.1 L413.1,467.9 L413.6,468.0 L414.2,468.1 L414.8,468.1 L415.3,468.1 L415.9,468.1 L416.4,468.1 L416.9,468.0 L417.5,468.1 L418.1,468.1 L418.6,468.1 L419.1,468.1 L419.7,468.1 L420.2,466.6 L420.8,468.1 L421.4,467.8 L421.9,468.1 L422.4,467.7 L423.0,467.6 L423.6,468.1 L424.1,468.1 L424.6,467.4 L425.2,468.1 L425.8,468.1 L426.3,468.0 L426.9,468.1 L427.4,468.1 L427.9,468.1 L428.5,468.1 L429.1,468.1 L429.6,467.5 L430.1,468.1 L430.7,468.1 L431.2,468.1 L431.8,468.1 L432.4,468.1 L432.9,468.1 L433.4,468.1 L434.0,468.1 L434.6,468.1 L435.1,468.1 L435.6,467.9 L436.2,468.1 L436.8,468.1 L437.3,468.1 L437.9,468.1 L438.4,468.1 L438.9,468.1 L439.5,468.1 L440.1,468.1 L440.6,468.1 L441.1,468.1 L441.7,468.1 L442.2,468.1 L442.8,468.1 L443.4,468.1 L443.9,467.7 L444.4,467.2 L445.0,468.1 L445.6,468.1 L446.1,468.1 L446.6,468.1 L447.2,467.0 L447.8,467.8 L448.3,468.1 L448.9,468.1 L449.4,468.1 L449.9,468.1 L450.5,468.1 L451.1,468.1 L451.6,468.1 L452.1,468.1 L452.7,468.1 L453.2,468.1 L453.8,468.1 L454.4,468.1 L454.9,466.3 L455.4,468.1 L456.0,468.1 L456.6,468.1 L457.1,468.1 L457.6,468.1 L458.2,468.1 L458.8,467.9 L459.3,467.8 L459.9,468.1 L460.4,468.1 L460.9,468.1 L461.5,468.1 L462.1,468.1 L462.6,468.1 L463.1,468.1 L463.7,468.1 L464.2,467.5 L464.8,467.9 L465.4,468.0 L465.9,468.1 L466.4,468.1 L467.0,468.1 L467.6,467.9 L468.1,468.1 L468.6,468.1 L469.2,468.1 L469.8,468.1 L470.3,468.1 L470.9,467.3 L471.4,468.1 L471.9,467.8 L472.5,468.1 L473.1,468.1 L473.6,467.8 L474.1,468.1 L474.7,468.0 L475.2,468.1 L475.8,468.1 L476.4,468.1 L476.9,468.1 L477.4,468.1 L478.0,468.1 L478.6,467.7 L479.1,468.1 L479.6,467.5 L480.2,468.1 L480.8,468.1 L481.3,468.1 L481.9,468.1 L482.4,468.1 L482.9,468.1 L483.5,468.1 L484.1,467.8 L484.6,468.1 L485.1,468.1 L485.7,468.1 L486.2,468.1 L486.8,468.1 L487.4,468.1 L487.9,468.1 L488.4,467.4 L489.0,467.9 L489.6,468.1 L490.1,468.1 L490.6,468.1 L491.2,467.9 L491.8,468.1 L492.3,468.1 L492.9,468.1 L493.4,468.1 L493.9,468.1 L494.5,468.0 L495.1,468.1 L495.6,468.1 L496.1,468.1 L496.7,468.1 L497.2,468.1 L497.8,467.0 L498.4,467.9 L498.9,468.1 L499.4,468.1 L500.0,468.1 L500.6,467.6 L501.1,467.6 L501.6,468.1 L502.2,468.1 L502.8,468.1 L503.3,468.1 L503.9,468.1 L504.4,467.9 L504.9,468.1 L505.5,468.1 L506.1,468.1 L506.6,468.1 L507.1,468.1 L507.7,468.1 L508.2,468.1 L508.8,468.1 L509.4,468.1 L509.9,468.1 L510.4,468.1 L511.0,468.1 L511.6,468.1 L512.1,468.1 L512.6,468.1 L513.2,468.1 L513.8,468.1 L514.3,468.1 L514.9,466.8 L515.4,468.1 L516.0,468.1 L516.5,467.9 L517.0,468.1 L517.6,468.1 L518.1,467.4 L518.7,468.1 L519.2,468.1 L519.8,468.0 L520.4,468.1 L520.9,468.1 L521.5,468.1 L522.0,468.1 L522.5,468.1 L523.1,468.1 L523.6,468.1 L524.2,468.1 L524.8,468.1 L525.3,468.1 L525.9,468.1 L526.4,468.1 L527.0,468.1 L527.5,468.1 L528.0,468.1 L528.6,467.5 L529.1,468.1 L529.7,468.1 L530.2,468.1 L530.8,467.5 L531.4,468.1 L531.9,468.1 L532.5,468.1 L533.0,468.0 L533.5,468.1 L534.1,468.1 L534.6,468.1 L535.2,468.1 L535.8,468.1 L536.3,468.1 L536.9,468.1 L537.4,467.4 L538.0,468.1 L538.5,467.6 L539.0,468.1 L539.6,467.8 L540.1,468.1 L540.7,468.1 L541.2,467.3 L541.8,468.1 L542.4,468.1 L542.9,468.1 L543.5,468.1 L543.5,468.9 L542.9,469.1 L542.4,468.9 L541.8,468.9 L541.2,468.9 L540.7,468.9 L540.1,468.9 L539.6,468.9 L539.0,470.0 L538.5,468.9 L538.0,468.9 L537.4,468.9 L536.9,468.9 L536.3,468.9 L535.8,469.2 L535.2,468.9 L534.6,468.9 L534.1,469.2 L533.5,468.9 L533.0,468.9 L532.5,469.7 L531.9,468.9 L531.4,468.9 L530.8,468.9 L530.2,469.2 L529.7,468.9 L529.1,470.4 L528.6,468.9 L528.0,468.9 L527.5,468.9 L527.0,469.5 L526.4,468.9 L525.9,469.2 L525.3,470.6 L524.8,469.4 L524.2,468.9 L523.6,468.9 L523.1,468.9 L522.5,468.9 L522.0,469.7 L521.5,469.5 L520.9,468.9 L520.4,468.9 L519.8,468.9 L519.2,468.9 L518.7,469.1 L518.1,468.9 L517.6,468.9 L517.0,468.9 L516.5,468.9 L516.0,468.9 L515.4,468.9 L514.9,468.9 L514.3,469.3 L513.8,469.7 L513.2,468.9 L512.6,468.9 L512.1,469.5 L511.6,468.9 L511.0,468.9 L510.4,468.9 L509.9,468.9 L509.4,468.9 L508.8,468.9 L508.2,469.6 L507.7,469.5 L507.1,468.9 L506.6,469.5 L506.1,470.5 L505.5,469.3 L504.9,469.1 L504.4,468.9 L503.9,469.4 L503.3,469.5 L502.8,468.9 L502.2,468.9 L501.6,469.3 L501.1,468.9 L500.6,468.9 L500.0,469.4 L499.4,469.2 L498.9,468.9 L498.4,468.9 L497.8,468.9 L497.2,468.9 L496.7,471.6 L496.1,470.4 L495.6,469.3 L495.1,468.9 L494.5,468.9 L493.9,468.9 L493.4,468.9 L492.9,468.9 L492.3,468.9 L491.8,468.9 L491.2,468.9 L490.6,469.7 L490.1,468.9 L489.6,468.9 L489.0,468.9 L488.4,468.9 L487.9,468.9 L487.4,469.3 L486.8,468.9 L486.2,469.7 L485.7,468.9 L485.1,470.3 L484.6,468.9 L484.1,468.9 L483.5,471.8 L482.9,469.6 L482.4,468.9 L481.9,469.1 L481.3,469.4 L480.8,471.5 L480.2,468.9 L479.6,468.9 L479.1,468.9 L478.6,468.9 L478.0,469.2 L477.4,469.5 L476.9,469.1 L476.4,468.9 L475.8,468.9 L475.2,469.6 L474.7,468.9 L474.1,468.9 L473.6,468.9 L473.1,468.9 L472.5,468.9 L471.9,468.9 L471.4,469.3 L470.9,468.9 L470.3,469.1 L469.8,468.9 L469.2,469.5 L468.6,468.9 L468.1,469.7 L467.6,468.9 L467.0,468.9 L466.4,468.9 L465.9,469.9 L465.4,468.9 L464.8,468.9 L464.2,468.9 L463.7,469.2 L463.1,469.3 L462.6,468.9 L462.1,468.9 L461.5,469.5 L460.9,469.3 L460.4,469.2 L459.9,469.1 L459.3,468.9 L458.8,468.9 L458.2,468.9 L457.6,469.7 L457.1,468.9 L456.6,468.9 L456.0,468.9 L455.4,469.5 L454.9,468.9 L454.4,468.9 L453.8,468.9 L453.2,468.9 L452.7,469.1 L452.1,468.9 L451.6,468.9 L451.1,468.9 L450.5,469.7 L449.9,468.9 L449.4,469.2 L448.9,469.3 L448.3,468.9 L447.8,468.9 L447.2,468.9 L446.6,469.2 L446.1,469.3 L445.6,469.3 L445.0,468.9 L444.4,468.9 L443.9,468.9 L443.4,468.9 L442.8,469.1 L442.2,469.2 L441.7,468.9 L441.1,468.9 L440.6,469.6 L440.1,468.9 L439.5,469.4 L438.9,468.9 L438.4,468.9 L437.9,469.7 L437.3,468.9 L436.8,468.9 L436.2,468.9 L435.6,468.9 L435.1,468.9 L434.6,468.9 L434.0,468.9 L433.4,468.9 L432.9,468.9 L432.4,468.9 L431.8,468.9 L431.2,468.9 L430.7,468.9 L430.1,468.9 L429.6,468.9 L429.1,469.5 L428.5,468.9 L427.9,470.3 L427.4,468.9 L426.9,469.5 L426.3,468.9 L425.8,468.9 L425.2,468.9 L424.6,468.9 L424.1,468.9 L423.6,468.9 L423.0,468.9 L422.4,468.9 L421.9,469.1 L421.4,468.9 L420.8,468.9 L420.2,468.9 L419.7,471.0 L419.1,469.1 L418.6,468.9 L418.1,468.9 L417.5,468.9 L416.9,468.9 L416.4,468.9 L415.9,468.9 L415.3,469.2 L414.8,469.2 L414.2,468.9 L413.6,468.9 L413.1,468.9 L412.6,469.1 L412.0,468.9 L411.4,469.2 L410.9,468.9 L410.4,469.1 L409.8,469.3 L409.2,468.9 L408.7,468.9 L408.1,468.9 L407.6,469.6 L407.1,468.9 L406.5,468.9 L405.9,469.9 L405.4,470.3 L404.9,468.9 L404.3,468.9 L403.8,468.9 L403.2,468.9 L402.6,469.7 L402.1,469.4 L401.6,469.4 L401.0,469.5 L400.4,468.9 L399.9,468.9 L399.4,469.2 L398.8,468.9 L398.2,469.5 L397.7,468.9 L397.1,468.9 L396.6,469.5 L396.1,469.7 L395.5,468.9Z" fill="#2e2e2e"/>
<rect x="403.65" y="468.50" width="0.9" height="3.50" fill="#2e2e2e"/>
<rect x="514.15" y="468.50" width="0.9" height="7.40" fill="#2e2e2e"/>
<rect x="514.95" y="468.50" width="0.9" height="4.00" fill="#2e2e2e"/>
<rect x="526.55" y="468.50" width="0.9" height="3.00" fill="#2e2e2e"/>
<polygon points="395.5,468.5 395.5,467.9 396.1,467.9 396.6,467.9 397.1,467.9 397.7,467.7 398.2,467.9 398.8,467.9 399.4,467.7 399.9,467.8 400.4,467.7 401.0,467.7 401.6,467.8 402.1,467.9 402.6,467.9 403.2,467.8 403.8,467.8 404.3,467.9 404.9,467.9 405.4,467.9 405.9,467.9 406.5,467.9 407.1,467.9 407.1,468.5" fill="#ec4e22"/>
<polygon points="434.0,468.5 434.0,477.1 434.6,477.0 435.1,477.0 435.7,477.0 435.7,468.5" fill="#e9aa24"/>
<polygon points="430.7,468.5 430.7,469.3 431.2,469.3 431.8,469.5 432.4,469.5 432.9,469.5 433.4,469.5 434.0,469.3 434.6,469.5 435.1,469.4 435.6,469.4 436.2,469.4 436.8,469.4 437.3,469.4 437.3,468.5" fill="#e9aa24"/>
<path d="M395.5,494.6 L396.1,494.6 L396.6,494.6 L397.1,494.4 L397.7,493.5 L398.2,494.6 L398.8,494.6 L399.4,494.6 L399.9,494.6 L400.4,494.6 L401.0,494.6 L401.6,494.5 L402.1,494.6 L402.6,494.6 L403.2,494.6 L403.8,494.6 L404.3,493.8 L404.9,494.6 L405.4,494.6 L405.9,494.6 L406.5,494.3 L407.1,494.6 L407.6,494.6 L408.1,494.6 L408.7,494.6 L409.2,494.6 L409.8,494.6 L410.4,494.6 L410.9,494.6 L411.4,494.6 L412.0,494.6 L412.6,494.1 L413.1,494.6 L413.6,491.9 L414.2,494.6 L414.8,494.6 L415.3,494.6 L415.9,494.6 L416.4,494.6 L416.9,493.7 L417.5,494.6 L418.1,494.6 L418.6,494.6 L419.1,494.6 L419.7,494.4 L420.2,494.6 L420.8,494.6 L421.4,494.6 L421.9,494.6 L422.4,494.6 L423.0,493.0 L423.6,494.6 L424.1,494.1 L424.6,494.6 L425.2,494.6 L425.8,494.6 L426.3,494.6 L426.9,494.6 L427.4,494.6 L427.9,494.6 L428.5,494.6 L429.1,494.3 L429.6,494.6 L430.1,494.6 L430.7,494.6 L431.2,494.6 L431.8,494.6 L432.4,494.6 L432.9,493.6 L433.4,494.6 L434.0,494.3 L434.6,493.4 L435.1,494.6 L435.6,494.6 L436.2,494.6 L436.8,494.6 L437.3,494.6 L437.9,494.6 L438.4,494.6 L438.9,494.6 L439.5,494.6 L440.1,494.6 L440.6,494.6 L441.1,494.6 L441.7,494.6 L442.2,494.6 L442.8,494.6 L443.4,494.6 L443.9,494.6 L444.4,494.6 L445.0,494.6 L445.6,494.6 L446.1,494.6 L446.6,494.6 L447.2,494.6 L447.8,494.6 L448.3,494.6 L448.9,494.6 L449.4,494.5 L449.9,494.6 L450.5,494.6 L451.1,494.6 L451.6,494.6 L452.1,494.3 L452.7,494.6 L453.2,494.6 L453.8,494.6 L454.4,494.6 L454.9,494.6 L455.4,493.9 L456.0,492.5 L456.6,493.2 L457.1,494.2 L457.6,493.4 L458.2,494.6 L458.8,494.6 L459.3,494.6 L459.9,494.6 L460.4,494.4 L460.9,494.6 L461.5,494.6 L462.1,494.6 L462.6,494.6 L463.1,494.6 L463.7,494.6 L464.2,494.6 L464.8,494.6 L465.4,494.6 L465.9,494.6 L466.4,494.6 L467.0,494.6 L467.6,494.6 L468.1,494.6 L468.6,494.0 L469.2,494.6 L469.8,494.6 L470.3,494.6 L470.9,494.6 L471.4,494.6 L471.9,494.6 L472.5,494.5 L473.1,494.6 L473.6,494.5 L474.1,494.6 L474.7,494.6 L475.2,494.6 L475.8,494.6 L476.4,494.6 L476.9,494.6 L477.4,494.6 L478.0,494.5 L478.6,494.2 L479.1,494.1 L479.6,494.6 L480.2,494.6 L480.8,494.6 L481.3,494.6 L481.9,494.6 L482.4,494.4 L482.9,494.6 L483.5,494.6 L484.1,494.6 L484.6,494.6 L485.1,494.6 L485.7,494.6 L486.2,494.6 L486.8,494.6 L487.4,494.6 L487.9,494.6 L488.4,494.6 L489.0,494.6 L489.6,494.6 L490.1,494.6 L490.6,494.6 L491.2,494.6 L491.8,494.6 L492.3,494.6 L492.9,494.6 L493.4,494.6 L493.9,494.0 L494.5,493.3 L495.1,494.6 L495.6,494.6 L496.1,494.6 L496.7,494.6 L497.2,494.6 L497.8,494.6 L498.4,494.6 L498.9,494.6 L499.4,494.6 L500.0,494.6 L500.6,494.6 L501.1,494.3 L501.6,494.6 L502.2,494.6 L502.8,494.0 L503.3,494.6 L503.9,494.6 L504.4,494.6 L504.9,494.6 L505.5,494.6 L506.1,494.2 L506.6,494.6 L507.1,494.6 L507.7,494.6 L508.2,494.6 L508.8,494.6 L509.4,494.6 L509.9,494.6 L510.4,494.6 L511.0,494.6 L511.6,494.6 L512.1,494.5 L512.6,493.5 L513.2,494.1 L513.8,494.6 L514.3,494.6 L514.9,494.6 L515.4,494.4 L516.0,494.6 L516.5,494.6 L517.0,494.6 L517.6,494.5 L518.1,494.6 L518.7,494.4 L519.2,494.6 L519.8,494.6 L520.4,494.6 L520.9,494.5 L521.5,494.6 L522.0,494.6 L522.5,494.6 L523.1,494.6 L523.6,494.6 L524.2,494.6 L524.8,494.6 L525.3,494.6 L525.9,493.5 L526.4,494.6 L527.0,494.6 L527.5,494.6 L528.0,494.6 L528.6,494.6 L529.1,494.6 L529.7,494.6 L530.2,494.6 L530.8,494.6 L531.4,494.6 L531.9,494.6 L532.5,494.6 L533.0,494.6 L533.5,494.6 L534.1,494.6 L534.6,494.6 L535.2,494.6 L535.8,494.6 L536.3,494.6 L536.9,494.6 L537.4,494.6 L538.0,494.6 L538.5,494.6 L539.0,494.6 L539.6,494.6 L540.1,494.6 L540.7,494.6 L541.2,494.6 L541.8,494.6 L542.4,493.0 L542.9,494.6 L543.5,494.3 L543.5,495.4 L542.9,495.8 L542.4,495.4 L541.8,495.4 L541.2,495.4 L540.7,495.8 L540.1,496.2 L539.6,495.4 L539.0,495.6 L538.5,495.4 L538.0,495.4 L537.4,495.4 L536.9,496.2 L536.3,495.4 L535.8,495.4 L535.2,495.8 L534.6,496.2 L534.1,495.4 L533.5,495.9 L533.0,495.6 L532.5,496.1 L531.9,496.1 L531.4,495.4 L530.8,495.4 L530.2,495.4 L529.7,495.7 L529.1,495.4 L528.6,495.4 L528.0,496.1 L527.5,495.4 L527.0,495.4 L526.4,495.7 L525.9,495.4 L525.3,495.4 L524.8,495.4 L524.2,495.9 L523.6,495.4 L523.1,495.9 L522.5,495.8 L522.0,495.4 L521.5,496.0 L520.9,495.4 L520.4,496.0 L519.8,498.1 L519.2,495.4 L518.7,495.4 L518.1,495.4 L517.6,495.4 L517.0,495.4 L516.5,495.4 L516.0,495.4 L515.4,495.4 L514.9,495.4 L514.3,495.4 L513.8,495.4 L513.2,495.4 L512.6,495.4 L512.1,495.4 L511.6,495.4 L511.0,495.7 L510.4,495.6 L509.9,496.1 L509.4,495.4 L508.8,495.6 L508.2,496.0 L507.7,495.4 L507.1,495.6 L506.6,495.8 L506.1,495.4 L505.5,496.3 L504.9,495.4 L504.4,495.4 L503.9,495.4 L503.3,495.4 L502.8,495.4 L502.2,495.7 L501.6,495.7 L501.1,495.4 L500.6,495.4 L500.0,495.8 L499.4,495.4 L498.9,495.4 L498.4,495.4 L497.8,495.4 L497.2,495.4 L496.7,495.4 L496.1,495.4 L495.6,495.4 L495.1,495.4 L494.5,495.4 L493.9,495.4 L493.4,496.4 L492.9,496.0 L492.3,495.6 L491.8,495.4 L491.2,495.8 L490.6,495.6 L490.1,495.4 L489.6,495.4 L489.0,495.4 L488.4,495.4 L487.9,496.0 L487.4,495.6 L486.8,495.4 L486.2,495.8 L485.7,496.2 L485.1,496.1 L484.6,495.4 L484.1,496.1 L483.5,495.9 L482.9,495.4 L482.4,495.4 L481.9,496.1 L481.3,495.8 L480.8,495.7 L480.2,496.1 L479.6,496.1 L479.1,495.4 L478.6,495.4 L478.0,495.4 L477.4,495.8 L476.9,495.8 L476.4,496.1 L475.8,496.0 L475.2,495.4 L474.7,495.9 L474.1,495.4 L473.6,495.4 L473.1,495.4 L472.5,495.4 L471.9,495.4 L471.4,495.4 L470.9,495.4 L470.3,495.4 L469.8,495.4 L469.2,495.4 L468.6,495.4 L468.1,495.4 L467.6,495.4 L467.0,495.7 L466.4,495.4 L465.9,495.8 L465.4,495.8 L464.8,495.4 L464.2,496.0 L463.7,495.4 L463.1,495.4 L462.6,495.4 L462.1,495.6 L461.5,495.4 L460.9,495.4 L460.4,495.4 L459.9,495.4 L459.3,495.7 L458.8,495.4 L458.2,495.4 L457.6,495.4 L457.1,495.4 L456.6,495.4 L456.0,495.4 L455.4,495.4 L454.9,495.4 L454.4,495.4 L453.8,495.8 L453.2,495.6 L452.7,495.4 L452.1,495.4 L451.6,495.4 L451.1,495.6 L450.5,496.0 L449.9,495.7 L449.4,495.4 L448.9,495.4 L448.3,495.9 L447.8,495.4 L447.2,495.4 L446.6,495.9 L446.1,495.6 L445.6,495.4 L445.0,495.4 L444.4,495.4 L443.9,495.9 L443.4,495.8 L442.8,495.4 L442.2,495.4 L441.7,495.4 L441.1,495.4 L440.6,495.7 L440.1,496.2 L439.5,495.4 L438.9,495.4 L438.4,495.8 L437.9,495.4 L437.3,495.4 L436.8,495.4 L436.2,495.4 L435.6,495.4 L435.1,495.4 L434.6,495.4 L434.0,495.4 L433.4,495.4 L432.9,495.4 L432.4,495.4 L431.8,495.4 L431.2,495.4 L430.7,495.4 L430.1,496.2 L429.6,495.4 L429.1,495.4 L428.5,499.3 L427.9,495.4 L427.4,495.4 L426.9,495.4 L426.3,496.0 L425.8,495.4 L425.2,495.4 L424.6,495.9 L424.1,495.4 L423.6,495.9 L423.0,495.4 L422.4,495.4 L421.9,495.4 L421.4,495.7 L420.8,495.4 L420.2,495.4 L419.7,495.4 L419.1,495.9 L418.6,496.1 L418.1,495.8 L417.5,495.4 L416.9,495.4 L416.4,496.7 L415.9,495.4 L415.3,496.0 L414.8,496.1 L414.2,495.9 L413.6,495.4 L413.1,495.8 L412.6,495.4 L412.0,495.4 L411.4,495.4 L410.9,495.4 L410.4,495.7 L409.8,495.8 L409.2,495.4 L408.7,497.7 L408.1,495.4 L407.6,495.4 L407.1,495.4 L406.5,495.4 L405.9,495.4 L405.4,495.4 L404.9,496.1 L404.3,495.4 L403.8,496.2 L403.2,495.7 L402.6,495.4 L402.1,496.0 L401.6,495.4 L401.0,495.4 L400.4,495.7 L399.9,495.7 L399.4,496.0 L398.8,499.0 L398.2,496.1 L397.7,495.4 L397.1,495.4 L396.6,495.7 L396.1,496.0 L395.5,495.8Z" fill="#2e2e2e"/>
<rect x="493.25" y="489.60" width="0.9" height="5.40" fill="#2e2e2e"/>
<rect x="514.15" y="495.00" width="0.9" height="5.00" fill="#2e2e2e"/>
<rect x="403.55" y="495.00" width="0.9" height="3.00" fill="#2e2e2e"/>
<polygon points="395.5,495.0 395.5,488.1 396.1,489.4 396.6,489.0 397.1,488.6 397.7,488.4 398.2,488.7 398.8,487.9 399.4,489.3 399.9,487.8 400.4,489.2 401.0,489.2 401.6,488.4 402.1,488.8 402.6,488.7 403.2,487.8 403.8,489.4 404.3,489.2 404.9,488.0 405.4,489.0 405.9,489.5 406.5,489.2 407.1,488.9 407.6,487.8 408.2,487.8 408.2,495.0" fill="#ec4e22"/>
<polygon points="401.0,495.0 401.0,486.8 401.6,486.8 402.1,486.8 402.6,487.0 403.2,486.3 403.8,486.3 403.8,495.0" fill="#ec4e22"/>
<polygon points="433.4,495.0 433.4,502.5 434.0,502.4 434.6,502.5 435.1,502.5 435.1,495.0" fill="#e9aa24"/>
<polygon points="435.6,495.0 435.6,502.5 436.2,502.4 436.8,502.4 437.3,502.4 437.3,495.0" fill="#e9aa24"/>
<polygon points="430.7,495.0 430.7,496.1 431.2,495.8 431.8,496.0 432.4,495.8 432.9,496.2 433.4,496.1 434.0,496.2 434.6,496.0 435.1,496.0 435.6,496.0 436.2,496.1 436.8,496.2 437.3,495.8 437.9,495.9 438.4,495.9 438.4,495.0" fill="#e9aa24"/>
<path d="M395.5,519.6 L396.1,519.6 L396.6,519.6 L397.1,518.5 L397.7,519.6 L398.2,519.6 L398.8,519.6 L399.4,519.6 L399.9,519.6 L400.4,519.6 L401.0,519.6 L401.6,519.6 L402.1,519.6 L402.6,519.6 L403.2,519.6 L403.8,519.6 L404.3,519.3 L404.9,519.6 L405.4,519.4 L405.9,519.6 L406.5,519.6 L407.1,519.6 L407.6,519.6 L408.1,519.6 L408.7,519.6 L409.2,519.6 L409.8,519.6 L410.4,519.6 L410.9,519.6 L411.4,519.6 L412.0,519.6 L412.6,519.5 L413.1,519.0 L413.6,519.6 L414.2,519.6 L414.8,519.6 L415.3,519.6 L415.9,519.0 L416.4,519.6 L416.9,519.1 L417.5,519.6 L418.1,519.6 L418.6,519.6 L419.1,519.6 L419.7,519.4 L420.2,519.6 L420.8,519.6 L421.4,519.6 L421.9,519.6 L422.4,519.6 L423.0,519.6 L423.6,519.6 L424.1,519.6 L424.6,519.6 L425.2,519.6 L425.8,519.6 L426.3,519.6 L426.9,519.6 L427.4,519.6 L427.9,519.6 L428.5,519.6 L429.1,519.6 L429.6,519.6 L430.1,519.6 L430.7,519.6 L431.2,519.6 L431.8,518.7 L432.4,519.6 L432.9,519.1 L433.4,519.6 L434.0,519.5 L434.6,519.6 L435.1,519.6 L435.6,519.6 L436.2,519.6 L436.8,519.6 L437.3,519.6 L437.9,518.9 L438.4,519.4 L438.9,519.6 L439.5,519.6 L440.1,519.6 L440.6,519.6 L441.1,519.5 L441.7,519.6 L442.2,519.5 L442.8,519.6 L443.4,519.6 L443.9,519.6 L444.4,519.6 L445.0,519.6 L445.6,519.6 L446.1,519.6 L446.6,518.7 L447.2,519.6 L447.8,519.6 L448.3,519.6 L448.9,519.6 L449.4,519.6 L449.9,519.6 L450.5,519.6 L451.1,519.6 L451.6,519.6 L452.1,519.6 L452.7,519.6 L453.2,519.6 L453.8,519.6 L454.4,519.6 L454.9,519.5 L455.4,519.6 L456.0,519.6 L456.6,519.6 L457.1,519.6 L457.6,519.6 L458.2,519.6 L458.8,519.6 L459.3,519.6 L459.9,519.6 L460.4,519.4 L460.9,519.6 L461.5,519.6 L462.1,519.5 L462.6,519.6 L463.1,519.6 L463.7,519.6 L464.2,519.6 L464.8,519.6 L465.4,519.6 L465.9,519.6 L466.4,519.6 L467.0,519.6 L467.6,519.6 L468.1,519.6 L468.6,519.6 L469.2,519.6 L469.8,519.6 L470.3,519.4 L470.9,519.6 L471.4,519.6 L471.9,519.6 L472.5,519.6 L473.1,519.6 L473.6,519.6 L474.1,519.6 L474.7,519.6 L475.2,519.6 L475.8,519.6 L476.4,519.6 L476.9,519.6 L477.4,519.6 L478.0,519.6 L478.6,519.6 L479.1,519.1 L479.6,519.2 L480.2,519.6 L480.8,519.6 L481.3,519.6 L481.9,519.6 L482.4,519.6 L482.9,519.6 L483.5,519.6 L484.1,519.6 L484.6,519.6 L485.1,519.6 L485.7,519.6 L486.2,519.6 L486.8,519.4 L487.4,519.6 L487.9,519.6 L488.4,518.6 L489.0,519.6 L489.6,518.1 L490.1,519.6 L490.6,519.6 L491.2,519.6 L491.8,519.6 L492.3,519.6 L492.9,519.6 L493.4,519.6 L493.9,519.6 L494.5,519.6 L495.1,519.6 L495.6,519.6 L496.1,519.6 L496.7,519.6 L497.2,519.6 L497.8,519.6 L498.4,519.6 L498.9,519.6 L499.4,519.6 L500.0,519.6 L500.6,519.6 L501.1,519.6 L501.6,519.6 L502.2,519.4 L502.8,519.6 L503.3,519.6 L503.9,519.6 L504.4,519.6 L504.9,519.6 L505.5,519.6 L506.1,519.6 L506.6,519.6 L507.1,519.6 L507.7,519.6 L508.2,519.6 L508.8,519.6 L509.4,519.6 L509.9,519.6 L510.4,519.6 L511.0,519.6 L511.6,519.6 L512.1,519.6 L512.6,519.6 L513.2,519.6 L513.8,519.6 L514.3,519.6 L514.9,519.6 L515.4,519.6 L516.0,519.6 L516.5,519.0 L517.0,519.6 L517.6,519.6 L518.1,519.6 L518.7,519.6 L519.2,519.6 L519.8,519.6 L520.4,519.6 L520.9,519.4 L521.5,519.2 L522.0,519.6 L522.5,519.5 L523.1,519.6 L523.6,519.6 L524.2,519.6 L524.8,519.6 L525.3,519.6 L525.9,519.6 L526.4,519.6 L527.0,519.6 L527.5,519.6 L528.0,519.3 L528.6,519.6 L529.1,519.6 L529.7,519.6 L530.2,519.6 L530.8,519.6 L531.4,519.6 L531.9,519.6 L532.5,519.6 L533.0,519.6 L533.5,519.6 L534.1,519.6 L534.6,519.6 L535.2,519.6 L535.8,519.6 L536.3,519.6 L536.9,519.6 L537.4,519.3 L538.0,519.6 L538.5,519.2 L539.0,519.0 L539.6,519.6 L540.1,519.6 L540.7,519.6 L541.2,519.6 L541.8,519.6 L542.4,519.6 L542.9,519.6 L543.5,519.3 L543.5,520.4 L542.9,520.4 L542.4,521.0 L541.8,520.4 L541.2,521.1 L540.7,520.8 L540.1,520.4 L539.6,520.6 L539.0,520.4 L538.5,520.4 L538.0,520.7 L537.4,520.4 L536.9,521.2 L536.3,520.6 L535.8,520.4 L535.2,521.2 L534.6,520.7 L534.1,520.4 L533.5,520.8 L533.0,520.4 L532.5,520.4 L531.9,520.4 L531.4,520.8 L530.8,520.9 L530.2,521.2 L529.7,520.4 L529.1,521.5 L528.6,520.4 L528.0,520.4 L527.5,521.2 L527.0,520.4 L526.4,520.4 L525.9,520.4 L525.3,520.4 L524.8,520.4 L524.2,521.0 L523.6,520.4 L523.1,520.8 L522.5,520.4 L522.0,520.8 L521.5,520.4 L520.9,520.4 L520.4,520.4 L519.8,520.4 L519.2,521.1 L518.7,520.4 L518.1,520.8 L517.6,520.4 L517.0,520.4 L516.5,520.4 L516.0,520.4 L515.4,521.2 L514.9,520.4 L514.3,521.0 L513.8,520.4 L513.2,520.4 L512.6,520.4 L512.1,520.7 L511.6,521.2 L511.0,520.9 L510.4,520.4 L509.9,522.4 L509.4,520.4 L508.8,521.0 L508.2,520.9 L507.7,520.6 L507.1,520.8 L506.6,520.4 L506.1,520.4 L505.5,520.4 L504.9,520.4 L504.4,520.7 L503.9,520.4 L503.3,521.2 L502.8,520.4 L502.2,520.4 L501.6,521.1 L501.1,521.2 L500.6,520.6 L500.0,524.2 L499.4,520.7 L498.9,520.6 L498.4,520.4 L497.8,522.6 L497.2,521.8 L496.7,520.4 L496.1,520.6 L495.6,520.4 L495.1,521.2 L494.5,520.8 L493.9,520.7 L493.4,520.4 L492.9,520.4 L492.3,521.1 L491.8,520.4 L491.2,521.1 L490.6,520.4 L490.1,520.9 L489.6,520.4 L489.0,520.7 L488.4,520.4 L487.9,520.7 L487.4,520.4 L486.8,520.4 L486.2,521.1 L485.7,520.9 L485.1,521.2 L484.6,520.9 L484.1,520.6 L483.5,520.4 L482.9,520.4 L482.4,520.4 L481.9,520.4 L481.3,520.4 L480.8,520.4 L480.2,520.4 L479.6,520.4 L479.1,520.4 L478.6,520.4 L478.0,520.4 L477.4,520.4 L476.9,521.1 L476.4,521.1 L475.8,520.8 L475.2,520.4 L474.7,520.9 L474.1,520.7 L473.6,520.7 L473.1,520.4 L472.5,520.7 L471.9,521.2 L471.4,520.4 L470.9,521.8 L470.3,520.4 L469.8,521.2 L469.2,520.4 L468.6,520.4 L468.1,520.4 L467.6,520.8 L467.0,520.9 L466.4,520.4 L465.9,520.4 L465.4,520.4 L464.8,521.0 L464.2,520.8 L463.7,521.4 L463.1,520.6 L462.6,521.1 L462.1,520.4 L461.5,520.6 L460.9,521.2 L460.4,520.4 L459.9,521.0 L459.3,521.0 L458.8,521.1 L458.2,520.4 L457.6,523.0 L457.1,521.5 L456.6,520.8 L456.0,520.4 L455.4,520.4 L454.9,520.4 L454.4,523.3 L453.8,520.4 L453.2,520.4 L452.7,520.7 L452.1,521.0 L451.6,521.1 L451.1,520.8 L450.5,521.0 L449.9,520.4 L449.4,520.4 L448.9,520.4 L448.3,520.9 L447.8,520.4 L447.2,521.1 L446.6,520.4 L446.1,520.6 L445.6,520.4 L445.0,521.1 L444.4,520.8 L443.9,520.4 L443.4,521.1 L442.8,520.4 L442.2,520.4 L441.7,520.7 L441.1,520.4 L440.6,522.0 L440.1,520.4 L439.5,521.1 L438.9,522.0 L438.4,520.4 L437.9,520.4 L437.3,520.4 L436.8,520.4 L436.2,520.4 L435.6,520.4 L435.1,520.4 L434.6,520.4 L434.0,520.4 L433.4,520.4 L432.9,520.4 L432.4,520.4 L431.8,520.4 L431.2,520.4 L430.7,520.4 L430.1,521.0 L429.6,520.4 L429.1,520.4 L428.5,520.9 L427.9,521.1 L427.4,520.4 L426.9,520.4 L426.3,520.4 L425.8,520.4 L425.2,520.9 L424.6,520.4 L424.1,521.1 L423.6,520.6 L423.0,520.4 L422.4,520.7 L421.9,520.7 L421.4,520.4 L420.8,525.0 L420.2,520.4 L419.7,520.4 L419.1,520.4 L418.6,520.4 L418.1,520.4 L417.5,520.4 L416.9,520.4 L416.4,520.4 L415.9,520.4 L415.3,520.8 L414.8,520.6 L414.2,520.4 L413.6,520.4 L413.1,520.4 L412.6,520.4 L412.0,520.4 L411.4,520.4 L410.9,520.4 L410.4,520.4 L409.8,520.4 L409.2,520.4 L408.7,520.4 L408.1,520.6 L407.6,520.7 L407.1,521.0 L406.5,520.4 L405.9,520.4 L405.4,520.4 L404.9,520.4 L404.3,520.4 L403.8,521.0 L403.2,520.8 L402.6,520.5 L402.1,520.8 L401.6,520.4 L401.0,520.8 L400.4,521.0 L399.9,520.4 L399.4,520.7 L398.8,520.4 L398.2,520.4 L397.7,520.4 L397.1,520.4 L396.6,520.9 L396.1,520.4 L395.5,520.9Z" fill="#2e2e2e"/>
<rect x="493.25" y="514.40" width="0.9" height="5.60" fill="#2e2e2e"/>
<rect x="514.15" y="520.00" width="0.9" height="5.00" fill="#2e2e2e"/>
<rect x="403.55" y="520.00" width="0.9" height="3.00" fill="#2e2e2e"/>
<polygon points="395.5,520.0 395.5,514.0 396.1,514.5 396.6,513.4 397.1,514.3 397.7,514.5 398.2,514.5 398.8,514.2 399.4,513.9 399.9,514.0 400.4,514.4 401.0,514.1 401.6,514.6 402.1,513.9 402.6,514.6 403.2,514.7 403.8,513.6 404.3,513.9 404.9,514.3 405.4,514.0 405.9,513.7 406.5,514.1 407.1,514.1 407.6,513.7 408.2,513.7 408.2,520.0" fill="#ec4e22"/>
<polygon points="401.0,520.0 401.0,513.0 401.6,513.2 402.1,512.8 402.6,513.0 403.2,512.6 403.8,512.6 403.8,520.0" fill="#ec4e22"/>
<polygon points="433.4,520.0 433.4,529.2 434.0,529.2 434.6,529.1 435.1,529.1 435.1,520.0" fill="#e9aa24"/>
<polygon points="435.6,520.0 435.6,529.2 436.2,529.2 436.8,529.2 437.3,529.2 437.3,520.0" fill="#e9aa24"/>
<polygon points="430.7,520.0 430.7,520.9 431.2,520.9 431.8,521.0 432.4,521.2 432.9,521.0 433.4,521.0 434.0,520.9 434.6,521.0 435.1,521.0 435.6,521.0 436.2,521.1 436.8,521.1 437.3,521.2 437.9,521.2 438.4,521.2 438.4,520.0" fill="#e9aa24"/>
<line x1="552.3" y1="465.1" x2="552.3" y2="557.0" stroke="#83161c" stroke-width="1.6"/>
<polygon points="552.3,561.0 550.0999999999999,556.1 554.5,556.1" fill="#83161c"/>
<line x1="67" y1="569.2" x2="234.2" y2="569.2" stroke="#e6e6e6" stroke-width="1.6"/>
<line x1="92.4" y1="575.5" x2="92.4" y2="597" stroke="#ececec" stroke-width="0.6"/>
<line x1="92.4" y1="607.6" x2="92.4" y2="638.5" stroke="#ececec" stroke-width="0.6"/>
<line x1="104.4" y1="575.5" x2="104.4" y2="597" stroke="#ececec" stroke-width="0.6"/>
<line x1="104.4" y1="607.6" x2="104.4" y2="638.5" stroke="#ececec" stroke-width="0.6"/>
<line x1="114.6" y1="575.5" x2="114.6" y2="597" stroke="#ececec" stroke-width="0.6"/>
<line x1="114.6" y1="607.6" x2="114.6" y2="638.5" stroke="#ececec" stroke-width="0.6"/>
<line x1="124.5" y1="575.5" x2="124.5" y2="597" stroke="#ececec" stroke-width="0.6"/>
<line x1="124.5" y1="607.6" x2="124.5" y2="638.5" stroke="#ececec" stroke-width="0.6"/>
<line x1="133.6" y1="575.5" x2="133.6" y2="597" stroke="#ececec" stroke-width="0.6"/>
<line x1="133.6" y1="607.6" x2="133.6" y2="638.5" stroke="#ececec" stroke-width="0.6"/>
<line x1="142.4" y1="575.5" x2="142.4" y2="597" stroke="#ececec" stroke-width="0.6"/>
<line x1="142.4" y1="607.6" x2="142.4" y2="638.5" stroke="#ececec" stroke-width="0.6"/>
<line x1="150.8" y1="575.5" x2="150.8" y2="597" stroke="#ececec" stroke-width="0.6"/>
<line x1="150.8" y1="607.6" x2="150.8" y2="638.5" stroke="#ececec" stroke-width="0.6"/>
<line x1="158.4" y1="575.5" x2="158.4" y2="597" stroke="#ececec" stroke-width="0.6"/>
<line x1="158.4" y1="607.6" x2="158.4" y2="638.5" stroke="#ececec" stroke-width="0.6"/>
<line x1="165.8" y1="575.5" x2="165.8" y2="597" stroke="#ececec" stroke-width="0.6"/>
<line x1="165.8" y1="607.6" x2="165.8" y2="638.5" stroke="#ececec" stroke-width="0.6"/>
<line x1="172.8" y1="575.5" x2="172.8" y2="597" stroke="#ececec" stroke-width="0.6"/>
<line x1="172.8" y1="607.6" x2="172.8" y2="638.5" stroke="#ececec" stroke-width="0.6"/>
<line x1="179.4" y1="575.5" x2="179.4" y2="597" stroke="#ececec" stroke-width="0.6"/>
<line x1="179.4" y1="607.6" x2="179.4" y2="638.5" stroke="#ececec" stroke-width="0.6"/>
<line x1="186.2" y1="575.5" x2="186.2" y2="597" stroke="#ececec" stroke-width="0.6"/>
<line x1="186.2" y1="607.6" x2="186.2" y2="638.5" stroke="#ececec" stroke-width="0.6"/>
<line x1="192.3" y1="575.5" x2="192.3" y2="597" stroke="#ececec" stroke-width="0.6"/>
<line x1="192.3" y1="607.6" x2="192.3" y2="638.5" stroke="#ececec" stroke-width="0.6"/>
<line x1="197.9" y1="575.5" x2="197.9" y2="597" stroke="#ececec" stroke-width="0.6"/>
<line x1="197.9" y1="607.6" x2="197.9" y2="638.5" stroke="#ececec" stroke-width="0.6"/>
<line x1="203.7" y1="575.5" x2="203.7" y2="597" stroke="#ececec" stroke-width="0.6"/>
<line x1="203.7" y1="607.6" x2="203.7" y2="638.5" stroke="#ececec" stroke-width="0.6"/>
<line x1="208.6" y1="575.5" x2="208.6" y2="597" stroke="#ececec" stroke-width="0.6"/>
<line x1="208.6" y1="607.6" x2="208.6" y2="638.5" stroke="#ececec" stroke-width="0.6"/>
<line x1="213.1" y1="575.5" x2="213.1" y2="597" stroke="#ececec" stroke-width="0.6"/>
<line x1="213.1" y1="607.6" x2="213.1" y2="638.5" stroke="#ececec" stroke-width="0.6"/>
<line x1="217.5" y1="575.5" x2="217.5" y2="597" stroke="#ececec" stroke-width="0.6"/>
<line x1="217.5" y1="607.6" x2="217.5" y2="638.5" stroke="#ececec" stroke-width="0.6"/>
<line x1="220.7" y1="575.5" x2="220.7" y2="597" stroke="#ececec" stroke-width="0.6"/>
<line x1="220.7" y1="607.6" x2="220.7" y2="638.5" stroke="#ececec" stroke-width="0.6"/>
<line x1="224.8" y1="575.5" x2="224.8" y2="597" stroke="#ececec" stroke-width="0.6"/>
<line x1="224.8" y1="607.6" x2="224.8" y2="638.5" stroke="#ececec" stroke-width="0.6"/>
<line x1="227.1" y1="575.5" x2="227.1" y2="597" stroke="#ececec" stroke-width="0.6"/>
<line x1="227.1" y1="607.6" x2="227.1" y2="638.5" stroke="#ececec" stroke-width="0.6"/>
<rect x="90.0" y="576.5" width="4.10" height="9.9" fill="#ee5428"/>
<rect x="94.4" y="576.5" width="3.80" height="9.9" fill="#f0643a"/>
<rect x="100.8" y="576.5" width="3.20" height="9.9" fill="#ee5428"/>
<rect x="128.8" y="576.5" width="0.80" height="9.9" fill="#f7a58c"/>
<rect x="135.8" y="576.5" width="1.20" height="9.9" fill="#ec4e22"/>
<rect x="152.8" y="576.5" width="1.40" height="9.9" fill="#f2866a"/>
<rect x="191.4" y="576.5" width="0.80" height="9.9" fill="#f8b4a2"/>
<rect x="214.9" y="576.5" width="1.00" height="9.9" fill="#ec5a32"/>
<rect x="81.3" y="586.4" width="3.50" height="9.6" fill="#e9aa24"/>
<rect x="139.0" y="586.4" width="0.80" height="9.6" fill="#e9aa24"/>
<rect x="154.2" y="586.4" width="0.80" height="9.6" fill="#e9aa24"/>
<rect x="155.8" y="586.4" width="0.80" height="9.6" fill="#e9aa24"/>
<rect x="159.2" y="586.4" width="2.00" height="9.6" fill="#e9aa24"/>
<rect x="163.5" y="586.4" width="2.30" height="9.6" fill="#e9aa24"/>
<line x1="81.3" y1="574.9" x2="81.3" y2="598" stroke="#444" stroke-width="0.8"/>
<line x1="81.3" y1="586.4" x2="228.2" y2="586.4" stroke="#3a3a3a" stroke-width="0.9"/>
<line x1="81.3" y1="623.5" x2="228.5" y2="623.5" stroke="#777" stroke-width="0.7"/>
<rect x="81.3" y="623.50" width="2.20" height="3.50" fill="#d3232a"/>
<rect x="83.5" y="623.50" width="2.50" height="1.00" fill="#333333"/>
<rect x="86" y="623.50" width="2.30" height="2.50" fill="#333333"/>
<rect x="86.4" y="623.50" width="0.60" height="4.00" fill="#333333"/>
<rect x="88.3" y="623.50" width="5.80" height="2.00" fill="#333333"/>
<rect x="88.3" y="618.20" width="2.30" height="5.30" fill="#333333"/>
<rect x="90.6" y="615.90" width="3.50" height="7.60" fill="#d3232a"/>
<rect x="94.1" y="621.70" width="2.90" height="1.80" fill="#333333"/>
<rect x="97" y="622.00" width="3.00" height="1.50" fill="#d3232a"/>
<rect x="100" y="621.90" width="1.50" height="1.60" fill="#333333"/>
<rect x="101.5" y="621.90" width="2.00" height="1.60" fill="#d3232a"/>
<rect x="103.5" y="621.60" width="1.70" height="1.90" fill="#333333"/>
<rect x="105" y="623.50" width="1.00" height="2.00" fill="#333333"/>
<rect x="109" y="623.50" width="1.00" height="0.60" fill="#333333"/>
<rect x="112" y="623.50" width="1.00" height="0.60" fill="#333333"/>
<rect x="116.3" y="623.50" width="9.90" height="2.20" fill="#333333"/>
<rect x="131" y="623.50" width="1.00" height="0.80" fill="#333333"/>
<rect x="133.5" y="623.50" width="1.50" height="1.20" fill="#333333"/>
<rect x="136" y="623.50" width="1.50" height="2.50" fill="#333333"/>
<rect x="137.9" y="620.90" width="18.10" height="2.60" fill="#333333"/>
<rect x="142.0" y="623.50" width="0.80" height="4.00" fill="#333333"/>
<rect x="145.5" y="623.50" width="0.80" height="2.50" fill="#333333"/>
<rect x="148" y="623.50" width="0.80" height="3.00" fill="#333333"/>
<rect x="150.5" y="623.50" width="0.70" height="2.00" fill="#333333"/>
<rect x="152.8" y="620.30" width="1.70" height="3.20" fill="#d3232a"/>
<rect x="153.5" y="623.50" width="1.50" height="2.00" fill="#d3232a"/>
<rect x="156" y="623.50" width="2.40" height="1.50" fill="#333333"/>
<rect x="159.1" y="623.50" width="2.00" height="12.80" fill="#d3232a"/>
<rect x="161.1" y="623.50" width="2.00" height="5.00" fill="#333333"/>
<rect x="163.1" y="623.50" width="2.10" height="8.00" fill="#d3232a"/>
<rect x="165.2" y="623.50" width="1.00" height="4.50" fill="#333333"/>
<rect x="166.2" y="623.50" width="1.80" height="3.00" fill="#333333"/>
<rect x="168" y="623.50" width="1.00" height="2.00" fill="#333333"/>
<rect x="169" y="623.50" width="1.50" height="3.50" fill="#333333"/>
<rect x="170.5" y="623.50" width="2.30" height="2.50" fill="#333333"/>
<rect x="172.8" y="623.50" width="1.70" height="4.00" fill="#333333"/>
<rect x="174.5" y="623.50" width="1.30" height="7.50" fill="#333333"/>
<rect x="175.8" y="623.50" width="1.30" height="5.00" fill="#333333"/>
<rect x="177.1" y="620.30" width="3.50" height="3.20" fill="#333333"/>
<rect x="177.1" y="623.50" width="3.50" height="4.00" fill="#333333"/>
<rect x="183.4" y="623.50" width="1.40" height="2.00" fill="#333333"/>
<rect x="183" y="622.90" width="2.00" height="0.60" fill="#333333"/>
<rect x="194.2" y="621.30" width="1.90" height="2.20" fill="#333333"/>
<rect x="194.2" y="623.50" width="1.90" height="2.00" fill="#333333"/>
<rect x="199" y="623.50" width="4.70" height="2.00" fill="#333333"/>
<rect x="208.4" y="623.50" width="1.40" height="1.50" fill="#333333"/>
<rect x="210.5" y="623.50" width="4.90" height="2.00" fill="#333333"/>
<rect x="218" y="623.50" width="1.20" height="1.50" fill="#333333"/>
<rect x="225.9" y="623.50" width="2.10" height="6.00" fill="#333333"/>
<path d="M79.5,605.3 L81.3,605.3 L81.3,641.2 L79.5,641.2" fill="none" stroke="#444" stroke-width="0.7"/>
<text x="77.60" y="607.00" font-size="4.8" text-anchor="end" fill="#1c1c1c" >50</text>
<text x="77.60" y="643.00" font-size="4.8" text-anchor="end" fill="#1c1c1c" >50</text>
<g transform="translate(70.6,621.7) rotate(-90)">
<text x="0.00" y="0.00" font-size="4.9" text-anchor="middle" fill="#1c1c1c" textLength="27.00" lengthAdjust="spacingAndGlyphs" >Percentage in</text>
<text x="0.00" y="4.10" font-size="4.9" text-anchor="middle" fill="#1c1c1c" textLength="13.00" lengthAdjust="spacingAndGlyphs" >human</text>
</g>
<g fill="#000"><circle cx="62.4" cy="616.9" r="1.6"/><path d="M59.6,619.2 L65.2,619.2 L66.3,622.8 L65.4,623.1 L64.4,620.6 L64.4,626.6 L62.8,626.6 L62.8,623.2 L62.0,623.2 L62.0,626.6 L60.4,626.6 L60.4,620.6 L59.4,623.1 L58.5,622.8 Z"/></g>
<text x="84.00" y="651.40" font-size="4.4" text-anchor="middle" fill="#444" >1</text>
<text x="96.40" y="646.30" font-size="4.4" text-anchor="middle" fill="#444" >2</text>
<text x="107.50" y="651.40" font-size="4.4" text-anchor="middle" fill="#444" >3</text>
<text x="118.10" y="646.30" font-size="4.4" text-anchor="middle" fill="#444" >4</text>
<text x="127.40" y="651.40" font-size="4.4" text-anchor="middle" fill="#444" >5</text>
<text x="136.50" y="646.30" font-size="4.4" text-anchor="middle" fill="#444" >6</text>
<text x="145.20" y="651.40" font-size="4.4" text-anchor="middle" fill="#444" >7</text>
<text x="152.90" y="646.30" font-size="4.4" text-anchor="middle" fill="#444" >8</text>
<text x="160.50" y="651.40" font-size="4.4" text-anchor="middle" fill="#444" >9</text>
<text x="167.50" y="646.30" font-size="4.4" text-anchor="middle" fill="#444" >10</text>
<text x="174.50" y="651.40" font-size="4.4" text-anchor="middle" fill="#444" >11</text>
<text x="181.80" y="646.30" font-size="4.4" text-anchor="middle" fill="#444" >12</text>
<text x="188.00" y="651.40" font-size="4.4" text-anchor="middle" fill="#444" >13</text>
<text x="193.80" y="646.30" font-size="4.4" text-anchor="middle" fill="#444" >14</text>
<text x="198.80" y="651.40" font-size="4.4" text-anchor="middle" fill="#444" >15</text>
<text x="203.50" y="646.30" font-size="4.4" text-anchor="middle" fill="#444" >16</text>
<text x="207.80" y="651.40" font-size="4.4" text-anchor="middle" fill="#444" >17</text>
<text x="212.90" y="646.30" font-size="4.4" text-anchor="middle" fill="#444" >18</text>
<text x="216.60" y="651.40" font-size="4.4" text-anchor="middle" fill="#444" >19</text>
<text x="221.30" y="646.30" font-size="4.4" text-anchor="middle" fill="#444" >20</text>
<text x="223.80" y="651.40" font-size="4.4" text-anchor="middle" fill="#444" >21</text>
<text x="228.30" y="646.30" font-size="4.4" text-anchor="middle" fill="#444" >22</text>
<text x="85.20" y="529.20" font-size="3.7" fill="#ee6a45" textLength="18.40" lengthAdjust="spacingAndGlyphs" >P = 0.0158</text>
<text x="85.20" y="533.70" font-size="3.7" fill="#ee6a45" textLength="18.40" lengthAdjust="spacingAndGlyphs" >ES = 0.793</text>
<text x="115.80" y="537.40" font-size="3.7" fill="#eeb440" >NS</text>
<text x="115.80" y="541.90" font-size="3.7" fill="#eeb440" textLength="19.10" lengthAdjust="spacingAndGlyphs" >ES = −0.67</text>
</svg>
</body></html>
